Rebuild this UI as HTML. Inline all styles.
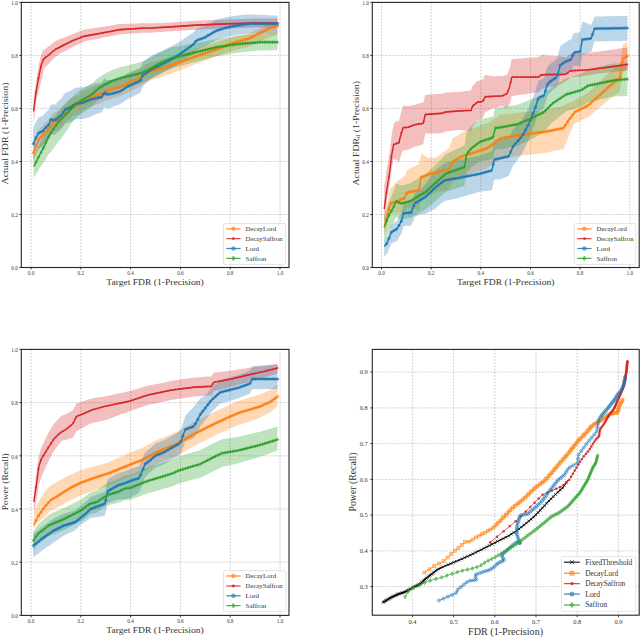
<!DOCTYPE html><html><head><meta charset="utf-8"><style>html,body{margin:0;padding:0;background:#fff;}svg{display:block;font-family:"Liberation Serif", serif;}</style></head><body><svg width="640" height="637" viewBox="0 0 640 637" font-family='"Liberation Serif", serif'>
<style>.g{stroke:#b8b8b8;stroke-width:0.7;stroke-dasharray:1.8 1.4}</style>
<rect width="640" height="637" fill="#fff"/>
<clipPath id="cTL"><rect x="21.3" y="2.4" width="267.7" height="265.1"/></clipPath>
<line x1="31" y1="2.4" x2="31" y2="267.5" class="g"/>
<line x1="80.8" y1="2.4" x2="80.8" y2="267.5" class="g"/>
<line x1="130.6" y1="2.4" x2="130.6" y2="267.5" class="g"/>
<line x1="180.4" y1="2.4" x2="180.4" y2="267.5" class="g"/>
<line x1="230.2" y1="2.4" x2="230.2" y2="267.5" class="g"/>
<line x1="280" y1="2.4" x2="280" y2="267.5" class="g"/>
<line x1="21.3" y1="267.5" x2="289" y2="267.5" class="g"/>
<line x1="21.3" y1="214.5" x2="289" y2="214.5" class="g"/>
<line x1="21.3" y1="161.5" x2="289" y2="161.5" class="g"/>
<line x1="21.3" y1="108.4" x2="289" y2="108.4" class="g"/>
<line x1="21.3" y1="55.4" x2="289" y2="55.4" class="g"/>
<line x1="21.3" y1="2.4" x2="289" y2="2.4" class="g"/>
<g clip-path="url(#cTL)">
<polygon points="33.2,143.5 33.7,142.1 34.2,140.7 34.7,139.3 35.2,137.9 35.7,136.5 36.2,135.4 36.7,134.3 37.2,133.2 37.7,132.1 38.2,131 38.7,129.9 38.8,129.6 39.2,129.2 39.7,128.7 40.2,128.1 40.7,127.6 41.2,127 41.7,126.5 42.2,125.9 42.7,125.4 43.2,124.9 43.7,124.3 43.9,124.1 44.2,123.8 44.7,123.3 45.2,122.8 45.7,122.3 46.2,121.8 46.7,121.3 47.2,120.8 47.7,120.3 48.2,119.8 48.7,119.3 49.2,118.8 49.7,118.3 50.2,117.8 50.7,116.9 51.2,115.9 51.7,114.9 52.2,113.9 52.7,112.9 53.2,112.7 53.7,112.5 54.2,112.3 54.7,112.1 55.2,111.9 55.7,111.8 56.2,111.6 56.7,111.4 57.2,111.2 57.7,111 58.2,110.6 58.7,110.1 59.2,109.7 59.7,109.3 60.2,108.8 60.7,108.4 61.2,108 61.7,107.5 62.2,107.1 62.7,106.7 63.2,106.1 63.7,105.5 64.2,104.9 64.7,104.4 65.2,103.8 65.7,103.2 66.2,102.6 66.5,102.3 66.7,102.1 67.2,101.7 67.7,101.2 68.2,100.8 68.7,100.3 69.2,99.9 69.7,99.4 70.2,99 70.7,98.5 71.2,98.1 71.7,97.6 72.2,97.2 72.7,96.7 72.8,96.6 73.2,96.6 73.7,96.5 74.2,96.4 74.7,96.3 75.2,96.2 75.7,96.1 76.2,96 76.7,95.9 77.2,95.8 77.7,95.7 78.2,95.6 78.7,95.5 79,95.4 79.2,95.2 79.7,94.7 80.2,94.2 80.7,93.7 81.2,93.2 81.7,92.7 82.2,92.1 82.7,91.6 83.1,91.2 83.2,91.2 83.7,90.9 84.2,90.7 84.7,90.5 85.2,90.2 85.7,90 86.2,89.7 86.7,89.5 87.2,89.2 87.7,89 88.2,88.8 88.7,88.5 89.2,88.3 89.4,88.2 89.7,88.1 90.2,87.9 90.7,87.7 91.2,87.5 91.7,87.3 92.2,87.1 92.7,86.9 93.2,86.7 93.7,86.5 94.2,86.3 94.7,86.1 95.2,85.9 95.7,85.7 96.2,85.6 96.7,85.4 97.2,85.3 97.7,85.1 98.2,85 98.7,84.9 99.2,84.7 99.7,84.6 100.2,84.4 100.7,84.3 101.2,84.1 101.7,84 102,83.9 102.2,83.7 102.7,83.4 103.2,83 103.7,82.7 104.2,82.3 104.5,82.1 104.7,82.1 105.2,81.9 105.7,81.8 106.2,81.6 106.7,81.5 107,81.4 107.2,81.4 107.7,81.2 108.2,81.1 108.7,80.9 109.2,80.8 109.7,80.6 110.2,80.5 110.7,80.3 111.2,80.2 111.7,80.1 112.2,79.9 112.7,79.8 113.2,79.6 113.3,79.6 113.7,79.5 114.2,79.3 114.7,79.2 115.2,79.1 115.7,78.9 116.2,78.8 116.7,78.7 117.2,78.5 117.7,78.4 118.2,78.2 118.7,78.1 119.2,78 119.7,77.8 120,77.7 120.2,77.6 120.7,77.4 121.2,77.2 121.7,76.9 122.2,76.7 122.7,76.5 123.2,76.2 123.7,76 124.2,75.8 124.7,75.5 125.2,75.3 125.7,75.1 126.2,74.8 126.7,74.6 127.2,74.3 127.7,74.1 128.2,73.9 128.7,73.7 129.2,73.5 129.7,73.2 130.2,73 130.7,72.8 131.2,72.6 131.7,72.4 132.2,72.1 132.7,71.9 133.2,71.7 133.7,71.5 134.2,71.3 134.7,71.1 135.2,70.8 135.7,70.6 136.2,70.4 136.7,70.2 137.2,70 137.7,69.8 138.2,69.5 138.7,69.3 139.2,69.1 139.7,68.9 140.2,68.7 140.3,68.6 140.7,68.3 141.2,67.8 141.7,67.4 142.2,67 142.7,66.6 143.2,66.1 143.7,65.7 144,65.4 144.2,65.4 144.7,65.1 145.2,64.9 145.7,64.6 146.2,64.4 146.7,64.1 147.2,63.9 147.7,63.7 148.2,63.4 148.7,63.2 149.2,62.9 149.7,62.7 150.2,62.5 150.3,62.4 150.7,62.3 151.2,62.2 151.7,62.1 152.2,62 152.7,61.9 153.2,61.8 153.7,61.7 154.2,61.5 154.7,61.4 155.2,61.3 155.7,61.2 156.2,61.1 156.7,61 157.2,60.9 157.7,60.8 157.8,60.7 158.2,60.6 158.7,60.5 159.2,60.4 159.7,60.2 160.2,60.1 160.7,59.9 161.2,59.8 161.7,59.7 162.2,59.5 162.7,59.4 163.2,59.3 163.7,59.1 164.2,59 164.7,58.9 165.2,58.7 165.7,58.6 166.2,58.4 166.7,58.3 167.2,58.2 167.7,58 168.2,57.9 168.7,57.8 169.2,57.6 169.7,57.5 170,57.4 170.2,57.3 170.7,57.2 171.2,57 171.7,56.8 172.2,56.7 172.7,56.5 173.2,56.3 173.7,56.2 174.2,56 174.7,55.8 175.2,55.7 175.7,55.5 176.2,55.3 176.7,55.2 177.2,55 177.7,54.8 178.2,54.7 178.7,54.5 179.2,54.3 179.7,54.2 180.2,54 180.7,53.9 181.2,53.7 181.7,53.5 182.2,53.4 182.7,53.2 183.2,53 183.7,52.9 184.2,52.7 184.7,52.5 185.2,52.4 185.7,52.2 186.2,52 186.7,51.9 187.2,51.7 187.7,51.5 188.2,51.4 188.7,51.2 189.2,51 189.7,50.9 190.2,50.7 190.7,50.5 191.2,50.4 191.7,50.2 192.2,50 192.7,49.9 193.2,49.7 193.7,49.5 194,49.4 194.2,49.4 194.7,49.2 195.2,49.1 195.7,48.9 196.2,48.7 196.7,48.6 197.2,48.4 197.7,48.3 198.2,48.1 198.7,48 199.2,47.8 199.7,47.6 200.2,47.5 200.7,47.3 201.2,47.2 201.7,47 202.2,46.8 202.7,46.7 203.2,46.5 203.7,46.4 204.2,46.2 204.7,46.1 205.2,45.9 205.7,45.7 206.2,45.6 206.7,45.4 207.2,45.3 207.7,45.1 208.2,45 208.7,44.8 209.2,44.6 209.7,44.5 210.2,44.3 210.7,44.2 211.2,44 211.7,43.9 212.2,43.7 212.7,43.5 213.2,43.4 213.7,43.2 214.2,43.1 214.7,42.9 215.2,42.8 215.7,42.6 216,42.5 216.2,42.4 216.7,42.3 217.2,42.1 217.7,41.9 218.2,41.8 218.7,41.6 219.2,41.4 219.7,41.3 220.2,41.1 220.7,41 221.2,40.8 221.7,40.6 222.2,40.5 222.7,40.3 223.2,40.1 223.7,40 224.2,39.8 224.7,39.6 225.2,39.5 225.7,39.3 226.2,39.2 226.7,39 227.2,38.8 227.7,38.7 228.2,38.5 228.7,38.3 229.2,38.2 229.7,38 230.2,37.8 230.7,37.7 231.2,37.5 231.7,37.3 232.2,37.2 232.7,37 233.2,36.9 233.5,36.8 233.7,36.7 234.2,36.6 234.7,36.5 235.2,36.4 235.7,36.2 236.2,36.1 236.7,36 237.2,35.9 237.7,35.8 238.2,35.6 238.7,35.5 239.2,35.4 239.7,35.3 240.2,35.2 240.7,35.1 241.2,34.9 241.7,34.8 242.2,34.7 242.7,34.6 243.2,34.5 243.7,34.4 244.2,34.2 244.7,34.1 245.2,34 245.7,33.9 246.2,33.8 246.7,33.7 247.2,33.5 247.7,33.4 248.2,33.3 248.7,33.2 249,33.1 249.2,33 249.7,32.8 250.2,32.6 250.7,32.3 251.2,32.1 251.7,31.9 252.2,31.7 252.7,31.4 253.2,31.2 253.7,31 254.2,30.8 254.7,30.5 255.2,30.3 255.7,30.1 256.2,29.9 256.7,29.6 257.2,29.4 257.7,29.2 258.2,29 258.7,28.7 259.2,28.5 259.7,28.3 260,28.1 260.2,28.1 260.7,27.8 261.2,27.6 261.7,27.4 262.2,27.1 262.7,26.9 263.2,26.7 263.7,26.5 264.2,26.2 264.7,26 265.2,25.8 265.7,25.5 266.2,25.3 266.7,25.1 267.2,24.9 267.7,24.6 268.2,24.4 268.7,24.2 269.2,24 269.7,23.9 270.2,23.8 270.7,23.7 271.2,23.6 271.7,23.4 272.2,23.3 272.7,23.2 273.2,23.1 273.7,22.9 274.2,22.8 274.7,22.7 275.2,22.6 275.7,22.4 276.2,22.3 276.7,22.2 277.2,22.1 277.5,22 277.5,35 277.2,35.1 276.7,35.2 276.2,35.3 275.7,35.5 275.2,35.6 274.7,35.7 274.2,35.9 273.7,36 273.2,36.1 272.7,36.3 272.2,36.4 271.7,36.5 271.2,36.7 270.7,36.8 270.2,36.9 269.7,37.1 269.2,37.2 268.7,37.3 268.2,37.6 267.7,37.8 267.2,38 266.7,38.3 266.2,38.5 265.7,38.7 265.2,39 264.7,39.2 264.2,39.4 263.7,39.7 263.2,39.9 262.7,40.2 262.2,40.4 261.7,40.6 261.2,40.9 260.7,41.1 260.2,41.3 260,41.4 259.7,41.6 259.2,41.8 258.7,42 258.2,42.3 257.7,42.5 257.2,42.7 256.7,43 256.2,43.2 255.7,43.4 255.2,43.7 254.7,43.9 254.2,44.1 253.7,44.4 253.2,44.6 252.7,44.8 252.2,45.1 251.7,45.3 251.2,45.5 250.7,45.8 250.2,46 249.7,46.2 249.2,46.5 249,46.6 248.7,46.6 248.2,46.8 247.7,46.9 247.2,47 246.7,47.2 246.2,47.3 245.7,47.4 245.2,47.5 244.7,47.7 244.2,47.8 243.7,47.9 243.2,48 242.7,48.2 242.2,48.3 241.7,48.4 241.2,48.5 240.7,48.7 240.2,48.8 239.7,48.9 239.2,49 238.7,49.2 238.2,49.3 237.7,49.4 237.2,49.5 236.7,49.7 236.2,49.8 235.7,49.9 235.2,50 234.7,50.2 234.2,50.3 233.7,50.4 233.5,50.5 233.2,50.6 232.7,50.7 232.2,50.9 231.7,51.1 231.2,51.3 230.7,51.4 230.2,51.6 229.7,51.8 229.2,52 228.7,52.1 228.2,52.3 227.7,52.5 227.2,52.6 226.7,52.8 226.2,53 225.7,53.2 225.2,53.3 224.7,53.5 224.2,53.7 223.7,53.8 223.2,54 222.7,54.2 222.2,54.4 221.7,54.5 221.2,54.7 220.7,54.9 220.2,55.1 219.7,55.2 219.2,55.4 218.7,55.6 218.2,55.7 217.7,55.9 217.2,56.1 216.7,56.3 216.2,56.4 216,56.5 215.7,56.6 215.2,56.8 214.7,57 214.2,57.2 213.7,57.4 213.2,57.6 212.7,57.7 212.2,57.9 211.7,58.1 211.2,58.3 210.7,58.5 210.2,58.7 209.7,58.9 209.2,59.1 208.7,59.2 208.2,59.4 207.7,59.6 207.2,59.8 206.7,60 206.2,60.2 205.7,60.4 205.2,60.6 204.7,60.7 204.2,60.9 203.7,61.1 203.2,61.3 202.7,61.5 202.2,61.7 201.7,61.9 201.2,62.1 200.7,62.2 200.2,62.4 199.7,62.6 199.2,62.8 198.7,63 198.2,63.2 197.7,63.4 197.2,63.6 196.7,63.8 196.2,63.9 195.7,64.1 195.2,64.3 194.7,64.5 194.2,64.7 194,64.8 193.7,64.9 193.2,65.1 192.7,65.3 192.2,65.5 191.7,65.7 191.2,65.9 190.7,66.1 190.2,66.3 189.7,66.5 189.2,66.7 188.7,66.8 188.2,67 187.7,67.2 187.2,67.4 186.7,67.6 186.2,67.8 185.7,68 185.2,68.2 184.7,68.4 184.2,68.6 183.7,68.8 183.2,69 182.7,69.2 182.2,69.4 181.7,69.6 181.2,69.8 180.7,70 180.2,70.2 179.7,70.4 179.2,70.6 178.7,70.8 178.2,71 177.7,71.2 177.2,71.4 176.7,71.6 176.2,71.8 175.7,72 175.2,72.2 174.7,72.3 174.2,72.5 173.7,72.7 173.2,72.9 172.7,73.1 172.2,73.3 171.7,73.5 171.2,73.7 170.7,73.9 170.2,74.1 170,74.2 169.7,74.3 169.2,74.5 168.7,74.6 168.2,74.8 167.7,75 167.2,75.1 166.7,75.3 166.2,75.5 165.7,75.6 165.2,75.8 164.7,76 164.2,76.1 163.7,76.3 163.2,76.5 162.7,76.6 162.2,76.8 161.7,77 161.2,77.1 160.7,77.3 160.2,77.5 159.7,77.6 159.2,77.8 158.7,78 158.2,78.1 157.8,78.3 157.7,78.3 157.2,78.4 156.7,78.6 156.2,78.7 155.7,78.9 155.2,79 154.7,79.1 154.2,79.3 153.7,79.4 153.2,79.6 152.7,79.7 152.2,79.9 151.7,80 151.2,80.1 150.7,80.3 150.3,80.4 150.2,80.4 149.7,80.7 149.2,80.9 148.7,81.2 148.2,81.4 147.7,81.7 147.2,81.9 146.7,82.2 146.2,82.4 145.7,82.7 145.2,83 144.7,83.2 144.2,83.5 144,83.6 143.7,83.8 143.2,84.3 142.7,84.7 142.2,85.1 141.7,85.6 141.2,86 140.7,86.4 140.3,86.8 140.2,86.8 139.7,87.1 139.2,87.3 138.7,87.5 138.2,87.7 137.7,88 137.2,88.2 136.7,88.4 136.2,88.6 135.7,88.9 135.2,89.1 134.7,89.3 134.2,89.5 133.7,89.8 133.2,90 132.7,90.2 132.2,90.5 131.7,90.7 131.2,90.9 130.7,91.1 130.2,91.4 129.7,91.6 129.2,91.8 128.7,92 128.2,92.3 127.7,92.5 127.2,92.7 126.7,93 126.2,93.2 125.7,93.5 125.2,93.7 124.7,94 124.2,94.2 123.7,94.4 123.2,94.7 122.7,94.9 122.2,95.2 121.7,95.4 121.2,95.7 120.7,95.9 120.2,96.2 120,96.3 119.7,96.3 119.2,96.5 118.7,96.6 118.2,96.8 117.7,96.9 117.2,97.1 116.7,97.2 116.2,97.4 115.7,97.5 115.2,97.7 114.7,97.8 114.2,98 113.7,98.1 113.3,98.2 113.2,98.2 112.7,98.4 112.2,98.6 111.7,98.7 111.2,98.9 110.7,99 110.2,99.2 109.7,99.3 109.2,99.5 108.7,99.6 108.2,99.8 107.7,100 107.2,100.1 107,100.2 106.7,100.3 106.2,100.4 105.7,100.5 105.2,100.7 104.7,100.8 104.5,100.9 104.2,101.1 103.7,101.5 103.2,101.8 102.7,102.2 102.2,102.6 102,102.7 101.7,102.8 101.2,103 100.7,103.1 100.2,103.3 99.7,103.4 99.2,103.6 98.7,103.7 98.2,103.9 97.7,104 97.2,104.2 96.7,104.4 96.2,104.5 95.7,104.7 95.2,104.9 94.7,105.1 94.2,105.3 93.7,105.5 93.2,105.7 92.7,105.9 92.2,106.1 91.7,106.3 91.2,106.5 90.7,106.7 90.2,106.9 89.7,107.1 89.4,107.2 89.2,107.3 88.7,107.6 88.2,107.8 87.7,108.1 87.2,108.3 86.7,108.6 86.2,108.8 85.7,109.1 85.2,109.3 84.7,109.6 84.2,109.8 83.7,110.1 83.2,110.3 83.1,110.4 82.7,110.8 82.2,111.3 81.7,111.8 81.2,112.3 80.7,112.9 80.2,113.4 79.7,113.9 79.2,114.4 79,114.6 78.7,114.7 78.2,114.8 77.7,114.9 77.2,115 76.7,115.1 76.2,115.2 75.7,115.3 75.2,115.4 74.7,115.5 74.2,115.7 73.7,115.8 73.2,115.9 72.8,116 72.7,116.1 72.2,116.5 71.7,117 71.2,117.4 70.7,117.9 70.2,118.3 69.7,118.8 69.2,119.2 68.7,119.7 68.2,120.2 67.7,120.6 67.2,121.1 66.7,121.5 66.5,121.7 66.2,122.1 65.7,122.6 65.2,123.2 64.7,123.8 64.2,124.4 63.7,125 63.2,125.6 62.7,126.1 62.2,126.6 61.7,127 61.2,127.5 60.7,127.9 60.2,128.4 59.7,128.8 59.2,129.3 58.7,129.7 58.2,130.1 57.7,130.6 57.2,130.8 56.7,131 56.2,131.2 55.7,131.4 55.2,131.6 54.7,131.8 54.2,131.9 53.7,132.1 53.2,132.3 52.7,132.5 52.2,133.5 51.7,134.5 51.2,135.5 50.7,136.5 50.2,137.6 49.7,138.1 49.2,138.6 48.7,139.1 48.2,139.6 47.7,140.1 47.2,140.6 46.7,141.1 46.2,141.6 45.7,142.1 45.2,142.6 44.7,143.1 44.2,143.6 43.9,143.9 43.7,144.1 43.2,144.7 42.7,145.2 42.2,145.8 41.7,146.3 41.2,146.9 40.7,147.4 40.2,148 39.7,148.6 39.2,149.1 38.8,149.6 38.7,149.8 38.2,150.9 37.7,152 37.2,153.1 36.7,154.2 36.2,155.4 35.7,156.5 35.2,157.9 34.7,159.3 34.2,160.7 33.7,162.1 33.2,163.5" fill="#ff7f0e" fill-opacity="0.3" stroke="none"/>
<polygon points="33.6,100.4 34.1,96.5 34.6,92.7 35.1,88.8 35.6,84.9 35.8,83.3 36.1,81.6 36.6,78.4 37.1,75.2 37.6,71.9 38.1,68.7 38.6,65.6 38.7,65.1 39.1,63.5 39.6,61.4 40.1,59.3 40.6,57.3 41.1,55.2 41.3,54.4 41.6,53.8 42.1,52.9 42.6,51.9 43.1,50.9 43.6,49.9 43.7,49.8 44.1,49.6 44.6,49.2 45.1,48.9 45.6,48.5 46.1,48.2 46.6,47.8 47.1,47.5 47.5,47.2 47.6,47.1 48.1,46.7 48.6,46.3 49.1,45.9 49.6,45.5 50.1,45.2 50.6,44.8 51.1,44.4 51.6,44 52.1,43.6 52.6,43.2 53.1,42.8 53.6,42.4 54.1,42 54.6,41.6 55.1,41.2 55.2,41.2 55.6,41 56.1,40.7 56.6,40.5 57.1,40.3 57.6,40.1 58.1,39.8 58.6,39.6 59.1,39.4 59.6,39.2 60.1,38.9 60.6,38.7 61.1,38.5 61.6,38.3 62.1,38.1 62.6,37.9 63.1,37.8 63.6,37.6 64,37.4 64.1,37.4 64.6,37.2 65.1,37 65.6,36.9 66.1,36.7 66.6,36.5 67.1,36.3 67.6,36.2 68.1,36 68.6,35.8 69.1,35.6 69.6,35.5 70.1,35.3 70.6,35 71.1,34.8 71.6,34.6 72.1,34.3 72.6,34.1 72.7,34 73.1,33.9 73.6,33.7 74.1,33.5 74.6,33.3 75.1,33.1 75.6,32.9 76.1,32.7 76.6,32.5 77.1,32.3 77.6,32.1 78.1,31.9 78.6,31.7 79.1,31.5 79.6,31.3 80.1,31.2 80.6,31 81.1,30.8 81.6,30.6 82.1,30.4 82.6,30.2 83.1,30 83.6,29.8 83.7,29.8 84.1,29.7 84.6,29.6 85.1,29.5 85.6,29.4 86.1,29.4 86.6,29.3 87.1,29.2 87.6,29.1 88.1,29 88.6,29 89.1,28.9 89.6,28.8 90.1,28.8 90.6,28.7 91.1,28.6 91.6,28.5 92.1,28.5 92.6,28.4 93.1,28.3 93.6,28.2 94.1,28.2 94.6,28.1 95.1,28 95.6,28 96.1,27.9 96.6,27.8 97,27.8 97.1,27.7 97.6,27.7 98.1,27.6 98.6,27.5 99.1,27.4 99.6,27.3 100.1,27.2 100.6,27.2 101.1,27.1 101.6,27 102.1,26.9 102.6,26.8 103.1,26.8 103.6,26.7 104.1,26.6 104.6,26.5 105.1,26.4 105.6,26.3 106.1,26.3 106.6,26.2 107.1,26.1 107.6,26 108,26 108.1,25.9 108.6,25.9 109.1,25.8 109.6,25.7 110.1,25.6 110.6,25.5 111.1,25.4 111.6,25.3 112.1,25.2 112.6,25.2 113.1,25.1 113.6,25 114.1,24.9 114.6,24.8 115.1,24.7 115.6,24.6 116.1,24.6 116.6,24.5 117.1,24.4 117.6,24.3 118.1,24.2 118.6,24.1 119,24.1 119.1,24.1 119.6,24 120.1,24 120.6,24 121.1,24 121.6,24 122.1,23.9 122.6,23.9 123.1,23.9 123.6,23.9 124.1,23.9 124.6,23.9 125.1,23.8 125.6,23.8 126.1,23.8 126.6,23.8 127.1,23.8 127.6,23.8 128.1,23.7 128.6,23.7 129.1,23.7 129.6,23.7 130,23.7 130.1,23.7 130.6,23.6 131.1,23.6 131.6,23.6 132.1,23.6 132.6,23.6 133.1,23.5 133.6,23.5 134.1,23.5 134.6,23.5 135.1,23.5 135.6,23.4 136.1,23.4 136.6,23.4 137.1,23.4 137.6,23.4 138.1,23.3 138.6,23.3 139.1,23.3 139.6,23.3 140.1,23.2 140.6,23.2 141.1,23.2 141.6,23.2 142.1,23.2 142.6,23.1 143,23.1 143.1,23.1 143.6,23.1 144.1,23.2 144.6,23.2 145.1,23.2 145.6,23.2 146.1,23.2 146.6,23.2 147.1,23.2 147.6,23.3 148.1,23.3 148.6,23.3 149.1,23.3 149.6,23.3 150,23.3 150.1,23.3 150.6,23.3 151.1,23.3 151.6,23.3 152.1,23.3 152.6,23.2 153.1,23.2 153.6,23.2 154.1,23.2 154.6,23.2 155.1,23.2 155.6,23.1 156.1,23.1 156.6,23.1 157.1,23.1 157.6,23.1 158.1,23.1 158.6,23.1 159.1,23 159.6,23 160.1,23 160.6,23 161.1,22.9 161.6,22.9 162.1,22.9 162.6,22.9 163.1,22.8 163.6,22.8 164.1,22.8 164.6,22.7 165.1,22.7 165.6,22.7 166.1,22.7 166.6,22.6 167.1,22.6 167.6,22.6 168.1,22.5 168.6,22.5 169.1,22.5 169.6,22.4 170.1,22.4 170.6,22.4 171.1,22.4 171.6,22.3 172,22.3 172.1,22.3 172.6,22.3 173.1,22.2 173.6,22.2 174.1,22.2 174.6,22.1 175.1,22.1 175.6,22.1 176.1,22 176.6,22 177.1,22 177.6,21.9 178.1,21.9 178.6,21.9 179.1,21.8 179.6,21.8 180.1,21.8 180.6,21.7 181.1,21.7 181.6,21.7 182.1,21.6 182.6,21.6 183.1,21.6 183.6,21.5 184.1,21.5 184.6,21.5 185.1,21.4 185.6,21.4 186.1,21.4 186.6,21.3 187.1,21.3 187.6,21.3 188.1,21.2 188.6,21.2 189.1,21.2 189.6,21.1 190.1,21.1 190.6,21.1 191.1,21 191.6,21 192.1,21 192.6,20.9 193.1,20.9 193.6,20.9 194,20.8 194.1,20.8 194.6,20.8 195.1,20.8 195.6,20.8 196.1,20.7 196.6,20.7 197.1,20.7 197.6,20.7 198.1,20.6 198.6,20.6 199.1,20.6 199.6,20.6 200.1,20.5 200.6,20.5 201.1,20.5 201.6,20.5 202.1,20.4 202.6,20.4 203.1,20.4 203.6,20.4 204.1,20.3 204.6,20.3 205.1,20.3 205.6,20.3 206.1,20.2 206.6,20.2 207.1,20.2 207.6,20.2 208.1,20.1 208.6,20.1 209.1,20.1 209.6,20.1 210.1,20 210.6,20 211.1,20 211.6,20 212.1,19.9 212.6,19.9 213.1,19.9 213.6,19.9 214.1,19.8 214.6,19.8 215.1,19.8 215.6,19.8 216,19.7 216.1,19.7 216.6,19.7 217.1,19.7 217.6,19.7 218.1,19.7 218.6,19.7 219.1,19.7 219.6,19.6 220.1,19.6 220.6,19.6 221.1,19.6 221.6,19.6 222.1,19.6 222.6,19.5 223.1,19.5 223.6,19.5 224.1,19.5 224.6,19.5 225.1,19.5 225.6,19.5 226.1,19.4 226.6,19.4 227.1,19.4 227.6,19.4 228.1,19.4 228.6,19.4 229.1,19.3 229.6,19.3 230.1,19.3 230.6,19.3 231.1,19.3 231.6,19.3 232.1,19.2 232.6,19.2 233.1,19.2 233.6,19.2 234.1,19.2 234.6,19.2 235.1,19.2 235.6,19.1 236.1,19.1 236.6,19.1 237.1,19.1 237.6,19.1 238,19.1 238.1,19.1 238.6,19.1 239.1,19 239.6,19 240.1,19 240.6,19 241.1,19 241.6,19 242.1,19 242.6,18.9 243.1,18.9 243.6,18.9 244.1,18.9 244.6,18.9 245.1,18.9 245.6,18.9 246.1,18.9 246.6,18.8 247.1,18.8 247.6,18.8 248.1,18.8 248.6,18.8 249.1,18.8 249.6,18.8 250.1,18.7 250.6,18.7 251.1,18.7 251.6,18.7 252.1,18.7 252.6,18.7 253.1,18.7 253.6,18.7 254.1,18.6 254.6,18.6 255.1,18.6 255.6,18.6 256.1,18.6 256.6,18.6 257.1,18.6 257.6,18.5 258.1,18.5 258.6,18.5 259.1,18.5 259.6,18.5 260,18.5 260.1,18.5 260.6,18.5 261.1,18.5 261.6,18.5 262.1,18.5 262.6,18.5 263.1,18.5 263.6,18.5 264.1,18.5 264.6,18.5 265.1,18.5 265.6,18.5 266.1,18.5 266.6,18.5 267.1,18.5 267.6,18.5 268.1,18.5 268.6,18.5 269.1,18.5 269.6,18.5 270.1,18.5 270.6,18.5 271.1,18.5 271.6,18.5 272.1,18.5 272.6,18.5 273.1,18.5 273.6,18.5 274.1,18.5 274.6,18.5 275.1,18.5 275.6,18.5 276.1,18.5 276.6,18.5 277.1,18.5 277.5,18.5 277.5,27.5 277.1,27.5 276.6,27.5 276.1,27.5 275.6,27.5 275.1,27.5 274.6,27.5 274.1,27.5 273.6,27.5 273.1,27.5 272.6,27.5 272.1,27.5 271.6,27.5 271.1,27.5 270.6,27.5 270.1,27.5 269.6,27.5 269.1,27.5 268.6,27.5 268.1,27.5 267.6,27.5 267.1,27.5 266.6,27.5 266.1,27.5 265.6,27.5 265.1,27.5 264.6,27.5 264.1,27.5 263.6,27.5 263.1,27.5 262.6,27.5 262.1,27.5 261.6,27.5 261.1,27.5 260.6,27.5 260.1,27.5 260,27.5 259.6,27.5 259.1,27.5 258.6,27.5 258.1,27.5 257.6,27.5 257.1,27.6 256.6,27.6 256.1,27.6 255.6,27.6 255.1,27.6 254.6,27.6 254.1,27.6 253.6,27.7 253.1,27.7 252.6,27.7 252.1,27.7 251.6,27.7 251.1,27.7 250.6,27.7 250.1,27.7 249.6,27.8 249.1,27.8 248.6,27.8 248.1,27.8 247.6,27.8 247.1,27.8 246.6,27.8 246.1,27.9 245.6,27.9 245.1,27.9 244.6,27.9 244.1,27.9 243.6,27.9 243.1,27.9 242.6,27.9 242.1,28 241.6,28 241.1,28 240.6,28 240.1,28 239.6,28 239.1,28 238.6,28.1 238.1,28.1 238,28.1 237.6,28.1 237.1,28.1 236.6,28.1 236.1,28.1 235.6,28.1 235.1,28.2 234.6,28.2 234.1,28.2 233.6,28.2 233.1,28.2 232.6,28.2 232.1,28.2 231.6,28.3 231.1,28.3 230.6,28.3 230.1,28.3 229.6,28.3 229.1,28.3 228.6,28.4 228.1,28.4 227.6,28.4 227.1,28.4 226.6,28.4 226.1,28.4 225.6,28.5 225.1,28.5 224.6,28.5 224.1,28.5 223.6,28.5 223.1,28.5 222.6,28.5 222.1,28.6 221.6,28.6 221.1,28.6 220.6,28.6 220.1,28.6 219.6,28.6 219.1,28.7 218.6,28.7 218.1,28.7 217.6,28.7 217.1,28.7 216.6,28.7 216.1,28.7 216,28.7 215.6,28.8 215.1,28.8 214.6,28.8 214.1,28.8 213.6,28.9 213.1,28.9 212.6,28.9 212.1,28.9 211.6,29 211.1,29 210.6,29 210.1,29 209.6,29.1 209.1,29.1 208.6,29.1 208.1,29.1 207.6,29.2 207.1,29.2 206.6,29.2 206.1,29.2 205.6,29.3 205.1,29.3 204.6,29.3 204.1,29.3 203.6,29.4 203.1,29.4 202.6,29.4 202.1,29.4 201.6,29.5 201.1,29.5 200.6,29.5 200.1,29.5 199.6,29.6 199.1,29.6 198.6,29.6 198.1,29.6 197.6,29.7 197.1,29.7 196.6,29.7 196.1,29.7 195.6,29.8 195.1,29.8 194.6,29.8 194.1,29.8 194,29.8 193.6,29.9 193.1,29.9 192.6,29.9 192.1,30 191.6,30 191.1,30 190.6,30.1 190.1,30.1 189.6,30.1 189.1,30.2 188.6,30.2 188.1,30.2 187.6,30.3 187.1,30.3 186.6,30.3 186.1,30.4 185.6,30.4 185.1,30.4 184.6,30.5 184.1,30.5 183.6,30.5 183.1,30.6 182.6,30.6 182.1,30.6 181.6,30.7 181.1,30.7 180.6,30.7 180.1,30.8 179.6,30.8 179.1,30.8 178.6,30.9 178.1,30.9 177.6,30.9 177.1,31 176.6,31 176.1,31 175.6,31.1 175.1,31.1 174.6,31.1 174.1,31.2 173.6,31.2 173.1,31.2 172.6,31.3 172.1,31.3 172,31.3 171.6,31.3 171.1,31.4 170.6,31.4 170.1,31.4 169.6,31.4 169.1,31.5 168.6,31.5 168.1,31.5 167.6,31.6 167.1,31.6 166.6,31.6 166.1,31.7 165.6,31.7 165.1,31.7 164.6,31.7 164.1,31.8 163.6,31.8 163.1,31.8 162.6,31.9 162.1,31.9 161.6,31.9 161.1,31.9 160.6,32 160.1,32 159.6,32 159.1,32.1 158.6,32.1 158.1,32.1 157.6,32.2 157.1,32.2 156.6,32.2 156.1,32.3 155.6,32.3 155.1,32.3 154.6,32.4 154.1,32.4 153.6,32.4 153.1,32.5 152.6,32.5 152.1,32.5 151.6,32.6 151.1,32.6 150.6,32.6 150.1,32.7 150,32.7 149.6,32.7 149.1,32.7 148.6,32.7 148.1,32.7 147.6,32.7 147.1,32.7 146.6,32.7 146.1,32.7 145.6,32.7 145.1,32.7 144.6,32.7 144.1,32.7 143.6,32.7 143.1,32.7 143,32.7 142.6,32.7 142.1,32.8 141.6,32.8 141.1,32.9 140.6,32.9 140.1,32.9 139.6,33 139.1,33 138.6,33.1 138.1,33.1 137.6,33.1 137.1,33.2 136.6,33.2 136.1,33.2 135.6,33.3 135.1,33.3 134.6,33.4 134.1,33.4 133.6,33.4 133.1,33.5 132.6,33.5 132.1,33.5 131.6,33.6 131.1,33.6 130.6,33.7 130.1,33.7 130,33.7 129.6,33.7 129.1,33.8 128.6,33.8 128.1,33.8 127.6,33.9 127.1,33.9 126.6,33.9 126.1,34 125.6,34 125.1,34.1 124.6,34.1 124.1,34.1 123.6,34.2 123.1,34.2 122.6,34.2 122.1,34.3 121.6,34.3 121.1,34.3 120.6,34.4 120.1,34.4 119.6,34.4 119.1,34.5 119,34.5 118.6,34.6 118.1,34.7 117.6,34.8 117.1,34.9 116.6,35 116.1,35.1 115.6,35.2 115.1,35.3 114.6,35.4 114.1,35.5 113.6,35.6 113.1,35.7 112.6,35.8 112.1,35.9 111.6,36 111.1,36.1 110.6,36.2 110.1,36.3 109.6,36.4 109.1,36.5 108.6,36.6 108.1,36.7 108,36.8 107.6,36.8 107.1,36.9 106.6,37 106.1,37.1 105.6,37.2 105.1,37.3 104.6,37.4 104.1,37.5 103.6,37.6 103.1,37.7 102.6,37.8 102.1,37.9 101.6,38 101.1,38.1 100.6,38.2 100.1,38.3 99.6,38.4 99.1,38.5 98.6,38.6 98.1,38.7 97.6,38.8 97.1,38.9 97,38.9 96.6,39 96.1,39.1 95.6,39.2 95.1,39.3 94.6,39.4 94.1,39.5 93.6,39.5 93.1,39.6 92.6,39.7 92.1,39.8 91.6,39.9 91.1,40 90.6,40.1 90.1,40.2 89.6,40.3 89.1,40.4 88.6,40.4 88.1,40.5 87.6,40.7 87.1,40.8 86.6,40.9 86.1,41 85.6,41.2 85.1,41.3 84.6,41.4 84.1,41.6 83.7,41.7 83.6,41.7 83.1,41.9 82.6,42.2 82.1,42.4 81.6,42.7 81.1,42.9 80.6,43.2 80.1,43.4 79.6,43.6 79.1,43.9 78.6,44.1 78.1,44.4 77.6,44.6 77.1,44.8 76.6,45.1 76.1,45.3 75.6,45.6 75.1,45.8 74.6,46.1 74.1,46.3 73.6,46.5 73.1,46.8 72.7,47 72.6,47 72.1,47.3 71.6,47.6 71.1,47.9 70.6,48.2 70.1,48.5 69.6,48.7 69.1,49 68.6,49.2 68.1,49.5 67.6,49.7 67.1,50 66.6,50.2 66.1,50.5 65.6,50.7 65.1,51 64.6,51.2 64.1,51.5 64,51.5 63.6,51.7 63.1,52 62.6,52.2 62.1,52.5 61.6,52.7 61.1,53 60.6,53.3 60.1,53.7 59.6,54 59.1,54.4 58.6,54.7 58.1,55.1 57.6,55.4 57.1,55.8 56.6,56.1 56.1,56.5 55.6,56.8 55.2,57.1 55.1,57.2 54.6,57.7 54.1,58.2 53.6,58.8 53.1,59.3 52.6,59.8 52.1,60.3 51.6,60.8 51.1,61.3 50.6,61.9 50.1,62.4 49.6,62.9 49.1,63.5 48.6,64 48.1,64.6 47.6,65.1 47.5,65.2 47.1,65.6 46.6,66.1 46.1,66.6 45.6,67.1 45.1,67.6 44.6,68.1 44.1,68.6 43.7,69.8 43.6,70.3 43.1,73.1 42.6,75.8 42.1,78.5 41.6,79.8 41.3,80.4 41.1,81.2 40.6,83.3 40.1,85.3 39.6,87.4 39.1,89.5 38.7,91.1 38.6,91.6 38.1,93.8 37.6,95.8 37.1,97.8 36.6,99.8 36.1,101.9 35.8,103.6 35.6,105.5 35.1,110.2 34.6,114.9 34.1,119.6 33.6,124.3" fill="#d62728" fill-opacity="0.3" stroke="none"/>
<polygon points="33.2,128.5 33.7,127.2 34.2,126 34.7,124.7 35.2,123.4 35.7,122.2 36.2,121.3 36.7,120.5 37.2,119.7 37.7,118.9 38.2,118 38.7,117.2 38.8,117 39.2,116.9 39.7,116.8 40.2,116.7 40.7,116.6 41.2,116.4 41.7,116.3 42.2,116.2 42.6,116.1 42.7,115.9 43.2,115.3 43.7,114.7 44.2,114 44.7,113.4 45,113 45.2,112.8 45.7,112.4 46.2,111.9 46.7,111.5 47.2,111 47.7,110.6 48.2,110.2 48.7,109.7 49,109.4 49.2,108.9 49.7,107.5 50.2,106.1 50.7,104.7 50.8,104.4 51.2,104.4 51.7,104.4 52.2,104.4 52.7,104.4 53.2,104.4 53.7,104.4 54.2,104.4 54.7,104.4 55.2,104.4 55.7,103.9 56.2,103.4 56.7,102.9 57.2,102.4 57.7,102 58.2,101.5 58.7,101 59.2,100.5 59.7,100 60.2,99.5 60.7,99 61.2,98.5 61.5,98.2 61.7,97.9 62.2,97.1 62.7,96.3 63.2,95.5 63.7,94.8 64.2,94.1 64.7,93.4 65.2,92.7 65.7,92.5 66.2,92.4 66.7,92.2 67.2,92.1 67.7,91.9 68.2,91.7 68.7,91.6 69.2,91.4 69.7,91.3 70.2,91.1 70.7,90.8 71.2,90.5 71.7,90.1 72.2,89.8 72.7,89.5 73.2,89.1 73.7,88.8 74.2,88.4 74.7,88.1 75.2,87.8 75.3,87.7 75.7,87.7 76.2,87.7 76.7,87.6 77.2,87.6 77.7,87.6 78.2,87.5 78.7,87.5 79.2,87.5 79.7,87.4 80.2,87.4 80.7,87.3 81.2,87.3 81.7,87.3 82.2,87.2 82.7,87.2 83.1,87.2 83.2,87.2 83.7,87 84.2,86.8 84.7,86.7 85.2,86.5 85.7,86.3 86.2,86.2 86.7,86 87.2,85.9 87.7,85.7 88.2,85.5 88.7,85.4 89.2,85.2 89.7,85 90.2,84.9 90.7,84.7 91.2,84.5 91.7,84.3 92.2,84.1 92.6,84 92.7,84 93.2,83.9 93.7,83.8 94.2,83.7 94.7,83.7 95.2,83.6 95.7,83.5 96.2,83.4 96.7,83.3 97.2,83.3 97.7,83.2 98.2,83.1 98.7,83 99.2,82.9 99.7,82.9 100.2,82.8 100.7,82.7 101.2,82.6 101.7,82.5 102,82.5 102.2,82.1 102.7,81.1 103.2,80.1 103.7,79.1 104.2,78.2 104.5,77.6 104.7,77.9 105.2,78.5 105.7,79.2 106.2,79.9 106.4,80.2 106.7,80.1 107.2,80.1 107.7,80.1 108.2,80 108.7,80 109.2,79.9 109.7,79.9 110.2,79.9 110.7,79.8 111.2,79.8 111.4,79.8 111.7,79.7 112.2,79.6 112.7,79.4 113.2,79.3 113.7,79.2 114.2,79.1 114.7,78.9 115.2,78.8 115.7,78.7 116.2,78.6 116.7,78.4 117.2,78.3 117.7,78.2 118.2,78.1 118.7,77.9 119.2,77.8 119.7,77.7 120,77.6 120.2,77.5 120.7,77.2 121.2,76.9 121.7,76.6 122.2,76.3 122.7,76 123.2,75.7 123.7,75.4 124.2,75.1 124.7,74.8 125.2,74.5 125.7,74.2 126.2,73.9 126.7,73.6 127.2,73.3 127.7,73 128.2,72.8 128.7,72.6 129.2,72.4 129.7,72.2 130.2,72 130.7,71.8 131.2,71.6 131.7,71.4 132.2,71.2 132.7,70.9 133.2,70.7 133.7,70.5 134.2,70.3 134.7,70.1 135.2,69.9 135.7,69.7 136.2,69.5 136.7,69.3 137.2,69.1 137.7,68.9 138.2,68.7 138.7,68.5 139.2,68.3 139.7,68.1 140.2,67.8 140.3,67.8 140.7,66.8 141.2,65.7 141.7,64.5 142.2,63.3 142.7,62.2 142.8,61.9 143.2,61.6 143.7,61.2 144.2,60.8 144.7,60.5 145.2,60.1 145.7,59.7 146.2,59.3 146.7,58.9 147.2,58.5 147.7,58.2 148.2,57.8 148.7,57.4 149.2,57 149.7,56.6 150.2,56.3 150.3,56.2 150.7,56 151.2,55.8 151.7,55.6 152.2,55.3 152.7,55.1 153.2,54.9 153.7,54.7 154.2,54.4 154.7,54.2 155.2,54 155.7,53.7 156.2,53.5 156.7,53.3 157.2,53 157.7,52.8 158.2,52.6 158.7,52.4 159.2,52.1 159.7,51.9 160.2,51.7 160.4,51.6 160.7,51.4 161.2,51.2 161.7,50.9 162.2,50.7 162.7,50.5 163.2,50.2 163.7,50 164.2,49.7 164.7,49.5 165.2,49.2 165.7,49 166.2,48.8 166.7,48.5 167.2,48.3 167.7,48 168.2,47.8 168.7,47.5 169.2,47.3 169.7,47.1 170,46.9 170.2,46.8 170.7,46.5 171.2,46.3 171.7,46 172.2,45.7 172.7,45.5 173.2,45.2 173.7,44.9 174.2,44.7 174.7,44.4 175.2,44.1 175.7,43.9 176.2,43.6 176.7,43.3 177.2,43.1 177.7,42.8 178.2,42.5 178.6,42.3 178.7,42.2 179.2,41.9 179.7,41.6 180.2,41.2 180.7,40.9 181.2,40.6 181.7,40.2 182.2,39.9 182.7,39.6 183.2,39.2 183.7,38.9 184.2,38.6 184.7,38.2 185.2,37.9 185.7,37.6 186.2,37.2 186.7,36.9 187.2,36.5 187.7,36.2 188.2,35.9 188.7,35.5 189.2,35.2 189.7,34.9 190.2,34.5 190.7,34.2 191.2,33.9 191.7,33.5 192.2,33.2 192.7,32.9 193.2,32.5 193.7,32.2 194,32 194.2,31.7 194.7,30.9 195.2,30.1 195.7,29.3 196,28.8 196.2,28.7 196.7,28.6 197.2,28.4 197.7,28.3 198.2,28.1 198.7,27.9 199.2,27.8 199.7,27.6 200.2,27.5 200.7,27.3 201.2,27.1 201.7,27 202.2,26.8 202.7,26.7 203.2,26.5 203.7,26.3 204.2,26.2 204.7,26 205,25.9 205.2,25.8 205.7,25.5 206.2,25.3 206.7,25 207.2,24.7 207.7,24.4 208.2,24.2 208.7,23.9 209.2,23.6 209.7,23.3 210.2,23.1 210.7,22.8 211.2,22.5 211.7,22.2 212.2,22 212.7,21.7 213.2,21.4 213.7,21.1 214.2,20.8 214.7,20.6 215.2,20.3 215.7,20 216,19.9 216.2,19.8 216.7,19.7 217.2,19.6 217.7,19.4 218.2,19.3 218.7,19.2 219.2,19 219.7,18.9 220.2,18.8 220.7,18.7 221.2,18.5 221.7,18.4 222.2,18.3 222.7,18.2 223.2,18 223.7,17.9 224.2,17.8 224.7,17.7 225.2,17.5 225.7,17.4 226.2,17.3 226.7,17.2 227,17.1 227.2,17.1 227.7,17 228.2,16.9 228.7,16.8 229.2,16.7 229.7,16.7 230.2,16.6 230.7,16.5 231.2,16.4 231.7,16.4 232.2,16.3 232.7,16.2 233.2,16.1 233.7,16.1 234.2,16 234.7,15.9 235.2,15.8 235.7,15.8 236.2,15.7 236.7,15.6 237.2,15.5 237.7,15.5 238,15.4 238.2,15.4 238.7,15.3 239.2,15.3 239.7,15.2 240.2,15.2 240.7,15.1 241.2,15.1 241.7,15 242.2,15 242.7,14.9 243.2,14.9 243.7,14.9 244.2,14.8 244.7,14.8 245.2,14.7 245.7,14.7 246.2,14.6 246.7,14.6 247.2,14.5 247.7,14.5 248.2,14.4 248.7,14.4 249,14.3 249.2,14.3 249.7,14.4 250.2,14.4 250.7,14.4 251.2,14.4 251.7,14.5 252.2,14.5 252.7,14.5 253.2,14.5 253.7,14.6 254.2,14.6 254.7,14.6 255.2,14.6 255.7,14.7 256.2,14.7 256.7,14.7 257.2,14.7 257.7,14.8 258.2,14.8 258.7,14.8 259.2,14.8 259.7,14.8 260.2,14.9 260.7,14.9 261.2,14.9 261.7,14.9 262.2,15 262.7,15 263.2,15 263.7,15 264.2,15.1 264.7,15.1 265.2,15.1 265.7,15.1 266.2,15.2 266.7,15.2 267.2,15.2 267.7,15.2 268.2,15.3 268.7,15.3 269.2,15.3 269.7,15.3 270.2,15.4 270.7,15.4 271.2,15.4 271.7,15.4 272.2,15.4 272.7,15.5 273.2,15.5 273.7,15.5 274.2,15.5 274.7,15.6 275.2,15.6 275.7,15.6 276.2,15.6 276.7,15.7 277.2,15.7 277.5,15.7 277.5,33.7 277.2,33.7 276.7,33.7 276.2,33.7 275.7,33.7 275.2,33.7 274.7,33.7 274.2,33.7 273.7,33.7 273.2,33.6 272.7,33.6 272.2,33.6 271.7,33.6 271.2,33.6 270.7,33.6 270.2,33.6 269.7,33.6 269.2,33.6 268.7,33.6 268.2,33.6 267.7,33.6 267.2,33.6 266.7,33.6 266.2,33.6 265.7,33.6 265.2,33.6 264.7,33.5 264.2,33.5 263.7,33.5 263.2,33.5 262.7,33.5 262.2,33.5 261.7,33.5 261.2,33.5 260.7,33.5 260.2,33.5 259.7,33.5 259.2,33.5 258.7,33.5 258.2,33.5 257.7,33.5 257.2,33.5 256.7,33.5 256.2,33.4 255.7,33.4 255.2,33.4 254.7,33.4 254.2,33.4 253.7,33.4 253.2,33.4 252.7,33.4 252.2,33.4 251.7,33.4 251.2,33.4 250.7,33.4 250.2,33.4 249.7,33.4 249.2,33.4 249,33.4 248.7,33.4 248.2,33.5 247.7,33.5 247.2,33.6 246.7,33.7 246.2,33.7 245.7,33.8 245.2,33.9 244.7,33.9 244.2,34 243.7,34.1 243.2,34.1 242.7,34.2 242.2,34.3 241.7,34.3 241.2,34.4 240.7,34.5 240.2,34.5 239.7,34.6 239.2,34.7 238.7,34.7 238.2,34.8 238,34.8 237.7,34.9 237.2,35 236.7,35.1 236.2,35.2 235.7,35.3 235.2,35.4 234.7,35.4 234.2,35.5 233.7,35.6 233.2,35.7 232.7,35.8 232.2,35.9 231.7,36 231.2,36.1 230.7,36.2 230.2,36.3 229.7,36.4 229.2,36.5 228.7,36.6 228.2,36.7 227.7,36.8 227.2,36.9 227,36.9 226.7,37 226.2,37.1 225.7,37.3 225.2,37.4 224.7,37.6 224.2,37.7 223.7,37.8 223.2,38 222.7,38.1 222.2,38.3 221.7,38.4 221.2,38.6 220.7,38.7 220.2,38.9 219.7,39 219.2,39.1 218.7,39.3 218.2,39.4 217.7,39.6 217.2,39.7 216.7,39.9 216.2,40 216,40.1 215.7,40.2 215.2,40.5 214.7,40.8 214.2,41.1 213.7,41.4 213.2,41.7 212.7,42 212.2,42.3 211.7,42.6 211.2,42.9 210.7,43.2 210.2,43.5 209.7,43.8 209.2,44.1 208.7,44.4 208.2,44.7 207.7,44.9 207.2,45.2 206.7,45.5 206.2,45.8 205.7,46.1 205.2,46.4 205,46.5 204.7,46.6 204.2,46.8 203.7,47 203.2,47.2 202.7,47.3 202.2,47.5 201.7,47.7 201.2,47.9 200.7,48.1 200.2,48.2 199.7,48.4 199.2,48.6 198.7,48.8 198.2,48.9 197.7,49.1 197.2,49.3 196.7,49.5 196.2,49.7 196,49.7 195.7,50.2 195.2,51 194.7,51.9 194.2,52.7 194,53 193.7,53.2 193.2,53.6 192.7,53.9 192.2,54.3 191.7,54.6 191.2,55 190.7,55.4 190.2,55.7 189.7,56.1 189.2,56.4 188.7,56.8 188.2,57.1 187.7,57.5 187.2,57.9 186.7,58.2 186.2,58.6 185.7,58.9 185.2,59.3 184.7,59.6 184.2,60 183.7,60.4 183.2,60.7 182.7,61.1 182.2,61.4 181.7,61.8 181.2,62.1 180.7,62.5 180.2,62.9 179.7,63.2 179.2,63.6 178.7,63.9 178.6,64 178.2,64.2 177.7,64.5 177.2,64.8 176.7,65.1 176.2,65.4 175.7,65.7 175.2,66 174.7,66.3 174.2,66.6 173.7,66.8 173.2,67.1 172.7,67.4 172.2,67.7 171.7,68 171.2,68.3 170.7,68.6 170.2,68.9 170,69 169.7,69.2 169.2,69.4 168.7,69.7 168.2,70 167.7,70.2 167.2,70.5 166.7,70.8 166.2,71 165.7,71.3 165.2,71.6 164.7,71.8 164.2,72.1 163.7,72.3 163.2,72.6 162.7,72.9 162.2,73.1 161.7,73.4 161.2,73.7 160.7,73.9 160.4,74.1 160.2,74.2 159.7,74.5 159.2,74.7 158.7,75 158.2,75.2 157.7,75.5 157.2,75.7 156.7,76 156.2,76.2 155.7,76.5 155.2,76.7 154.7,77 154.2,77.2 153.7,77.5 153.2,77.7 152.7,78 152.2,78.2 151.7,78.5 151.2,78.7 150.7,79 150.3,79.2 150.2,79.3 149.7,79.7 149.2,80.2 148.7,80.7 148.2,81.1 147.7,81.6 147.2,82.1 146.7,82.6 146.2,83.1 145.7,83.6 145.2,84 144.7,84.5 144.2,85 143.7,85.5 143.2,86 142.8,86.4 142.7,86.6 142.2,87.9 141.7,89.2 141.2,90.4 140.7,91.7 140.3,92.7 140.2,92.8 139.7,93.1 139.2,93.3 138.7,93.6 138.2,93.8 137.7,94.1 137.2,94.3 136.7,94.6 136.2,94.8 135.7,95.1 135.2,95.3 134.7,95.5 134.2,95.8 133.7,96 133.2,96.3 132.7,96.5 132.2,96.8 131.7,97 131.2,97.3 130.7,97.5 130.2,97.8 129.7,98 129.2,98.3 128.7,98.5 128.2,98.7 127.7,99 127.2,99.3 126.7,99.7 126.2,100 125.7,100.3 125.2,100.7 124.7,101 124.2,101.4 123.7,101.7 123.2,102 122.7,102.4 122.2,102.7 121.7,103.1 121.2,103.4 120.7,103.7 120.2,104.1 120,104.2 119.7,104.3 119.2,104.5 118.7,104.6 118.2,104.8 117.7,105 117.2,105.1 116.7,105.3 116.2,105.5 115.7,105.6 115.2,105.8 114.7,106 114.2,106.2 113.7,106.4 113.2,106.7 112.7,106.9 112.2,107.1 111.7,107.3 111.4,107.5 111.2,107.5 110.7,107.7 110.2,107.8 109.7,108 109.2,108.1 108.7,108.2 108.2,108.4 107.7,108.5 107.2,108.7 106.7,108.8 106.4,108.9 106.2,108.6 105.7,108.1 105.2,107.5 104.7,106.9 104.5,106.7 104.2,107.3 103.7,108.4 103.2,109.5 102.7,110.6 102.2,111.6 102,112.1 101.7,112.2 101.2,112.4 100.7,112.6 100.2,112.7 99.7,112.9 99.2,113.1 98.7,113.3 98.2,113.5 97.7,113.6 97.2,113.8 96.7,114 96.2,114.2 95.7,114.4 95.2,114.5 94.7,114.7 94.2,114.9 93.7,115.1 93.2,115.3 92.7,115.4 92.6,115.5 92.2,115.7 91.7,116 91.2,116.3 90.7,116.5 90.2,116.8 89.7,117 89.2,117.2 88.7,117.3 88.2,117.5 87.7,117.6 87.2,117.7 86.7,117.9 86.2,118 85.7,118.2 85.2,118.3 84.7,118.5 84.2,118.6 83.7,118.8 83.2,118.9 83.1,118.9 82.7,118.9 82.2,119 81.7,119 81.2,119 80.7,119 80.2,119 79.7,119 79.2,119 78.7,119.1 78.2,119.1 77.7,119.1 77.2,119.1 76.7,119.1 76.2,119.1 75.7,119.2 75.3,119.2 75.2,119.2 74.7,119.5 74.2,119.9 73.7,120.2 73.2,120.5 72.7,120.8 72.2,121.1 71.7,121.4 71.2,121.8 70.7,122.1 70.2,122.4 69.7,122.5 69.2,122.7 68.7,122.8 68.2,122.9 67.7,123.1 67.2,123.2 66.7,123.3 66.2,123.5 65.7,123.6 65.2,123.7 64.7,124.4 64.2,125.1 63.7,125.8 63.2,126.5 62.7,127.2 62.2,128 61.7,128.8 61.5,129.1 61.2,129.4 60.7,129.8 60.2,130.3 59.7,130.7 59.2,131.2 58.7,131.6 58.2,132.1 57.7,132.5 57.2,133 56.7,133.4 56.2,133.9 55.7,134.3 55.2,134.8 54.7,134.8 54.2,134.7 53.7,134.7 53.2,134.6 52.7,134.6 52.2,134.6 51.7,134.5 51.2,134.5 50.8,134.4 50.7,134.7 50.2,136.2 49.7,137.6 49.2,139 49,139.6 48.7,139.9 48.2,140.4 47.7,140.9 47.2,141.4 46.7,141.9 46.2,142.4 45.7,142.9 45.2,143.4 45,143.6 44.7,144 44.2,144.7 43.7,145.4 43.2,146.1 42.7,146.8 42.6,146.9 42.2,147.1 41.7,147.3 41.2,147.5 40.7,147.6 40.2,147.8 39.7,148 39.2,148.2 38.8,148.4 38.7,148.5 38.2,149.4 37.7,150.3 37.2,151.2 36.7,152.1 36.2,153 35.7,153.8 35.2,155.2 34.7,156.5 34.2,157.8 33.7,159.2 33.2,160.5" fill="#1f77b4" fill-opacity="0.3" stroke="none"/>
<polygon points="33.7,156.6 34.2,155.6 34.7,154.6 35.2,153.5 35.7,152.5 36.2,151.5 36.3,151.3 36.7,150.4 37.2,149.4 37.7,148.3 38.2,147.3 38.7,146.2 39.2,145.2 39.7,144.1 40.1,143.3 40.2,143.1 40.7,142.2 41.2,141.2 41.7,140.3 42.2,139.3 42.7,138.4 43.2,137.5 43.7,136.6 43.9,136.2 44.2,135.5 44.7,134.4 45.2,133.2 45.7,132.1 46.2,130.9 46.7,129.8 47.2,128.6 47.7,127.5 48.2,126.3 48.3,126.1 48.7,125.5 49.2,124.6 49.7,123.8 50.2,123 50.7,122.2 51.2,121.4 51.7,120.6 52.2,119.8 52.7,119 53.2,118.2 53.3,118 53.7,117.5 54.2,116.8 54.7,116.1 55.2,115.5 55.7,114.8 56.2,114.1 56.7,113.5 57.2,112.8 57.7,112.1 58.2,111.5 58.7,110.8 59,110.4 59.2,110.2 59.7,109.7 60.2,109.2 60.7,108.7 61.2,108.2 61.7,107.7 62.2,107.1 62.7,106.6 63.2,106.1 63.7,105.6 64.2,105.1 64.7,104.6 65.2,104.1 65.7,103.6 66.2,103.1 66.7,102.6 67.2,102.1 67.7,101.6 68.2,101.1 68.7,100.6 69.2,100.1 69.7,99.6 70.2,99.1 70.7,98.6 71.2,98.1 71.5,97.8 71.7,97.6 72.2,97.1 72.7,96.6 73.2,96.1 73.7,95.6 74.2,95.1 74.7,94.7 75.2,94.2 75.7,93.7 76.2,93.2 76.7,92.7 77.2,92.2 77.7,91.7 77.8,91.6 78.2,91.4 78.7,91.1 79.2,90.8 79.7,90.6 80,90.4 80.2,90.3 80.7,90 81.2,89.7 81.7,89.4 82.2,89.1 82.7,88.8 83.2,88.5 83.7,88.2 84.2,87.9 84.7,87.6 85.2,87.3 85.7,87.1 86.2,86.8 86.3,86.7 86.7,86.5 87.2,86.2 87.7,85.9 88.2,85.6 88.7,85.3 89.2,85 89.7,84.6 90.2,84.3 90.7,84 91.2,83.7 91.7,83.4 92.2,83.1 92.6,82.9 92.7,82.8 93.2,82.4 93.7,81.9 94.2,81.5 94.7,81 95.2,80.5 95.7,80.1 96.2,79.6 96.7,79.2 97.2,78.7 97.7,78.3 98.2,77.8 98.7,77.4 98.9,77.2 99.2,77 99.7,76.7 100.2,76.4 100.7,76.1 101.2,75.8 101.7,75.6 102.2,75.3 102.7,75 103.2,74.7 103.7,74.4 104.2,74.1 104.7,73.8 105.2,73.5 105.7,73.2 106.2,73 106.7,72.7 107.2,72.5 107.7,72.2 108.2,72 108.7,71.7 109.2,71.4 109.7,71.2 110.2,70.9 110.7,70.7 111.2,70.4 111.4,70.3 111.7,70.2 112.2,70 112.7,69.8 113.2,69.7 113.7,69.5 114.2,69.3 114.7,69.1 115.2,68.9 115.7,68.8 116.2,68.6 116.7,68.4 117.2,68.2 117.7,68 118.2,67.8 118.7,67.7 119.2,67.5 119.7,67.3 120,67.2 120.2,67.2 120.7,67 121.2,66.9 121.7,66.8 122.2,66.7 122.7,66.6 123.2,66.5 123.7,66.3 124.2,66.2 124.7,66.1 125.2,66 125.7,65.9 126.2,65.8 126.7,65.6 127.2,65.5 127.7,65.4 128.2,65.3 128.7,65.2 129.2,65 129.7,64.9 130.2,64.8 130.7,64.7 131.2,64.5 131.7,64.4 132.2,64.3 132.7,64.2 133.2,64 133.7,63.9 134.2,63.8 134.7,63.7 135.2,63.6 135.7,63.4 136.2,63.3 136.7,63.2 137.2,63.1 137.7,62.9 138.2,62.8 138.7,62.7 139.2,62.6 139.7,62.4 140.2,62.3 140.3,62.3 140.7,62.1 141.2,61.9 141.7,61.7 142.2,61.5 142.7,61.3 143.2,61.1 143.7,60.9 144.2,60.7 144.7,60.5 145.2,60.3 145.7,60.1 146.2,59.9 146.7,59.7 147.2,59.4 147.7,59.2 147.8,59.2 148.2,59 148.7,58.7 149.2,58.4 149.7,58.1 150.2,57.8 150.7,57.5 151.2,57.3 151.7,57 152.2,56.7 152.7,56.4 153.2,56.1 153.7,55.8 154.2,55.6 154.7,55.3 155.2,55 155.7,54.7 156.2,54.4 156.7,54.1 157.2,53.8 157.7,53.6 157.8,53.5 158.2,53.3 158.7,53.1 159.2,52.8 159.7,52.6 160.2,52.4 160.7,52.1 161.2,51.9 161.7,51.7 162.2,51.4 162.7,51.2 163.2,51 163.7,50.7 164.2,50.5 164.7,50.3 165.2,50 165.7,49.8 166.2,49.6 166.7,49.3 167.2,49.1 167.7,48.9 168.2,48.6 168.7,48.4 169.2,48.2 169.7,47.9 170,47.8 170.2,47.8 170.7,47.7 171.2,47.6 171.7,47.5 172.2,47.4 172.7,47.3 173.2,47.2 173.7,47.1 174.2,47 174.7,46.9 175.2,46.8 175.7,46.7 176.2,46.6 176.7,46.5 177.2,46.4 177.7,46.3 178.2,46.3 178.7,46.2 179.2,46.1 179.7,46 180.2,45.9 180.7,45.8 181.2,45.7 181.7,45.6 182.2,45.5 182.7,45.4 183.2,45.3 183.7,45.2 184.2,45.1 184.7,45 185.2,44.9 185.7,44.8 186.2,44.7 186.7,44.6 187.2,44.6 187.7,44.5 188.2,44.4 188.7,44.3 189.2,44.2 189.7,44.1 190.2,44 190.7,43.9 191.2,43.8 191.7,43.7 192.2,43.6 192.7,43.5 193.2,43.4 193.7,43.3 194,43.3 194.2,43.2 194.7,43.1 195.2,43 195.7,43 196.2,42.9 196.7,42.8 197.2,42.7 197.7,42.6 198.2,42.5 198.7,42.4 199.2,42.3 199.7,42.2 200.2,42.1 200.7,42.1 201.2,42 201.7,41.9 202.2,41.8 202.7,41.7 203.2,41.6 203.7,41.5 204.2,41.4 204.7,41.3 205.2,41.2 205.7,41.2 206.2,41.1 206.7,41 207.2,40.9 207.7,40.8 208.2,40.7 208.7,40.6 209.2,40.5 209.7,40.4 210.2,40.3 210.7,40.3 211.2,40.2 211.7,40.1 212.2,40 212.7,39.9 213.2,39.8 213.7,39.7 214.2,39.6 214.7,39.5 215.2,39.4 215.7,39.4 216,39.3 216.2,39.3 216.7,39.2 217.2,39.1 217.7,39 218.2,38.9 218.7,38.9 219.2,38.8 219.7,38.7 220.2,38.6 220.7,38.5 221.2,38.4 221.7,38.4 222.2,38.3 222.7,38.2 223.2,38.1 223.7,38 224.2,37.9 224.7,37.9 225.2,37.8 225.7,37.7 226.2,37.6 226.7,37.5 227.2,37.4 227.7,37.4 228.2,37.3 228.7,37.2 229.2,37.1 229.7,37 230.2,36.9 230.7,36.9 231.2,36.8 231.7,36.7 232.2,36.6 232.7,36.5 233.2,36.4 233.7,36.4 234.2,36.3 234.7,36.2 235.2,36.1 235.7,36 236.2,35.9 236.7,35.9 237.2,35.8 237.7,35.7 238,35.6 238.2,35.6 238.7,35.6 239.2,35.5 239.7,35.5 240.2,35.4 240.7,35.4 241.2,35.3 241.7,35.3 242.2,35.2 242.7,35.2 243.2,35.1 243.7,35.1 244.2,35 244.7,35 245.2,34.9 245.7,34.9 246.2,34.8 246.7,34.8 247.2,34.7 247.7,34.7 248.2,34.6 248.7,34.6 249.2,34.5 249.7,34.5 250.2,34.4 250.7,34.4 251.2,34.3 251.7,34.3 252.2,34.2 252.7,34.2 253.2,34.2 253.7,34.1 254.2,34.1 254.7,34 255.2,34 255.7,33.9 256.2,33.9 256.7,33.8 257.2,33.8 257.7,33.7 258.2,33.7 258.7,33.6 259.2,33.6 259.7,33.5 260,33.5 260.2,33.5 260.7,33.5 261.2,33.5 261.7,33.5 262.2,33.4 262.7,33.4 263.2,33.4 263.7,33.4 264.2,33.4 264.7,33.4 265.2,33.4 265.7,33.4 266.2,33.4 266.7,33.4 267.2,33.4 267.7,33.4 268.2,33.4 268.7,33.3 269.2,33.3 269.7,33.3 270.2,33.3 270.7,33.3 271.2,33.3 271.7,33.3 272.2,33.3 272.7,33.3 273.2,33.3 273.7,33.3 274.2,33.3 274.7,33.2 275.2,33.2 275.7,33.2 276.2,33.2 276.7,33.2 277.2,33.2 277.5,33.2 277.5,50.2 277.2,50.2 276.7,50.2 276.2,50.2 275.7,50.2 275.2,50.2 274.7,50.2 274.2,50.3 273.7,50.3 273.2,50.3 272.7,50.3 272.2,50.3 271.7,50.3 271.2,50.3 270.7,50.3 270.2,50.3 269.7,50.3 269.2,50.3 268.7,50.3 268.2,50.4 267.7,50.4 267.2,50.4 266.7,50.4 266.2,50.4 265.7,50.4 265.2,50.4 264.7,50.4 264.2,50.4 263.7,50.4 263.2,50.4 262.7,50.4 262.2,50.4 261.7,50.5 261.2,50.5 260.7,50.5 260.2,50.5 260,50.5 259.7,50.5 259.2,50.6 258.7,50.6 258.2,50.7 257.7,50.7 257.2,50.8 256.7,50.8 256.2,50.9 255.7,50.9 255.2,51 254.7,51 254.2,51.1 253.7,51.1 253.2,51.2 252.7,51.2 252.2,51.2 251.7,51.3 251.2,51.3 250.7,51.4 250.2,51.4 249.7,51.5 249.2,51.5 248.7,51.6 248.2,51.6 247.7,51.7 247.2,51.7 246.7,51.8 246.2,51.8 245.7,51.9 245.2,51.9 244.7,52 244.2,52 243.7,52.1 243.2,52.1 242.7,52.2 242.2,52.2 241.7,52.3 241.2,52.3 240.7,52.4 240.2,52.4 239.7,52.5 239.2,52.5 238.7,52.6 238.2,52.6 238,52.6 237.7,52.7 237.2,52.8 236.7,52.9 236.2,52.9 235.7,53 235.2,53.1 234.7,53.2 234.2,53.3 233.7,53.4 233.2,53.4 232.7,53.5 232.2,53.6 231.7,53.7 231.2,53.8 230.7,53.9 230.2,53.9 229.7,54 229.2,54.1 228.7,54.2 228.2,54.3 227.7,54.4 227.2,54.4 226.7,54.5 226.2,54.6 225.7,54.7 225.2,54.8 224.7,54.9 224.2,54.9 223.7,55 223.2,55.1 222.7,55.2 222.2,55.3 221.7,55.4 221.2,55.4 220.7,55.5 220.2,55.6 219.7,55.7 219.2,55.8 218.7,55.9 218.2,55.9 217.7,56 217.2,56.1 216.7,56.2 216.2,56.3 216,56.3 215.7,56.4 215.2,56.5 214.7,56.6 214.2,56.8 213.7,56.9 213.2,57 212.7,57.2 212.2,57.3 211.7,57.4 211.2,57.6 210.7,57.7 210.2,57.8 209.7,58 209.2,58.1 208.7,58.3 208.2,58.4 207.7,58.5 207.2,58.7 206.7,58.8 206.2,58.9 205.7,59.1 205.2,59.2 204.7,59.3 204.2,59.5 203.7,59.6 203.2,59.7 202.7,59.9 202.2,60 201.7,60.1 201.2,60.3 200.7,60.4 200.2,60.5 199.7,60.7 199.2,60.8 198.7,60.9 198.2,61.1 197.7,61.2 197.2,61.3 196.7,61.5 196.2,61.6 195.7,61.7 195.2,61.9 194.7,62 194.2,62.1 194,62.2 193.7,62.3 193.2,62.4 192.7,62.5 192.2,62.7 191.7,62.8 191.2,63 190.7,63.1 190.2,63.2 189.7,63.4 189.2,63.5 188.7,63.6 188.2,63.8 187.7,63.9 187.2,64.1 186.7,64.2 186.2,64.3 185.7,64.5 185.2,64.6 184.7,64.7 184.2,64.9 183.7,65 183.2,65.2 182.7,65.3 182.2,65.4 181.7,65.6 181.2,65.7 180.7,65.8 180.2,66 179.7,66.1 179.2,66.3 178.7,66.4 178.2,66.5 177.7,66.7 177.2,66.8 176.7,67 176.2,67.1 175.7,67.2 175.2,67.4 174.7,67.5 174.2,67.6 173.7,67.8 173.2,67.9 172.7,68.1 172.2,68.2 171.7,68.3 171.2,68.5 170.7,68.6 170.2,68.7 170,68.8 169.7,68.9 169.2,69.2 168.7,69.4 168.2,69.6 167.7,69.9 167.2,70.1 166.7,70.3 166.2,70.6 165.7,70.8 165.2,71 164.7,71.3 164.2,71.5 163.7,71.7 163.2,72 162.7,72.2 162.2,72.4 161.7,72.7 161.2,72.9 160.7,73.1 160.2,73.4 159.7,73.6 159.2,73.8 158.7,74.1 158.2,74.3 157.8,74.5 157.7,74.6 157.2,74.8 156.7,75.1 156.2,75.4 155.7,75.7 155.2,76 154.7,76.3 154.2,76.6 153.7,76.8 153.2,77.1 152.7,77.4 152.2,77.7 151.7,78 151.2,78.3 150.7,78.5 150.2,78.8 149.7,79.1 149.2,79.4 148.7,79.7 148.2,80 147.8,80.2 147.7,80.2 147.2,80.4 146.7,80.7 146.2,80.9 145.7,81.1 145.2,81.3 144.7,81.5 144.2,81.7 143.7,81.9 143.2,82.1 142.7,82.3 142.2,82.5 141.7,82.7 141.2,82.9 140.7,83.1 140.3,83.3 140.2,83.3 139.7,83.4 139.2,83.6 138.7,83.7 138.2,83.8 137.7,83.9 137.2,84.1 136.7,84.2 136.2,84.3 135.7,84.4 135.2,84.6 134.7,84.7 134.2,84.8 133.7,84.9 133.2,85 132.7,85.2 132.2,85.3 131.7,85.4 131.2,85.5 130.7,85.7 130.2,85.8 129.7,85.9 129.2,86 128.7,86.2 128.2,86.3 127.7,86.4 127.2,86.5 126.7,86.7 126.2,86.8 125.7,87 125.2,87.1 124.7,87.2 124.2,87.4 123.7,87.5 123.2,87.6 122.7,87.8 122.2,87.9 121.7,88.1 121.2,88.2 120.7,88.3 120.2,88.5 120,88.5 119.7,88.6 119.2,88.8 118.7,89 118.2,89.2 117.7,89.4 117.2,89.6 116.7,89.8 116.2,90 115.7,90.2 115.2,90.4 114.7,90.6 114.2,90.8 113.7,91 113.2,91.2 112.7,91.4 112.2,91.6 111.7,91.8 111.4,92 111.2,92.1 110.7,92.4 110.2,92.6 109.7,92.9 109.2,93.2 108.7,93.5 108.2,93.7 107.7,94 107.2,94.3 106.7,94.6 106.2,94.9 105.7,95.1 105.2,95.4 104.7,95.7 104.2,96 103.7,96.4 103.2,96.7 102.7,97 102.2,97.3 101.7,97.7 101.2,98 100.7,98.4 100.2,98.7 99.7,99.1 99.2,99.4 98.9,99.6 98.7,99.8 98.2,100.3 97.7,100.8 97.2,101.3 96.7,101.8 96.2,102.3 95.7,102.8 95.2,103.3 94.7,103.8 94.2,104.3 93.7,104.8 93.2,105.3 92.7,105.8 92.6,105.9 92.2,106.2 91.7,106.6 91.2,106.9 90.7,107.3 90.2,107.6 89.7,108 89.2,108.3 88.7,108.7 88.2,109 87.7,109.4 87.2,109.7 86.7,110.1 86.3,110.4 86.2,110.4 85.7,110.8 85.2,111.1 84.7,111.5 84.2,111.8 83.7,112.2 83.2,112.5 82.7,112.8 82.2,113.2 81.7,113.5 81.2,113.9 80.7,114.2 80.2,114.6 80,114.7 79.7,114.9 79.2,115.2 78.7,115.5 78.2,115.9 77.8,116.1 77.7,116.2 77.2,116.8 76.7,117.3 76.2,117.9 75.7,118.4 75.2,118.9 74.7,119.5 74.2,120 73.7,120.6 73.2,121.1 72.7,121.8 72.2,122.5 71.7,123.2 71.5,123.5 71.2,123.9 70.7,124.6 70.2,125.4 69.7,126.1 69.2,126.8 68.7,127.6 68.2,128.3 67.7,129 67.2,129.7 66.7,130.5 66.2,131.2 65.7,131.9 65.2,132.6 64.7,133.4 64.2,134.1 63.7,134.9 63.2,135.6 62.7,136.3 62.2,137.1 61.7,137.7 61.2,138.3 60.7,138.8 60.2,139.4 59.7,139.9 59.2,140.5 59,140.7 58.7,141.2 58.2,141.9 57.7,142.6 57.2,143.3 56.7,144.1 56.2,144.8 55.7,145.5 55.2,146.2 54.7,146.9 54.2,147.7 53.7,148.4 53.3,149 53.2,149.1 52.7,149.8 52.2,150.3 51.7,150.9 51.2,151.4 50.7,151.9 50.2,152.5 49.7,153 49.2,153.6 48.7,154.1 48.3,154.5 48.2,154.7 47.7,155.6 47.2,156.4 46.7,157.3 46.2,158.2 45.7,159.1 45.2,159.9 44.7,160.8 44.2,161.7 43.9,162.2 43.7,162.4 43.2,163.1 42.7,163.7 42.2,164.5 41.7,165.2 41.2,165.9 40.7,166.6 40.2,167.3 40.1,167.5 39.7,168.1 39.2,169 38.7,169.8 38.2,170.6 37.7,171.4 37.2,172.3 36.7,173.1 36.3,173.8 36.2,173.9 35.7,174.7 35.2,175.5 34.7,176.3 34.2,177.1 33.7,177.9" fill="#2ca02c" fill-opacity="0.3" stroke="none"/>
<polyline points="33.2,153.5 35.7,146.5 38.8,139.6 43.9,134 50.2,127.7 52.7,122.7 57.7,120.8 62.7,116.4 66.5,112 72.8,106.3 79,105 83.1,100.8 89.4,97.7 95.7,95.2 102,93.3 104.5,91.5 107,90.8 113.3,88.9 120,87 127.7,83.3 140.3,77.7 144,74.5 150.3,71.4 157.8,69.5 170,65.8 194,57.1 216,49.5 233.5,42.9 249,38.5 260,33 268.7,28.6 277.5,26" fill="none" stroke="#ff7f0e" stroke-width="1.45" stroke-linejoin="round" stroke-opacity="1"/>
<circle cx="33.5" cy="152.7" r="1.25" fill="#ff7f0e" fill-opacity="0.5" stroke="#ff7f0e" stroke-opacity="0.9" stroke-width="0.6"/><circle cx="36" cy="145.9" r="1.25" fill="#ff7f0e" fill-opacity="0.5" stroke="#ff7f0e" stroke-opacity="0.9" stroke-width="0.6"/><circle cx="38.5" cy="140.3" r="1.25" fill="#ff7f0e" fill-opacity="0.5" stroke="#ff7f0e" stroke-opacity="0.9" stroke-width="0.6"/><circle cx="41" cy="137.2" r="1.25" fill="#ff7f0e" fill-opacity="0.5" stroke="#ff7f0e" stroke-opacity="0.9" stroke-width="0.6"/><circle cx="43.5" cy="134.5" r="1.25" fill="#ff7f0e" fill-opacity="0.5" stroke="#ff7f0e" stroke-opacity="0.9" stroke-width="0.6"/><circle cx="45.9" cy="132" r="1.25" fill="#ff7f0e" fill-opacity="0.5" stroke="#ff7f0e" stroke-opacity="0.9" stroke-width="0.6"/><circle cx="48.4" cy="129.5" r="1.25" fill="#ff7f0e" fill-opacity="0.5" stroke="#ff7f0e" stroke-opacity="0.9" stroke-width="0.6"/><circle cx="50.9" cy="126.3" r="1.25" fill="#ff7f0e" fill-opacity="0.5" stroke="#ff7f0e" stroke-opacity="0.9" stroke-width="0.6"/><circle cx="53.4" cy="122.4" r="1.25" fill="#ff7f0e" fill-opacity="0.5" stroke="#ff7f0e" stroke-opacity="0.9" stroke-width="0.6"/><circle cx="55.9" cy="121.5" r="1.25" fill="#ff7f0e" fill-opacity="0.5" stroke="#ff7f0e" stroke-opacity="0.9" stroke-width="0.6"/><circle cx="58.4" cy="120.2" r="1.25" fill="#ff7f0e" fill-opacity="0.5" stroke="#ff7f0e" stroke-opacity="0.9" stroke-width="0.6"/><circle cx="60.9" cy="118" r="1.25" fill="#ff7f0e" fill-opacity="0.5" stroke="#ff7f0e" stroke-opacity="0.9" stroke-width="0.6"/><circle cx="63.4" cy="115.6" r="1.25" fill="#ff7f0e" fill-opacity="0.5" stroke="#ff7f0e" stroke-opacity="0.9" stroke-width="0.6"/><circle cx="65.9" cy="112.7" r="1.25" fill="#ff7f0e" fill-opacity="0.5" stroke="#ff7f0e" stroke-opacity="0.9" stroke-width="0.6"/><circle cx="68.3" cy="110.3" r="1.25" fill="#ff7f0e" fill-opacity="0.5" stroke="#ff7f0e" stroke-opacity="0.9" stroke-width="0.6"/><circle cx="70.8" cy="108.1" r="1.25" fill="#ff7f0e" fill-opacity="0.5" stroke="#ff7f0e" stroke-opacity="0.9" stroke-width="0.6"/><circle cx="73.3" cy="106.2" r="1.25" fill="#ff7f0e" fill-opacity="0.5" stroke="#ff7f0e" stroke-opacity="0.9" stroke-width="0.6"/><circle cx="75.8" cy="105.7" r="1.25" fill="#ff7f0e" fill-opacity="0.5" stroke="#ff7f0e" stroke-opacity="0.9" stroke-width="0.6"/><circle cx="78.3" cy="105.1" r="1.25" fill="#ff7f0e" fill-opacity="0.5" stroke="#ff7f0e" stroke-opacity="0.9" stroke-width="0.6"/><circle cx="80.8" cy="103.2" r="1.25" fill="#ff7f0e" fill-opacity="0.5" stroke="#ff7f0e" stroke-opacity="0.9" stroke-width="0.6"/><circle cx="83.3" cy="100.7" r="1.25" fill="#ff7f0e" fill-opacity="0.5" stroke="#ff7f0e" stroke-opacity="0.9" stroke-width="0.6"/><circle cx="85.8" cy="99.5" r="1.25" fill="#ff7f0e" fill-opacity="0.5" stroke="#ff7f0e" stroke-opacity="0.9" stroke-width="0.6"/><circle cx="88.3" cy="98.3" r="1.25" fill="#ff7f0e" fill-opacity="0.5" stroke="#ff7f0e" stroke-opacity="0.9" stroke-width="0.6"/><circle cx="90.8" cy="97.2" r="1.25" fill="#ff7f0e" fill-opacity="0.5" stroke="#ff7f0e" stroke-opacity="0.9" stroke-width="0.6"/><circle cx="93.2" cy="96.2" r="1.25" fill="#ff7f0e" fill-opacity="0.5" stroke="#ff7f0e" stroke-opacity="0.9" stroke-width="0.6"/><circle cx="95.7" cy="95.2" r="1.25" fill="#ff7f0e" fill-opacity="0.5" stroke="#ff7f0e" stroke-opacity="0.9" stroke-width="0.6"/><circle cx="98.2" cy="94.4" r="1.25" fill="#ff7f0e" fill-opacity="0.5" stroke="#ff7f0e" stroke-opacity="0.9" stroke-width="0.6"/><circle cx="100.7" cy="93.7" r="1.25" fill="#ff7f0e" fill-opacity="0.5" stroke="#ff7f0e" stroke-opacity="0.9" stroke-width="0.6"/><circle cx="103.2" cy="92.4" r="1.25" fill="#ff7f0e" fill-opacity="0.5" stroke="#ff7f0e" stroke-opacity="0.9" stroke-width="0.6"/><circle cx="105.7" cy="91.2" r="1.25" fill="#ff7f0e" fill-opacity="0.5" stroke="#ff7f0e" stroke-opacity="0.9" stroke-width="0.6"/><circle cx="108.2" cy="90.4" r="1.25" fill="#ff7f0e" fill-opacity="0.5" stroke="#ff7f0e" stroke-opacity="0.9" stroke-width="0.6"/><circle cx="110.7" cy="89.7" r="1.25" fill="#ff7f0e" fill-opacity="0.5" stroke="#ff7f0e" stroke-opacity="0.9" stroke-width="0.6"/><circle cx="113.2" cy="88.9" r="1.25" fill="#ff7f0e" fill-opacity="0.5" stroke="#ff7f0e" stroke-opacity="0.9" stroke-width="0.6"/><circle cx="115.7" cy="88.2" r="1.25" fill="#ff7f0e" fill-opacity="0.5" stroke="#ff7f0e" stroke-opacity="0.9" stroke-width="0.6"/><circle cx="118.2" cy="87.5" r="1.25" fill="#ff7f0e" fill-opacity="0.5" stroke="#ff7f0e" stroke-opacity="0.9" stroke-width="0.6"/><circle cx="120.6" cy="86.7" r="1.25" fill="#ff7f0e" fill-opacity="0.5" stroke="#ff7f0e" stroke-opacity="0.9" stroke-width="0.6"/><circle cx="123.1" cy="85.5" r="1.25" fill="#ff7f0e" fill-opacity="0.5" stroke="#ff7f0e" stroke-opacity="0.9" stroke-width="0.6"/><circle cx="125.6" cy="84.3" r="1.25" fill="#ff7f0e" fill-opacity="0.5" stroke="#ff7f0e" stroke-opacity="0.9" stroke-width="0.6"/><circle cx="128.1" cy="83.1" r="1.25" fill="#ff7f0e" fill-opacity="0.5" stroke="#ff7f0e" stroke-opacity="0.9" stroke-width="0.6"/><circle cx="130.6" cy="82" r="1.25" fill="#ff7f0e" fill-opacity="0.5" stroke="#ff7f0e" stroke-opacity="0.9" stroke-width="0.6"/><circle cx="133.1" cy="80.9" r="1.25" fill="#ff7f0e" fill-opacity="0.5" stroke="#ff7f0e" stroke-opacity="0.9" stroke-width="0.6"/><circle cx="135.6" cy="79.8" r="1.25" fill="#ff7f0e" fill-opacity="0.5" stroke="#ff7f0e" stroke-opacity="0.9" stroke-width="0.6"/><circle cx="138.1" cy="78.7" r="1.25" fill="#ff7f0e" fill-opacity="0.5" stroke="#ff7f0e" stroke-opacity="0.9" stroke-width="0.6"/><circle cx="140.6" cy="77.5" r="1.25" fill="#ff7f0e" fill-opacity="0.5" stroke="#ff7f0e" stroke-opacity="0.9" stroke-width="0.6"/><circle cx="143.1" cy="75.3" r="1.25" fill="#ff7f0e" fill-opacity="0.5" stroke="#ff7f0e" stroke-opacity="0.9" stroke-width="0.6"/><circle cx="145.5" cy="73.7" r="1.25" fill="#ff7f0e" fill-opacity="0.5" stroke="#ff7f0e" stroke-opacity="0.9" stroke-width="0.6"/><circle cx="148" cy="72.5" r="1.25" fill="#ff7f0e" fill-opacity="0.5" stroke="#ff7f0e" stroke-opacity="0.9" stroke-width="0.6"/><circle cx="150.5" cy="71.3" r="1.25" fill="#ff7f0e" fill-opacity="0.5" stroke="#ff7f0e" stroke-opacity="0.9" stroke-width="0.6"/><circle cx="153" cy="70.7" r="1.25" fill="#ff7f0e" fill-opacity="0.5" stroke="#ff7f0e" stroke-opacity="0.9" stroke-width="0.6"/><circle cx="155.5" cy="70.1" r="1.25" fill="#ff7f0e" fill-opacity="0.5" stroke="#ff7f0e" stroke-opacity="0.9" stroke-width="0.6"/><circle cx="158" cy="69.4" r="1.25" fill="#ff7f0e" fill-opacity="0.5" stroke="#ff7f0e" stroke-opacity="0.9" stroke-width="0.6"/><circle cx="160.5" cy="68.7" r="1.25" fill="#ff7f0e" fill-opacity="0.5" stroke="#ff7f0e" stroke-opacity="0.9" stroke-width="0.6"/><circle cx="163" cy="67.9" r="1.25" fill="#ff7f0e" fill-opacity="0.5" stroke="#ff7f0e" stroke-opacity="0.9" stroke-width="0.6"/><circle cx="165.5" cy="67.2" r="1.25" fill="#ff7f0e" fill-opacity="0.5" stroke="#ff7f0e" stroke-opacity="0.9" stroke-width="0.6"/><circle cx="168" cy="66.4" r="1.25" fill="#ff7f0e" fill-opacity="0.5" stroke="#ff7f0e" stroke-opacity="0.9" stroke-width="0.6"/><circle cx="170.4" cy="65.6" r="1.25" fill="#ff7f0e" fill-opacity="0.5" stroke="#ff7f0e" stroke-opacity="0.9" stroke-width="0.6"/><circle cx="172.9" cy="64.7" r="1.25" fill="#ff7f0e" fill-opacity="0.5" stroke="#ff7f0e" stroke-opacity="0.9" stroke-width="0.6"/><circle cx="175.4" cy="63.8" r="1.25" fill="#ff7f0e" fill-opacity="0.5" stroke="#ff7f0e" stroke-opacity="0.9" stroke-width="0.6"/><circle cx="177.9" cy="62.9" r="1.25" fill="#ff7f0e" fill-opacity="0.5" stroke="#ff7f0e" stroke-opacity="0.9" stroke-width="0.6"/><circle cx="180.4" cy="62" r="1.25" fill="#ff7f0e" fill-opacity="0.5" stroke="#ff7f0e" stroke-opacity="0.9" stroke-width="0.6"/><circle cx="182.9" cy="61.1" r="1.25" fill="#ff7f0e" fill-opacity="0.5" stroke="#ff7f0e" stroke-opacity="0.9" stroke-width="0.6"/><circle cx="185.4" cy="60.2" r="1.25" fill="#ff7f0e" fill-opacity="0.5" stroke="#ff7f0e" stroke-opacity="0.9" stroke-width="0.6"/><circle cx="187.9" cy="59.3" r="1.25" fill="#ff7f0e" fill-opacity="0.5" stroke="#ff7f0e" stroke-opacity="0.9" stroke-width="0.6"/><circle cx="190.4" cy="58.4" r="1.25" fill="#ff7f0e" fill-opacity="0.5" stroke="#ff7f0e" stroke-opacity="0.9" stroke-width="0.6"/><circle cx="192.8" cy="57.5" r="1.25" fill="#ff7f0e" fill-opacity="0.5" stroke="#ff7f0e" stroke-opacity="0.9" stroke-width="0.6"/><circle cx="195.3" cy="56.6" r="1.25" fill="#ff7f0e" fill-opacity="0.5" stroke="#ff7f0e" stroke-opacity="0.9" stroke-width="0.6"/><circle cx="197.8" cy="55.8" r="1.25" fill="#ff7f0e" fill-opacity="0.5" stroke="#ff7f0e" stroke-opacity="0.9" stroke-width="0.6"/><circle cx="200.3" cy="54.9" r="1.25" fill="#ff7f0e" fill-opacity="0.5" stroke="#ff7f0e" stroke-opacity="0.9" stroke-width="0.6"/><circle cx="202.8" cy="54.1" r="1.25" fill="#ff7f0e" fill-opacity="0.5" stroke="#ff7f0e" stroke-opacity="0.9" stroke-width="0.6"/><circle cx="205.3" cy="53.2" r="1.25" fill="#ff7f0e" fill-opacity="0.5" stroke="#ff7f0e" stroke-opacity="0.9" stroke-width="0.6"/><circle cx="207.8" cy="52.3" r="1.25" fill="#ff7f0e" fill-opacity="0.5" stroke="#ff7f0e" stroke-opacity="0.9" stroke-width="0.6"/><circle cx="210.3" cy="51.5" r="1.25" fill="#ff7f0e" fill-opacity="0.5" stroke="#ff7f0e" stroke-opacity="0.9" stroke-width="0.6"/><circle cx="212.8" cy="50.6" r="1.25" fill="#ff7f0e" fill-opacity="0.5" stroke="#ff7f0e" stroke-opacity="0.9" stroke-width="0.6"/><circle cx="215.3" cy="49.8" r="1.25" fill="#ff7f0e" fill-opacity="0.5" stroke="#ff7f0e" stroke-opacity="0.9" stroke-width="0.6"/><circle cx="217.8" cy="48.8" r="1.25" fill="#ff7f0e" fill-opacity="0.5" stroke="#ff7f0e" stroke-opacity="0.9" stroke-width="0.6"/><circle cx="220.2" cy="47.9" r="1.25" fill="#ff7f0e" fill-opacity="0.5" stroke="#ff7f0e" stroke-opacity="0.9" stroke-width="0.6"/><circle cx="222.7" cy="47" r="1.25" fill="#ff7f0e" fill-opacity="0.5" stroke="#ff7f0e" stroke-opacity="0.9" stroke-width="0.6"/><circle cx="225.2" cy="46" r="1.25" fill="#ff7f0e" fill-opacity="0.5" stroke="#ff7f0e" stroke-opacity="0.9" stroke-width="0.6"/><circle cx="227.7" cy="45.1" r="1.25" fill="#ff7f0e" fill-opacity="0.5" stroke="#ff7f0e" stroke-opacity="0.9" stroke-width="0.6"/><circle cx="230.2" cy="44.1" r="1.25" fill="#ff7f0e" fill-opacity="0.5" stroke="#ff7f0e" stroke-opacity="0.9" stroke-width="0.6"/><circle cx="232.7" cy="43.2" r="1.25" fill="#ff7f0e" fill-opacity="0.5" stroke="#ff7f0e" stroke-opacity="0.9" stroke-width="0.6"/><circle cx="235.2" cy="42.4" r="1.25" fill="#ff7f0e" fill-opacity="0.5" stroke="#ff7f0e" stroke-opacity="0.9" stroke-width="0.6"/><circle cx="237.7" cy="41.7" r="1.25" fill="#ff7f0e" fill-opacity="0.5" stroke="#ff7f0e" stroke-opacity="0.9" stroke-width="0.6"/><circle cx="240.2" cy="41" r="1.25" fill="#ff7f0e" fill-opacity="0.5" stroke="#ff7f0e" stroke-opacity="0.9" stroke-width="0.6"/><circle cx="242.7" cy="40.3" r="1.25" fill="#ff7f0e" fill-opacity="0.5" stroke="#ff7f0e" stroke-opacity="0.9" stroke-width="0.6"/><circle cx="245.1" cy="39.6" r="1.25" fill="#ff7f0e" fill-opacity="0.5" stroke="#ff7f0e" stroke-opacity="0.9" stroke-width="0.6"/><circle cx="247.6" cy="38.9" r="1.25" fill="#ff7f0e" fill-opacity="0.5" stroke="#ff7f0e" stroke-opacity="0.9" stroke-width="0.6"/><circle cx="250.1" cy="37.9" r="1.25" fill="#ff7f0e" fill-opacity="0.5" stroke="#ff7f0e" stroke-opacity="0.9" stroke-width="0.6"/><circle cx="252.6" cy="36.7" r="1.25" fill="#ff7f0e" fill-opacity="0.5" stroke="#ff7f0e" stroke-opacity="0.9" stroke-width="0.6"/><circle cx="255.1" cy="35.5" r="1.25" fill="#ff7f0e" fill-opacity="0.5" stroke="#ff7f0e" stroke-opacity="0.9" stroke-width="0.6"/><circle cx="257.6" cy="34.2" r="1.25" fill="#ff7f0e" fill-opacity="0.5" stroke="#ff7f0e" stroke-opacity="0.9" stroke-width="0.6"/><circle cx="260.1" cy="33" r="1.25" fill="#ff7f0e" fill-opacity="0.5" stroke="#ff7f0e" stroke-opacity="0.9" stroke-width="0.6"/><circle cx="262.6" cy="31.7" r="1.25" fill="#ff7f0e" fill-opacity="0.5" stroke="#ff7f0e" stroke-opacity="0.9" stroke-width="0.6"/><circle cx="265.1" cy="30.4" r="1.25" fill="#ff7f0e" fill-opacity="0.5" stroke="#ff7f0e" stroke-opacity="0.9" stroke-width="0.6"/><circle cx="267.6" cy="29.2" r="1.25" fill="#ff7f0e" fill-opacity="0.5" stroke="#ff7f0e" stroke-opacity="0.9" stroke-width="0.6"/><circle cx="270" cy="28.2" r="1.25" fill="#ff7f0e" fill-opacity="0.5" stroke="#ff7f0e" stroke-opacity="0.9" stroke-width="0.6"/><circle cx="272.5" cy="27.5" r="1.25" fill="#ff7f0e" fill-opacity="0.5" stroke="#ff7f0e" stroke-opacity="0.9" stroke-width="0.6"/><circle cx="275" cy="26.7" r="1.25" fill="#ff7f0e" fill-opacity="0.5" stroke="#ff7f0e" stroke-opacity="0.9" stroke-width="0.6"/><circle cx="277.5" cy="26" r="1.25" fill="#ff7f0e" fill-opacity="0.5" stroke="#ff7f0e" stroke-opacity="0.9" stroke-width="0.6"/>
<polyline points="33.6,111.4 35.8,93.4 38.7,77 41.3,64.8 43.7,58.9 47.5,56 55.2,49.5 64,45 72.7,40.7 83.7,36.3 97,34 108,31.9 119,29.7 130,29 143,28.1 150,28.1 172,26.8 194,25.3 216,24.2 238,23.5 260,22.9 277.5,22.9" fill="none" stroke="#d62728" stroke-width="1.45" stroke-linejoin="round" stroke-opacity="1"/>
<circle cx="36" cy="92.4" r="1.0" fill="#d62728" fill-opacity="0.9"/><circle cx="38.5" cy="78.3" r="1.0" fill="#d62728" fill-opacity="0.9"/><circle cx="41" cy="66.4" r="1.0" fill="#d62728" fill-opacity="0.9"/><circle cx="43.5" cy="59.5" r="1.0" fill="#d62728" fill-opacity="0.9"/><circle cx="45.9" cy="57.2" r="1.0" fill="#d62728" fill-opacity="0.9"/><circle cx="48.4" cy="55.2" r="1.0" fill="#d62728" fill-opacity="0.9"/><circle cx="50.9" cy="53.1" r="1.0" fill="#d62728" fill-opacity="0.9"/><circle cx="53.4" cy="51" r="1.0" fill="#d62728" fill-opacity="0.9"/><circle cx="55.9" cy="49.1" r="1.0" fill="#d62728" fill-opacity="0.9"/><circle cx="58.4" cy="47.9" r="1.0" fill="#d62728" fill-opacity="0.9"/><circle cx="60.9" cy="46.6" r="1.0" fill="#d62728" fill-opacity="0.9"/><circle cx="63.4" cy="45.3" r="1.0" fill="#d62728" fill-opacity="0.9"/><circle cx="65.9" cy="44.1" r="1.0" fill="#d62728" fill-opacity="0.9"/><circle cx="68.3" cy="42.9" r="1.0" fill="#d62728" fill-opacity="0.9"/><circle cx="70.8" cy="41.6" r="1.0" fill="#d62728" fill-opacity="0.9"/><circle cx="73.3" cy="40.4" r="1.0" fill="#d62728" fill-opacity="0.9"/><circle cx="75.8" cy="39.5" r="1.0" fill="#d62728" fill-opacity="0.9"/><circle cx="78.3" cy="38.5" r="1.0" fill="#d62728" fill-opacity="0.9"/><circle cx="80.8" cy="37.5" r="1.0" fill="#d62728" fill-opacity="0.9"/><circle cx="83.3" cy="36.5" r="1.0" fill="#d62728" fill-opacity="0.9"/><circle cx="85.8" cy="35.9" r="1.0" fill="#d62728" fill-opacity="0.9"/><circle cx="88.3" cy="35.5" r="1.0" fill="#d62728" fill-opacity="0.9"/><circle cx="90.8" cy="35.1" r="1.0" fill="#d62728" fill-opacity="0.9"/><circle cx="93.2" cy="34.6" r="1.0" fill="#d62728" fill-opacity="0.9"/><circle cx="95.7" cy="34.2" r="1.0" fill="#d62728" fill-opacity="0.9"/><circle cx="98.2" cy="33.8" r="1.0" fill="#d62728" fill-opacity="0.9"/><circle cx="100.7" cy="33.3" r="1.0" fill="#d62728" fill-opacity="0.9"/><circle cx="103.2" cy="32.8" r="1.0" fill="#d62728" fill-opacity="0.9"/><circle cx="105.7" cy="32.3" r="1.0" fill="#d62728" fill-opacity="0.9"/><circle cx="108.2" cy="31.9" r="1.0" fill="#d62728" fill-opacity="0.9"/><circle cx="110.7" cy="31.4" r="1.0" fill="#d62728" fill-opacity="0.9"/><circle cx="113.2" cy="30.9" r="1.0" fill="#d62728" fill-opacity="0.9"/><circle cx="115.7" cy="30.4" r="1.0" fill="#d62728" fill-opacity="0.9"/><circle cx="118.2" cy="29.9" r="1.0" fill="#d62728" fill-opacity="0.9"/><circle cx="120.6" cy="29.6" r="1.0" fill="#d62728" fill-opacity="0.9"/><circle cx="123.1" cy="29.4" r="1.0" fill="#d62728" fill-opacity="0.9"/><circle cx="125.6" cy="29.3" r="1.0" fill="#d62728" fill-opacity="0.9"/><circle cx="128.1" cy="29.1" r="1.0" fill="#d62728" fill-opacity="0.9"/><circle cx="130.6" cy="29" r="1.0" fill="#d62728" fill-opacity="0.9"/><circle cx="133.1" cy="28.8" r="1.0" fill="#d62728" fill-opacity="0.9"/><circle cx="135.6" cy="28.6" r="1.0" fill="#d62728" fill-opacity="0.9"/><circle cx="138.1" cy="28.4" r="1.0" fill="#d62728" fill-opacity="0.9"/><circle cx="140.6" cy="28.3" r="1.0" fill="#d62728" fill-opacity="0.9"/><circle cx="143.1" cy="28.1" r="1.0" fill="#d62728" fill-opacity="0.9"/><circle cx="145.5" cy="28.1" r="1.0" fill="#d62728" fill-opacity="0.9"/><circle cx="148" cy="28.1" r="1.0" fill="#d62728" fill-opacity="0.9"/><circle cx="150.5" cy="28.1" r="1.0" fill="#d62728" fill-opacity="0.9"/><circle cx="153" cy="27.9" r="1.0" fill="#d62728" fill-opacity="0.9"/><circle cx="155.5" cy="27.8" r="1.0" fill="#d62728" fill-opacity="0.9"/><circle cx="158" cy="27.6" r="1.0" fill="#d62728" fill-opacity="0.9"/><circle cx="160.5" cy="27.5" r="1.0" fill="#d62728" fill-opacity="0.9"/><circle cx="163" cy="27.3" r="1.0" fill="#d62728" fill-opacity="0.9"/><circle cx="165.5" cy="27.2" r="1.0" fill="#d62728" fill-opacity="0.9"/><circle cx="168" cy="27" r="1.0" fill="#d62728" fill-opacity="0.9"/><circle cx="170.4" cy="26.9" r="1.0" fill="#d62728" fill-opacity="0.9"/><circle cx="172.9" cy="26.7" r="1.0" fill="#d62728" fill-opacity="0.9"/><circle cx="175.4" cy="26.6" r="1.0" fill="#d62728" fill-opacity="0.9"/><circle cx="177.9" cy="26.4" r="1.0" fill="#d62728" fill-opacity="0.9"/><circle cx="180.4" cy="26.2" r="1.0" fill="#d62728" fill-opacity="0.9"/><circle cx="182.9" cy="26.1" r="1.0" fill="#d62728" fill-opacity="0.9"/><circle cx="185.4" cy="25.9" r="1.0" fill="#d62728" fill-opacity="0.9"/><circle cx="187.9" cy="25.7" r="1.0" fill="#d62728" fill-opacity="0.9"/><circle cx="190.4" cy="25.5" r="1.0" fill="#d62728" fill-opacity="0.9"/><circle cx="192.8" cy="25.4" r="1.0" fill="#d62728" fill-opacity="0.9"/><circle cx="195.3" cy="25.2" r="1.0" fill="#d62728" fill-opacity="0.9"/><circle cx="197.8" cy="25.1" r="1.0" fill="#d62728" fill-opacity="0.9"/><circle cx="200.3" cy="25" r="1.0" fill="#d62728" fill-opacity="0.9"/><circle cx="202.8" cy="24.9" r="1.0" fill="#d62728" fill-opacity="0.9"/><circle cx="205.3" cy="24.7" r="1.0" fill="#d62728" fill-opacity="0.9"/><circle cx="207.8" cy="24.6" r="1.0" fill="#d62728" fill-opacity="0.9"/><circle cx="210.3" cy="24.5" r="1.0" fill="#d62728" fill-opacity="0.9"/><circle cx="212.8" cy="24.4" r="1.0" fill="#d62728" fill-opacity="0.9"/><circle cx="215.3" cy="24.2" r="1.0" fill="#d62728" fill-opacity="0.9"/><circle cx="217.8" cy="24.1" r="1.0" fill="#d62728" fill-opacity="0.9"/><circle cx="220.2" cy="24.1" r="1.0" fill="#d62728" fill-opacity="0.9"/><circle cx="222.7" cy="24" r="1.0" fill="#d62728" fill-opacity="0.9"/><circle cx="225.2" cy="23.9" r="1.0" fill="#d62728" fill-opacity="0.9"/><circle cx="227.7" cy="23.8" r="1.0" fill="#d62728" fill-opacity="0.9"/><circle cx="230.2" cy="23.7" r="1.0" fill="#d62728" fill-opacity="0.9"/><circle cx="232.7" cy="23.7" r="1.0" fill="#d62728" fill-opacity="0.9"/><circle cx="235.2" cy="23.6" r="1.0" fill="#d62728" fill-opacity="0.9"/><circle cx="237.7" cy="23.5" r="1.0" fill="#d62728" fill-opacity="0.9"/><circle cx="240.2" cy="23.4" r="1.0" fill="#d62728" fill-opacity="0.9"/><circle cx="242.7" cy="23.4" r="1.0" fill="#d62728" fill-opacity="0.9"/><circle cx="245.1" cy="23.3" r="1.0" fill="#d62728" fill-opacity="0.9"/><circle cx="247.6" cy="23.2" r="1.0" fill="#d62728" fill-opacity="0.9"/><circle cx="250.1" cy="23.2" r="1.0" fill="#d62728" fill-opacity="0.9"/><circle cx="252.6" cy="23.1" r="1.0" fill="#d62728" fill-opacity="0.9"/><circle cx="255.1" cy="23" r="1.0" fill="#d62728" fill-opacity="0.9"/><circle cx="257.6" cy="23" r="1.0" fill="#d62728" fill-opacity="0.9"/><circle cx="260.1" cy="22.9" r="1.0" fill="#d62728" fill-opacity="0.9"/><circle cx="262.6" cy="22.9" r="1.0" fill="#d62728" fill-opacity="0.9"/><circle cx="265.1" cy="22.9" r="1.0" fill="#d62728" fill-opacity="0.9"/><circle cx="267.6" cy="22.9" r="1.0" fill="#d62728" fill-opacity="0.9"/><circle cx="270" cy="22.9" r="1.0" fill="#d62728" fill-opacity="0.9"/><circle cx="272.5" cy="22.9" r="1.0" fill="#d62728" fill-opacity="0.9"/><circle cx="275" cy="22.9" r="1.0" fill="#d62728" fill-opacity="0.9"/><circle cx="277.5" cy="22.9" r="1.0" fill="#d62728" fill-opacity="0.9"/>
<polyline points="33.2,144.5 35.7,138 38.8,132.7 42.6,131.5 45,128.3 49,124.5 50.8,119.5 55.2,120.2 61.5,115 65.2,109.5 70.2,107.6 75.3,103.8 83.1,102.7 92.6,98.9 102,97 104.5,92 106.4,94.5 111.4,93.9 120,91.4 127.7,86.5 140.3,80.8 142.8,75.2 150.3,70.2 160.4,65.1 170,60 178.6,55 194,44 196,40.7 205,37.4 216,30.8 227,27.5 238,25.3 249,23.7 277.5,23.7" fill="none" stroke="#1f77b4" stroke-width="1.45" stroke-linejoin="round" stroke-opacity="1"/>
<circle cx="33.5" cy="143.7" r="1.25" fill="#1f77b4" fill-opacity="0.5" stroke="#1f77b4" stroke-opacity="0.9" stroke-width="0.6"/><circle cx="36" cy="137.5" r="1.25" fill="#1f77b4" fill-opacity="0.5" stroke="#1f77b4" stroke-opacity="0.9" stroke-width="0.6"/><circle cx="38.5" cy="133.3" r="1.25" fill="#1f77b4" fill-opacity="0.5" stroke="#1f77b4" stroke-opacity="0.9" stroke-width="0.6"/><circle cx="41" cy="132" r="1.25" fill="#1f77b4" fill-opacity="0.5" stroke="#1f77b4" stroke-opacity="0.9" stroke-width="0.6"/><circle cx="43.5" cy="130.4" r="1.25" fill="#1f77b4" fill-opacity="0.5" stroke="#1f77b4" stroke-opacity="0.9" stroke-width="0.6"/><circle cx="45.9" cy="127.4" r="1.25" fill="#1f77b4" fill-opacity="0.5" stroke="#1f77b4" stroke-opacity="0.9" stroke-width="0.6"/><circle cx="48.4" cy="125" r="1.25" fill="#1f77b4" fill-opacity="0.5" stroke="#1f77b4" stroke-opacity="0.9" stroke-width="0.6"/><circle cx="50.9" cy="119.5" r="1.25" fill="#1f77b4" fill-opacity="0.5" stroke="#1f77b4" stroke-opacity="0.9" stroke-width="0.6"/><circle cx="53.4" cy="119.9" r="1.25" fill="#1f77b4" fill-opacity="0.5" stroke="#1f77b4" stroke-opacity="0.9" stroke-width="0.6"/><circle cx="55.9" cy="119.6" r="1.25" fill="#1f77b4" fill-opacity="0.5" stroke="#1f77b4" stroke-opacity="0.9" stroke-width="0.6"/><circle cx="58.4" cy="117.6" r="1.25" fill="#1f77b4" fill-opacity="0.5" stroke="#1f77b4" stroke-opacity="0.9" stroke-width="0.6"/><circle cx="60.9" cy="115.5" r="1.25" fill="#1f77b4" fill-opacity="0.5" stroke="#1f77b4" stroke-opacity="0.9" stroke-width="0.6"/><circle cx="63.4" cy="112.2" r="1.25" fill="#1f77b4" fill-opacity="0.5" stroke="#1f77b4" stroke-opacity="0.9" stroke-width="0.6"/><circle cx="65.9" cy="109.2" r="1.25" fill="#1f77b4" fill-opacity="0.5" stroke="#1f77b4" stroke-opacity="0.9" stroke-width="0.6"/><circle cx="68.3" cy="108.3" r="1.25" fill="#1f77b4" fill-opacity="0.5" stroke="#1f77b4" stroke-opacity="0.9" stroke-width="0.6"/><circle cx="70.8" cy="107.1" r="1.25" fill="#1f77b4" fill-opacity="0.5" stroke="#1f77b4" stroke-opacity="0.9" stroke-width="0.6"/><circle cx="73.3" cy="105.3" r="1.25" fill="#1f77b4" fill-opacity="0.5" stroke="#1f77b4" stroke-opacity="0.9" stroke-width="0.6"/><circle cx="75.8" cy="103.7" r="1.25" fill="#1f77b4" fill-opacity="0.5" stroke="#1f77b4" stroke-opacity="0.9" stroke-width="0.6"/><circle cx="78.3" cy="103.4" r="1.25" fill="#1f77b4" fill-opacity="0.5" stroke="#1f77b4" stroke-opacity="0.9" stroke-width="0.6"/><circle cx="80.8" cy="103" r="1.25" fill="#1f77b4" fill-opacity="0.5" stroke="#1f77b4" stroke-opacity="0.9" stroke-width="0.6"/><circle cx="83.3" cy="102.6" r="1.25" fill="#1f77b4" fill-opacity="0.5" stroke="#1f77b4" stroke-opacity="0.9" stroke-width="0.6"/><circle cx="85.8" cy="101.6" r="1.25" fill="#1f77b4" fill-opacity="0.5" stroke="#1f77b4" stroke-opacity="0.9" stroke-width="0.6"/><circle cx="88.3" cy="100.6" r="1.25" fill="#1f77b4" fill-opacity="0.5" stroke="#1f77b4" stroke-opacity="0.9" stroke-width="0.6"/><circle cx="90.8" cy="99.6" r="1.25" fill="#1f77b4" fill-opacity="0.5" stroke="#1f77b4" stroke-opacity="0.9" stroke-width="0.6"/><circle cx="93.2" cy="98.8" r="1.25" fill="#1f77b4" fill-opacity="0.5" stroke="#1f77b4" stroke-opacity="0.9" stroke-width="0.6"/><circle cx="95.7" cy="98.3" r="1.25" fill="#1f77b4" fill-opacity="0.5" stroke="#1f77b4" stroke-opacity="0.9" stroke-width="0.6"/><circle cx="98.2" cy="97.8" r="1.25" fill="#1f77b4" fill-opacity="0.5" stroke="#1f77b4" stroke-opacity="0.9" stroke-width="0.6"/><circle cx="100.7" cy="97.3" r="1.25" fill="#1f77b4" fill-opacity="0.5" stroke="#1f77b4" stroke-opacity="0.9" stroke-width="0.6"/><circle cx="103.2" cy="94.6" r="1.25" fill="#1f77b4" fill-opacity="0.5" stroke="#1f77b4" stroke-opacity="0.9" stroke-width="0.6"/><circle cx="105.7" cy="93.6" r="1.25" fill="#1f77b4" fill-opacity="0.5" stroke="#1f77b4" stroke-opacity="0.9" stroke-width="0.6"/><circle cx="108.2" cy="94.3" r="1.25" fill="#1f77b4" fill-opacity="0.5" stroke="#1f77b4" stroke-opacity="0.9" stroke-width="0.6"/><circle cx="110.7" cy="94" r="1.25" fill="#1f77b4" fill-opacity="0.5" stroke="#1f77b4" stroke-opacity="0.9" stroke-width="0.6"/><circle cx="113.2" cy="93.4" r="1.25" fill="#1f77b4" fill-opacity="0.5" stroke="#1f77b4" stroke-opacity="0.9" stroke-width="0.6"/><circle cx="115.7" cy="92.7" r="1.25" fill="#1f77b4" fill-opacity="0.5" stroke="#1f77b4" stroke-opacity="0.9" stroke-width="0.6"/><circle cx="118.2" cy="91.9" r="1.25" fill="#1f77b4" fill-opacity="0.5" stroke="#1f77b4" stroke-opacity="0.9" stroke-width="0.6"/><circle cx="120.6" cy="91" r="1.25" fill="#1f77b4" fill-opacity="0.5" stroke="#1f77b4" stroke-opacity="0.9" stroke-width="0.6"/><circle cx="123.1" cy="89.4" r="1.25" fill="#1f77b4" fill-opacity="0.5" stroke="#1f77b4" stroke-opacity="0.9" stroke-width="0.6"/><circle cx="125.6" cy="87.8" r="1.25" fill="#1f77b4" fill-opacity="0.5" stroke="#1f77b4" stroke-opacity="0.9" stroke-width="0.6"/><circle cx="128.1" cy="86.3" r="1.25" fill="#1f77b4" fill-opacity="0.5" stroke="#1f77b4" stroke-opacity="0.9" stroke-width="0.6"/><circle cx="130.6" cy="85.2" r="1.25" fill="#1f77b4" fill-opacity="0.5" stroke="#1f77b4" stroke-opacity="0.9" stroke-width="0.6"/><circle cx="133.1" cy="84.1" r="1.25" fill="#1f77b4" fill-opacity="0.5" stroke="#1f77b4" stroke-opacity="0.9" stroke-width="0.6"/><circle cx="135.6" cy="82.9" r="1.25" fill="#1f77b4" fill-opacity="0.5" stroke="#1f77b4" stroke-opacity="0.9" stroke-width="0.6"/><circle cx="138.1" cy="81.8" r="1.25" fill="#1f77b4" fill-opacity="0.5" stroke="#1f77b4" stroke-opacity="0.9" stroke-width="0.6"/><circle cx="140.6" cy="80.2" r="1.25" fill="#1f77b4" fill-opacity="0.5" stroke="#1f77b4" stroke-opacity="0.9" stroke-width="0.6"/><circle cx="143.1" cy="75" r="1.25" fill="#1f77b4" fill-opacity="0.5" stroke="#1f77b4" stroke-opacity="0.9" stroke-width="0.6"/><circle cx="145.5" cy="73.4" r="1.25" fill="#1f77b4" fill-opacity="0.5" stroke="#1f77b4" stroke-opacity="0.9" stroke-width="0.6"/><circle cx="148" cy="71.7" r="1.25" fill="#1f77b4" fill-opacity="0.5" stroke="#1f77b4" stroke-opacity="0.9" stroke-width="0.6"/><circle cx="150.5" cy="70.1" r="1.25" fill="#1f77b4" fill-opacity="0.5" stroke="#1f77b4" stroke-opacity="0.9" stroke-width="0.6"/><circle cx="153" cy="68.8" r="1.25" fill="#1f77b4" fill-opacity="0.5" stroke="#1f77b4" stroke-opacity="0.9" stroke-width="0.6"/><circle cx="155.5" cy="67.6" r="1.25" fill="#1f77b4" fill-opacity="0.5" stroke="#1f77b4" stroke-opacity="0.9" stroke-width="0.6"/><circle cx="158" cy="66.3" r="1.25" fill="#1f77b4" fill-opacity="0.5" stroke="#1f77b4" stroke-opacity="0.9" stroke-width="0.6"/><circle cx="160.5" cy="65.1" r="1.25" fill="#1f77b4" fill-opacity="0.5" stroke="#1f77b4" stroke-opacity="0.9" stroke-width="0.6"/><circle cx="163" cy="63.7" r="1.25" fill="#1f77b4" fill-opacity="0.5" stroke="#1f77b4" stroke-opacity="0.9" stroke-width="0.6"/><circle cx="165.5" cy="62.4" r="1.25" fill="#1f77b4" fill-opacity="0.5" stroke="#1f77b4" stroke-opacity="0.9" stroke-width="0.6"/><circle cx="168" cy="61.1" r="1.25" fill="#1f77b4" fill-opacity="0.5" stroke="#1f77b4" stroke-opacity="0.9" stroke-width="0.6"/><circle cx="170.4" cy="59.7" r="1.25" fill="#1f77b4" fill-opacity="0.5" stroke="#1f77b4" stroke-opacity="0.9" stroke-width="0.6"/><circle cx="172.9" cy="58.3" r="1.25" fill="#1f77b4" fill-opacity="0.5" stroke="#1f77b4" stroke-opacity="0.9" stroke-width="0.6"/><circle cx="175.4" cy="56.8" r="1.25" fill="#1f77b4" fill-opacity="0.5" stroke="#1f77b4" stroke-opacity="0.9" stroke-width="0.6"/><circle cx="177.9" cy="55.4" r="1.25" fill="#1f77b4" fill-opacity="0.5" stroke="#1f77b4" stroke-opacity="0.9" stroke-width="0.6"/><circle cx="180.4" cy="53.7" r="1.25" fill="#1f77b4" fill-opacity="0.5" stroke="#1f77b4" stroke-opacity="0.9" stroke-width="0.6"/><circle cx="182.9" cy="51.9" r="1.25" fill="#1f77b4" fill-opacity="0.5" stroke="#1f77b4" stroke-opacity="0.9" stroke-width="0.6"/><circle cx="185.4" cy="50.2" r="1.25" fill="#1f77b4" fill-opacity="0.5" stroke="#1f77b4" stroke-opacity="0.9" stroke-width="0.6"/><circle cx="187.9" cy="48.4" r="1.25" fill="#1f77b4" fill-opacity="0.5" stroke="#1f77b4" stroke-opacity="0.9" stroke-width="0.6"/><circle cx="190.4" cy="46.6" r="1.25" fill="#1f77b4" fill-opacity="0.5" stroke="#1f77b4" stroke-opacity="0.9" stroke-width="0.6"/><circle cx="192.8" cy="44.8" r="1.25" fill="#1f77b4" fill-opacity="0.5" stroke="#1f77b4" stroke-opacity="0.9" stroke-width="0.6"/><circle cx="195.3" cy="41.8" r="1.25" fill="#1f77b4" fill-opacity="0.5" stroke="#1f77b4" stroke-opacity="0.9" stroke-width="0.6"/><circle cx="197.8" cy="40" r="1.25" fill="#1f77b4" fill-opacity="0.5" stroke="#1f77b4" stroke-opacity="0.9" stroke-width="0.6"/><circle cx="200.3" cy="39.1" r="1.25" fill="#1f77b4" fill-opacity="0.5" stroke="#1f77b4" stroke-opacity="0.9" stroke-width="0.6"/><circle cx="202.8" cy="38.2" r="1.25" fill="#1f77b4" fill-opacity="0.5" stroke="#1f77b4" stroke-opacity="0.9" stroke-width="0.6"/><circle cx="205.3" cy="37.2" r="1.25" fill="#1f77b4" fill-opacity="0.5" stroke="#1f77b4" stroke-opacity="0.9" stroke-width="0.6"/><circle cx="207.8" cy="35.7" r="1.25" fill="#1f77b4" fill-opacity="0.5" stroke="#1f77b4" stroke-opacity="0.9" stroke-width="0.6"/><circle cx="210.3" cy="34.2" r="1.25" fill="#1f77b4" fill-opacity="0.5" stroke="#1f77b4" stroke-opacity="0.9" stroke-width="0.6"/><circle cx="212.8" cy="32.7" r="1.25" fill="#1f77b4" fill-opacity="0.5" stroke="#1f77b4" stroke-opacity="0.9" stroke-width="0.6"/><circle cx="215.3" cy="31.2" r="1.25" fill="#1f77b4" fill-opacity="0.5" stroke="#1f77b4" stroke-opacity="0.9" stroke-width="0.6"/><circle cx="217.8" cy="30.3" r="1.25" fill="#1f77b4" fill-opacity="0.5" stroke="#1f77b4" stroke-opacity="0.9" stroke-width="0.6"/><circle cx="220.2" cy="29.5" r="1.25" fill="#1f77b4" fill-opacity="0.5" stroke="#1f77b4" stroke-opacity="0.9" stroke-width="0.6"/><circle cx="222.7" cy="28.8" r="1.25" fill="#1f77b4" fill-opacity="0.5" stroke="#1f77b4" stroke-opacity="0.9" stroke-width="0.6"/><circle cx="225.2" cy="28" r="1.25" fill="#1f77b4" fill-opacity="0.5" stroke="#1f77b4" stroke-opacity="0.9" stroke-width="0.6"/><circle cx="227.7" cy="27.4" r="1.25" fill="#1f77b4" fill-opacity="0.5" stroke="#1f77b4" stroke-opacity="0.9" stroke-width="0.6"/><circle cx="230.2" cy="26.9" r="1.25" fill="#1f77b4" fill-opacity="0.5" stroke="#1f77b4" stroke-opacity="0.9" stroke-width="0.6"/><circle cx="232.7" cy="26.4" r="1.25" fill="#1f77b4" fill-opacity="0.5" stroke="#1f77b4" stroke-opacity="0.9" stroke-width="0.6"/><circle cx="235.2" cy="25.9" r="1.25" fill="#1f77b4" fill-opacity="0.5" stroke="#1f77b4" stroke-opacity="0.9" stroke-width="0.6"/><circle cx="237.7" cy="25.4" r="1.25" fill="#1f77b4" fill-opacity="0.5" stroke="#1f77b4" stroke-opacity="0.9" stroke-width="0.6"/><circle cx="240.2" cy="25" r="1.25" fill="#1f77b4" fill-opacity="0.5" stroke="#1f77b4" stroke-opacity="0.9" stroke-width="0.6"/><circle cx="242.7" cy="24.6" r="1.25" fill="#1f77b4" fill-opacity="0.5" stroke="#1f77b4" stroke-opacity="0.9" stroke-width="0.6"/><circle cx="245.1" cy="24.3" r="1.25" fill="#1f77b4" fill-opacity="0.5" stroke="#1f77b4" stroke-opacity="0.9" stroke-width="0.6"/><circle cx="247.6" cy="23.9" r="1.25" fill="#1f77b4" fill-opacity="0.5" stroke="#1f77b4" stroke-opacity="0.9" stroke-width="0.6"/><circle cx="250.1" cy="23.7" r="1.25" fill="#1f77b4" fill-opacity="0.5" stroke="#1f77b4" stroke-opacity="0.9" stroke-width="0.6"/><circle cx="252.6" cy="23.7" r="1.25" fill="#1f77b4" fill-opacity="0.5" stroke="#1f77b4" stroke-opacity="0.9" stroke-width="0.6"/><circle cx="255.1" cy="23.7" r="1.25" fill="#1f77b4" fill-opacity="0.5" stroke="#1f77b4" stroke-opacity="0.9" stroke-width="0.6"/><circle cx="257.6" cy="23.7" r="1.25" fill="#1f77b4" fill-opacity="0.5" stroke="#1f77b4" stroke-opacity="0.9" stroke-width="0.6"/><circle cx="260.1" cy="23.7" r="1.25" fill="#1f77b4" fill-opacity="0.5" stroke="#1f77b4" stroke-opacity="0.9" stroke-width="0.6"/><circle cx="262.6" cy="23.7" r="1.25" fill="#1f77b4" fill-opacity="0.5" stroke="#1f77b4" stroke-opacity="0.9" stroke-width="0.6"/><circle cx="265.1" cy="23.7" r="1.25" fill="#1f77b4" fill-opacity="0.5" stroke="#1f77b4" stroke-opacity="0.9" stroke-width="0.6"/><circle cx="267.6" cy="23.7" r="1.25" fill="#1f77b4" fill-opacity="0.5" stroke="#1f77b4" stroke-opacity="0.9" stroke-width="0.6"/><circle cx="270" cy="23.7" r="1.25" fill="#1f77b4" fill-opacity="0.5" stroke="#1f77b4" stroke-opacity="0.9" stroke-width="0.6"/><circle cx="272.5" cy="23.7" r="1.25" fill="#1f77b4" fill-opacity="0.5" stroke="#1f77b4" stroke-opacity="0.9" stroke-width="0.6"/><circle cx="275" cy="23.7" r="1.25" fill="#1f77b4" fill-opacity="0.5" stroke="#1f77b4" stroke-opacity="0.9" stroke-width="0.6"/><circle cx="277.5" cy="23.7" r="1.25" fill="#1f77b4" fill-opacity="0.5" stroke="#1f77b4" stroke-opacity="0.9" stroke-width="0.6"/>
<polyline points="33.7,166.7 36.3,161.6 40.1,154 43.9,147.2 48.3,137.1 53.3,129 59,121.4 65.2,115.1 71.5,108.8 77.8,102.6 80,101.4 86.3,97.7 92.6,93.9 98.9,88.2 105.2,84.5 111.4,81.3 120,78.2 127.7,76.4 140.3,73.3 147.8,70.2 157.8,64.5 170,58.8 194,52.7 216,47.3 238,44 260,42.2 277.5,42.2" fill="none" stroke="#2ca02c" stroke-width="1.45" stroke-linejoin="round" stroke-opacity="1"/>
<path d="M36 160.7L37 162.2L36 163.8L34.9 162.2Z" fill="#2ca02c" fill-opacity="0.5" stroke="#2ca02c" stroke-opacity="0.9" stroke-width="0.6"/><path d="M38.5 155.7L39.5 157.3L38.5 158.8L37.4 157.3Z" fill="#2ca02c" fill-opacity="0.5" stroke="#2ca02c" stroke-opacity="0.9" stroke-width="0.6"/><path d="M41 150.9L42 152.5L41 154L39.9 152.5Z" fill="#2ca02c" fill-opacity="0.5" stroke="#2ca02c" stroke-opacity="0.9" stroke-width="0.6"/><path d="M43.5 146.4L44.5 148L43.5 149.6L42.4 148Z" fill="#2ca02c" fill-opacity="0.5" stroke="#2ca02c" stroke-opacity="0.9" stroke-width="0.6"/><path d="M45.9 141L47 142.5L45.9 144.1L44.9 142.5Z" fill="#2ca02c" fill-opacity="0.5" stroke="#2ca02c" stroke-opacity="0.9" stroke-width="0.6"/><path d="M48.4 135.3L49.5 136.9L48.4 138.5L47.4 136.9Z" fill="#2ca02c" fill-opacity="0.5" stroke="#2ca02c" stroke-opacity="0.9" stroke-width="0.6"/><path d="M50.9 131.3L52 132.9L50.9 134.4L49.9 132.9Z" fill="#2ca02c" fill-opacity="0.5" stroke="#2ca02c" stroke-opacity="0.9" stroke-width="0.6"/><path d="M53.4 127.3L54.5 128.9L53.4 130.4L52.3 128.9Z" fill="#2ca02c" fill-opacity="0.5" stroke="#2ca02c" stroke-opacity="0.9" stroke-width="0.6"/><path d="M55.9 124L57 125.5L55.9 127.1L54.8 125.5Z" fill="#2ca02c" fill-opacity="0.5" stroke="#2ca02c" stroke-opacity="0.9" stroke-width="0.6"/><path d="M58.4 120.7L59.5 122.2L58.4 123.8L57.3 122.2Z" fill="#2ca02c" fill-opacity="0.5" stroke="#2ca02c" stroke-opacity="0.9" stroke-width="0.6"/><path d="M60.9 117.9L61.9 119.5L60.9 121.1L59.8 119.5Z" fill="#2ca02c" fill-opacity="0.5" stroke="#2ca02c" stroke-opacity="0.9" stroke-width="0.6"/><path d="M63.4 115.4L64.4 117L63.4 118.5L62.3 117Z" fill="#2ca02c" fill-opacity="0.5" stroke="#2ca02c" stroke-opacity="0.9" stroke-width="0.6"/><path d="M65.9 112.9L66.9 114.4L65.9 116L64.8 114.4Z" fill="#2ca02c" fill-opacity="0.5" stroke="#2ca02c" stroke-opacity="0.9" stroke-width="0.6"/><path d="M68.3 110.4L69.4 112L68.3 113.5L67.3 112Z" fill="#2ca02c" fill-opacity="0.5" stroke="#2ca02c" stroke-opacity="0.9" stroke-width="0.6"/><path d="M70.8 107.9L71.9 109.5L70.8 111L69.8 109.5Z" fill="#2ca02c" fill-opacity="0.5" stroke="#2ca02c" stroke-opacity="0.9" stroke-width="0.6"/><path d="M73.3 105.4L74.4 107L73.3 108.6L72.3 107Z" fill="#2ca02c" fill-opacity="0.5" stroke="#2ca02c" stroke-opacity="0.9" stroke-width="0.6"/><path d="M75.8 103L76.9 104.5L75.8 106.1L74.8 104.5Z" fill="#2ca02c" fill-opacity="0.5" stroke="#2ca02c" stroke-opacity="0.9" stroke-width="0.6"/><path d="M78.3 100.8L79.4 102.3L78.3 103.9L77.2 102.3Z" fill="#2ca02c" fill-opacity="0.5" stroke="#2ca02c" stroke-opacity="0.9" stroke-width="0.6"/><path d="M80.8 99.4L81.9 100.9L80.8 102.5L79.7 100.9Z" fill="#2ca02c" fill-opacity="0.5" stroke="#2ca02c" stroke-opacity="0.9" stroke-width="0.6"/><path d="M83.3 97.9L84.4 99.5L83.3 101L82.2 99.5Z" fill="#2ca02c" fill-opacity="0.5" stroke="#2ca02c" stroke-opacity="0.9" stroke-width="0.6"/><path d="M85.8 96.4L86.8 98L85.8 99.6L84.7 98Z" fill="#2ca02c" fill-opacity="0.5" stroke="#2ca02c" stroke-opacity="0.9" stroke-width="0.6"/><path d="M88.3 94.9L89.3 96.5L88.3 98.1L87.2 96.5Z" fill="#2ca02c" fill-opacity="0.5" stroke="#2ca02c" stroke-opacity="0.9" stroke-width="0.6"/><path d="M90.8 93.4L91.8 95L90.8 96.6L89.7 95Z" fill="#2ca02c" fill-opacity="0.5" stroke="#2ca02c" stroke-opacity="0.9" stroke-width="0.6"/><path d="M93.2 91.7L94.3 93.3L93.2 94.9L92.2 93.3Z" fill="#2ca02c" fill-opacity="0.5" stroke="#2ca02c" stroke-opacity="0.9" stroke-width="0.6"/><path d="M95.7 89.5L96.8 91.1L95.7 92.6L94.7 91.1Z" fill="#2ca02c" fill-opacity="0.5" stroke="#2ca02c" stroke-opacity="0.9" stroke-width="0.6"/><path d="M98.2 87.2L99.3 88.8L98.2 90.4L97.2 88.8Z" fill="#2ca02c" fill-opacity="0.5" stroke="#2ca02c" stroke-opacity="0.9" stroke-width="0.6"/><path d="M100.7 85.6L101.8 87.1L100.7 88.7L99.7 87.1Z" fill="#2ca02c" fill-opacity="0.5" stroke="#2ca02c" stroke-opacity="0.9" stroke-width="0.6"/><path d="M103.2 84.1L104.3 85.7L103.2 87.2L102.1 85.7Z" fill="#2ca02c" fill-opacity="0.5" stroke="#2ca02c" stroke-opacity="0.9" stroke-width="0.6"/><path d="M105.7 82.7L106.8 84.2L105.7 85.8L104.6 84.2Z" fill="#2ca02c" fill-opacity="0.5" stroke="#2ca02c" stroke-opacity="0.9" stroke-width="0.6"/><path d="M108.2 81.4L109.3 83L108.2 84.5L107.1 83Z" fill="#2ca02c" fill-opacity="0.5" stroke="#2ca02c" stroke-opacity="0.9" stroke-width="0.6"/><path d="M110.7 80.1L111.7 81.7L110.7 83.2L109.6 81.7Z" fill="#2ca02c" fill-opacity="0.5" stroke="#2ca02c" stroke-opacity="0.9" stroke-width="0.6"/><path d="M113.2 79.1L114.2 80.7L113.2 82.2L112.1 80.7Z" fill="#2ca02c" fill-opacity="0.5" stroke="#2ca02c" stroke-opacity="0.9" stroke-width="0.6"/><path d="M115.7 78.2L116.7 79.8L115.7 81.3L114.6 79.8Z" fill="#2ca02c" fill-opacity="0.5" stroke="#2ca02c" stroke-opacity="0.9" stroke-width="0.6"/><path d="M118.2 77.3L119.2 78.9L118.2 80.4L117.1 78.9Z" fill="#2ca02c" fill-opacity="0.5" stroke="#2ca02c" stroke-opacity="0.9" stroke-width="0.6"/><path d="M120.6 76.5L121.7 78.1L120.6 79.6L119.6 78.1Z" fill="#2ca02c" fill-opacity="0.5" stroke="#2ca02c" stroke-opacity="0.9" stroke-width="0.6"/><path d="M123.1 75.9L124.2 77.5L123.1 79L122.1 77.5Z" fill="#2ca02c" fill-opacity="0.5" stroke="#2ca02c" stroke-opacity="0.9" stroke-width="0.6"/><path d="M125.6 75.3L126.7 76.9L125.6 78.4L124.6 76.9Z" fill="#2ca02c" fill-opacity="0.5" stroke="#2ca02c" stroke-opacity="0.9" stroke-width="0.6"/><path d="M128.1 74.7L129.2 76.3L128.1 77.9L127 76.3Z" fill="#2ca02c" fill-opacity="0.5" stroke="#2ca02c" stroke-opacity="0.9" stroke-width="0.6"/><path d="M130.6 74.1L131.7 75.7L130.6 77.2L129.5 75.7Z" fill="#2ca02c" fill-opacity="0.5" stroke="#2ca02c" stroke-opacity="0.9" stroke-width="0.6"/><path d="M133.1 73.5L134.2 75.1L133.1 76.6L132 75.1Z" fill="#2ca02c" fill-opacity="0.5" stroke="#2ca02c" stroke-opacity="0.9" stroke-width="0.6"/><path d="M135.6 72.9L136.6 74.5L135.6 76L134.5 74.5Z" fill="#2ca02c" fill-opacity="0.5" stroke="#2ca02c" stroke-opacity="0.9" stroke-width="0.6"/><path d="M138.1 72.3L139.1 73.8L138.1 75.4L137 73.8Z" fill="#2ca02c" fill-opacity="0.5" stroke="#2ca02c" stroke-opacity="0.9" stroke-width="0.6"/><path d="M140.6 71.6L141.6 73.2L140.6 74.8L139.5 73.2Z" fill="#2ca02c" fill-opacity="0.5" stroke="#2ca02c" stroke-opacity="0.9" stroke-width="0.6"/><path d="M143.1 70.6L144.1 72.2L143.1 73.7L142 72.2Z" fill="#2ca02c" fill-opacity="0.5" stroke="#2ca02c" stroke-opacity="0.9" stroke-width="0.6"/><path d="M145.5 69.6L146.6 71.1L145.5 72.7L144.5 71.1Z" fill="#2ca02c" fill-opacity="0.5" stroke="#2ca02c" stroke-opacity="0.9" stroke-width="0.6"/><path d="M148 68.5L149.1 70.1L148 71.6L147 70.1Z" fill="#2ca02c" fill-opacity="0.5" stroke="#2ca02c" stroke-opacity="0.9" stroke-width="0.6"/><path d="M150.5 67.1L151.6 68.6L150.5 70.2L149.5 68.6Z" fill="#2ca02c" fill-opacity="0.5" stroke="#2ca02c" stroke-opacity="0.9" stroke-width="0.6"/><path d="M153 65.7L154.1 67.2L153 68.8L151.9 67.2Z" fill="#2ca02c" fill-opacity="0.5" stroke="#2ca02c" stroke-opacity="0.9" stroke-width="0.6"/><path d="M155.5 64.2L156.6 65.8L155.5 67.4L154.4 65.8Z" fill="#2ca02c" fill-opacity="0.5" stroke="#2ca02c" stroke-opacity="0.9" stroke-width="0.6"/><path d="M158 62.8L159.1 64.4L158 66L156.9 64.4Z" fill="#2ca02c" fill-opacity="0.5" stroke="#2ca02c" stroke-opacity="0.9" stroke-width="0.6"/><path d="M160.5 61.7L161.5 63.2L160.5 64.8L159.4 63.2Z" fill="#2ca02c" fill-opacity="0.5" stroke="#2ca02c" stroke-opacity="0.9" stroke-width="0.6"/><path d="M163 60.5L164 62.1L163 63.6L161.9 62.1Z" fill="#2ca02c" fill-opacity="0.5" stroke="#2ca02c" stroke-opacity="0.9" stroke-width="0.6"/><path d="M165.5 59.4L166.5 60.9L165.5 62.5L164.4 60.9Z" fill="#2ca02c" fill-opacity="0.5" stroke="#2ca02c" stroke-opacity="0.9" stroke-width="0.6"/><path d="M168 58.2L169 59.8L168 61.3L166.9 59.8Z" fill="#2ca02c" fill-opacity="0.5" stroke="#2ca02c" stroke-opacity="0.9" stroke-width="0.6"/><path d="M170.4 57.1L171.5 58.7L170.4 60.3L169.4 58.7Z" fill="#2ca02c" fill-opacity="0.5" stroke="#2ca02c" stroke-opacity="0.9" stroke-width="0.6"/><path d="M172.9 56.5L174 58.1L172.9 59.6L171.9 58.1Z" fill="#2ca02c" fill-opacity="0.5" stroke="#2ca02c" stroke-opacity="0.9" stroke-width="0.6"/><path d="M175.4 55.9L176.5 57.4L175.4 59L174.4 57.4Z" fill="#2ca02c" fill-opacity="0.5" stroke="#2ca02c" stroke-opacity="0.9" stroke-width="0.6"/><path d="M177.9 55.2L179 56.8L177.9 58.4L176.8 56.8Z" fill="#2ca02c" fill-opacity="0.5" stroke="#2ca02c" stroke-opacity="0.9" stroke-width="0.6"/><path d="M180.4 54.6L181.5 56.2L180.4 57.7L179.3 56.2Z" fill="#2ca02c" fill-opacity="0.5" stroke="#2ca02c" stroke-opacity="0.9" stroke-width="0.6"/><path d="M182.9 54L184 55.5L182.9 57.1L181.8 55.5Z" fill="#2ca02c" fill-opacity="0.5" stroke="#2ca02c" stroke-opacity="0.9" stroke-width="0.6"/><path d="M185.4 53.3L186.4 54.9L185.4 56.5L184.3 54.9Z" fill="#2ca02c" fill-opacity="0.5" stroke="#2ca02c" stroke-opacity="0.9" stroke-width="0.6"/><path d="M187.9 52.7L188.9 54.3L187.9 55.8L186.8 54.3Z" fill="#2ca02c" fill-opacity="0.5" stroke="#2ca02c" stroke-opacity="0.9" stroke-width="0.6"/><path d="M190.4 52.1L191.4 53.6L190.4 55.2L189.3 53.6Z" fill="#2ca02c" fill-opacity="0.5" stroke="#2ca02c" stroke-opacity="0.9" stroke-width="0.6"/><path d="M192.8 51.4L193.9 53L192.8 54.6L191.8 53Z" fill="#2ca02c" fill-opacity="0.5" stroke="#2ca02c" stroke-opacity="0.9" stroke-width="0.6"/><path d="M195.3 50.8L196.4 52.4L195.3 53.9L194.3 52.4Z" fill="#2ca02c" fill-opacity="0.5" stroke="#2ca02c" stroke-opacity="0.9" stroke-width="0.6"/><path d="M197.8 50.2L198.9 51.8L197.8 53.3L196.8 51.8Z" fill="#2ca02c" fill-opacity="0.5" stroke="#2ca02c" stroke-opacity="0.9" stroke-width="0.6"/><path d="M200.3 49.6L201.4 51.1L200.3 52.7L199.3 51.1Z" fill="#2ca02c" fill-opacity="0.5" stroke="#2ca02c" stroke-opacity="0.9" stroke-width="0.6"/><path d="M202.8 49L203.9 50.5L202.8 52.1L201.7 50.5Z" fill="#2ca02c" fill-opacity="0.5" stroke="#2ca02c" stroke-opacity="0.9" stroke-width="0.6"/><path d="M205.3 48.4L206.4 49.9L205.3 51.5L204.2 49.9Z" fill="#2ca02c" fill-opacity="0.5" stroke="#2ca02c" stroke-opacity="0.9" stroke-width="0.6"/><path d="M207.8 47.8L208.9 49.3L207.8 50.9L206.7 49.3Z" fill="#2ca02c" fill-opacity="0.5" stroke="#2ca02c" stroke-opacity="0.9" stroke-width="0.6"/><path d="M210.3 47.1L211.3 48.7L210.3 50.3L209.2 48.7Z" fill="#2ca02c" fill-opacity="0.5" stroke="#2ca02c" stroke-opacity="0.9" stroke-width="0.6"/><path d="M212.8 46.5L213.8 48.1L212.8 49.7L211.7 48.1Z" fill="#2ca02c" fill-opacity="0.5" stroke="#2ca02c" stroke-opacity="0.9" stroke-width="0.6"/><path d="M215.3 45.9L216.3 47.5L215.3 49L214.2 47.5Z" fill="#2ca02c" fill-opacity="0.5" stroke="#2ca02c" stroke-opacity="0.9" stroke-width="0.6"/><path d="M217.8 45.5L218.8 47L217.8 48.6L216.7 47Z" fill="#2ca02c" fill-opacity="0.5" stroke="#2ca02c" stroke-opacity="0.9" stroke-width="0.6"/><path d="M220.2 45.1L221.3 46.7L220.2 48.2L219.2 46.7Z" fill="#2ca02c" fill-opacity="0.5" stroke="#2ca02c" stroke-opacity="0.9" stroke-width="0.6"/><path d="M222.7 44.7L223.8 46.3L222.7 47.9L221.7 46.3Z" fill="#2ca02c" fill-opacity="0.5" stroke="#2ca02c" stroke-opacity="0.9" stroke-width="0.6"/><path d="M225.2 44.4L226.3 45.9L225.2 47.5L224.2 45.9Z" fill="#2ca02c" fill-opacity="0.5" stroke="#2ca02c" stroke-opacity="0.9" stroke-width="0.6"/><path d="M227.7 44L228.8 45.5L227.7 47.1L226.6 45.5Z" fill="#2ca02c" fill-opacity="0.5" stroke="#2ca02c" stroke-opacity="0.9" stroke-width="0.6"/><path d="M230.2 43.6L231.3 45.2L230.2 46.7L229.1 45.2Z" fill="#2ca02c" fill-opacity="0.5" stroke="#2ca02c" stroke-opacity="0.9" stroke-width="0.6"/><path d="M232.7 43.2L233.8 44.8L232.7 46.4L231.6 44.8Z" fill="#2ca02c" fill-opacity="0.5" stroke="#2ca02c" stroke-opacity="0.9" stroke-width="0.6"/><path d="M235.2 42.9L236.2 44.4L235.2 46L234.1 44.4Z" fill="#2ca02c" fill-opacity="0.5" stroke="#2ca02c" stroke-opacity="0.9" stroke-width="0.6"/><path d="M237.7 42.5L238.7 44L237.7 45.6L236.6 44Z" fill="#2ca02c" fill-opacity="0.5" stroke="#2ca02c" stroke-opacity="0.9" stroke-width="0.6"/><path d="M240.2 42.3L241.2 43.8L240.2 45.4L239.1 43.8Z" fill="#2ca02c" fill-opacity="0.5" stroke="#2ca02c" stroke-opacity="0.9" stroke-width="0.6"/><path d="M242.7 42.1L243.7 43.6L242.7 45.2L241.6 43.6Z" fill="#2ca02c" fill-opacity="0.5" stroke="#2ca02c" stroke-opacity="0.9" stroke-width="0.6"/><path d="M245.1 41.9L246.2 43.4L245.1 45L244.1 43.4Z" fill="#2ca02c" fill-opacity="0.5" stroke="#2ca02c" stroke-opacity="0.9" stroke-width="0.6"/><path d="M247.6 41.6L248.7 43.2L247.6 44.8L246.6 43.2Z" fill="#2ca02c" fill-opacity="0.5" stroke="#2ca02c" stroke-opacity="0.9" stroke-width="0.6"/><path d="M250.1 41.4L251.2 43L250.1 44.6L249.1 43Z" fill="#2ca02c" fill-opacity="0.5" stroke="#2ca02c" stroke-opacity="0.9" stroke-width="0.6"/><path d="M252.6 41.2L253.7 42.8L252.6 44.4L251.5 42.8Z" fill="#2ca02c" fill-opacity="0.5" stroke="#2ca02c" stroke-opacity="0.9" stroke-width="0.6"/><path d="M255.1 41L256.2 42.6L255.1 44.2L254 42.6Z" fill="#2ca02c" fill-opacity="0.5" stroke="#2ca02c" stroke-opacity="0.9" stroke-width="0.6"/><path d="M257.6 40.8L258.7 42.4L257.6 44L256.5 42.4Z" fill="#2ca02c" fill-opacity="0.5" stroke="#2ca02c" stroke-opacity="0.9" stroke-width="0.6"/><path d="M260.1 40.6L261.1 42.2L260.1 43.8L259 42.2Z" fill="#2ca02c" fill-opacity="0.5" stroke="#2ca02c" stroke-opacity="0.9" stroke-width="0.6"/><path d="M262.6 40.6L263.6 42.2L262.6 43.8L261.5 42.2Z" fill="#2ca02c" fill-opacity="0.5" stroke="#2ca02c" stroke-opacity="0.9" stroke-width="0.6"/><path d="M265.1 40.6L266.1 42.2L265.1 43.8L264 42.2Z" fill="#2ca02c" fill-opacity="0.5" stroke="#2ca02c" stroke-opacity="0.9" stroke-width="0.6"/><path d="M267.6 40.6L268.6 42.2L267.6 43.8L266.5 42.2Z" fill="#2ca02c" fill-opacity="0.5" stroke="#2ca02c" stroke-opacity="0.9" stroke-width="0.6"/><path d="M270 40.6L271.1 42.2L270 43.8L269 42.2Z" fill="#2ca02c" fill-opacity="0.5" stroke="#2ca02c" stroke-opacity="0.9" stroke-width="0.6"/><path d="M272.5 40.6L273.6 42.2L272.5 43.8L271.5 42.2Z" fill="#2ca02c" fill-opacity="0.5" stroke="#2ca02c" stroke-opacity="0.9" stroke-width="0.6"/><path d="M275 40.6L276.1 42.2L275 43.8L274 42.2Z" fill="#2ca02c" fill-opacity="0.5" stroke="#2ca02c" stroke-opacity="0.9" stroke-width="0.6"/><path d="M277.5 40.6L278.6 42.2L277.5 43.8L276.4 42.2Z" fill="#2ca02c" fill-opacity="0.5" stroke="#2ca02c" stroke-opacity="0.9" stroke-width="0.6"/>
</g>
<rect x="21.3" y="2.4" width="267.7" height="265.1" fill="none" stroke="#262626" stroke-width="1.1"/>
<line x1="31" y1="267.5" x2="31" y2="269.5" stroke="#262626" stroke-width="0.9"/>
<text x="31" y="274.6" font-size="5.2" text-anchor="middle" fill="#333">0.0</text>
<line x1="80.8" y1="267.5" x2="80.8" y2="269.5" stroke="#262626" stroke-width="0.9"/>
<text x="80.8" y="274.6" font-size="5.2" text-anchor="middle" fill="#333">0.2</text>
<line x1="130.6" y1="267.5" x2="130.6" y2="269.5" stroke="#262626" stroke-width="0.9"/>
<text x="130.6" y="274.6" font-size="5.2" text-anchor="middle" fill="#333">0.4</text>
<line x1="180.4" y1="267.5" x2="180.4" y2="269.5" stroke="#262626" stroke-width="0.9"/>
<text x="180.4" y="274.6" font-size="5.2" text-anchor="middle" fill="#333">0.6</text>
<line x1="230.2" y1="267.5" x2="230.2" y2="269.5" stroke="#262626" stroke-width="0.9"/>
<text x="230.2" y="274.6" font-size="5.2" text-anchor="middle" fill="#333">0.8</text>
<line x1="280" y1="267.5" x2="280" y2="269.5" stroke="#262626" stroke-width="0.9"/>
<text x="280" y="274.6" font-size="5.2" text-anchor="middle" fill="#333">1.0</text>
<line x1="19.3" y1="267.5" x2="21.3" y2="267.5" stroke="#262626" stroke-width="0.9"/>
<text x="17.8" y="270.3" font-size="5.2" text-anchor="end" fill="#333">0.0</text>
<line x1="19.3" y1="214.5" x2="21.3" y2="214.5" stroke="#262626" stroke-width="0.9"/>
<text x="17.8" y="217.3" font-size="5.2" text-anchor="end" fill="#333">0.2</text>
<line x1="19.3" y1="161.5" x2="21.3" y2="161.5" stroke="#262626" stroke-width="0.9"/>
<text x="17.8" y="164.3" font-size="5.2" text-anchor="end" fill="#333">0.4</text>
<line x1="19.3" y1="108.4" x2="21.3" y2="108.4" stroke="#262626" stroke-width="0.9"/>
<text x="17.8" y="111.3" font-size="5.2" text-anchor="end" fill="#333">0.6</text>
<line x1="19.3" y1="55.4" x2="21.3" y2="55.4" stroke="#262626" stroke-width="0.9"/>
<text x="17.8" y="58.2" font-size="5.2" text-anchor="end" fill="#333">0.8</text>
<line x1="19.3" y1="2.4" x2="21.3" y2="2.4" stroke="#262626" stroke-width="0.9"/>
<text x="17.8" y="5.2" font-size="5.2" text-anchor="end" fill="#333">1.0</text>
<clipPath id="cTR"><rect x="372.3" y="2.4" width="266.90000000000003" height="265.1"/></clipPath>
<line x1="381.5" y1="2.4" x2="381.5" y2="267.5" class="g"/>
<line x1="431.2" y1="2.4" x2="431.2" y2="267.5" class="g"/>
<line x1="480.8" y1="2.4" x2="480.8" y2="267.5" class="g"/>
<line x1="530.5" y1="2.4" x2="530.5" y2="267.5" class="g"/>
<line x1="580.1" y1="2.4" x2="580.1" y2="267.5" class="g"/>
<line x1="629.8" y1="2.4" x2="629.8" y2="267.5" class="g"/>
<line x1="372.3" y1="267.5" x2="639.2" y2="267.5" class="g"/>
<line x1="372.3" y1="214.5" x2="639.2" y2="214.5" class="g"/>
<line x1="372.3" y1="161.5" x2="639.2" y2="161.5" class="g"/>
<line x1="372.3" y1="108.4" x2="639.2" y2="108.4" class="g"/>
<line x1="372.3" y1="55.4" x2="639.2" y2="55.4" class="g"/>
<line x1="372.3" y1="2.4" x2="639.2" y2="2.4" class="g"/>
<g clip-path="url(#cTR)">
<polygon points="384.2,217.5 384.7,215.3 385.2,213 385.7,210.7 386.2,208.4 386.7,206.1 387.1,204.3 387.2,203.8 387.7,201.5 388.2,199.1 388.7,196.7 389.2,194.3 389.7,191.9 390.2,189.5 390.4,188.6 390.7,188.2 391.2,187.7 391.7,187.1 392.2,186.6 392.7,186 393.2,185.5 393.7,184.9 394.2,184.4 394.7,183.8 395.2,183.3 395.7,182.7 396.2,182.2 396.7,181.6 397,181.3 397.2,181.2 397.7,180.8 398.2,180.5 398.7,180.1 399.2,179.8 399.7,179.4 400.2,179.1 400.7,178.7 401.2,178.4 401.7,178 402.2,177.7 402.7,177.3 403.2,177 403.7,176.6 404.2,176.3 404.7,175.9 405.2,174.5 405.7,173.1 406.2,171.7 406.7,170.4 406.9,169.8 407.2,169.7 407.7,169.4 408.2,169.2 408.7,169 409.2,168.8 409.7,168.5 410.2,168.3 410.7,168.1 411.2,167.8 411.7,167.6 412.2,167.4 412.7,167.2 413.2,166.9 413.7,166.7 414.2,166.5 414.7,166.3 415.2,166 415.7,165.8 416.2,165.6 416.7,165.3 417.2,165.1 417.7,164.9 418.2,164.7 418.7,164.4 419,164.3 419.2,163.3 419.7,160.8 420.2,158.3 420.7,155.9 421.2,153.4 421.7,153.7 422.2,154.1 422.7,154.4 423.2,154.8 423.7,155.1 424.2,155.5 424.7,155.8 425.2,156.2 425.7,156.5 426.2,156.9 426.7,157.2 427.2,157.6 427.7,158 428.2,157.9 428.7,157.9 429.2,157.8 429.7,157.8 430.2,157.7 430.7,157.7 431.2,157.6 431.5,157.6 431.7,157.6 432.2,157.6 432.7,157.6 433.2,157.6 433.7,157.6 434.2,157.6 434.7,157.6 435.2,157.6 435.7,157.6 436.2,157.4 436.7,157.1 437.2,156.7 437.7,156.4 438.2,156 438.7,155.6 439.2,155.3 439.7,154.9 440.2,154.5 440.7,154.2 441.2,153.8 441.7,153.5 442.2,153.1 442.7,152.7 443.2,152.4 443.7,152 444.2,151.7 444.7,151.3 445.2,150.9 445.7,150.6 446.2,150.2 446.7,149.9 447.2,149.5 447.7,149.1 448.2,148.8 448.7,148.4 449.1,148.1 449.2,147.9 449.7,146.5 450.2,145.1 450.7,143.6 451.2,142.2 451.7,140.8 452.2,139.4 452.4,138.9 452.7,138.6 453.2,138.1 453.7,137.8 454.2,137.5 454.7,137.2 455.2,136.9 455.7,136.6 456.2,136.3 456.7,136 457.2,135.7 457.7,135.4 458.2,135.1 458.7,134.8 459.2,134.4 459.7,134.1 460.2,133.8 460.7,133.5 461.2,133.2 461.7,132.9 462.2,132.6 462.3,132.5 462.7,132.4 463.2,132.2 463.7,132 464.2,131.8 464.7,131.6 465.2,131.5 465.7,131.3 466.2,131.1 466.7,130.9 467.2,130.7 467.7,130.5 468.2,130.4 468.7,130.2 469.2,130 469.7,129.8 470.2,129.6 470.7,129.5 471.2,129.3 471.7,129.1 472.2,128.9 472.7,128.7 473.2,128.6 473.3,128.5 473.7,128.4 474.2,128.2 474.7,128 475.2,127.8 475.7,127.6 476.2,127.4 476.7,127.2 477.2,127 477.7,126.8 478.2,126.6 478.7,126.4 479.2,126.2 479.7,126 480.2,125.8 480.7,125.6 481.2,125.4 481.7,125.2 482.2,125 482.7,124.8 483.2,124.6 483.7,124.5 484.2,124.3 484.7,124.2 485.2,124 485.7,123.9 486.2,123.8 486.5,123.7 486.7,123.6 487.2,123.3 487.7,123 488.2,122.7 488.7,122.4 489.2,122 489.7,121.7 490.2,121.4 490.7,121.1 491.2,120.8 491.7,120.5 492.2,120.2 492.7,119.9 493.2,119.6 493.7,119.3 494.2,119 494.7,118.7 495.2,118.4 495.7,118.1 496.2,117.8 496.7,117.5 497.2,117.2 497.5,117 497.7,116.8 498.2,116.4 498.7,116 499.2,115.5 499.7,115.1 500,114.8 500.2,114.8 500.7,114.7 501.2,114.7 501.7,114.6 502.2,114.6 502.7,114.5 503.2,114.4 503.7,114.4 504.2,114.3 504.7,114.3 505.2,114.2 505.7,114.2 506.2,114.1 506.7,114.1 507.2,114 507.7,113.9 508.2,113.9 508.7,113.8 509.2,113.8 509.7,113.7 510.2,113.7 510.7,113.6 511.2,113.6 511.7,113.5 512.2,113.4 512.7,113.4 513.2,113.3 513.7,113.3 514.2,113.2 514.7,113.2 515.2,113.1 515.7,113.1 516.2,113 516.7,112.9 517.2,112.9 517.7,112.8 518.2,112.8 518.7,112.7 519.2,112.7 519.7,112.6 520.2,112.6 520.7,112.5 521.2,112.4 521.7,112.4 522,112.3 522.2,112.3 522.7,112.3 523.2,112.3 523.7,112.3 524.2,112.2 524.7,112.2 525.2,112.1 525.7,112.1 526.2,112 526.7,112 527.2,111.9 527.7,111.9 528.2,111.8 528.7,111.7 529.2,111.7 529.7,111.6 530.2,111.6 530.7,111.5 531.2,111.5 531.7,111.4 532.2,111.3 532.7,111.3 533.2,111.2 533.7,111.2 534.2,111.1 534.7,111.1 535.2,111 535.7,110.9 536.2,110.9 536.7,110.8 537.2,110.8 537.7,110.7 538.2,110.7 538.7,110.6 539.2,110.5 539.7,110.5 540.2,110.4 540.7,110.4 541.2,110.3 541.7,110.3 542.2,110.2 542.7,110.1 543.2,110.1 543.7,110 544,110 544.2,110 544.7,109.9 545.2,109.8 545.7,109.7 546.2,109.6 546.7,109.5 547.2,109.4 547.7,109.2 548.2,109.1 548.7,109 549.2,108.9 549.7,108.8 550.2,108.7 550.7,108.6 551.2,108.5 551.7,108.4 552.2,108.3 552.7,108.2 553.2,108.1 553.7,108 554.2,107.9 554.7,107.8 555.2,107.7 555.7,107.6 556.2,107.5 556.7,107.4 557.2,107.3 557.7,107.2 558.2,107.1 558.7,107 559.2,106.9 559.7,106.8 560.2,106.7 560.7,106.6 561.2,106.5 561.7,106.4 562.2,106.3 562.7,106.2 563.2,106.1 563.7,106 564.2,105.4 564.7,105.1 565.2,104.8 565.7,104.5 566.2,104.2 566.7,103.9 567.2,103.6 567.7,103.3 568.1,103.1 568.2,103.1 568.7,102.9 569.2,102.7 569.7,102.6 570.2,102.4 570.7,102.2 571.2,102.1 571.7,101.9 572.2,101.7 572.7,101.6 573.2,101.4 573.7,101.2 574.2,100.9 574.7,100.2 575.2,99.9 575.7,99.6 576.2,99.3 576.7,99 577.2,98.8 577.7,98.5 578.2,98.2 578.7,97.9 579.2,97.6 579.7,97.4 580.2,97.1 580.7,96.8 581.2,96.5 581.7,96.2 582.2,96 582.7,95.7 583.2,95.4 583.7,95.1 584.2,94.8 584.7,94.6 585.2,94.3 585.7,94 586.2,93.7 586.7,93.4 587.2,93.2 587.7,92.9 588,92.7 588.2,92.5 588.7,92.1 589.2,91.6 589.7,91.1 590.2,90.7 590.7,90.2 591.2,89.7 591.7,89.2 592.2,88.8 592.7,88.3 593.2,87.8 593.7,87.4 594.2,86.9 594.7,86.4 595.2,85.9 595.7,85.5 596.2,85 596.7,84.5 597.2,84.1 597.7,83.6 598.2,83.1 598.7,82.6 599.2,82.1 599.7,81.6 600.2,81.2 600.7,80.7 601.2,80.2 601.7,79.7 602.2,79.2 602.7,78.7 603.2,78.3 603.7,77.8 604.2,77.3 604.7,76.8 605.2,76.3 605.7,75.9 606.2,75.4 606.7,74.9 607.2,74.4 607.7,73.9 608.2,73.4 608.7,73 609.2,72.5 609.7,72 610,71.7 610.2,71.5 610.7,71.1 611.2,70.8 611.7,70.4 612.2,70 612.7,69.6 613.2,69.2 613.7,68.8 614.2,68.4 614.7,68 615.2,67.6 615.7,67.2 616.2,66.8 616.7,66.4 617.2,66 617.7,65.6 618.2,65.3 618.7,64.9 619.2,64.5 619.7,64.1 619.8,64 620.2,61.5 620.7,58.4 621.2,55.3 621.7,52.2 622.2,49.1 622.7,46.1 623,44.2 623.2,44.1 623.7,43.9 624.2,43.6 624.7,43.4 625.2,43.1 625.7,42.9 626.2,42.6 626.7,42.4 627.2,42.1 627.5,42 627.5,70 627.2,70.1 626.7,70.3 626.2,70.6 625.7,70.8 625.2,71 624.7,71.2 624.2,71.4 623.7,71.6 623.2,71.9 623,71.9 622.7,73.8 622.2,76.8 621.7,79.9 621.2,83 620.7,86 620.2,89.1 619.8,91.6 619.7,91.6 619.2,92 618.7,92.4 618.2,92.7 617.7,93.1 617.2,93.5 616.7,93.8 616.2,94.2 615.7,94.5 615.2,94.9 614.7,95.3 614.2,95.6 613.7,96 613.2,96.4 612.7,96.7 612.2,97.1 611.7,97.5 611.2,97.8 610.7,98.2 610.2,98.6 610,98.7 609.7,99 609.2,99.4 608.7,99.8 608.2,100.2 607.7,100.7 607.2,101.1 606.7,101.5 606.2,101.9 605.7,102.4 605.2,102.8 604.7,103.2 604.2,103.7 603.7,104.1 603.2,104.5 602.7,104.9 602.2,105.4 601.7,105.8 601.2,106.2 600.7,106.6 600.2,107.1 599.7,107.5 599.2,107.9 598.7,108.4 598.2,108.8 597.7,109.2 597.2,109.6 596.7,110.1 596.2,110.5 595.7,110.9 595.2,111.3 594.7,111.7 594.2,112.1 593.7,112.5 593.2,113 592.7,113.4 592.2,113.8 591.7,114.2 591.2,114.6 590.7,115 590.2,115.5 589.7,115.9 589.2,116.3 588.7,116.7 588.2,117.1 588,117.3 587.7,117.4 587.2,117.6 586.7,117.9 586.2,118.1 585.7,118.3 585.2,118.5 584.7,118.8 584.2,119 583.7,119.2 583.2,119.4 582.7,119.7 582.2,119.9 581.7,120.1 581.2,120.3 580.7,120.5 580.2,120.8 579.7,121 579.2,121.2 578.7,121.4 578.2,121.7 577.7,121.9 577.2,122.1 576.7,122.3 576.2,122.6 575.7,122.8 575.2,123 574.7,123.2 574.2,123.9 573.7,124.8 573.2,126 572.7,127.2 572.2,128.3 571.7,129.5 571.2,130.7 570.7,131.8 570.2,133 569.7,134.2 569.2,135.3 568.7,136.5 568.2,137.7 568.1,137.9 567.7,138.9 567.2,140.2 566.7,141.5 566.2,142.8 565.7,144.1 565.2,145.4 564.7,146.7 564.2,148 563.7,149 563.2,149.1 562.7,149.2 562.2,149.3 561.7,149.4 561.2,149.5 560.7,149.6 560.2,149.7 559.7,149.8 559.2,149.9 558.7,150 558.2,150.1 557.7,150.2 557.2,150.3 556.7,150.4 556.2,150.5 555.7,150.6 555.2,150.7 554.7,150.8 554.2,150.9 553.7,151 553.2,151.1 552.7,151.2 552.2,151.3 551.7,151.4 551.2,151.5 550.7,151.6 550.2,151.7 549.7,151.8 549.2,151.9 548.7,152 548.2,152.1 547.7,152.2 547.2,152.4 546.7,152.5 546.2,152.6 545.7,152.7 545.2,152.8 544.7,152.9 544.2,153 544,153 543.7,153 543.2,153.1 542.7,153.1 542.2,153.2 541.7,153.3 541.2,153.3 540.7,153.4 540.2,153.4 539.7,153.5 539.2,153.5 538.7,153.6 538.2,153.7 537.7,153.7 537.2,153.8 536.7,153.8 536.2,153.9 535.7,153.9 535.2,154 534.7,154.1 534.2,154.1 533.7,154.2 533.2,154.2 532.7,154.3 532.2,154.3 531.7,154.4 531.2,154.5 530.7,154.5 530.2,154.6 529.7,154.6 529.2,154.7 528.7,154.7 528.2,154.8 527.7,154.9 527.2,154.9 526.7,155 526.2,155 525.7,155.1 525.2,155.1 524.7,155.2 524.2,155.2 523.7,155.3 523.2,155.3 522.7,155.4 522.2,155.4 522,155.4 521.7,155.5 521.2,155.6 520.7,155.7 520.2,155.7 519.7,155.8 519.2,155.9 518.7,156 518.2,156.1 517.7,156.1 517.2,156.2 516.7,156.3 516.2,156.4 515.7,156.5 515.2,156.5 514.7,156.6 514.2,156.7 513.7,156.8 513.2,156.9 512.7,157 512.2,157 511.7,157.1 511.2,157.2 510.7,157.3 510.2,157.4 509.7,157.4 509.2,157.5 508.7,157.6 508.2,157.7 507.7,157.8 507.2,157.8 506.7,157.9 506.2,158 505.7,158.1 505.2,158.2 504.7,158.2 504.2,158.3 503.7,158.4 503.2,158.5 502.7,158.6 502.2,158.6 501.7,158.7 501.2,158.8 500.7,158.9 500.2,159 500,159 499.7,159.3 499.2,159.7 498.7,160.2 498.2,160.7 497.7,161.2 497.5,161.3 497.2,161.5 496.7,161.9 496.2,162.2 495.7,162.5 495.2,162.8 494.7,163.2 494.2,163.5 493.7,163.8 493.2,164.2 492.7,164.5 492.2,164.8 491.7,165.1 491.2,165.5 490.7,165.8 490.2,166.1 489.7,166.5 489.2,166.8 488.7,167.1 488.2,167.4 487.7,167.8 487.2,168.1 486.7,168.4 486.5,168.6 486.2,168.7 485.7,168.8 485.2,169 484.7,169.1 484.2,169.3 483.7,169.4 483.2,169.6 482.7,169.8 482.2,169.9 481.7,170.1 481.2,170.3 480.7,170.4 480.2,170.6 479.7,170.8 479.2,170.9 478.7,171.1 478.2,171.3 477.7,171.4 477.2,171.6 476.7,171.8 476.2,171.9 475.7,172.1 475.2,172.3 474.7,172.4 474.2,172.6 473.7,172.8 473.3,172.9 473.2,172.9 472.7,173.1 472.2,173.2 471.7,173.4 471.2,173.5 470.7,173.7 470.2,173.8 469.7,174 469.2,174.1 468.7,174.3 468.2,174.4 467.7,174.6 467.2,174.7 466.7,174.9 466.2,175 465.7,175.2 465.2,175.3 464.7,175.5 464.2,175.6 463.7,175.8 463.2,175.9 462.7,176.1 462.3,176.2 462.2,176.3 461.7,176.5 461.2,176.8 460.7,177.1 460.2,177.3 459.7,177.6 459.2,177.9 458.7,178.2 458.2,178.4 457.7,178.7 457.2,179 456.7,179.3 456.2,179.5 455.7,179.8 455.2,180.1 454.7,180.3 454.2,180.6 453.7,180.9 453.2,181.2 452.7,181.4 452.4,181.6 452.2,182.1 451.7,183.2 451.2,184.4 450.7,185.6 450.2,186.7 449.7,187.9 449.2,189.1 449.1,189.3 448.7,189.4 448.2,189.5 447.7,189.7 447.2,189.8 446.7,189.9 446.2,190 445.7,190.2 445.2,190.3 444.7,190.4 444.2,190.5 443.7,190.7 443.2,190.8 442.7,190.9 442.2,191 441.7,191.2 441.2,191.3 440.7,191.4 440.2,191.5 439.7,191.7 439.2,191.8 438.7,191.9 438.2,192 437.7,192.2 437.2,192.3 436.7,192.4 436.2,192.5 435.7,192.7 435.2,192.8 434.7,192.9 434.2,193 433.7,193.2 433.2,193.3 432.7,193.4 432.2,193.5 431.7,193.7 431.5,193.7 431.2,193.8 430.7,194 430.2,194.1 429.7,194.3 429.2,194.5 428.7,194.6 428.2,194.8 427.7,195 427.2,195.1 426.7,195.3 426.2,195.4 425.7,195.6 425.2,195.8 424.7,195.9 424.2,196.1 423.7,196.3 423.2,196.4 422.7,196.6 422.2,196.8 421.7,196.9 421.2,197.1 420.7,200.1 420.2,203.1 419.7,206.1 419.2,209.1 419,210.3 418.7,210.2 418.2,210.2 417.7,210.1 417.2,210 416.7,209.9 416.2,209.8 415.7,209.7 415.2,209.6 414.7,209.5 414.2,209.4 413.7,209.3 413.2,209.2 412.7,209.2 412.2,209.1 411.7,209 411.2,208.9 410.7,208.8 410.2,208.7 409.7,208.6 409.2,208.5 408.7,208.4 408.2,208.3 407.7,208.2 407.2,208.2 406.9,208.1 406.7,208.5 406.2,209.6 405.7,210.7 405.2,211.7 404.7,212.8 404.2,212.8 403.7,212.9 403.2,212.9 402.7,212.9 402.2,213 401.7,213 401.2,213 400.7,213.1 400.2,213.1 399.7,213.1 399.2,213.2 398.7,213.2 398.2,213.2 397.7,213.3 397.2,213.3 397,213.3 396.7,213.3 396.2,213.3 395.7,213.3 395.2,213.3 394.7,213.4 394.2,213.4 393.7,213.4 393.2,213.4 392.7,213.4 392.2,213.4 391.7,213.4 391.2,213.4 390.7,213.5 390.4,213.5 390.2,214.2 389.7,216.1 389.2,217.9 388.7,219.7 388.2,221.6 387.7,223.4 387.2,225.3 387.1,225.7 386.7,227 386.2,228.8 385.7,230.5 385.2,232.3 384.7,234 384.2,235.8" fill="#ff7f0e" fill-opacity="0.3" stroke="none"/>
<polygon points="384.2,186.1 384.7,182.7 385.2,179.4 385.7,176 386.2,172.6 386.4,171.2 386.7,169.6 387.2,166.8 387.7,164.1 388.2,161.3 388.7,158.2 388.8,157.6 389.2,155.1 389.7,151.9 390,150 390.2,148.2 390.7,143.6 391.2,139 391.6,135.3 391.7,134.8 392.2,132.1 392.7,129.3 393.2,126.3 393.6,123.9 393.7,123.8 394.2,123.3 394.7,122.8 395.2,122.3 395.7,121.8 396.2,121.2 396.7,120.7 397.2,120.6 397.7,121 398.2,121.3 398.7,121.7 398.8,121.8 399.2,120.2 399.7,118.1 400.2,116.1 400.7,114 401.2,112 401.4,111.2 401.7,110.3 402.2,108.8 402.7,107.3 403.2,105.8 403.7,105.7 404.2,105.7 404.7,105.8 405.2,105.8 405.7,105.8 406.2,105.9 406.7,105.9 407.2,106 407.7,106 408.2,106.1 408.7,106.1 408.9,106.1 409.2,106 409.7,105.9 410.2,105.8 410.7,105.7 411.2,105.5 411.7,105.4 412.2,105.3 412.7,105.2 413.2,105.1 413.7,104.9 413.9,104.9 414.2,104.8 414.7,104.7 415.2,104.5 415.7,104.4 416.2,104.3 416.7,104.1 417.2,104 417.7,103.8 418.2,103.7 418.7,103.6 419.2,103.4 419.7,103.3 420.2,103.1 420.7,103 421.2,102.9 421.7,102.7 422.2,102.6 422.7,102.4 423.2,102.5 423.3,102.5 423.7,100.9 424.2,98.9 424.7,97 425.2,95 425.7,95 426.2,94.9 426.7,94.9 427.2,94.8 427.7,94.8 428.2,94.7 428.7,94.7 429.2,94.6 429.7,94.6 430.2,94.5 430.7,94.5 431.2,94.4 431.7,94.4 432.2,94.4 432.7,94.3 433.2,94.3 433.7,94.2 434.2,94.2 434.7,94.1 435.2,94.1 435.7,94 436.2,94 436.7,94 437.2,93.9 437.7,93.9 438.2,93.9 438.7,93.9 439.2,93.9 439.7,93.8 440.2,93.8 440.7,93.8 441.2,93.8 441.7,93.7 442.2,93.7 442.7,93.7 442.8,93.7 443.2,93.5 443.7,93.3 444.2,93.1 444.7,92.8 445.2,92.6 445.3,92.6 445.7,92.6 446.2,92.5 446.7,92.5 447.2,92.5 447.7,92.5 448.2,92.4 448.7,92.4 449.2,92.4 449.7,92.4 450.2,92.3 450.7,92.3 451.2,92.3 451.7,92.3 452.2,92.2 452.7,92.2 453.2,92.2 453.7,92.2 454.2,92.1 454.7,92.1 455.2,92.1 455.7,92.1 456.2,92 456.7,92 457.2,92 457.7,92 458,91.9 458.2,91.9 458.7,91.9 459.2,91.9 459.7,91.9 460.2,91.9 460.7,91.8 461.2,91.7 461.7,91.7 462.2,91.6 462.7,91.5 463.2,91.5 463.7,91.4 464.2,91.3 464.7,91.3 465.2,91.2 465.7,91.1 466.2,91.1 466.7,91 467.2,90.9 467.7,90.9 468.2,90.8 468.7,90.7 469.2,90.6 469.7,90.6 470.2,90.5 470.7,90.4 471,90.4 471.2,89.8 471.7,88.4 472.2,87 472.6,85.9 472.7,85.8 473.2,85.3 473.7,84.8 474.2,84.3 474.7,83.8 475.2,83.3 475.7,82.8 476.2,82.3 476.7,81.8 477.2,81.3 477.3,81.2 477.7,81.1 478.2,81 478.7,80.8 479.2,80.7 479.7,80.5 480.2,80.4 480.7,80.2 481.2,80.1 481.7,79.9 482.2,79.8 482.7,79.6 482.8,79.6 483.2,78.7 483.7,77.6 484.2,76.6 484.7,75.7 485.1,74.9 485.2,75 485.7,75.1 486.2,75.1 486.7,75.2 487.2,75.3 487.7,75.4 488.2,75.5 488.7,75.6 489.2,75.7 489.7,75.8 490.2,75.8 490.7,75.9 491.2,76 491.7,76.1 492.2,76.2 492.7,76.3 493.2,76.3 493.7,76.3 494.2,76.3 494.7,76.3 495.2,76.2 495.7,76.2 496.2,76.2 496.7,76.2 497.2,76.1 497.7,76.1 498.2,76.1 498.7,76.1 499.2,76 499.7,76 500.2,76 500.7,76 501.2,76 501.7,75.9 502.2,76 502.4,76 502.7,75.9 503.2,75.8 503.7,75.6 504.2,75.5 504.7,75.3 505.2,75.2 505.7,75 506.2,74.9 506.7,74.8 507.1,74.6 507.2,74.4 507.7,73.2 508.2,72 508.7,70.8 509.2,69.6 509.5,68.8 509.7,68 510.2,65.9 510.7,63.8 511.2,61.6 511.7,59.5 511.8,59.1 512.2,59.1 512.7,59 513.2,59 513.7,59 514.2,58.9 514.7,58.9 515.2,58.8 515.7,58.8 516.2,58.8 516.7,58.7 517.2,58.7 517.7,58.7 518.2,58.6 518.7,58.6 519.2,58.5 519.7,58.5 520.2,58.5 520.7,58.4 521.2,58.4 521.7,58.4 522.2,58.3 522.7,58.3 523.2,58.2 523.7,58.2 524.2,58.2 524.7,58.1 525.2,58.1 525.7,58.1 526.2,58 526.7,58 527.2,57.9 527.7,57.9 528.2,57.9 528.7,57.8 529.2,57.8 529.7,57.8 530.2,57.7 530.7,57.7 531.2,57.6 531.7,57.6 532.2,57.6 532.7,57.5 533.2,57.5 533.7,57.5 534.2,57.4 534.7,57.4 535.2,57.3 535.7,57.3 536.2,57.3 536.7,57.2 537.2,57.2 537.7,57.2 538.2,57.1 538.5,57.1 538.7,57 539.2,56.6 539.7,56.3 540.2,55.9 540.7,55.6 541.2,55.3 541.6,55 541.7,55 542.2,55 542.7,55.1 543.2,55.1 543.7,55.1 544.2,55.2 544.7,55.2 545.2,55.3 545.7,55.3 546.2,55.3 546.7,55.4 547.2,55.4 547.7,55.5 548.2,55.5 548.7,55.5 549.2,55.6 549.7,55.6 550.2,55.6 550.7,55.7 551.2,55.7 551.7,55.8 552.2,55.8 552.7,55.8 553.2,55.9 553.7,55.9 554.2,56 554.7,56 555.2,56 555.7,56.1 556.2,56.1 556.7,56.1 557.2,56.2 557.7,56.2 558.2,56.3 558.7,56.3 559.2,56.3 559.7,56.4 560.2,56.4 560.7,56.5 561.2,56.6 561.7,56.7 562.2,56.7 562.7,56.8 563.2,56.9 563.7,57 564.2,57 564.7,57.1 565.2,57.2 565.7,57.3 566,57.3 566.2,57.1 566.7,56.7 567.2,56.3 567.7,55.9 568.2,55.5 568.7,55.1 569.2,54.7 569.7,54.3 570.2,53.9 570.3,53.8 570.7,53.8 571.2,53.8 571.7,53.7 572.2,53.7 572.7,53.7 573.2,53.7 573.7,53.6 574.2,53.6 574.7,53.6 575.2,53.6 575.7,53.5 576.2,53.5 576.7,53.5 577.2,53.4 577.7,53.4 578.2,53.4 578.7,53.4 579.2,53.3 579.7,53.3 580.2,53.3 580.7,53.3 581.2,53.2 581.7,53.2 582.2,53.2 582.7,53.2 583.2,53.1 583.7,53.1 584.2,53.1 584.7,53.1 585.2,53 585.7,53 586.2,53 586.7,53 587.2,52.9 587.7,52.9 588,52.9 588.2,52.9 588.7,52.8 589.2,52.7 589.7,52.7 590.2,52.6 590.7,52.5 591.2,52.5 591.7,52.4 592.2,52.3 592.7,52.3 593.2,52.2 593.7,52.1 594.2,52.1 594.7,52 595.2,52 595.7,51.9 596.2,51.8 596.7,51.8 597.2,51.7 597.7,51.6 598.2,51.6 598.7,51.5 599.2,51.4 599.7,51.4 600.2,51.3 600.7,51.2 601.2,51.2 601.7,51.1 602.2,51 602.7,51 603.2,50.9 603.7,50.8 604.2,50.8 604.7,50.7 605.2,50.6 605.7,50.6 606.2,50.5 606.7,50.4 607.2,50.4 607.7,50.3 608.2,50.2 608.7,50.2 609.2,50.1 609.7,50 610,50 610.2,50 610.7,49.9 611.2,49.8 611.7,49.7 612.2,49.7 612.7,49.6 613.2,49.5 613.7,49.5 614.2,49.4 614.7,49.3 615.2,49.2 615.7,49.2 616.2,49.1 616.7,49 617.2,48.9 617.7,48.9 618.2,48.8 618.7,48.7 619.2,48.6 619.7,48.6 620.2,48.5 620.7,48.4 621.2,48.3 621.7,48.3 622.2,48.2 622.7,48.1 623.2,48 623.7,48 624.2,47.9 624.7,47.8 625.2,47.7 625.7,47.7 626.2,47.6 626.7,47.5 627.2,47.4 627.5,47.4 627.5,70.4 627.2,70.4 626.7,70.5 626.2,70.5 625.7,70.6 625.2,70.7 624.7,70.7 624.2,70.8 623.7,70.8 623.2,70.9 622.7,71 622.2,71 621.7,71.1 621.2,71.1 620.7,71.2 620.2,71.2 619.7,71.3 619.2,71.4 618.7,71.4 618.2,71.5 617.7,71.5 617.2,71.6 616.7,71.6 616.2,71.7 615.7,71.8 615.2,71.8 614.7,71.9 614.2,71.9 613.7,72 613.2,72 612.7,72.1 612.2,72.2 611.7,72.2 611.2,72.3 610.7,72.3 610.2,72.4 610,72.4 609.7,72.4 609.2,72.5 608.7,72.5 608.2,72.6 607.7,72.6 607.2,72.7 606.7,72.7 606.2,72.8 605.7,72.8 605.2,72.9 604.7,72.9 604.2,73 603.7,73 603.2,73.1 602.7,73.1 602.2,73.2 601.7,73.2 601.2,73.3 600.7,73.3 600.2,73.4 599.7,73.4 599.2,73.5 598.7,73.5 598.2,73.6 597.7,73.6 597.2,73.7 596.7,73.8 596.2,73.9 595.7,74 595.2,74.1 594.7,74.2 594.2,74.3 593.7,74.4 593.2,74.5 592.7,74.6 592.2,74.7 591.7,74.8 591.2,74.9 590.7,75 590.2,75.1 589.7,75.2 589.2,75.3 588.7,75.4 588.2,75.5 588,75.5 587.7,75.6 587.2,75.6 586.7,75.7 586.2,75.7 585.7,75.8 585.2,75.8 584.7,75.9 584.2,76 583.7,76 583.2,76.1 582.7,76.1 582.2,76.2 581.7,76.2 581.2,76.3 580.7,76.4 580.2,76.4 579.7,76.5 579.2,76.5 578.7,76.6 578.2,76.6 577.7,76.7 577.2,76.7 576.7,76.8 576.2,76.9 575.7,76.9 575.2,77 574.7,77 574.2,77.1 573.7,77.1 573.2,77.2 572.7,77.3 572.2,77.3 571.7,77.4 571.2,77.4 570.7,77.5 570.3,77.5 570.2,77.6 569.7,78.1 569.2,78.5 568.7,78.9 568.2,79.4 567.7,79.8 567.2,80.2 566.7,80.7 566.2,81.1 566,81.3 565.7,81.5 565.2,81.7 564.7,82 564.2,82.2 563.7,82.5 563.2,82.7 562.7,83 562.2,83.3 561.7,83.5 561.2,83.8 560.7,84 560.2,84.3 559.7,84.5 559.2,84.6 558.7,84.7 558.2,84.8 557.7,85 557.2,85.1 556.7,85.2 556.2,85.3 555.7,85.5 555.2,85.6 554.7,85.7 554.2,85.8 553.7,86 553.2,86.1 552.7,86.2 552.2,86.3 551.7,86.5 551.2,86.6 550.7,86.7 550.2,86.8 549.7,87 549.2,87.1 548.7,87.2 548.2,87.3 547.7,87.5 547.2,87.6 546.7,87.7 546.2,87.8 545.7,88 545.2,88.1 544.7,88.2 544.2,88.3 543.7,88.5 543.2,88.6 542.7,88.7 542.2,88.8 541.7,89 541.6,89 541.2,89.4 540.7,89.9 540.2,90.4 539.7,90.9 539.2,91.4 538.7,91.9 538.5,92.1 538.2,92.1 537.7,92.2 537.2,92.3 536.7,92.4 536.2,92.4 535.7,92.5 535.2,92.6 534.7,92.7 534.2,92.7 533.7,92.8 533.2,92.9 532.7,93 532.2,93 531.7,93.1 531.2,93.2 530.7,93.3 530.2,93.3 529.7,93.4 529.2,93.5 528.7,93.6 528.2,93.6 527.7,93.7 527.2,93.8 526.7,93.9 526.2,93.9 525.7,94 525.2,94.1 524.7,94.2 524.2,94.2 523.7,94.3 523.2,94.4 522.7,94.5 522.2,94.5 521.7,94.6 521.2,94.7 520.7,94.8 520.2,94.8 519.7,94.9 519.2,95 518.7,95.1 518.2,95.1 517.7,95.2 517.2,95.3 516.7,95.4 516.2,95.4 515.7,95.5 515.2,95.6 514.7,95.7 514.2,95.7 513.7,95.8 513.2,95.9 512.7,96 512.2,96 511.8,96.1 511.7,96.5 511.2,98.2 510.7,100 510.2,101.7 509.7,103.5 509.5,104.2 509.2,104.7 508.7,105.6 508.2,106.4 507.7,107.3 507.2,108.1 507.1,108.3 506.7,108.1 506.2,107.9 505.7,107.7 505.2,107.5 504.7,107.3 504.2,107 503.7,106.8 503.2,106.6 502.7,106.4 502.4,106.3 502.2,106.1 501.7,106 501.2,106.1 500.7,106.3 500.2,106.4 499.7,106.5 499.2,106.7 498.7,106.8 498.2,106.9 497.7,107.1 497.2,107.2 496.7,107.3 496.2,107.5 495.7,107.6 495.2,107.7 494.7,107.9 494.2,108 493.7,108.1 493.2,108.3 492.7,108.5 492.2,108.7 491.7,109 491.2,109.2 490.7,109.5 490.2,109.7 489.7,110 489.2,110.2 488.7,110.4 488.2,110.7 487.7,110.9 487.2,111.2 486.7,111.4 486.2,111.7 485.7,111.9 485.2,112.2 485.1,112.2 484.7,113.2 484.2,114.5 483.7,115.7 483.2,116.9 482.8,117.9 482.7,117.9 482.2,118.2 481.7,118.4 481.2,118.7 480.7,119 480.2,119.2 479.7,119.5 479.2,119.8 478.7,120 478.2,120.3 477.7,120.6 477.3,120.8 477.2,120.9 476.7,121.5 476.2,122.1 475.7,122.7 475.2,123.3 474.7,123.9 474.2,124.5 473.7,125.1 473.2,125.8 472.7,126.4 472.6,126.5 472.2,127.7 471.7,129.2 471.2,130.8 471,131.4 470.7,131.4 470.2,131.3 469.7,131.2 469.2,131.2 468.7,131.1 468.2,131 467.7,131 467.2,130.9 466.7,130.8 466.2,130.7 465.7,130.7 465.2,130.6 464.7,130.5 464.2,130.5 463.7,130.4 463.2,130.3 462.7,130.3 462.2,130.2 461.7,130.1 461.2,130.1 460.7,130 460.2,129.9 459.7,129.9 459.2,130 458.7,130 458.2,130.1 458,130.1 457.7,130.1 457.2,130.2 456.7,130.2 456.2,130.3 455.7,130.3 455.2,130.4 454.7,130.4 454.2,130.5 453.7,130.5 453.2,130.6 452.7,130.7 452.2,130.7 451.7,130.8 451.2,130.8 450.7,130.9 450.2,130.9 449.7,131 449.2,131.1 448.7,131.1 448.2,131.2 447.7,131.2 447.2,131.3 446.7,131.3 446.2,131.4 445.7,131.4 445.3,131.5 445.2,131.5 444.7,131.8 444.2,132.1 443.7,132.3 443.2,132.6 442.8,132.8 442.7,132.8 442.2,132.8 441.7,132.9 441.2,132.9 440.7,133 440.2,133.1 439.7,133.1 439.2,133.2 438.7,133.2 438.2,133.3 437.7,133.3 437.2,133.4 436.7,133.4 436.2,133.5 435.7,133.5 435.2,133.5 434.7,133.5 434.2,133.5 433.7,133.5 433.2,133.5 432.7,133.5 432.2,133.5 431.7,133.5 431.2,133.5 430.7,133.5 430.2,133.5 429.7,133.5 429.2,133.5 428.7,133.5 428.2,133.5 427.7,133.5 427.2,133.5 426.7,133.5 426.2,133.5 425.7,133.5 425.2,133.5 424.7,136.3 424.2,139 423.7,141.8 423.3,144 423.2,144.1 422.7,144.4 422.2,144.6 421.7,144.7 421.2,144.9 420.7,145 420.2,145.1 419.7,145.3 419.2,145.4 418.7,145.6 418.2,145.7 417.7,145.8 417.2,146 416.7,146.1 416.2,146.3 415.7,146.4 415.2,146.5 414.7,146.7 414.2,146.8 413.9,146.9 413.7,147 413.2,147.3 412.7,147.6 412.2,147.8 411.7,148.1 411.2,148.4 410.7,148.6 410.2,148.9 409.7,149.2 409.2,149.4 408.9,149.6 408.7,149.6 408.2,149.7 407.7,149.8 407.2,149.9 406.7,150 406.2,150.1 405.7,150.2 405.2,150.3 404.7,150.4 404.2,150.5 403.7,150.6 403.2,150.4 402.7,151.5 402.2,152.6 401.7,153.7 401.4,154.3 401.2,155 400.7,156.6 400.2,158.2 399.7,159.9 399.2,161.5 398.8,162.8 398.7,162.6 398.2,161.8 397.7,161 397.2,160.2 396.7,159.8 396.2,159.7 395.7,159.6 395.2,159.5 394.7,159.4 394.2,159.3 393.7,159.2 393.6,159.1 393.2,161.1 392.7,163.5 392.2,165.9 391.7,168.3 391.6,168.7 391.2,172.2 390.7,176.5 390.2,180.8 390,182.5 389.7,184.3 389.2,187.1 388.8,189.4 388.7,190 388.2,192.8 387.7,196.5 387.2,200.1 386.7,203.7 386.4,205.9 386.2,207.6 385.7,211.9 385.2,216.2 384.7,220.5 384.2,224.8" fill="#d62728" fill-opacity="0.3" stroke="none"/>
<polygon points="384.2,240.4 384.7,239.7 385.2,239.1 385.7,238.4 386.2,237.8 386.7,237.1 387.1,236.6 387.2,236.4 387.7,235 388.2,233.7 388.7,232.4 389.2,231.1 389.7,229.7 390.2,228.4 390.7,227.1 391.2,225.7 391.5,224.9 391.7,224.8 392.2,224.4 392.7,224 393.2,223.7 393.7,223.3 394.2,222.9 394.7,222.5 395.2,222.2 395.7,221.8 396.2,221.4 396.7,221 397,220.8 397.2,220.4 397.7,219.4 398.2,218.5 398.7,217.5 399.2,216.5 399.7,215.6 400.2,214.6 400.7,213.7 401.2,212.7 401.4,212.3 401.7,211.2 402.2,209.4 402.7,207.5 403.2,205.7 403.6,204.2 403.7,204.2 404.2,204 404.7,203.8 405.2,203.7 405.7,203.5 406.2,203.4 406.7,203.2 407.2,203 407.7,202.9 408.2,202.7 408.7,202.7 409.2,202.6 409.7,202.5 410.2,202.5 410.7,202.4 411.2,202.3 411.3,202.3 411.7,201.2 412.2,199.9 412.7,198.6 413.2,197.2 413.7,195.9 414.2,194.6 414.6,193.5 414.7,193.4 415.2,193.1 415.7,192.8 416.2,192.5 416.7,192.2 417.2,191.9 417.7,191.6 418.2,191.3 418.7,191 419.2,190.6 419.7,190.1 420.2,189.6 420.7,189.1 421.2,188.5 421.7,188 422.2,187.5 422.7,187 423.2,186.5 423.7,185.9 424.2,185.4 424.7,184.9 425.2,184.4 425.5,184.1 425.7,183.8 426.2,183.1 426.7,182.4 427.2,181.7 427.7,181 428.2,180.3 428.7,179.6 429.2,178.9 429.7,178.2 430.2,177.5 430.7,176.8 431.2,176.1 431.7,175.4 432.2,174.7 432.7,174 433.2,173.4 433.7,172.7 434.2,172 434.7,171.3 435.2,170.7 435.7,170.2 436,169.9 436.2,169.7 436.7,169.3 437.2,168.9 437.7,168.5 438.2,168.1 438.7,167.7 439.2,167.3 439.7,166.9 440.2,166.5 440.7,166.1 441.2,165.7 441.7,165.3 442.2,164.9 442.7,164.5 443.2,164.1 443.7,163.7 444.2,163.3 444.7,162.9 445.2,162.8 445.7,162.7 446.2,162.6 446.7,162.5 447.2,162.4 447.7,162.2 448.2,162.1 448.7,162 449.2,161.9 449.7,161.8 450.2,161.7 450.7,161.6 451.2,161.5 451.7,161.4 452.2,161.3 452.7,161.2 453.2,161.1 453.7,161 454.2,160.9 454.7,160.8 455.2,160.7 455.7,160.6 456.2,160.5 456.7,160.4 457.2,160.3 457.7,160.1 457.9,160.1 458.2,160 458.7,159.9 459.2,159.8 459.7,159.7 460.2,159.6 460.7,159.5 461.2,159.4 461.7,159.3 462.2,159.2 462.7,159.1 463.2,159 463.7,158.9 464.2,158.8 464.7,158.7 465.2,158.6 465.7,158.5 466.2,158.4 466.7,158.3 467.2,158.2 467.7,158.1 468.2,158 468.7,157.9 469.2,157.8 469.7,157.7 470.2,157.6 470.7,157.5 471.2,157.4 471.7,157.3 472.2,157.2 472.7,157.1 473.2,157 473.7,156.9 474.2,156.8 474.7,156.7 475.2,156.6 475.7,156.5 476.2,156.4 476.7,156.3 477.2,156.2 477.7,156.1 478.2,156 478.7,155.9 479.2,155.8 479.7,155.7 479.9,155.7 480.2,155.6 480.7,155.4 481.2,155.2 481.7,155 482.2,154.9 482.7,154.7 483.2,154.5 483.7,154.3 484.2,154.1 484.7,153.9 485.2,153.7 485.7,153.5 486.2,153.4 486.7,153.2 487.2,153 487.7,152.8 488.2,152.6 488.7,152.4 489.2,152.2 489.7,152.1 490.2,151.9 490.7,151.7 491.2,151.5 491.7,151.3 492,151.2 492.2,150.2 492.7,147.7 493.2,145.1 493.7,142.6 494.2,140.1 494.7,139.9 495.2,139.8 495.7,139.6 496.2,139.5 496.7,139.4 497.2,139.2 497.7,139.1 498.2,138.9 498.7,138.8 499.2,138.6 499.7,138.5 500,138.4 500.2,138.4 500.7,138.4 501.2,138.4 501.7,138.3 502.2,138.3 502.7,138.3 503.2,138.3 503.7,138.3 504.2,138.2 504.7,138.2 505.2,138.2 505.7,138.2 506.2,138.2 506.7,138.1 507.2,138.1 507.7,138.1 508.2,138.1 508.7,138.1 508.8,138.1 509.2,137.2 509.7,136.2 510.2,135.2 510.7,134.2 511.2,133.2 511.7,132.1 512.2,131.1 512.7,130.1 513.2,129.1 513.7,128.6 514.2,128.2 514.7,127.7 515.2,127.3 515.7,126.8 516.2,126.3 516.7,125.9 517.2,125.4 517.7,125 518.2,124.5 518.7,124 519.2,123.5 519.7,122.9 520.2,122.4 520.7,121.8 521.2,121.2 521.7,120.6 522,120.2 522.2,119.9 522.7,118.9 523.2,118 523.7,117 524.2,116.1 524.7,115.1 525.2,114.2 525.7,113.2 526.2,112.3 526.7,111.4 527.2,110.4 527.7,109.5 528.2,108.5 528.6,107.8 528.7,107.5 529.2,106.3 529.7,105 530.2,103.7 530.7,102.5 531.2,101.2 531.7,99.9 532.2,98.7 532.7,97.4 533.2,96.2 533.7,94.9 534.2,93.6 534.7,92.4 535.2,91.1 535.7,89.5 536.2,88 536.7,86.4 537.2,84.8 537.7,83.2 538.2,81.7 538.5,80.7 538.7,80.6 539.2,80.4 539.7,80.2 540.2,79.9 540.7,79.7 541.2,79.5 541.7,79.3 542.2,79 542.7,78.8 543.2,78.6 543.7,78.3 544,78.2 544.2,77.5 544.7,75.8 545.2,74.1 545.7,72.4 546.2,70.8 546.7,69.1 547.2,67.4 547.3,67 547.7,66.6 548.2,66 548.7,65.5 549.2,65 549.7,64.4 550.2,63.9 550.5,63.5 550.7,63.4 551.2,63 551.7,62.7 552.2,62.3 552.7,62 553.2,61.6 553.7,61.2 554.2,60.9 554.7,60.5 555.2,60.1 555.7,59.7 556.2,59.3 556.7,58.9 557.1,58.6 557.2,58.2 557.7,56.3 558.2,54.4 558.7,52.5 559.2,50.6 559.7,48.7 560.2,46.8 560.4,46.1 560.7,45.9 561.2,45.5 561.7,45.1 562.2,44.8 562.7,44.4 563.2,44.1 563.7,43.7 564.2,43.3 564.7,43 565.2,42.6 565.7,42.3 566,42 566.2,41.9 566.7,41.7 567.2,41.4 567.7,41.1 568.2,40.8 568.7,40.6 569.2,40.3 569.7,40 570.2,39.8 570.7,39.6 571.2,39.5 571.4,39.4 571.7,38.6 572.2,37.1 572.7,35.6 573.2,34.2 573.6,33 573.7,33 574.2,33 574.7,32.9 575.2,32.9 575.7,32.9 576.2,32.8 576.7,32.8 577.2,32.8 577.7,32.7 578.2,32.7 578.7,32.6 579.2,32.6 579.7,32.6 580.2,32.5 580.7,29.8 581.2,27.3 581.7,24.8 582.2,22.3 582.4,21.4 582.7,21.5 583.2,21.7 583.7,21.9 584.2,22.1 584.7,22.3 585.2,22.5 585.7,22.7 586.2,22.9 586.7,23.1 587.2,23.3 587.7,23.5 588.2,23.8 588.7,24 589.2,24.2 589.7,24.4 590.2,24.6 590.7,24.8 591.2,25 591.7,23.8 592.2,22.5 592.7,21.3 593.2,20.1 593.7,18.8 594.2,17.5 594.5,16.6 594.7,16.6 595.2,16.6 595.7,16.6 596.2,16.6 596.7,16.5 597.2,16.5 597.7,16.5 598.2,16.5 598.7,16.5 599.2,16.5 599.7,16.5 600.2,16.5 600.7,16.4 601.2,16.4 601.7,16.4 602.2,16.4 602.7,16.4 603.2,16.4 603.7,16.4 604.2,16.4 604.7,16.3 605.2,16.3 605.7,16.3 606.2,16.3 606.7,16.3 607.2,16.3 607.7,16.3 608.2,16.3 608.7,16.3 609.2,16.2 609.7,16.2 610.2,16.2 610.7,16.2 611.2,16.2 611.7,16.2 612.2,16.2 612.7,16.2 613.2,16.1 613.7,16.1 614.2,16.1 614.7,16.1 615.2,16.1 615.7,16.1 616.2,16.1 616.7,16.1 617.2,16 617.7,16 618.2,16 618.7,16 619.2,16 619.7,16 620.2,16 620.7,16 621.2,16 621.7,15.9 622.2,15.9 622.7,15.9 623.2,15.9 623.7,15.9 624.2,15.9 624.7,15.9 625.2,15.9 625.7,15.8 626.2,15.8 626.7,15.8 627.2,15.8 627.5,15.8 627.5,40.7 627.2,40.7 626.7,40.7 626.2,40.7 625.7,40.7 625.2,40.8 624.7,40.8 624.2,40.8 623.7,40.8 623.2,40.8 622.7,40.8 622.2,40.8 621.7,40.9 621.2,40.9 620.7,40.9 620.2,40.9 619.7,40.9 619.2,40.9 618.7,40.9 618.2,41 617.7,41 617.2,41 616.7,41 616.2,41 615.7,41 615.2,41 614.7,41 614.2,41.1 613.7,41.1 613.2,41.1 612.7,41.1 612.2,41.1 611.7,41.1 611.2,41.1 610.7,41.2 610.2,41.2 609.7,41.2 609.2,41.2 608.7,41.2 608.2,41.2 607.7,41.2 607.2,41.2 606.7,41.3 606.2,41.3 605.7,41.3 605.2,41.3 604.7,41.3 604.2,41.3 603.7,41.3 603.2,41.4 602.7,41.4 602.2,41.4 601.7,41.4 601.2,41.4 600.7,41.4 600.2,41.4 599.7,41.5 599.2,41.5 598.7,41.5 598.2,41.5 597.7,41.5 597.2,41.5 596.7,41.5 596.2,41.5 595.7,41.6 595.2,41.6 594.7,41.6 594.5,41.6 594.2,42.5 593.7,44 593.2,45.6 592.7,47.2 592.2,48.8 591.7,50.4 591.2,51.9 590.7,52.1 590.2,52.2 589.7,52.3 589.2,52.5 588.7,52.6 588.2,52.8 587.7,52.9 587.2,53 586.7,53.2 586.2,53.3 585.7,53.5 585.2,53.6 584.7,53.7 584.2,53.9 583.7,54 583.2,54.2 582.7,54.3 582.4,54.4 582.2,55.5 581.7,58.3 581.2,61.1 580.7,63.8 580.2,66.4 579.7,66.3 579.2,66.3 578.7,66.2 578.2,66.2 577.7,66.1 577.2,66.1 576.7,66 576.2,66 575.7,65.9 575.2,65.9 574.7,65.8 574.2,65.7 573.7,65.7 573.6,65.7 573.2,66.8 572.7,68.1 572.2,69.5 571.7,70.9 571.4,71.7 571.2,71.7 570.7,71.8 570.2,71.8 569.7,72 569.2,72.1 568.7,72.2 568.2,72.4 567.7,72.5 567.2,72.6 566.7,72.8 566.2,72.9 566,73 565.7,73.1 565.2,73.3 564.7,73.6 564.2,73.8 563.7,74 563.2,74.2 562.7,74.5 562.2,74.7 561.7,74.9 561.2,75.2 560.7,75.4 560.4,75.5 560.2,76.2 559.7,78 559.2,79.8 558.7,81.5 558.2,83.3 557.7,85.1 557.2,86.8 557.1,87.2 556.7,87.4 556.2,87.7 555.7,87.9 555.2,88.2 554.7,88.6 554.2,89 553.7,89.5 553.2,89.9 552.7,90.3 552.2,90.8 551.7,91.2 551.2,91.7 550.7,92.1 550.5,92.3 550.2,92.7 549.7,93.3 549.2,93.9 548.7,94.6 548.2,95.2 547.7,95.8 547.3,96.3 547.2,96.7 546.7,98.4 546.2,100.2 545.7,102 545.2,103.8 544.7,105.6 544.2,107.3 544,108 543.7,108.2 543.2,108.5 542.7,108.9 542.2,109.2 541.7,109.5 541.2,109.8 540.7,110.1 540.2,110.4 539.7,110.7 539.2,111 538.7,111.3 538.5,111.5 538.2,112.5 537.7,114.1 537.2,115.8 536.7,117.4 536.2,119.1 535.7,120.7 535.2,122.4 534.7,123.7 534.2,125.1 533.7,126.4 533.2,127.8 532.7,129.1 532.2,130.5 531.7,131.8 531.2,133.2 530.7,134.5 530.2,135.9 529.7,137.2 529.2,138.6 528.7,139.9 528.6,140.2 528.2,141 527.7,142 527.2,143 526.7,144.1 526.2,145.1 525.7,146.1 525.2,147.2 524.7,148.2 524.2,149.2 523.7,150.2 523.2,151.3 522.7,152.3 522.2,153.3 522,153.7 521.7,154.1 521.2,154.8 520.7,155.5 520.2,156.2 519.7,156.8 519.2,157.5 518.7,158.2 518.2,158.8 517.7,159.4 517.2,160.1 516.7,160.7 516.2,161.4 515.7,162 515.2,162.7 514.7,163.3 514.2,163.9 513.7,164.6 513.2,165.2 512.7,166.4 512.2,167.6 511.7,168.8 511.2,170 510.7,171.2 510.2,172.4 509.7,173.6 509.2,174.8 508.8,175.8 508.7,175.9 508.2,176.1 507.7,176.3 507.2,176.5 506.7,176.7 506.2,176.9 505.7,177.1 505.2,177.3 504.7,177.5 504.2,177.7 503.7,177.9 503.2,178.1 502.7,178.3 502.2,178.5 501.7,178.7 501.2,178.9 500.7,179.1 500.2,179.3 500,179.4 499.7,179.4 499.2,179.4 498.7,179.5 498.2,179.5 497.7,179.5 497.2,179.5 496.7,179.5 496.2,179.6 495.7,179.6 495.2,179.6 494.7,179.6 494.2,179.6 493.7,182 493.2,184.4 492.7,186.8 492.2,189.2 492,190.2 491.7,190.2 491.2,190.3 490.7,190.4 490.2,190.4 489.7,190.5 489.2,190.5 488.7,190.6 488.2,190.7 487.7,190.7 487.2,190.8 486.7,190.9 486.2,190.9 485.7,191 485.2,191 484.7,191.1 484.2,191.2 483.7,191.2 483.2,191.3 482.7,191.3 482.2,191.4 481.7,191.5 481.2,191.5 480.7,191.6 480.2,191.6 479.9,191.7 479.7,191.8 479.2,191.9 478.7,192.1 478.2,192.2 477.7,192.3 477.2,192.5 476.7,192.6 476.2,192.8 475.7,192.9 475.2,193.1 474.7,193.2 474.2,193.4 473.7,193.5 473.2,193.7 472.7,193.8 472.2,193.9 471.7,194.1 471.2,194.2 470.7,194.4 470.2,194.5 469.7,194.7 469.2,194.8 468.7,195 468.2,195.1 467.7,195.3 467.2,195.4 466.7,195.5 466.2,195.7 465.7,195.8 465.2,196 464.7,196.1 464.2,196.3 463.7,196.4 463.2,196.6 462.7,196.7 462.2,196.9 461.7,197 461.2,197.1 460.7,197.3 460.2,197.4 459.7,197.6 459.2,197.7 458.7,197.9 458.2,198 457.9,198.1 457.7,198.1 457.2,198.3 456.7,198.4 456.2,198.5 455.7,198.6 455.2,198.7 454.7,198.8 454.2,198.9 453.7,199 453.2,199.1 452.7,199.2 452.2,199.3 451.7,199.4 451.2,199.5 450.7,199.6 450.2,199.7 449.7,199.8 449.2,199.9 448.7,200 448.2,200.1 447.7,200.2 447.2,200.4 446.7,200.5 446.2,200.6 445.7,200.7 445.2,200.8 444.7,200.9 444.2,201.3 443.7,201.7 443.2,202.1 442.7,202.5 442.2,202.9 441.7,203.3 441.2,203.7 440.7,204.1 440.2,204.5 439.7,204.9 439.2,205.3 438.7,205.7 438.2,206.1 437.7,206.5 437.2,206.9 436.7,207.3 436.2,207.7 436,207.9 435.7,208.2 435.2,208.7 434.7,209 434.2,209.3 433.7,209.5 433.2,209.8 432.7,210 432.2,210.3 431.7,210.6 431.2,210.8 430.7,211.1 430.2,211.3 429.7,211.6 429.2,211.8 428.7,212.1 428.2,212.4 427.7,212.6 427.2,212.9 426.7,213.1 426.2,213.4 425.7,213.6 425.5,213.7 425.2,213.8 424.7,213.9 424.2,214 423.7,214 423.2,214.1 422.7,214.2 422.2,214.3 421.7,214.4 421.2,214.5 420.7,214.6 420.2,214.6 419.7,214.7 419.2,214.8 418.7,215 418.2,215.2 417.7,215.5 417.2,215.8 416.7,216 416.2,216.3 415.7,216.5 415.2,216.8 414.7,217 414.6,217.1 414.2,218.1 413.7,219.4 413.2,220.7 412.7,222 412.2,223.3 411.7,224.6 411.3,225.6 411.2,225.6 410.7,225.6 410.2,225.7 409.7,225.7 409.2,225.7 408.7,225.7 408.2,225.8 407.7,225.8 407.2,225.8 406.7,225.8 406.2,225.9 405.7,225.9 405.2,225.9 404.7,225.9 404.2,226 403.7,226 403.6,226 403.2,227.4 402.7,229.1 402.2,230.8 401.7,232.5 401.4,233.5 401.2,233.8 400.7,234.7 400.2,235.5 399.7,236.3 399.2,237.1 398.7,238 398.2,238.8 397.7,239.6 397.2,240.5 397,240.8 396.7,240.9 396.2,241.2 395.7,241.4 395.2,241.6 394.7,241.8 394.2,242 393.7,242.3 393.2,242.5 392.7,242.7 392.2,242.9 391.7,243.2 391.5,243.3 391.2,244 390.7,245.1 390.2,246.3 389.7,247.5 389.2,248.7 388.7,249.8 388.2,251 387.7,252.2 387.2,253.3 387.1,253.6 386.7,254 386.2,254.5 385.7,255 385.2,255.4 384.7,255.9 384.2,256.4" fill="#1f77b4" fill-opacity="0.3" stroke="none"/>
<polygon points="384.2,216.5 384.7,214.9 385.2,213.4 385.7,211.8 386.2,210.3 386.7,208.8 387.2,207.2 387.7,205.7 388.2,204.1 388.7,202.9 389.2,201.7 389.7,200.5 390.2,199.3 390.7,198.1 391.2,196.9 391.7,195.7 392.2,194.5 392.7,193.2 393.2,192 393.7,190.8 394.2,189.3 394.7,187.7 395.2,186.2 395.7,184.6 395.9,184 396.2,183.9 396.7,183.8 397.2,183.8 397.7,184 398.2,184.2 398.7,184.4 399.2,184.6 399.7,184.8 400.2,185 400.7,185.2 401.2,185.4 401.4,185.5 401.7,185.4 402.2,185.3 402.7,185.2 403.2,185.1 403.7,184.9 404.2,184.8 404.7,184.7 405.2,184.6 405.7,184.4 406.2,184.3 406.7,184.2 407.2,184.1 407.7,183.9 408.2,183.8 408.7,183.7 409.2,183.6 409.7,183.4 410.2,183.3 410.7,183 411.2,182.7 411.7,182.4 412.2,182.1 412.7,181.7 413.2,181.4 413.7,181.1 414.2,180.8 414.7,180.5 415.2,180.2 415.7,179.9 416.2,179.6 416.7,179.2 417.2,178.9 417.7,178.6 418.2,178.3 418.7,178 419,177.8 419.2,177.7 419.7,177.4 420.2,177.1 420.7,176.8 421.2,176.5 421.7,176.2 422.2,175.9 422.7,175.6 423.2,175.3 423.7,175.1 424.2,174.8 424.7,174.5 425.2,174.2 425.5,174 425.7,173.8 426.2,173.4 426.7,172.9 427.2,172.5 427.7,172 428.2,171.6 428.7,171.1 429.2,170.7 429.7,170.2 430.2,169.7 430.7,169.3 431.2,168.8 431.7,168.4 432.2,167.9 432.7,167.5 433.2,167 433.7,166.6 434.2,166.1 434.7,165.7 435.2,165.2 435.7,164.8 436,164.5 436.2,164.3 436.7,163.8 437.2,163.3 437.7,162.8 438.2,162.2 438.7,161.7 439.2,161.2 439.7,160.7 440.2,160.2 440.7,159.7 441.2,159.2 441.7,158.7 442.2,158.1 442.7,157.6 443.2,157.1 443.7,156.6 444.2,156.1 444.7,155.6 445.2,155.1 445.7,154.5 445.8,154.4 446.2,154.2 446.7,154 447.2,153.8 447.7,153.5 448.2,153.3 448.7,153 449.2,152.8 449.7,152.5 450.2,152.3 450.7,152 451.2,151.8 451.7,151.5 452.2,151.3 452.7,151 453.2,150.8 453.7,150.6 454.2,150.3 454.7,150.1 455.2,149.8 455.7,149.6 456.2,149.3 456.7,149.1 457.2,148.8 457.7,148.6 457.9,148.5 458.2,148.4 458.7,148.1 459.2,147.9 459.7,147.7 460.2,147.4 460.7,147.2 461.2,147 461.7,146.7 462.2,146.5 462.7,146.3 463.2,146 463.7,145.8 464.2,145.6 464.5,145.4 464.7,144.2 465.2,141.2 465.7,138.1 466.2,135.1 466.7,132.1 467.2,131.4 467.7,130.7 468.2,130 468.7,129.3 469.2,128.6 469.7,127.9 470.2,127.2 470.7,126.6 471.1,126 471.2,125.9 471.7,125.5 472.2,125 472.7,124.6 473.2,124.2 473.7,123.7 474.2,123.3 474.7,122.8 475.2,122.4 475.7,122.1 476.2,121.8 476.7,121.5 477.2,121.2 477.7,120.9 478.2,120.6 478.7,120.2 479.2,119.9 479.7,119.6 479.9,119.5 480.2,119.4 480.7,119.3 481.2,119.2 481.7,119.1 482.2,119 482.7,118.9 483.2,118.8 483.7,118.7 484.2,118.6 484.7,118.5 485.2,118.3 485.7,118.2 486.2,118.1 486.7,118 487.2,117.9 487.7,117.8 488.2,117.7 488.7,117.6 489.2,117.5 489.7,117.4 490.2,117.3 490.7,117.2 491.2,117 491.7,116.9 492.2,116.8 492.7,116.7 493,116.7 493.2,115.9 493.7,113.9 494.2,111.8 494.7,109.8 495.2,107.8 495.3,107.4 495.7,107.4 496.2,107.4 496.7,107.5 497.2,107.5 497.7,107.5 498.2,107.5 498.7,107.5 499.2,107.5 499.7,107.5 500,107.5 500.2,107.5 500.7,107.4 501.2,107.3 501.7,107.2 502.2,107.2 502.7,107.1 503.2,107 503.7,106.9 504.2,106.8 504.7,106.8 505.2,106.7 505.7,106.6 506.2,106.5 506.7,106.4 507.2,106.4 507.7,106.3 508.2,106.2 508.7,106.1 509.2,106.1 509.7,106 510.2,105.9 510.7,105.8 511.2,105.7 511.7,105.7 512.2,105.6 512.7,105.5 513.2,105.4 513.7,105.3 514.2,105.3 514.7,105.2 515.2,105.1 515.7,105 516.2,105 516.7,104.9 517.2,104.8 517.6,104.7 517.7,104.7 518.2,104.5 518.7,104.3 519.2,104.1 519.7,103.9 520.2,103.7 520.7,103.5 521.2,103.3 521.7,103.1 522.2,103 522.7,102.8 523.2,102.6 523.7,102.4 524.2,102.2 524.7,102 525.2,101.8 525.7,101.6 526.2,101.4 526.7,101.2 527.2,101 527.7,100.8 528.2,100.6 528.7,100.4 529.2,100.3 529.7,100.1 530.2,99.9 530.7,99.7 530.8,99.6 531.2,99.4 531.7,99.2 532.2,99 532.7,98.7 533.2,98.5 533.7,98.3 534.2,98.1 534.7,97.9 535.2,97.7 535.7,97.5 536.2,97.2 536.7,97 537.2,96.8 537.7,96.6 538.2,96.4 538.7,96.2 539.2,96 539.7,95.8 540.2,95.6 540.7,95.4 541.2,95.2 541.7,95 542.2,94.7 542.7,94.5 543.2,94.3 543.7,94.1 544,94 544.2,93.8 544.7,93.4 545.2,92.9 545.7,92.5 546.2,92 546.7,91.5 547.2,91.1 547.7,90.6 548.2,90.2 548.7,89.7 549.2,89.3 549.7,88.8 550.2,88.4 550.7,87.9 551.2,87.5 551.7,87 552.2,86.5 552.7,86.1 553.2,85.8 553.7,85.5 554.2,85.2 554.7,84.9 555.2,84.7 555.7,84.4 556.2,84.1 556.7,83.8 557.2,83.5 557.7,83.2 558.2,83 558.7,82.7 559.2,82.4 559.7,82.1 560.2,81.8 560.7,81.5 561.2,81.2 561.7,81 562.2,80.7 562.7,80.4 563.2,80.1 563.7,79.8 564.2,79.5 564.7,79.2 565.2,79 565.7,78.7 566,78.5 566.2,78.4 566.7,78.3 567.2,78.1 567.7,78 568.2,77.8 568.7,77.7 569.2,77.5 569.7,77.4 570.2,77.2 570.7,77 571.2,76.9 571.7,76.7 572.2,76.6 572.7,76.4 573.2,76.3 573.7,76.1 574.2,76 574.7,75.8 575.2,75.6 575.7,75.5 576.2,75.3 576.7,75.2 577.2,75 577.7,74.9 578.2,74.7 578.7,74.6 579.2,74.4 579.7,74.2 580.2,74.1 580.7,73.9 581.2,73.8 581.3,73.8 581.7,73.5 582.2,73.1 582.7,72.8 583.2,72.5 583.7,72.1 584.2,71.8 584.7,71.4 585.2,71.1 585.7,70.8 586.2,70.4 586.7,70.1 587.2,69.7 587.7,69.4 588,69.2 588.2,69.2 588.7,69 589.2,68.9 589.7,68.8 590.2,68.7 590.7,68.6 591.2,68.5 591.7,68.4 592.2,68.3 592.7,68.2 593.2,68 593.7,67.9 594.2,67.8 594.7,67.7 595.2,67.6 595.7,67.5 596.2,67.4 596.7,67.3 597.2,67.2 597.7,67 598.2,66.9 598.7,66.8 599,66.8 599.2,66.7 599.7,66.6 600.2,66.5 600.7,66.3 601.2,66.2 601.7,66.1 602.2,66 602.7,65.9 603.2,65.7 603.7,65.6 604.2,65.5 604.7,65.4 605.2,65.3 605.7,65.2 606.2,65 606.7,64.9 607.2,64.8 607.7,64.7 608.2,64.6 608.7,64.4 609.2,64.3 609.7,64.2 610.2,64.1 610.7,64 611.2,63.9 611.7,63.9 612.2,63.8 612.7,63.7 613.2,63.6 613.7,63.5 614.2,63.5 614.3,63.4 614.7,63.4 615.2,63.4 615.7,63.4 616.2,63.4 616.7,63.4 617.2,63.4 617.7,63.4 618.2,63.3 618.7,63.3 619.2,63.3 619.7,63.3 620.2,63.3 620.7,63.3 621.2,63.3 621.7,63.3 622.2,63.2 622.7,63.2 623.2,63.2 623.7,63.2 624.2,63.2 624.7,63.2 625.2,63.2 625.7,63.1 626.2,63.1 626.7,63.1 627.2,63.1 627.5,63.1 627.5,96.1 627.2,96.1 626.7,96.1 626.2,96.1 625.7,96.1 625.2,96.2 624.7,96.2 624.2,96.2 623.7,96.2 623.2,96.2 622.7,96.2 622.2,96.2 621.7,96.3 621.2,96.3 620.7,96.3 620.2,96.3 619.7,96.3 619.2,96.3 618.7,96.3 618.2,96.3 617.7,96.4 617.2,96.4 616.7,96.4 616.2,96.4 615.7,96.4 615.2,96.4 614.7,96.4 614.3,96.4 614.2,96.5 613.7,96.5 613.2,96.6 612.7,96.7 612.2,96.8 611.7,96.9 611.2,96.9 610.7,97 610.2,97.1 609.7,97.2 609.2,97.3 608.7,97.4 608.2,97.6 607.7,97.7 607.2,97.8 606.7,97.9 606.2,98 605.7,98.2 605.2,98.3 604.7,98.4 604.2,98.5 603.7,98.6 603.2,98.7 602.7,98.9 602.2,99 601.7,99.1 601.2,99.2 600.7,99.3 600.2,99.5 599.7,99.6 599.2,99.7 599,99.8 598.7,99.8 598.2,99.9 597.7,100 597.2,100.2 596.7,100.3 596.2,100.4 595.7,100.5 595.2,100.6 594.7,100.7 594.2,100.8 593.7,100.9 593.2,101 592.7,101.2 592.2,101.3 591.7,101.4 591.2,101.5 590.7,101.6 590.2,101.7 589.7,101.8 589.2,101.9 588.7,102 588.2,102.2 588,102.2 587.7,102.4 587.2,102.7 586.7,103.1 586.2,103.4 585.7,103.8 585.2,104.1 584.7,104.4 584.2,104.8 583.7,105.1 583.2,105.5 582.7,105.8 582.2,106.1 581.7,106.5 581.3,106.8 581.2,106.8 580.7,106.9 580.2,107.1 579.7,107.2 579.2,107.4 578.7,107.6 578.2,107.7 577.7,107.9 577.2,108 576.7,108.2 576.2,108.3 575.7,108.5 575.2,108.6 574.7,108.8 574.2,109 573.7,109.1 573.2,109.3 572.7,109.4 572.2,109.6 571.7,109.7 571.2,109.9 570.7,110 570.2,110.2 569.7,110.4 569.2,110.5 568.7,110.7 568.2,110.8 567.7,111 567.2,111.1 566.7,111.3 566.2,111.4 566,111.5 565.7,111.7 565.2,112.1 564.7,112.5 564.2,112.9 563.7,113.3 563.2,113.7 562.7,114.1 562.2,114.5 561.7,114.9 561.2,115.3 560.7,115.6 560.2,116 559.7,116.4 559.2,116.8 558.7,117.2 558.2,117.6 557.7,118 557.2,118.4 556.7,118.8 556.2,119.2 555.7,119.6 555.2,120 554.7,120.3 554.2,120.7 553.7,121.1 553.2,121.5 552.7,121.9 552.2,122.5 551.7,123 551.2,123.6 550.7,124.2 550.2,124.7 549.7,125.3 549.2,125.8 548.7,126.4 548.2,127 547.7,127.5 547.2,128.1 546.7,128.6 546.2,129.2 545.7,129.8 545.2,130.3 544.7,130.9 544.2,131.4 544,131.7 543.7,131.9 543.2,132.2 542.7,132.5 542.2,132.8 541.7,133.1 541.2,133.4 540.7,133.7 540.2,134.1 539.7,134.4 539.2,134.7 538.7,135 538.2,135.3 537.7,135.6 537.2,135.9 536.7,136.3 536.2,136.6 535.7,136.9 535.2,137.2 534.7,137.5 534.2,137.8 533.7,138.1 533.2,138.5 532.7,138.7 532.2,139 531.7,139.3 531.2,139.6 530.8,139.8 530.7,139.8 530.2,140 529.7,140.3 529.2,140.5 528.7,140.7 528.2,140.9 527.7,141.2 527.2,141.4 526.7,141.6 526.2,141.8 525.7,142 525.2,142.3 524.7,142.5 524.2,142.7 523.7,142.9 523.2,143.2 522.7,143.4 522.2,143.6 521.7,143.8 521.2,144.1 520.7,144.3 520.2,144.5 519.7,144.7 519.2,145 518.7,145.2 518.2,145.4 517.7,145.6 517.6,145.7 517.2,145.8 516.7,145.9 516.2,146 515.7,146.1 515.2,146.2 514.7,146.3 514.2,146.4 513.7,146.5 513.2,146.6 512.7,146.7 512.2,146.8 511.7,147 511.2,147.1 510.7,147.2 510.2,147.3 509.7,147.4 509.2,147.5 508.7,147.6 508.2,147.7 507.7,147.8 507.2,147.9 506.7,148 506.2,148.1 505.7,148.3 505.2,148.4 504.7,148.5 504.2,148.6 503.7,148.7 503.2,148.8 502.7,148.9 502.2,149 501.7,149.1 501.2,149.2 500.7,149.3 500.2,149.5 500,149.5 499.7,149.5 499.2,149.5 498.7,149.5 498.2,149.5 497.7,149.5 497.2,149.5 496.7,149.5 496.2,149.4 495.7,149.4 495.3,149.4 495.2,149.8 494.7,151.8 494.2,153.8 493.7,155.9 493.2,157.9 493,158.7 492.7,158.7 492.2,158.8 491.7,158.9 491.2,159 490.7,159.2 490.2,159.3 489.7,159.4 489.2,159.5 488.7,159.6 488.2,159.7 487.7,159.8 487.2,159.9 486.7,160 486.2,160.1 485.7,160.2 485.2,160.3 484.7,160.5 484.2,160.6 483.7,160.7 483.2,160.8 482.7,160.9 482.2,161 481.7,161.1 481.2,161.2 480.7,161.3 480.2,161.4 479.9,161.5 479.7,161.6 479.2,161.9 478.7,162.2 478.2,162.6 477.7,162.9 477.2,163.2 476.7,163.5 476.2,163.8 475.7,164.1 475.2,164.4 474.7,164.8 474.2,165.2 473.7,165.5 473.2,165.9 472.7,166.2 472.2,166.6 471.7,167 471.2,167.3 471.1,167.4 470.7,167.9 470.2,168.5 469.7,169.1 469.2,169.7 468.7,170.3 468.2,171 467.7,171.6 467.2,172.2 466.7,172.8 466.2,175.8 465.7,178.7 465.2,181.7 464.7,184.6 464.5,185.8 464.2,185.9 463.7,186.1 463.2,186.2 462.7,186.4 462.2,186.5 461.7,186.7 461.2,186.8 460.7,187 460.2,187.2 459.7,187.3 459.2,187.5 458.7,187.6 458.2,187.8 457.9,187.9 457.7,187.9 457.2,188.1 456.7,188.3 456.2,188.4 455.7,188.6 455.2,188.8 454.7,188.9 454.2,189.1 453.7,189.3 453.2,189.5 452.7,189.6 452.2,189.8 451.7,190 451.2,190.1 450.7,190.3 450.2,190.5 449.7,190.6 449.2,190.8 448.7,191 448.2,191.1 447.7,191.3 447.2,191.5 446.7,191.6 446.2,191.8 445.8,192 445.7,192 445.2,192.5 444.7,192.9 444.2,193.3 443.7,193.8 443.2,194.2 442.7,194.7 442.2,195.1 441.7,195.5 441.2,196 440.7,196.4 440.2,196.8 439.7,197.3 439.2,197.7 438.7,198.1 438.2,198.6 437.7,199 437.2,199.5 436.7,199.9 436.2,200.3 436,200.5 435.7,200.8 435.2,201.2 434.7,201.6 434.2,202 433.7,202.5 433.2,202.9 432.7,203.3 432.2,203.7 431.7,204.2 431.2,204.6 430.7,205 430.2,205.5 429.7,205.9 429.2,206.3 428.7,206.7 428.2,207.2 427.7,207.6 427.2,208 426.7,208.4 426.2,208.9 425.7,209.3 425.5,209.5 425.2,209.6 424.7,209.9 424.2,210.2 423.7,210.4 423.2,210.7 422.7,211 422.2,211.2 421.7,211.5 421.2,211.8 420.7,212 420.2,212.3 419.7,212.6 419.2,212.8 419,212.9 418.7,213.1 418.2,213.4 417.7,213.7 417.2,214 416.7,214.2 416.2,214.5 415.7,214.8 415.2,215.1 414.7,215.4 414.2,215.7 413.7,216 413.2,216.3 412.7,216.5 412.2,216.8 411.7,217.1 411.2,217.4 410.7,217.7 410.2,218 409.7,218.1 409.2,218.2 408.7,218.3 408.2,218.4 407.7,218.5 407.2,218.6 406.7,218.7 406.2,218.8 405.7,218.9 405.2,219 404.7,219.1 404.2,219.2 403.7,219.3 403.2,219.4 402.7,219.5 402.2,219.6 401.7,219.7 401.4,219.7 401.2,219.6 400.7,219.4 400.2,219.2 399.7,219 399.2,218.7 398.7,218.5 398.2,218.3 397.7,218.1 397.2,217.8 396.7,217.6 396.2,217.4 395.9,217.3 395.7,217.8 395.2,219 394.7,220.3 394.2,221.6 393.7,222.8 393.2,223.7 392.7,224.6 392.2,225.5 391.7,226.4 391.2,227.3 390.7,228.2 390.2,229.1 389.7,230 389.2,230.9 388.7,231.8 388.2,232.7 387.7,233.9 387.2,235.2 386.7,236.4 386.2,237.6 385.7,238.9 385.2,240.1 384.7,241.4 384.2,242.6" fill="#2ca02c" fill-opacity="0.3" stroke="none"/>
<polyline points="384.2,227.7 387.1,216.7 390.4,203.5 397,201.3 404.7,198 406.9,192.5 419,190.3 421.2,177.1 431.5,173.7 449.1,169.3 452.4,161.6 462.3,156.2 473.3,152.9 486.5,148.5 497.5,141 500,138.6 522,134.5 544,132 563.7,128 568.1,121 574.7,112.2 588,105.5 596.7,97.8 610,85.7 619.8,78 623,58.2 627.5,56" fill="none" stroke="#ff7f0e" stroke-width="1.45" stroke-linejoin="round" stroke-opacity="1"/>
<circle cx="386.5" cy="219.1" r="1.25" fill="#ff7f0e" fill-opacity="0.5" stroke="#ff7f0e" stroke-opacity="0.9" stroke-width="0.6"/><circle cx="388.9" cy="209.3" r="1.25" fill="#ff7f0e" fill-opacity="0.5" stroke="#ff7f0e" stroke-opacity="0.9" stroke-width="0.6"/><circle cx="391.4" cy="203.2" r="1.25" fill="#ff7f0e" fill-opacity="0.5" stroke="#ff7f0e" stroke-opacity="0.9" stroke-width="0.6"/><circle cx="393.9" cy="202.3" r="1.25" fill="#ff7f0e" fill-opacity="0.5" stroke="#ff7f0e" stroke-opacity="0.9" stroke-width="0.6"/><circle cx="396.4" cy="201.5" r="1.25" fill="#ff7f0e" fill-opacity="0.5" stroke="#ff7f0e" stroke-opacity="0.9" stroke-width="0.6"/><circle cx="398.9" cy="200.5" r="1.25" fill="#ff7f0e" fill-opacity="0.5" stroke="#ff7f0e" stroke-opacity="0.9" stroke-width="0.6"/><circle cx="401.4" cy="199.4" r="1.25" fill="#ff7f0e" fill-opacity="0.5" stroke="#ff7f0e" stroke-opacity="0.9" stroke-width="0.6"/><circle cx="403.8" cy="198.4" r="1.25" fill="#ff7f0e" fill-opacity="0.5" stroke="#ff7f0e" stroke-opacity="0.9" stroke-width="0.6"/><circle cx="406.3" cy="193.9" r="1.25" fill="#ff7f0e" fill-opacity="0.5" stroke="#ff7f0e" stroke-opacity="0.9" stroke-width="0.6"/><circle cx="408.8" cy="192.2" r="1.25" fill="#ff7f0e" fill-opacity="0.5" stroke="#ff7f0e" stroke-opacity="0.9" stroke-width="0.6"/><circle cx="411.3" cy="191.7" r="1.25" fill="#ff7f0e" fill-opacity="0.5" stroke="#ff7f0e" stroke-opacity="0.9" stroke-width="0.6"/><circle cx="413.8" cy="191.2" r="1.25" fill="#ff7f0e" fill-opacity="0.5" stroke="#ff7f0e" stroke-opacity="0.9" stroke-width="0.6"/><circle cx="416.3" cy="190.8" r="1.25" fill="#ff7f0e" fill-opacity="0.5" stroke="#ff7f0e" stroke-opacity="0.9" stroke-width="0.6"/><circle cx="418.7" cy="190.3" r="1.25" fill="#ff7f0e" fill-opacity="0.5" stroke="#ff7f0e" stroke-opacity="0.9" stroke-width="0.6"/><circle cx="421.2" cy="177.1" r="1.25" fill="#ff7f0e" fill-opacity="0.5" stroke="#ff7f0e" stroke-opacity="0.9" stroke-width="0.6"/><circle cx="423.7" cy="176.3" r="1.25" fill="#ff7f0e" fill-opacity="0.5" stroke="#ff7f0e" stroke-opacity="0.9" stroke-width="0.6"/><circle cx="426.2" cy="175.5" r="1.25" fill="#ff7f0e" fill-opacity="0.5" stroke="#ff7f0e" stroke-opacity="0.9" stroke-width="0.6"/><circle cx="428.7" cy="174.6" r="1.25" fill="#ff7f0e" fill-opacity="0.5" stroke="#ff7f0e" stroke-opacity="0.9" stroke-width="0.6"/><circle cx="431.2" cy="173.8" r="1.25" fill="#ff7f0e" fill-opacity="0.5" stroke="#ff7f0e" stroke-opacity="0.9" stroke-width="0.6"/><circle cx="433.6" cy="173.2" r="1.25" fill="#ff7f0e" fill-opacity="0.5" stroke="#ff7f0e" stroke-opacity="0.9" stroke-width="0.6"/><circle cx="436.1" cy="172.5" r="1.25" fill="#ff7f0e" fill-opacity="0.5" stroke="#ff7f0e" stroke-opacity="0.9" stroke-width="0.6"/><circle cx="438.6" cy="171.9" r="1.25" fill="#ff7f0e" fill-opacity="0.5" stroke="#ff7f0e" stroke-opacity="0.9" stroke-width="0.6"/><circle cx="441.1" cy="171.3" r="1.25" fill="#ff7f0e" fill-opacity="0.5" stroke="#ff7f0e" stroke-opacity="0.9" stroke-width="0.6"/><circle cx="443.6" cy="170.7" r="1.25" fill="#ff7f0e" fill-opacity="0.5" stroke="#ff7f0e" stroke-opacity="0.9" stroke-width="0.6"/><circle cx="446.1" cy="170.1" r="1.25" fill="#ff7f0e" fill-opacity="0.5" stroke="#ff7f0e" stroke-opacity="0.9" stroke-width="0.6"/><circle cx="448.5" cy="169.4" r="1.25" fill="#ff7f0e" fill-opacity="0.5" stroke="#ff7f0e" stroke-opacity="0.9" stroke-width="0.6"/><circle cx="451" cy="164.8" r="1.25" fill="#ff7f0e" fill-opacity="0.5" stroke="#ff7f0e" stroke-opacity="0.9" stroke-width="0.6"/><circle cx="453.5" cy="161" r="1.25" fill="#ff7f0e" fill-opacity="0.5" stroke="#ff7f0e" stroke-opacity="0.9" stroke-width="0.6"/><circle cx="456" cy="159.6" r="1.25" fill="#ff7f0e" fill-opacity="0.5" stroke="#ff7f0e" stroke-opacity="0.9" stroke-width="0.6"/><circle cx="458.5" cy="158.3" r="1.25" fill="#ff7f0e" fill-opacity="0.5" stroke="#ff7f0e" stroke-opacity="0.9" stroke-width="0.6"/><circle cx="461" cy="156.9" r="1.25" fill="#ff7f0e" fill-opacity="0.5" stroke="#ff7f0e" stroke-opacity="0.9" stroke-width="0.6"/><circle cx="463.4" cy="155.9" r="1.25" fill="#ff7f0e" fill-opacity="0.5" stroke="#ff7f0e" stroke-opacity="0.9" stroke-width="0.6"/><circle cx="465.9" cy="155.1" r="1.25" fill="#ff7f0e" fill-opacity="0.5" stroke="#ff7f0e" stroke-opacity="0.9" stroke-width="0.6"/><circle cx="468.4" cy="154.4" r="1.25" fill="#ff7f0e" fill-opacity="0.5" stroke="#ff7f0e" stroke-opacity="0.9" stroke-width="0.6"/><circle cx="470.9" cy="153.6" r="1.25" fill="#ff7f0e" fill-opacity="0.5" stroke="#ff7f0e" stroke-opacity="0.9" stroke-width="0.6"/><circle cx="473.4" cy="152.9" r="1.25" fill="#ff7f0e" fill-opacity="0.5" stroke="#ff7f0e" stroke-opacity="0.9" stroke-width="0.6"/><circle cx="475.9" cy="152" r="1.25" fill="#ff7f0e" fill-opacity="0.5" stroke="#ff7f0e" stroke-opacity="0.9" stroke-width="0.6"/><circle cx="478.3" cy="151.2" r="1.25" fill="#ff7f0e" fill-opacity="0.5" stroke="#ff7f0e" stroke-opacity="0.9" stroke-width="0.6"/><circle cx="480.8" cy="150.4" r="1.25" fill="#ff7f0e" fill-opacity="0.5" stroke="#ff7f0e" stroke-opacity="0.9" stroke-width="0.6"/><circle cx="483.3" cy="149.6" r="1.25" fill="#ff7f0e" fill-opacity="0.5" stroke="#ff7f0e" stroke-opacity="0.9" stroke-width="0.6"/><circle cx="485.8" cy="148.7" r="1.25" fill="#ff7f0e" fill-opacity="0.5" stroke="#ff7f0e" stroke-opacity="0.9" stroke-width="0.6"/><circle cx="488.3" cy="147.3" r="1.25" fill="#ff7f0e" fill-opacity="0.5" stroke="#ff7f0e" stroke-opacity="0.9" stroke-width="0.6"/><circle cx="490.8" cy="145.6" r="1.25" fill="#ff7f0e" fill-opacity="0.5" stroke="#ff7f0e" stroke-opacity="0.9" stroke-width="0.6"/><circle cx="493.2" cy="143.9" r="1.25" fill="#ff7f0e" fill-opacity="0.5" stroke="#ff7f0e" stroke-opacity="0.9" stroke-width="0.6"/><circle cx="495.7" cy="142.2" r="1.25" fill="#ff7f0e" fill-opacity="0.5" stroke="#ff7f0e" stroke-opacity="0.9" stroke-width="0.6"/><circle cx="498.2" cy="140.3" r="1.25" fill="#ff7f0e" fill-opacity="0.5" stroke="#ff7f0e" stroke-opacity="0.9" stroke-width="0.6"/><circle cx="500.7" cy="138.5" r="1.25" fill="#ff7f0e" fill-opacity="0.5" stroke="#ff7f0e" stroke-opacity="0.9" stroke-width="0.6"/><circle cx="503.2" cy="138" r="1.25" fill="#ff7f0e" fill-opacity="0.5" stroke="#ff7f0e" stroke-opacity="0.9" stroke-width="0.6"/><circle cx="505.6" cy="137.5" r="1.25" fill="#ff7f0e" fill-opacity="0.5" stroke="#ff7f0e" stroke-opacity="0.9" stroke-width="0.6"/><circle cx="508.1" cy="137.1" r="1.25" fill="#ff7f0e" fill-opacity="0.5" stroke="#ff7f0e" stroke-opacity="0.9" stroke-width="0.6"/><circle cx="510.6" cy="136.6" r="1.25" fill="#ff7f0e" fill-opacity="0.5" stroke="#ff7f0e" stroke-opacity="0.9" stroke-width="0.6"/><circle cx="513.1" cy="136.2" r="1.25" fill="#ff7f0e" fill-opacity="0.5" stroke="#ff7f0e" stroke-opacity="0.9" stroke-width="0.6"/><circle cx="515.6" cy="135.7" r="1.25" fill="#ff7f0e" fill-opacity="0.5" stroke="#ff7f0e" stroke-opacity="0.9" stroke-width="0.6"/><circle cx="518.1" cy="135.2" r="1.25" fill="#ff7f0e" fill-opacity="0.5" stroke="#ff7f0e" stroke-opacity="0.9" stroke-width="0.6"/><circle cx="520.5" cy="134.8" r="1.25" fill="#ff7f0e" fill-opacity="0.5" stroke="#ff7f0e" stroke-opacity="0.9" stroke-width="0.6"/><circle cx="523" cy="134.4" r="1.25" fill="#ff7f0e" fill-opacity="0.5" stroke="#ff7f0e" stroke-opacity="0.9" stroke-width="0.6"/><circle cx="525.5" cy="134.1" r="1.25" fill="#ff7f0e" fill-opacity="0.5" stroke="#ff7f0e" stroke-opacity="0.9" stroke-width="0.6"/><circle cx="528" cy="133.8" r="1.25" fill="#ff7f0e" fill-opacity="0.5" stroke="#ff7f0e" stroke-opacity="0.9" stroke-width="0.6"/><circle cx="530.5" cy="133.5" r="1.25" fill="#ff7f0e" fill-opacity="0.5" stroke="#ff7f0e" stroke-opacity="0.9" stroke-width="0.6"/><circle cx="533" cy="133.3" r="1.25" fill="#ff7f0e" fill-opacity="0.5" stroke="#ff7f0e" stroke-opacity="0.9" stroke-width="0.6"/><circle cx="535.4" cy="133" r="1.25" fill="#ff7f0e" fill-opacity="0.5" stroke="#ff7f0e" stroke-opacity="0.9" stroke-width="0.6"/><circle cx="537.9" cy="132.7" r="1.25" fill="#ff7f0e" fill-opacity="0.5" stroke="#ff7f0e" stroke-opacity="0.9" stroke-width="0.6"/><circle cx="540.4" cy="132.4" r="1.25" fill="#ff7f0e" fill-opacity="0.5" stroke="#ff7f0e" stroke-opacity="0.9" stroke-width="0.6"/><circle cx="542.9" cy="132.1" r="1.25" fill="#ff7f0e" fill-opacity="0.5" stroke="#ff7f0e" stroke-opacity="0.9" stroke-width="0.6"/><circle cx="545.4" cy="131.7" r="1.25" fill="#ff7f0e" fill-opacity="0.5" stroke="#ff7f0e" stroke-opacity="0.9" stroke-width="0.6"/><circle cx="547.9" cy="131.2" r="1.25" fill="#ff7f0e" fill-opacity="0.5" stroke="#ff7f0e" stroke-opacity="0.9" stroke-width="0.6"/><circle cx="550.3" cy="130.7" r="1.25" fill="#ff7f0e" fill-opacity="0.5" stroke="#ff7f0e" stroke-opacity="0.9" stroke-width="0.6"/><circle cx="552.8" cy="130.2" r="1.25" fill="#ff7f0e" fill-opacity="0.5" stroke="#ff7f0e" stroke-opacity="0.9" stroke-width="0.6"/><circle cx="555.3" cy="129.7" r="1.25" fill="#ff7f0e" fill-opacity="0.5" stroke="#ff7f0e" stroke-opacity="0.9" stroke-width="0.6"/><circle cx="557.8" cy="129.2" r="1.25" fill="#ff7f0e" fill-opacity="0.5" stroke="#ff7f0e" stroke-opacity="0.9" stroke-width="0.6"/><circle cx="560.3" cy="128.7" r="1.25" fill="#ff7f0e" fill-opacity="0.5" stroke="#ff7f0e" stroke-opacity="0.9" stroke-width="0.6"/><circle cx="562.8" cy="128.2" r="1.25" fill="#ff7f0e" fill-opacity="0.5" stroke="#ff7f0e" stroke-opacity="0.9" stroke-width="0.6"/><circle cx="565.2" cy="125.5" r="1.25" fill="#ff7f0e" fill-opacity="0.5" stroke="#ff7f0e" stroke-opacity="0.9" stroke-width="0.6"/><circle cx="567.7" cy="121.6" r="1.25" fill="#ff7f0e" fill-opacity="0.5" stroke="#ff7f0e" stroke-opacity="0.9" stroke-width="0.6"/><circle cx="570.2" cy="118.2" r="1.25" fill="#ff7f0e" fill-opacity="0.5" stroke="#ff7f0e" stroke-opacity="0.9" stroke-width="0.6"/><circle cx="572.7" cy="114.9" r="1.25" fill="#ff7f0e" fill-opacity="0.5" stroke="#ff7f0e" stroke-opacity="0.9" stroke-width="0.6"/><circle cx="575.2" cy="112" r="1.25" fill="#ff7f0e" fill-opacity="0.5" stroke="#ff7f0e" stroke-opacity="0.9" stroke-width="0.6"/><circle cx="577.7" cy="110.7" r="1.25" fill="#ff7f0e" fill-opacity="0.5" stroke="#ff7f0e" stroke-opacity="0.9" stroke-width="0.6"/><circle cx="580.1" cy="109.5" r="1.25" fill="#ff7f0e" fill-opacity="0.5" stroke="#ff7f0e" stroke-opacity="0.9" stroke-width="0.6"/><circle cx="582.6" cy="108.2" r="1.25" fill="#ff7f0e" fill-opacity="0.5" stroke="#ff7f0e" stroke-opacity="0.9" stroke-width="0.6"/><circle cx="585.1" cy="107" r="1.25" fill="#ff7f0e" fill-opacity="0.5" stroke="#ff7f0e" stroke-opacity="0.9" stroke-width="0.6"/><circle cx="587.6" cy="105.7" r="1.25" fill="#ff7f0e" fill-opacity="0.5" stroke="#ff7f0e" stroke-opacity="0.9" stroke-width="0.6"/><circle cx="590.1" cy="103.7" r="1.25" fill="#ff7f0e" fill-opacity="0.5" stroke="#ff7f0e" stroke-opacity="0.9" stroke-width="0.6"/><circle cx="592.6" cy="101.5" r="1.25" fill="#ff7f0e" fill-opacity="0.5" stroke="#ff7f0e" stroke-opacity="0.9" stroke-width="0.6"/><circle cx="595" cy="99.3" r="1.25" fill="#ff7f0e" fill-opacity="0.5" stroke="#ff7f0e" stroke-opacity="0.9" stroke-width="0.6"/><circle cx="597.5" cy="97.1" r="1.25" fill="#ff7f0e" fill-opacity="0.5" stroke="#ff7f0e" stroke-opacity="0.9" stroke-width="0.6"/><circle cx="600" cy="94.8" r="1.25" fill="#ff7f0e" fill-opacity="0.5" stroke="#ff7f0e" stroke-opacity="0.9" stroke-width="0.6"/><circle cx="602.5" cy="92.5" r="1.25" fill="#ff7f0e" fill-opacity="0.5" stroke="#ff7f0e" stroke-opacity="0.9" stroke-width="0.6"/><circle cx="605" cy="90.3" r="1.25" fill="#ff7f0e" fill-opacity="0.5" stroke="#ff7f0e" stroke-opacity="0.9" stroke-width="0.6"/><circle cx="607.5" cy="88" r="1.25" fill="#ff7f0e" fill-opacity="0.5" stroke="#ff7f0e" stroke-opacity="0.9" stroke-width="0.6"/><circle cx="609.9" cy="85.8" r="1.25" fill="#ff7f0e" fill-opacity="0.5" stroke="#ff7f0e" stroke-opacity="0.9" stroke-width="0.6"/><circle cx="612.4" cy="83.8" r="1.25" fill="#ff7f0e" fill-opacity="0.5" stroke="#ff7f0e" stroke-opacity="0.9" stroke-width="0.6"/><circle cx="614.9" cy="81.8" r="1.25" fill="#ff7f0e" fill-opacity="0.5" stroke="#ff7f0e" stroke-opacity="0.9" stroke-width="0.6"/><circle cx="617.4" cy="79.9" r="1.25" fill="#ff7f0e" fill-opacity="0.5" stroke="#ff7f0e" stroke-opacity="0.9" stroke-width="0.6"/><circle cx="619.9" cy="77.6" r="1.25" fill="#ff7f0e" fill-opacity="0.5" stroke="#ff7f0e" stroke-opacity="0.9" stroke-width="0.6"/><circle cx="622.4" cy="62.2" r="1.25" fill="#ff7f0e" fill-opacity="0.5" stroke="#ff7f0e" stroke-opacity="0.9" stroke-width="0.6"/><circle cx="624.8" cy="57.3" r="1.25" fill="#ff7f0e" fill-opacity="0.5" stroke="#ff7f0e" stroke-opacity="0.9" stroke-width="0.6"/><circle cx="627.3" cy="56.1" r="1.25" fill="#ff7f0e" fill-opacity="0.5" stroke="#ff7f0e" stroke-opacity="0.9" stroke-width="0.6"/>
<polyline points="384.2,209 386.4,192.5 388.8,177.6 390,170 391.6,155.3 393.6,144.6 398.8,142.8 401.4,132.7 403.2,127.7 408.9,127.1 413.9,124.9 423.3,123.3 425.2,114.5 442.8,113.2 445.3,112 458,111 471,110.4 472.6,106.1 477.3,102.2 482.8,101.4 485.1,96.7 502.4,95.9 507.1,93.6 509.5,87.3 511.8,77.1 538.5,77.1 541.6,74.7 566,74.3 570.3,70.8 588,69.9 610,67 627.5,64.4" fill="none" stroke="#d62728" stroke-width="1.45" stroke-linejoin="round" stroke-opacity="1"/>
<circle cx="386.5" cy="192.1" r="1.0" fill="#d62728" fill-opacity="0.9"/><circle cx="388.9" cy="176.7" r="1.0" fill="#d62728" fill-opacity="0.9"/><circle cx="391.4" cy="156.8" r="1.0" fill="#d62728" fill-opacity="0.9"/><circle cx="393.9" cy="144.5" r="1.0" fill="#d62728" fill-opacity="0.9"/><circle cx="396.4" cy="143.6" r="1.0" fill="#d62728" fill-opacity="0.9"/><circle cx="398.9" cy="142.5" r="1.0" fill="#d62728" fill-opacity="0.9"/><circle cx="401.4" cy="132.8" r="1.0" fill="#d62728" fill-opacity="0.9"/><circle cx="403.8" cy="127.6" r="1.0" fill="#d62728" fill-opacity="0.9"/><circle cx="406.3" cy="127.4" r="1.0" fill="#d62728" fill-opacity="0.9"/><circle cx="408.8" cy="127.1" r="1.0" fill="#d62728" fill-opacity="0.9"/><circle cx="411.3" cy="126" r="1.0" fill="#d62728" fill-opacity="0.9"/><circle cx="413.8" cy="125" r="1.0" fill="#d62728" fill-opacity="0.9"/><circle cx="416.3" cy="124.5" r="1.0" fill="#d62728" fill-opacity="0.9"/><circle cx="418.7" cy="124.1" r="1.0" fill="#d62728" fill-opacity="0.9"/><circle cx="421.2" cy="123.7" r="1.0" fill="#d62728" fill-opacity="0.9"/><circle cx="423.7" cy="121.4" r="1.0" fill="#d62728" fill-opacity="0.9"/><circle cx="426.2" cy="114.4" r="1.0" fill="#d62728" fill-opacity="0.9"/><circle cx="428.7" cy="114.2" r="1.0" fill="#d62728" fill-opacity="0.9"/><circle cx="431.2" cy="114.1" r="1.0" fill="#d62728" fill-opacity="0.9"/><circle cx="433.6" cy="113.9" r="1.0" fill="#d62728" fill-opacity="0.9"/><circle cx="436.1" cy="113.7" r="1.0" fill="#d62728" fill-opacity="0.9"/><circle cx="438.6" cy="113.5" r="1.0" fill="#d62728" fill-opacity="0.9"/><circle cx="441.1" cy="113.3" r="1.0" fill="#d62728" fill-opacity="0.9"/><circle cx="443.6" cy="112.8" r="1.0" fill="#d62728" fill-opacity="0.9"/><circle cx="446.1" cy="111.9" r="1.0" fill="#d62728" fill-opacity="0.9"/><circle cx="448.5" cy="111.7" r="1.0" fill="#d62728" fill-opacity="0.9"/><circle cx="451" cy="111.5" r="1.0" fill="#d62728" fill-opacity="0.9"/><circle cx="453.5" cy="111.4" r="1.0" fill="#d62728" fill-opacity="0.9"/><circle cx="456" cy="111.2" r="1.0" fill="#d62728" fill-opacity="0.9"/><circle cx="458.5" cy="111" r="1.0" fill="#d62728" fill-opacity="0.9"/><circle cx="461" cy="110.9" r="1.0" fill="#d62728" fill-opacity="0.9"/><circle cx="463.4" cy="110.7" r="1.0" fill="#d62728" fill-opacity="0.9"/><circle cx="465.9" cy="110.6" r="1.0" fill="#d62728" fill-opacity="0.9"/><circle cx="468.4" cy="110.5" r="1.0" fill="#d62728" fill-opacity="0.9"/><circle cx="470.9" cy="110.4" r="1.0" fill="#d62728" fill-opacity="0.9"/><circle cx="473.4" cy="105.5" r="1.0" fill="#d62728" fill-opacity="0.9"/><circle cx="475.9" cy="103.4" r="1.0" fill="#d62728" fill-opacity="0.9"/><circle cx="478.3" cy="102" r="1.0" fill="#d62728" fill-opacity="0.9"/><circle cx="480.8" cy="101.7" r="1.0" fill="#d62728" fill-opacity="0.9"/><circle cx="483.3" cy="100.4" r="1.0" fill="#d62728" fill-opacity="0.9"/><circle cx="485.8" cy="96.7" r="1.0" fill="#d62728" fill-opacity="0.9"/><circle cx="488.3" cy="96.6" r="1.0" fill="#d62728" fill-opacity="0.9"/><circle cx="490.8" cy="96.4" r="1.0" fill="#d62728" fill-opacity="0.9"/><circle cx="493.2" cy="96.3" r="1.0" fill="#d62728" fill-opacity="0.9"/><circle cx="495.7" cy="96.2" r="1.0" fill="#d62728" fill-opacity="0.9"/><circle cx="498.2" cy="96.1" r="1.0" fill="#d62728" fill-opacity="0.9"/><circle cx="500.7" cy="96" r="1.0" fill="#d62728" fill-opacity="0.9"/><circle cx="503.2" cy="95.5" r="1.0" fill="#d62728" fill-opacity="0.9"/><circle cx="505.6" cy="94.3" r="1.0" fill="#d62728" fill-opacity="0.9"/><circle cx="508.1" cy="90.9" r="1.0" fill="#d62728" fill-opacity="0.9"/><circle cx="510.6" cy="82.4" r="1.0" fill="#d62728" fill-opacity="0.9"/><circle cx="513.1" cy="77.1" r="1.0" fill="#d62728" fill-opacity="0.9"/><circle cx="515.6" cy="77.1" r="1.0" fill="#d62728" fill-opacity="0.9"/><circle cx="518.1" cy="77.1" r="1.0" fill="#d62728" fill-opacity="0.9"/><circle cx="520.5" cy="77.1" r="1.0" fill="#d62728" fill-opacity="0.9"/><circle cx="523" cy="77.1" r="1.0" fill="#d62728" fill-opacity="0.9"/><circle cx="525.5" cy="77.1" r="1.0" fill="#d62728" fill-opacity="0.9"/><circle cx="528" cy="77.1" r="1.0" fill="#d62728" fill-opacity="0.9"/><circle cx="530.5" cy="77.1" r="1.0" fill="#d62728" fill-opacity="0.9"/><circle cx="533" cy="77.1" r="1.0" fill="#d62728" fill-opacity="0.9"/><circle cx="535.4" cy="77.1" r="1.0" fill="#d62728" fill-opacity="0.9"/><circle cx="537.9" cy="77.1" r="1.0" fill="#d62728" fill-opacity="0.9"/><circle cx="540.4" cy="75.6" r="1.0" fill="#d62728" fill-opacity="0.9"/><circle cx="542.9" cy="74.7" r="1.0" fill="#d62728" fill-opacity="0.9"/><circle cx="545.4" cy="74.6" r="1.0" fill="#d62728" fill-opacity="0.9"/><circle cx="547.9" cy="74.6" r="1.0" fill="#d62728" fill-opacity="0.9"/><circle cx="550.3" cy="74.6" r="1.0" fill="#d62728" fill-opacity="0.9"/><circle cx="552.8" cy="74.5" r="1.0" fill="#d62728" fill-opacity="0.9"/><circle cx="555.3" cy="74.5" r="1.0" fill="#d62728" fill-opacity="0.9"/><circle cx="557.8" cy="74.4" r="1.0" fill="#d62728" fill-opacity="0.9"/><circle cx="560.3" cy="74.4" r="1.0" fill="#d62728" fill-opacity="0.9"/><circle cx="562.8" cy="74.4" r="1.0" fill="#d62728" fill-opacity="0.9"/><circle cx="565.2" cy="74.3" r="1.0" fill="#d62728" fill-opacity="0.9"/><circle cx="567.7" cy="72.9" r="1.0" fill="#d62728" fill-opacity="0.9"/><circle cx="570.2" cy="70.9" r="1.0" fill="#d62728" fill-opacity="0.9"/><circle cx="572.7" cy="70.7" r="1.0" fill="#d62728" fill-opacity="0.9"/><circle cx="575.2" cy="70.6" r="1.0" fill="#d62728" fill-opacity="0.9"/><circle cx="577.7" cy="70.4" r="1.0" fill="#d62728" fill-opacity="0.9"/><circle cx="580.1" cy="70.3" r="1.0" fill="#d62728" fill-opacity="0.9"/><circle cx="582.6" cy="70.2" r="1.0" fill="#d62728" fill-opacity="0.9"/><circle cx="585.1" cy="70" r="1.0" fill="#d62728" fill-opacity="0.9"/><circle cx="587.6" cy="69.9" r="1.0" fill="#d62728" fill-opacity="0.9"/><circle cx="590.1" cy="69.6" r="1.0" fill="#d62728" fill-opacity="0.9"/><circle cx="592.6" cy="69.3" r="1.0" fill="#d62728" fill-opacity="0.9"/><circle cx="595" cy="69" r="1.0" fill="#d62728" fill-opacity="0.9"/><circle cx="597.5" cy="68.6" r="1.0" fill="#d62728" fill-opacity="0.9"/><circle cx="600" cy="68.3" r="1.0" fill="#d62728" fill-opacity="0.9"/><circle cx="602.5" cy="68" r="1.0" fill="#d62728" fill-opacity="0.9"/><circle cx="605" cy="67.7" r="1.0" fill="#d62728" fill-opacity="0.9"/><circle cx="607.5" cy="67.3" r="1.0" fill="#d62728" fill-opacity="0.9"/><circle cx="609.9" cy="67" r="1.0" fill="#d62728" fill-opacity="0.9"/><circle cx="612.4" cy="66.6" r="1.0" fill="#d62728" fill-opacity="0.9"/><circle cx="614.9" cy="66.3" r="1.0" fill="#d62728" fill-opacity="0.9"/><circle cx="617.4" cy="65.9" r="1.0" fill="#d62728" fill-opacity="0.9"/><circle cx="619.9" cy="65.5" r="1.0" fill="#d62728" fill-opacity="0.9"/><circle cx="622.4" cy="65.2" r="1.0" fill="#d62728" fill-opacity="0.9"/><circle cx="624.8" cy="64.8" r="1.0" fill="#d62728" fill-opacity="0.9"/><circle cx="627.3" cy="64.4" r="1.0" fill="#d62728" fill-opacity="0.9"/>
<polyline points="384.2,246.4 387.1,243.1 391.5,232.1 397,228.8 401.4,221.1 403.6,213.4 411.3,212.3 414.6,203.5 425.5,196.9 436,186.9 444.7,180.3 457.9,178.1 479.9,173.7 492,170.4 494.2,159.5 500,158.4 508.8,156.2 513.2,146.3 522,136.4 528.6,124.3 535.2,108 538.5,97.8 544,95.6 547.3,84.6 550.5,81.3 557.1,76.9 560.4,64.8 566,61.5 571.4,59.3 573.6,52.7 580.2,51.6 582.4,39.6 591.2,38.5 594.5,28.6 627.5,28.1" fill="none" stroke="#1f77b4" stroke-width="1.45" stroke-linejoin="round" stroke-opacity="1"/>
<circle cx="386.5" cy="243.8" r="1.25" fill="#1f77b4" fill-opacity="0.5" stroke="#1f77b4" stroke-opacity="0.9" stroke-width="0.6"/><circle cx="388.9" cy="238.5" r="1.25" fill="#1f77b4" fill-opacity="0.5" stroke="#1f77b4" stroke-opacity="0.9" stroke-width="0.6"/><circle cx="391.4" cy="232.3" r="1.25" fill="#1f77b4" fill-opacity="0.5" stroke="#1f77b4" stroke-opacity="0.9" stroke-width="0.6"/><circle cx="393.9" cy="230.7" r="1.25" fill="#1f77b4" fill-opacity="0.5" stroke="#1f77b4" stroke-opacity="0.9" stroke-width="0.6"/><circle cx="396.4" cy="229.2" r="1.25" fill="#1f77b4" fill-opacity="0.5" stroke="#1f77b4" stroke-opacity="0.9" stroke-width="0.6"/><circle cx="398.9" cy="225.5" r="1.25" fill="#1f77b4" fill-opacity="0.5" stroke="#1f77b4" stroke-opacity="0.9" stroke-width="0.6"/><circle cx="401.4" cy="221.2" r="1.25" fill="#1f77b4" fill-opacity="0.5" stroke="#1f77b4" stroke-opacity="0.9" stroke-width="0.6"/><circle cx="403.8" cy="213.4" r="1.25" fill="#1f77b4" fill-opacity="0.5" stroke="#1f77b4" stroke-opacity="0.9" stroke-width="0.6"/><circle cx="406.3" cy="213" r="1.25" fill="#1f77b4" fill-opacity="0.5" stroke="#1f77b4" stroke-opacity="0.9" stroke-width="0.6"/><circle cx="408.8" cy="212.7" r="1.25" fill="#1f77b4" fill-opacity="0.5" stroke="#1f77b4" stroke-opacity="0.9" stroke-width="0.6"/><circle cx="411.3" cy="212.3" r="1.25" fill="#1f77b4" fill-opacity="0.5" stroke="#1f77b4" stroke-opacity="0.9" stroke-width="0.6"/><circle cx="413.8" cy="205.7" r="1.25" fill="#1f77b4" fill-opacity="0.5" stroke="#1f77b4" stroke-opacity="0.9" stroke-width="0.6"/><circle cx="416.3" cy="202.5" r="1.25" fill="#1f77b4" fill-opacity="0.5" stroke="#1f77b4" stroke-opacity="0.9" stroke-width="0.6"/><circle cx="418.7" cy="201" r="1.25" fill="#1f77b4" fill-opacity="0.5" stroke="#1f77b4" stroke-opacity="0.9" stroke-width="0.6"/><circle cx="421.2" cy="199.5" r="1.25" fill="#1f77b4" fill-opacity="0.5" stroke="#1f77b4" stroke-opacity="0.9" stroke-width="0.6"/><circle cx="423.7" cy="198" r="1.25" fill="#1f77b4" fill-opacity="0.5" stroke="#1f77b4" stroke-opacity="0.9" stroke-width="0.6"/><circle cx="426.2" cy="196.2" r="1.25" fill="#1f77b4" fill-opacity="0.5" stroke="#1f77b4" stroke-opacity="0.9" stroke-width="0.6"/><circle cx="428.7" cy="193.9" r="1.25" fill="#1f77b4" fill-opacity="0.5" stroke="#1f77b4" stroke-opacity="0.9" stroke-width="0.6"/><circle cx="431.2" cy="191.5" r="1.25" fill="#1f77b4" fill-opacity="0.5" stroke="#1f77b4" stroke-opacity="0.9" stroke-width="0.6"/><circle cx="433.6" cy="189.1" r="1.25" fill="#1f77b4" fill-opacity="0.5" stroke="#1f77b4" stroke-opacity="0.9" stroke-width="0.6"/><circle cx="436.1" cy="186.8" r="1.25" fill="#1f77b4" fill-opacity="0.5" stroke="#1f77b4" stroke-opacity="0.9" stroke-width="0.6"/><circle cx="438.6" cy="184.9" r="1.25" fill="#1f77b4" fill-opacity="0.5" stroke="#1f77b4" stroke-opacity="0.9" stroke-width="0.6"/><circle cx="441.1" cy="183" r="1.25" fill="#1f77b4" fill-opacity="0.5" stroke="#1f77b4" stroke-opacity="0.9" stroke-width="0.6"/><circle cx="443.6" cy="181.2" r="1.25" fill="#1f77b4" fill-opacity="0.5" stroke="#1f77b4" stroke-opacity="0.9" stroke-width="0.6"/><circle cx="446.1" cy="180.1" r="1.25" fill="#1f77b4" fill-opacity="0.5" stroke="#1f77b4" stroke-opacity="0.9" stroke-width="0.6"/><circle cx="448.5" cy="179.7" r="1.25" fill="#1f77b4" fill-opacity="0.5" stroke="#1f77b4" stroke-opacity="0.9" stroke-width="0.6"/><circle cx="451" cy="179.2" r="1.25" fill="#1f77b4" fill-opacity="0.5" stroke="#1f77b4" stroke-opacity="0.9" stroke-width="0.6"/><circle cx="453.5" cy="178.8" r="1.25" fill="#1f77b4" fill-opacity="0.5" stroke="#1f77b4" stroke-opacity="0.9" stroke-width="0.6"/><circle cx="456" cy="178.4" r="1.25" fill="#1f77b4" fill-opacity="0.5" stroke="#1f77b4" stroke-opacity="0.9" stroke-width="0.6"/><circle cx="458.5" cy="178" r="1.25" fill="#1f77b4" fill-opacity="0.5" stroke="#1f77b4" stroke-opacity="0.9" stroke-width="0.6"/><circle cx="461" cy="177.5" r="1.25" fill="#1f77b4" fill-opacity="0.5" stroke="#1f77b4" stroke-opacity="0.9" stroke-width="0.6"/><circle cx="463.4" cy="177" r="1.25" fill="#1f77b4" fill-opacity="0.5" stroke="#1f77b4" stroke-opacity="0.9" stroke-width="0.6"/><circle cx="465.9" cy="176.5" r="1.25" fill="#1f77b4" fill-opacity="0.5" stroke="#1f77b4" stroke-opacity="0.9" stroke-width="0.6"/><circle cx="468.4" cy="176" r="1.25" fill="#1f77b4" fill-opacity="0.5" stroke="#1f77b4" stroke-opacity="0.9" stroke-width="0.6"/><circle cx="470.9" cy="175.5" r="1.25" fill="#1f77b4" fill-opacity="0.5" stroke="#1f77b4" stroke-opacity="0.9" stroke-width="0.6"/><circle cx="473.4" cy="175" r="1.25" fill="#1f77b4" fill-opacity="0.5" stroke="#1f77b4" stroke-opacity="0.9" stroke-width="0.6"/><circle cx="475.9" cy="174.5" r="1.25" fill="#1f77b4" fill-opacity="0.5" stroke="#1f77b4" stroke-opacity="0.9" stroke-width="0.6"/><circle cx="478.3" cy="174" r="1.25" fill="#1f77b4" fill-opacity="0.5" stroke="#1f77b4" stroke-opacity="0.9" stroke-width="0.6"/><circle cx="480.8" cy="173.4" r="1.25" fill="#1f77b4" fill-opacity="0.5" stroke="#1f77b4" stroke-opacity="0.9" stroke-width="0.6"/><circle cx="483.3" cy="172.8" r="1.25" fill="#1f77b4" fill-opacity="0.5" stroke="#1f77b4" stroke-opacity="0.9" stroke-width="0.6"/><circle cx="485.8" cy="172.1" r="1.25" fill="#1f77b4" fill-opacity="0.5" stroke="#1f77b4" stroke-opacity="0.9" stroke-width="0.6"/><circle cx="488.3" cy="171.4" r="1.25" fill="#1f77b4" fill-opacity="0.5" stroke="#1f77b4" stroke-opacity="0.9" stroke-width="0.6"/><circle cx="490.8" cy="170.7" r="1.25" fill="#1f77b4" fill-opacity="0.5" stroke="#1f77b4" stroke-opacity="0.9" stroke-width="0.6"/><circle cx="493.2" cy="164.3" r="1.25" fill="#1f77b4" fill-opacity="0.5" stroke="#1f77b4" stroke-opacity="0.9" stroke-width="0.6"/><circle cx="495.7" cy="159.2" r="1.25" fill="#1f77b4" fill-opacity="0.5" stroke="#1f77b4" stroke-opacity="0.9" stroke-width="0.6"/><circle cx="498.2" cy="158.7" r="1.25" fill="#1f77b4" fill-opacity="0.5" stroke="#1f77b4" stroke-opacity="0.9" stroke-width="0.6"/><circle cx="500.7" cy="158.2" r="1.25" fill="#1f77b4" fill-opacity="0.5" stroke="#1f77b4" stroke-opacity="0.9" stroke-width="0.6"/><circle cx="503.2" cy="157.6" r="1.25" fill="#1f77b4" fill-opacity="0.5" stroke="#1f77b4" stroke-opacity="0.9" stroke-width="0.6"/><circle cx="505.6" cy="157" r="1.25" fill="#1f77b4" fill-opacity="0.5" stroke="#1f77b4" stroke-opacity="0.9" stroke-width="0.6"/><circle cx="508.1" cy="156.4" r="1.25" fill="#1f77b4" fill-opacity="0.5" stroke="#1f77b4" stroke-opacity="0.9" stroke-width="0.6"/><circle cx="510.6" cy="152.1" r="1.25" fill="#1f77b4" fill-opacity="0.5" stroke="#1f77b4" stroke-opacity="0.9" stroke-width="0.6"/><circle cx="513.1" cy="146.5" r="1.25" fill="#1f77b4" fill-opacity="0.5" stroke="#1f77b4" stroke-opacity="0.9" stroke-width="0.6"/><circle cx="515.6" cy="143.6" r="1.25" fill="#1f77b4" fill-opacity="0.5" stroke="#1f77b4" stroke-opacity="0.9" stroke-width="0.6"/><circle cx="518.1" cy="140.8" r="1.25" fill="#1f77b4" fill-opacity="0.5" stroke="#1f77b4" stroke-opacity="0.9" stroke-width="0.6"/><circle cx="520.5" cy="138" r="1.25" fill="#1f77b4" fill-opacity="0.5" stroke="#1f77b4" stroke-opacity="0.9" stroke-width="0.6"/><circle cx="523" cy="134.5" r="1.25" fill="#1f77b4" fill-opacity="0.5" stroke="#1f77b4" stroke-opacity="0.9" stroke-width="0.6"/><circle cx="525.5" cy="130" r="1.25" fill="#1f77b4" fill-opacity="0.5" stroke="#1f77b4" stroke-opacity="0.9" stroke-width="0.6"/><circle cx="528" cy="125.4" r="1.25" fill="#1f77b4" fill-opacity="0.5" stroke="#1f77b4" stroke-opacity="0.9" stroke-width="0.6"/><circle cx="530.5" cy="119.7" r="1.25" fill="#1f77b4" fill-opacity="0.5" stroke="#1f77b4" stroke-opacity="0.9" stroke-width="0.6"/><circle cx="533" cy="113.5" r="1.25" fill="#1f77b4" fill-opacity="0.5" stroke="#1f77b4" stroke-opacity="0.9" stroke-width="0.6"/><circle cx="535.4" cy="107.2" r="1.25" fill="#1f77b4" fill-opacity="0.5" stroke="#1f77b4" stroke-opacity="0.9" stroke-width="0.6"/><circle cx="537.9" cy="99.6" r="1.25" fill="#1f77b4" fill-opacity="0.5" stroke="#1f77b4" stroke-opacity="0.9" stroke-width="0.6"/><circle cx="540.4" cy="97" r="1.25" fill="#1f77b4" fill-opacity="0.5" stroke="#1f77b4" stroke-opacity="0.9" stroke-width="0.6"/><circle cx="542.9" cy="96" r="1.25" fill="#1f77b4" fill-opacity="0.5" stroke="#1f77b4" stroke-opacity="0.9" stroke-width="0.6"/><circle cx="545.4" cy="91" r="1.25" fill="#1f77b4" fill-opacity="0.5" stroke="#1f77b4" stroke-opacity="0.9" stroke-width="0.6"/><circle cx="547.9" cy="84" r="1.25" fill="#1f77b4" fill-opacity="0.5" stroke="#1f77b4" stroke-opacity="0.9" stroke-width="0.6"/><circle cx="550.3" cy="81.5" r="1.25" fill="#1f77b4" fill-opacity="0.5" stroke="#1f77b4" stroke-opacity="0.9" stroke-width="0.6"/><circle cx="552.8" cy="79.7" r="1.25" fill="#1f77b4" fill-opacity="0.5" stroke="#1f77b4" stroke-opacity="0.9" stroke-width="0.6"/><circle cx="555.3" cy="78.1" r="1.25" fill="#1f77b4" fill-opacity="0.5" stroke="#1f77b4" stroke-opacity="0.9" stroke-width="0.6"/><circle cx="557.8" cy="74.4" r="1.25" fill="#1f77b4" fill-opacity="0.5" stroke="#1f77b4" stroke-opacity="0.9" stroke-width="0.6"/><circle cx="560.3" cy="65.3" r="1.25" fill="#1f77b4" fill-opacity="0.5" stroke="#1f77b4" stroke-opacity="0.9" stroke-width="0.6"/><circle cx="562.8" cy="63.4" r="1.25" fill="#1f77b4" fill-opacity="0.5" stroke="#1f77b4" stroke-opacity="0.9" stroke-width="0.6"/><circle cx="565.2" cy="61.9" r="1.25" fill="#1f77b4" fill-opacity="0.5" stroke="#1f77b4" stroke-opacity="0.9" stroke-width="0.6"/><circle cx="567.7" cy="60.8" r="1.25" fill="#1f77b4" fill-opacity="0.5" stroke="#1f77b4" stroke-opacity="0.9" stroke-width="0.6"/><circle cx="570.2" cy="59.8" r="1.25" fill="#1f77b4" fill-opacity="0.5" stroke="#1f77b4" stroke-opacity="0.9" stroke-width="0.6"/><circle cx="572.7" cy="55.4" r="1.25" fill="#1f77b4" fill-opacity="0.5" stroke="#1f77b4" stroke-opacity="0.9" stroke-width="0.6"/><circle cx="575.2" cy="52.4" r="1.25" fill="#1f77b4" fill-opacity="0.5" stroke="#1f77b4" stroke-opacity="0.9" stroke-width="0.6"/><circle cx="577.7" cy="52" r="1.25" fill="#1f77b4" fill-opacity="0.5" stroke="#1f77b4" stroke-opacity="0.9" stroke-width="0.6"/><circle cx="580.1" cy="51.6" r="1.25" fill="#1f77b4" fill-opacity="0.5" stroke="#1f77b4" stroke-opacity="0.9" stroke-width="0.6"/><circle cx="582.6" cy="39.6" r="1.25" fill="#1f77b4" fill-opacity="0.5" stroke="#1f77b4" stroke-opacity="0.9" stroke-width="0.6"/><circle cx="585.1" cy="39.3" r="1.25" fill="#1f77b4" fill-opacity="0.5" stroke="#1f77b4" stroke-opacity="0.9" stroke-width="0.6"/><circle cx="587.6" cy="39" r="1.25" fill="#1f77b4" fill-opacity="0.5" stroke="#1f77b4" stroke-opacity="0.9" stroke-width="0.6"/><circle cx="590.1" cy="38.6" r="1.25" fill="#1f77b4" fill-opacity="0.5" stroke="#1f77b4" stroke-opacity="0.9" stroke-width="0.6"/><circle cx="592.6" cy="34.4" r="1.25" fill="#1f77b4" fill-opacity="0.5" stroke="#1f77b4" stroke-opacity="0.9" stroke-width="0.6"/><circle cx="595" cy="28.6" r="1.25" fill="#1f77b4" fill-opacity="0.5" stroke="#1f77b4" stroke-opacity="0.9" stroke-width="0.6"/><circle cx="597.5" cy="28.6" r="1.25" fill="#1f77b4" fill-opacity="0.5" stroke="#1f77b4" stroke-opacity="0.9" stroke-width="0.6"/><circle cx="600" cy="28.5" r="1.25" fill="#1f77b4" fill-opacity="0.5" stroke="#1f77b4" stroke-opacity="0.9" stroke-width="0.6"/><circle cx="602.5" cy="28.5" r="1.25" fill="#1f77b4" fill-opacity="0.5" stroke="#1f77b4" stroke-opacity="0.9" stroke-width="0.6"/><circle cx="605" cy="28.4" r="1.25" fill="#1f77b4" fill-opacity="0.5" stroke="#1f77b4" stroke-opacity="0.9" stroke-width="0.6"/><circle cx="607.5" cy="28.4" r="1.25" fill="#1f77b4" fill-opacity="0.5" stroke="#1f77b4" stroke-opacity="0.9" stroke-width="0.6"/><circle cx="609.9" cy="28.4" r="1.25" fill="#1f77b4" fill-opacity="0.5" stroke="#1f77b4" stroke-opacity="0.9" stroke-width="0.6"/><circle cx="612.4" cy="28.3" r="1.25" fill="#1f77b4" fill-opacity="0.5" stroke="#1f77b4" stroke-opacity="0.9" stroke-width="0.6"/><circle cx="614.9" cy="28.3" r="1.25" fill="#1f77b4" fill-opacity="0.5" stroke="#1f77b4" stroke-opacity="0.9" stroke-width="0.6"/><circle cx="617.4" cy="28.3" r="1.25" fill="#1f77b4" fill-opacity="0.5" stroke="#1f77b4" stroke-opacity="0.9" stroke-width="0.6"/><circle cx="619.9" cy="28.2" r="1.25" fill="#1f77b4" fill-opacity="0.5" stroke="#1f77b4" stroke-opacity="0.9" stroke-width="0.6"/><circle cx="622.4" cy="28.2" r="1.25" fill="#1f77b4" fill-opacity="0.5" stroke="#1f77b4" stroke-opacity="0.9" stroke-width="0.6"/><circle cx="624.8" cy="28.1" r="1.25" fill="#1f77b4" fill-opacity="0.5" stroke="#1f77b4" stroke-opacity="0.9" stroke-width="0.6"/><circle cx="627.3" cy="28.1" r="1.25" fill="#1f77b4" fill-opacity="0.5" stroke="#1f77b4" stroke-opacity="0.9" stroke-width="0.6"/>
<polyline points="384.2,226.6 388.2,216.7 393.7,206.8 395.9,201.3 401.4,203.5 410.2,201.3 419,195.8 425.5,192 436,182.5 445.8,173.7 457.9,169.3 464.5,167.1 466.7,154 471.1,148.5 479.9,141.9 493,137.5 495.3,128 500,127.5 517.6,124.2 530.8,118.7 544,112 552.7,103.3 566,94.5 581.3,90.1 588,85.7 599,83.5 614.3,80.2 627.5,79.1" fill="none" stroke="#2ca02c" stroke-width="1.45" stroke-linejoin="round" stroke-opacity="1"/>
<path d="M386.5 219.4L387.5 221L386.5 222.6L385.4 221Z" fill="#2ca02c" fill-opacity="0.5" stroke="#2ca02c" stroke-opacity="0.9" stroke-width="0.6"/><path d="M388.9 213.8L390 215.4L388.9 216.9L387.9 215.4Z" fill="#2ca02c" fill-opacity="0.5" stroke="#2ca02c" stroke-opacity="0.9" stroke-width="0.6"/><path d="M391.4 209.3L392.5 210.9L391.4 212.4L390.4 210.9Z" fill="#2ca02c" fill-opacity="0.5" stroke="#2ca02c" stroke-opacity="0.9" stroke-width="0.6"/><path d="M393.9 204.7L395 206.3L393.9 207.8L392.9 206.3Z" fill="#2ca02c" fill-opacity="0.5" stroke="#2ca02c" stroke-opacity="0.9" stroke-width="0.6"/><path d="M396.4 199.9L397.5 201.5L396.4 203.1L395.3 201.5Z" fill="#2ca02c" fill-opacity="0.5" stroke="#2ca02c" stroke-opacity="0.9" stroke-width="0.6"/><path d="M398.9 200.9L399.9 202.5L398.9 204.1L397.8 202.5Z" fill="#2ca02c" fill-opacity="0.5" stroke="#2ca02c" stroke-opacity="0.9" stroke-width="0.6"/><path d="M401.4 201.9L402.4 203.5L401.4 205L400.3 203.5Z" fill="#2ca02c" fill-opacity="0.5" stroke="#2ca02c" stroke-opacity="0.9" stroke-width="0.6"/><path d="M403.8 201.3L404.9 202.9L403.8 204.5L402.8 202.9Z" fill="#2ca02c" fill-opacity="0.5" stroke="#2ca02c" stroke-opacity="0.9" stroke-width="0.6"/><path d="M406.3 200.7L407.4 202.3L406.3 203.8L405.3 202.3Z" fill="#2ca02c" fill-opacity="0.5" stroke="#2ca02c" stroke-opacity="0.9" stroke-width="0.6"/><path d="M408.8 200.1L409.9 201.6L408.8 203.2L407.8 201.6Z" fill="#2ca02c" fill-opacity="0.5" stroke="#2ca02c" stroke-opacity="0.9" stroke-width="0.6"/><path d="M411.3 199.1L412.4 200.6L411.3 202.2L410.2 200.6Z" fill="#2ca02c" fill-opacity="0.5" stroke="#2ca02c" stroke-opacity="0.9" stroke-width="0.6"/><path d="M413.8 197.5L414.8 199.1L413.8 200.6L412.7 199.1Z" fill="#2ca02c" fill-opacity="0.5" stroke="#2ca02c" stroke-opacity="0.9" stroke-width="0.6"/><path d="M416.3 195.9L417.3 197.5L416.3 199.1L415.2 197.5Z" fill="#2ca02c" fill-opacity="0.5" stroke="#2ca02c" stroke-opacity="0.9" stroke-width="0.6"/><path d="M418.7 194.4L419.8 196L418.7 197.5L417.7 196Z" fill="#2ca02c" fill-opacity="0.5" stroke="#2ca02c" stroke-opacity="0.9" stroke-width="0.6"/><path d="M421.2 192.9L422.3 194.5L421.2 196.1L420.2 194.5Z" fill="#2ca02c" fill-opacity="0.5" stroke="#2ca02c" stroke-opacity="0.9" stroke-width="0.6"/><path d="M423.7 191.5L424.8 193L423.7 194.6L422.6 193Z" fill="#2ca02c" fill-opacity="0.5" stroke="#2ca02c" stroke-opacity="0.9" stroke-width="0.6"/><path d="M426.2 189.8L427.3 191.4L426.2 192.9L425.1 191.4Z" fill="#2ca02c" fill-opacity="0.5" stroke="#2ca02c" stroke-opacity="0.9" stroke-width="0.6"/><path d="M428.7 187.6L429.7 189.1L428.7 190.7L427.6 189.1Z" fill="#2ca02c" fill-opacity="0.5" stroke="#2ca02c" stroke-opacity="0.9" stroke-width="0.6"/><path d="M431.2 185.3L432.2 186.9L431.2 188.4L430.1 186.9Z" fill="#2ca02c" fill-opacity="0.5" stroke="#2ca02c" stroke-opacity="0.9" stroke-width="0.6"/><path d="M433.6 183.1L434.7 184.6L433.6 186.2L432.6 184.6Z" fill="#2ca02c" fill-opacity="0.5" stroke="#2ca02c" stroke-opacity="0.9" stroke-width="0.6"/><path d="M436.1 180.8L437.2 182.4L436.1 183.9L435.1 182.4Z" fill="#2ca02c" fill-opacity="0.5" stroke="#2ca02c" stroke-opacity="0.9" stroke-width="0.6"/><path d="M438.6 178.6L439.7 180.2L438.6 181.7L437.5 180.2Z" fill="#2ca02c" fill-opacity="0.5" stroke="#2ca02c" stroke-opacity="0.9" stroke-width="0.6"/><path d="M441.1 176.4L442.2 177.9L441.1 179.5L440 177.9Z" fill="#2ca02c" fill-opacity="0.5" stroke="#2ca02c" stroke-opacity="0.9" stroke-width="0.6"/><path d="M443.6 174.1L444.6 175.7L443.6 177.3L442.5 175.7Z" fill="#2ca02c" fill-opacity="0.5" stroke="#2ca02c" stroke-opacity="0.9" stroke-width="0.6"/><path d="M446.1 172L447.1 173.6L446.1 175.2L445 173.6Z" fill="#2ca02c" fill-opacity="0.5" stroke="#2ca02c" stroke-opacity="0.9" stroke-width="0.6"/><path d="M448.5 171.1L449.6 172.7L448.5 174.3L447.5 172.7Z" fill="#2ca02c" fill-opacity="0.5" stroke="#2ca02c" stroke-opacity="0.9" stroke-width="0.6"/><path d="M451 170.2L452.1 171.8L451 173.4L450 171.8Z" fill="#2ca02c" fill-opacity="0.5" stroke="#2ca02c" stroke-opacity="0.9" stroke-width="0.6"/><path d="M453.5 169.3L454.6 170.9L453.5 172.5L452.4 170.9Z" fill="#2ca02c" fill-opacity="0.5" stroke="#2ca02c" stroke-opacity="0.9" stroke-width="0.6"/><path d="M456 168.4L457.1 170L456 171.6L454.9 170Z" fill="#2ca02c" fill-opacity="0.5" stroke="#2ca02c" stroke-opacity="0.9" stroke-width="0.6"/><path d="M458.5 167.5L459.5 169.1L458.5 170.7L457.4 169.1Z" fill="#2ca02c" fill-opacity="0.5" stroke="#2ca02c" stroke-opacity="0.9" stroke-width="0.6"/><path d="M461 166.7L462 168.3L461 169.8L459.9 168.3Z" fill="#2ca02c" fill-opacity="0.5" stroke="#2ca02c" stroke-opacity="0.9" stroke-width="0.6"/><path d="M463.4 165.9L464.5 167.5L463.4 169L462.4 167.5Z" fill="#2ca02c" fill-opacity="0.5" stroke="#2ca02c" stroke-opacity="0.9" stroke-width="0.6"/><path d="M465.9 157.1L467 158.6L465.9 160.2L464.9 158.6Z" fill="#2ca02c" fill-opacity="0.5" stroke="#2ca02c" stroke-opacity="0.9" stroke-width="0.6"/><path d="M468.4 150.3L469.5 151.9L468.4 153.4L467.3 151.9Z" fill="#2ca02c" fill-opacity="0.5" stroke="#2ca02c" stroke-opacity="0.9" stroke-width="0.6"/><path d="M470.9 147.2L472 148.8L470.9 150.3L469.8 148.8Z" fill="#2ca02c" fill-opacity="0.5" stroke="#2ca02c" stroke-opacity="0.9" stroke-width="0.6"/><path d="M473.4 145.2L474.4 146.8L473.4 148.4L472.3 146.8Z" fill="#2ca02c" fill-opacity="0.5" stroke="#2ca02c" stroke-opacity="0.9" stroke-width="0.6"/><path d="M475.9 143.4L476.9 144.9L475.9 146.5L474.8 144.9Z" fill="#2ca02c" fill-opacity="0.5" stroke="#2ca02c" stroke-opacity="0.9" stroke-width="0.6"/><path d="M478.3 141.5L479.4 143.1L478.3 144.6L477.3 143.1Z" fill="#2ca02c" fill-opacity="0.5" stroke="#2ca02c" stroke-opacity="0.9" stroke-width="0.6"/><path d="M480.8 140L481.9 141.6L480.8 143.2L479.8 141.6Z" fill="#2ca02c" fill-opacity="0.5" stroke="#2ca02c" stroke-opacity="0.9" stroke-width="0.6"/><path d="M483.3 139.2L484.4 140.8L483.3 142.3L482.2 140.8Z" fill="#2ca02c" fill-opacity="0.5" stroke="#2ca02c" stroke-opacity="0.9" stroke-width="0.6"/><path d="M485.8 138.4L486.8 139.9L485.8 141.5L484.7 139.9Z" fill="#2ca02c" fill-opacity="0.5" stroke="#2ca02c" stroke-opacity="0.9" stroke-width="0.6"/><path d="M488.3 137.5L489.3 139.1L488.3 140.7L487.2 139.1Z" fill="#2ca02c" fill-opacity="0.5" stroke="#2ca02c" stroke-opacity="0.9" stroke-width="0.6"/><path d="M490.8 136.7L491.8 138.3L490.8 139.8L489.7 138.3Z" fill="#2ca02c" fill-opacity="0.5" stroke="#2ca02c" stroke-opacity="0.9" stroke-width="0.6"/><path d="M493.2 135L494.3 136.5L493.2 138.1L492.2 136.5Z" fill="#2ca02c" fill-opacity="0.5" stroke="#2ca02c" stroke-opacity="0.9" stroke-width="0.6"/><path d="M495.7 126.4L496.8 128L495.7 129.5L494.7 128Z" fill="#2ca02c" fill-opacity="0.5" stroke="#2ca02c" stroke-opacity="0.9" stroke-width="0.6"/><path d="M498.2 126.1L499.3 127.7L498.2 129.3L497.1 127.7Z" fill="#2ca02c" fill-opacity="0.5" stroke="#2ca02c" stroke-opacity="0.9" stroke-width="0.6"/><path d="M500.7 125.8L501.7 127.4L500.7 128.9L499.6 127.4Z" fill="#2ca02c" fill-opacity="0.5" stroke="#2ca02c" stroke-opacity="0.9" stroke-width="0.6"/><path d="M503.2 125.3L504.2 126.9L503.2 128.5L502.1 126.9Z" fill="#2ca02c" fill-opacity="0.5" stroke="#2ca02c" stroke-opacity="0.9" stroke-width="0.6"/><path d="M505.6 124.9L506.7 126.4L505.6 128L504.6 126.4Z" fill="#2ca02c" fill-opacity="0.5" stroke="#2ca02c" stroke-opacity="0.9" stroke-width="0.6"/><path d="M508.1 124.4L509.2 126L508.1 127.5L507.1 126Z" fill="#2ca02c" fill-opacity="0.5" stroke="#2ca02c" stroke-opacity="0.9" stroke-width="0.6"/><path d="M510.6 123.9L511.7 125.5L510.6 127.1L509.6 125.5Z" fill="#2ca02c" fill-opacity="0.5" stroke="#2ca02c" stroke-opacity="0.9" stroke-width="0.6"/><path d="M513.1 123.5L514.2 125L513.1 126.6L512 125Z" fill="#2ca02c" fill-opacity="0.5" stroke="#2ca02c" stroke-opacity="0.9" stroke-width="0.6"/><path d="M515.6 123L516.6 124.6L515.6 126.1L514.5 124.6Z" fill="#2ca02c" fill-opacity="0.5" stroke="#2ca02c" stroke-opacity="0.9" stroke-width="0.6"/><path d="M518.1 122.4L519.1 124L518.1 125.6L517 124Z" fill="#2ca02c" fill-opacity="0.5" stroke="#2ca02c" stroke-opacity="0.9" stroke-width="0.6"/><path d="M520.5 121.4L521.6 123L520.5 124.5L519.5 123Z" fill="#2ca02c" fill-opacity="0.5" stroke="#2ca02c" stroke-opacity="0.9" stroke-width="0.6"/><path d="M523 120.4L524.1 121.9L523 123.5L522 121.9Z" fill="#2ca02c" fill-opacity="0.5" stroke="#2ca02c" stroke-opacity="0.9" stroke-width="0.6"/><path d="M525.5 119.3L526.6 120.9L525.5 122.5L524.5 120.9Z" fill="#2ca02c" fill-opacity="0.5" stroke="#2ca02c" stroke-opacity="0.9" stroke-width="0.6"/><path d="M528 118.3L529.1 119.9L528 121.4L526.9 119.9Z" fill="#2ca02c" fill-opacity="0.5" stroke="#2ca02c" stroke-opacity="0.9" stroke-width="0.6"/><path d="M530.5 117.3L531.5 118.8L530.5 120.4L529.4 118.8Z" fill="#2ca02c" fill-opacity="0.5" stroke="#2ca02c" stroke-opacity="0.9" stroke-width="0.6"/><path d="M533 116L534 117.6L533 119.2L531.9 117.6Z" fill="#2ca02c" fill-opacity="0.5" stroke="#2ca02c" stroke-opacity="0.9" stroke-width="0.6"/><path d="M535.4 114.8L536.5 116.3L535.4 117.9L534.4 116.3Z" fill="#2ca02c" fill-opacity="0.5" stroke="#2ca02c" stroke-opacity="0.9" stroke-width="0.6"/><path d="M537.9 113.5L539 115.1L537.9 116.6L536.9 115.1Z" fill="#2ca02c" fill-opacity="0.5" stroke="#2ca02c" stroke-opacity="0.9" stroke-width="0.6"/><path d="M540.4 112.3L541.5 113.8L540.4 115.4L539.3 113.8Z" fill="#2ca02c" fill-opacity="0.5" stroke="#2ca02c" stroke-opacity="0.9" stroke-width="0.6"/><path d="M542.9 111L544 112.6L542.9 114.1L541.8 112.6Z" fill="#2ca02c" fill-opacity="0.5" stroke="#2ca02c" stroke-opacity="0.9" stroke-width="0.6"/><path d="M545.4 109.1L546.4 110.6L545.4 112.2L544.3 110.6Z" fill="#2ca02c" fill-opacity="0.5" stroke="#2ca02c" stroke-opacity="0.9" stroke-width="0.6"/><path d="M547.9 106.6L548.9 108.1L547.9 109.7L546.8 108.1Z" fill="#2ca02c" fill-opacity="0.5" stroke="#2ca02c" stroke-opacity="0.9" stroke-width="0.6"/><path d="M550.3 104.1L551.4 105.7L550.3 107.2L549.3 105.7Z" fill="#2ca02c" fill-opacity="0.5" stroke="#2ca02c" stroke-opacity="0.9" stroke-width="0.6"/><path d="M552.8 101.7L553.9 103.2L552.8 104.8L551.8 103.2Z" fill="#2ca02c" fill-opacity="0.5" stroke="#2ca02c" stroke-opacity="0.9" stroke-width="0.6"/><path d="M555.3 100L556.4 101.6L555.3 103.1L554.2 101.6Z" fill="#2ca02c" fill-opacity="0.5" stroke="#2ca02c" stroke-opacity="0.9" stroke-width="0.6"/><path d="M557.8 98.4L558.9 99.9L557.8 101.5L556.7 99.9Z" fill="#2ca02c" fill-opacity="0.5" stroke="#2ca02c" stroke-opacity="0.9" stroke-width="0.6"/><path d="M560.3 96.7L561.3 98.3L560.3 99.8L559.2 98.3Z" fill="#2ca02c" fill-opacity="0.5" stroke="#2ca02c" stroke-opacity="0.9" stroke-width="0.6"/><path d="M562.8 95.1L563.8 96.6L562.8 98.2L561.7 96.6Z" fill="#2ca02c" fill-opacity="0.5" stroke="#2ca02c" stroke-opacity="0.9" stroke-width="0.6"/><path d="M565.2 93.4L566.3 95L565.2 96.6L564.2 95Z" fill="#2ca02c" fill-opacity="0.5" stroke="#2ca02c" stroke-opacity="0.9" stroke-width="0.6"/><path d="M567.7 92.4L568.8 94L567.7 95.6L566.7 94Z" fill="#2ca02c" fill-opacity="0.5" stroke="#2ca02c" stroke-opacity="0.9" stroke-width="0.6"/><path d="M570.2 91.7L571.3 93.3L570.2 94.9L569.1 93.3Z" fill="#2ca02c" fill-opacity="0.5" stroke="#2ca02c" stroke-opacity="0.9" stroke-width="0.6"/><path d="M572.7 91L573.8 92.6L572.7 94.1L571.6 92.6Z" fill="#2ca02c" fill-opacity="0.5" stroke="#2ca02c" stroke-opacity="0.9" stroke-width="0.6"/><path d="M575.2 90.3L576.2 91.9L575.2 93.4L574.1 91.9Z" fill="#2ca02c" fill-opacity="0.5" stroke="#2ca02c" stroke-opacity="0.9" stroke-width="0.6"/><path d="M577.7 89.6L578.7 91.1L577.7 92.7L576.6 91.1Z" fill="#2ca02c" fill-opacity="0.5" stroke="#2ca02c" stroke-opacity="0.9" stroke-width="0.6"/><path d="M580.1 88.9L581.2 90.4L580.1 92L579.1 90.4Z" fill="#2ca02c" fill-opacity="0.5" stroke="#2ca02c" stroke-opacity="0.9" stroke-width="0.6"/><path d="M582.6 87.7L583.7 89.2L582.6 90.8L581.6 89.2Z" fill="#2ca02c" fill-opacity="0.5" stroke="#2ca02c" stroke-opacity="0.9" stroke-width="0.6"/><path d="M585.1 86L586.2 87.6L585.1 89.2L584 87.6Z" fill="#2ca02c" fill-opacity="0.5" stroke="#2ca02c" stroke-opacity="0.9" stroke-width="0.6"/><path d="M587.6 84.4L588.7 86L587.6 87.5L586.5 86Z" fill="#2ca02c" fill-opacity="0.5" stroke="#2ca02c" stroke-opacity="0.9" stroke-width="0.6"/><path d="M590.1 83.7L591.1 85.3L590.1 86.8L589 85.3Z" fill="#2ca02c" fill-opacity="0.5" stroke="#2ca02c" stroke-opacity="0.9" stroke-width="0.6"/><path d="M592.6 83.2L593.6 84.8L592.6 86.4L591.5 84.8Z" fill="#2ca02c" fill-opacity="0.5" stroke="#2ca02c" stroke-opacity="0.9" stroke-width="0.6"/><path d="M595 82.7L596.1 84.3L595 85.9L594 84.3Z" fill="#2ca02c" fill-opacity="0.5" stroke="#2ca02c" stroke-opacity="0.9" stroke-width="0.6"/><path d="M597.5 82.2L598.6 83.8L597.5 85.4L596.5 83.8Z" fill="#2ca02c" fill-opacity="0.5" stroke="#2ca02c" stroke-opacity="0.9" stroke-width="0.6"/><path d="M600 81.7L601.1 83.3L600 84.8L598.9 83.3Z" fill="#2ca02c" fill-opacity="0.5" stroke="#2ca02c" stroke-opacity="0.9" stroke-width="0.6"/><path d="M602.5 81.2L603.5 82.7L602.5 84.3L601.4 82.7Z" fill="#2ca02c" fill-opacity="0.5" stroke="#2ca02c" stroke-opacity="0.9" stroke-width="0.6"/><path d="M605 80.6L606 82.2L605 83.8L603.9 82.2Z" fill="#2ca02c" fill-opacity="0.5" stroke="#2ca02c" stroke-opacity="0.9" stroke-width="0.6"/><path d="M607.5 80.1L608.5 81.7L607.5 83.2L606.4 81.7Z" fill="#2ca02c" fill-opacity="0.5" stroke="#2ca02c" stroke-opacity="0.9" stroke-width="0.6"/><path d="M609.9 79.6L611 81.1L609.9 82.7L608.9 81.1Z" fill="#2ca02c" fill-opacity="0.5" stroke="#2ca02c" stroke-opacity="0.9" stroke-width="0.6"/><path d="M612.4 79L613.5 80.6L612.4 82.2L611.4 80.6Z" fill="#2ca02c" fill-opacity="0.5" stroke="#2ca02c" stroke-opacity="0.9" stroke-width="0.6"/><path d="M614.9 78.6L616 80.1L614.9 81.7L613.8 80.1Z" fill="#2ca02c" fill-opacity="0.5" stroke="#2ca02c" stroke-opacity="0.9" stroke-width="0.6"/><path d="M617.4 78.4L618.4 79.9L617.4 81.5L616.3 79.9Z" fill="#2ca02c" fill-opacity="0.5" stroke="#2ca02c" stroke-opacity="0.9" stroke-width="0.6"/><path d="M619.9 78.2L620.9 79.7L619.9 81.3L618.8 79.7Z" fill="#2ca02c" fill-opacity="0.5" stroke="#2ca02c" stroke-opacity="0.9" stroke-width="0.6"/><path d="M622.4 78L623.4 79.5L622.4 81.1L621.3 79.5Z" fill="#2ca02c" fill-opacity="0.5" stroke="#2ca02c" stroke-opacity="0.9" stroke-width="0.6"/><path d="M624.8 77.8L625.9 79.3L624.8 80.9L623.8 79.3Z" fill="#2ca02c" fill-opacity="0.5" stroke="#2ca02c" stroke-opacity="0.9" stroke-width="0.6"/><path d="M627.3 77.6L628.4 79.1L627.3 80.7L626.3 79.1Z" fill="#2ca02c" fill-opacity="0.5" stroke="#2ca02c" stroke-opacity="0.9" stroke-width="0.6"/>
</g>
<rect x="372.3" y="2.4" width="266.9" height="265.1" fill="none" stroke="#262626" stroke-width="1.1"/>
<line x1="381.5" y1="267.5" x2="381.5" y2="269.5" stroke="#262626" stroke-width="0.9"/>
<text x="381.5" y="274.6" font-size="5.2" text-anchor="middle" fill="#333">0.0</text>
<line x1="431.2" y1="267.5" x2="431.2" y2="269.5" stroke="#262626" stroke-width="0.9"/>
<text x="431.2" y="274.6" font-size="5.2" text-anchor="middle" fill="#333">0.2</text>
<line x1="480.8" y1="267.5" x2="480.8" y2="269.5" stroke="#262626" stroke-width="0.9"/>
<text x="480.8" y="274.6" font-size="5.2" text-anchor="middle" fill="#333">0.4</text>
<line x1="530.5" y1="267.5" x2="530.5" y2="269.5" stroke="#262626" stroke-width="0.9"/>
<text x="530.5" y="274.6" font-size="5.2" text-anchor="middle" fill="#333">0.6</text>
<line x1="580.1" y1="267.5" x2="580.1" y2="269.5" stroke="#262626" stroke-width="0.9"/>
<text x="580.1" y="274.6" font-size="5.2" text-anchor="middle" fill="#333">0.8</text>
<line x1="629.8" y1="267.5" x2="629.8" y2="269.5" stroke="#262626" stroke-width="0.9"/>
<text x="629.8" y="274.6" font-size="5.2" text-anchor="middle" fill="#333">1.0</text>
<line x1="370.3" y1="267.5" x2="372.3" y2="267.5" stroke="#262626" stroke-width="0.9"/>
<text x="368.8" y="270.3" font-size="5.2" text-anchor="end" fill="#333">0.0</text>
<line x1="370.3" y1="214.5" x2="372.3" y2="214.5" stroke="#262626" stroke-width="0.9"/>
<text x="368.8" y="217.3" font-size="5.2" text-anchor="end" fill="#333">0.2</text>
<line x1="370.3" y1="161.5" x2="372.3" y2="161.5" stroke="#262626" stroke-width="0.9"/>
<text x="368.8" y="164.3" font-size="5.2" text-anchor="end" fill="#333">0.4</text>
<line x1="370.3" y1="108.4" x2="372.3" y2="108.4" stroke="#262626" stroke-width="0.9"/>
<text x="368.8" y="111.3" font-size="5.2" text-anchor="end" fill="#333">0.6</text>
<line x1="370.3" y1="55.4" x2="372.3" y2="55.4" stroke="#262626" stroke-width="0.9"/>
<text x="368.8" y="58.2" font-size="5.2" text-anchor="end" fill="#333">0.8</text>
<line x1="370.3" y1="2.4" x2="372.3" y2="2.4" stroke="#262626" stroke-width="0.9"/>
<text x="368.8" y="5.2" font-size="5.2" text-anchor="end" fill="#333">1.0</text>
<clipPath id="cBL"><rect x="21.3" y="349.4" width="267.7" height="266.0"/></clipPath>
<line x1="31" y1="349.4" x2="31" y2="615.4" class="g"/>
<line x1="80.8" y1="349.4" x2="80.8" y2="615.4" class="g"/>
<line x1="130.6" y1="349.4" x2="130.6" y2="615.4" class="g"/>
<line x1="180.4" y1="349.4" x2="180.4" y2="615.4" class="g"/>
<line x1="230.2" y1="349.4" x2="230.2" y2="615.4" class="g"/>
<line x1="280" y1="349.4" x2="280" y2="615.4" class="g"/>
<line x1="21.3" y1="615.4" x2="289" y2="615.4" class="g"/>
<line x1="21.3" y1="562.2" x2="289" y2="562.2" class="g"/>
<line x1="21.3" y1="509" x2="289" y2="509" class="g"/>
<line x1="21.3" y1="455.8" x2="289" y2="455.8" class="g"/>
<line x1="21.3" y1="402.6" x2="289" y2="402.6" class="g"/>
<line x1="21.3" y1="349.4" x2="289" y2="349.4" class="g"/>
<g clip-path="url(#cBL)">
<polygon points="33.8,512.2 34.3,511 34.8,509.9 35.3,508.7 35.8,507.5 36.3,506.4 36.8,505.2 37.3,504 37.6,503.3 37.8,503 38.3,502.2 38.8,501.4 39.3,500.6 39.8,499.8 40.3,499 40.8,498.2 41.3,497.3 41.8,496.5 42.3,495.7 42.8,494.9 43.3,494.1 43.8,493.3 44.3,492.6 44.8,491.9 45.3,491.3 45.8,490.8 46.3,490.2 46.8,489.6 47.3,489.1 47.8,488.5 48.3,487.9 48.8,487.4 49.3,486.8 49.8,486.2 50.1,485.9 50.3,485.8 50.8,485.5 51.3,485.2 51.8,484.9 52.3,484.6 52.8,484.4 53.3,484.1 53.8,483.8 54.3,483.5 54.8,483.2 55.3,482.9 55.8,482.7 56.3,482.4 56.8,482.1 57.3,481.8 57.8,481.5 58.3,481.2 58.8,481 59.3,480.7 59.8,480.4 60.2,480.2 60.3,480.1 60.8,479.8 61.3,479.5 61.8,479.2 62.3,479 62.8,478.7 63.3,478.4 63.8,478.1 64.3,477.9 64.8,477.6 65.3,477.3 65.8,477 66.3,476.8 66.8,476.5 67.3,476.2 67.8,475.9 68.3,475.7 68.8,475.4 69.3,475.1 69.8,474.9 70.2,474.6 70.3,474.6 70.8,474.4 71.3,474.2 71.8,474 72.3,473.8 72.8,473.6 73.3,473.4 73.8,473.2 74.3,473 74.8,472.8 75.3,472.5 75.8,472.3 76.3,472.1 76.8,471.9 77.3,471.7 77.8,471.5 78.3,471.3 78.8,471.1 79.3,470.9 79.8,470.7 80.3,470.5 80.8,470.3 81.3,470.2 81.8,470 82.3,469.9 82.8,469.7 83.3,469.5 83.8,469.4 84.3,469.2 84.8,469.1 85.3,468.9 85.8,468.7 86.3,468.6 86.8,468.4 87.3,468.3 87.8,468.1 88.3,467.9 88.8,467.8 89.3,467.6 89.8,467.5 90.3,467.3 90.8,467.2 91.3,467 91.8,466.9 92.3,466.8 92.8,466.7 93.3,466.5 93.8,466.4 94.3,466.3 94.8,466.1 95.3,466 95.8,465.9 96.3,465.7 96.8,465.6 97.3,465.5 97.8,465.4 98.3,465.2 98.8,465.1 99.3,465 99.8,464.8 100.3,464.7 100.8,464.6 101.3,464.4 101.8,464.3 102.3,464.2 102.8,464 103.3,463.9 103.8,463.8 104.3,463.7 104.8,463.5 105.3,463.4 105.8,463.2 106.3,463 106.8,462.8 107.3,462.6 107.8,462.4 108,462.4 108.3,462.2 108.8,462 109.3,461.8 109.8,461.6 110.3,461.4 110.8,461.1 111.3,460.9 111.8,460.7 112.3,460.5 112.8,460.2 113.3,460 113.8,459.8 114.3,459.6 114.8,459.4 115.3,459.1 115.8,458.9 116.3,458.7 116.8,458.5 117.3,458.3 117.8,458 118.3,457.8 118.8,457.6 119.3,457.4 119.8,457.1 120.3,456.9 120.8,456.7 121.3,456.5 121.8,456.3 122.3,456 122.8,455.8 123.3,455.6 123.8,455.4 124.3,455.1 124.8,454.9 125.3,454.7 125.8,454.5 126.3,454.3 126.8,454 127.3,453.8 127.8,453.6 128.3,453.4 128.8,453.1 129.3,452.9 129.8,452.7 130.3,452.5 130.8,452.3 131.3,452.1 131.8,451.9 132.3,451.7 132.8,451.5 133.3,451.3 133.8,451.1 134,451 134.3,450.9 134.8,450.7 135.3,450.5 135.8,450.4 136.3,450.2 136.8,450 137.3,449.8 137.8,449.6 138.3,449.5 138.8,449.3 139.3,449.1 139.8,448.9 140.3,448.8 140.8,448.6 141,448.5 141.3,448.3 141.8,448.1 142.3,447.8 142.8,447.5 143.3,447.3 143.8,447 144.3,446.7 144.8,446.5 145.3,446.2 145.8,445.9 146.3,445.7 146.8,445.4 147.3,445.1 147.8,444.9 148.3,444.6 148.8,444.3 149.3,444.1 149.8,443.8 150.3,443.5 150.8,443.3 151.3,443 151.8,442.7 152.3,442.5 152.8,442.2 153.3,441.9 153.8,441.7 154.3,441.4 154.8,441.1 155.3,440.9 155.8,440.6 156,440.5 156.3,440.4 156.8,440.2 157.3,440 157.8,439.7 158.3,439.5 158.8,439.3 159.3,439.1 159.8,438.9 160.3,438.7 160.8,438.5 161.3,438.3 161.8,438.1 162.3,437.9 162.8,437.7 163.3,437.4 163.8,437.2 164.3,437 164.8,436.8 165.3,436.6 165.8,436.4 166.3,436.2 166.8,436 167.3,435.8 167.8,435.6 168.3,435.4 168.8,435.1 169.3,434.9 169.8,434.7 170.3,434.5 170.8,434.3 171.3,434.1 171.8,433.9 172.3,433.7 172.8,433.5 173.3,433.3 173.8,433.1 174.3,432.8 174.8,432.6 175.3,432.4 175.8,432.2 176.3,432 176.8,431.8 177.3,431.6 177.8,431.4 178,431.3 178.3,431.1 178.8,430.8 179.3,430.5 179.8,430.3 180.3,430 180.8,429.7 181.3,429.4 181.8,429.1 182.3,428.8 182.8,428.5 183.3,428.2 183.8,427.9 184.3,427.6 184.8,427.3 185.3,427.1 185.8,426.8 186.3,426.5 186.8,426.2 187.3,425.9 187.8,425.6 188.3,425.3 188.8,425 189.3,424.7 189.8,424.4 190.3,424.2 190.8,423.9 191.3,423.6 191.8,423.3 192.3,423 192.8,422.7 193.3,422.4 193.8,422.1 194,422 194.3,421.9 194.8,421.6 195.3,421.4 195.8,421.1 196.3,420.9 196.8,420.6 197.3,420.4 197.8,420.1 198.3,419.9 198.8,419.6 199.3,419.4 199.8,419.1 200.3,418.9 200.8,418.6 201.3,418.4 201.8,418.1 202.3,417.9 202.8,417.6 203.3,417.4 203.8,417.1 204.3,416.9 204.8,416.6 205.3,416.4 205.8,416.1 206.3,415.9 206.8,415.6 207.3,415.4 207.8,415.1 208.3,414.9 208.8,414.6 209.3,414.4 209.8,414.1 210.3,413.9 210.8,413.6 211.3,413.4 211.8,413.1 212.3,412.9 212.8,412.6 213.3,412.4 213.8,412.1 214.3,411.9 214.8,411.6 215.3,411.4 215.8,411.1 216,411 216.3,410.9 216.8,410.6 217.3,410.4 217.8,410.2 218.3,410 218.8,409.7 219.3,409.5 219.8,409.3 220.3,409.1 220.8,408.8 221.3,408.6 221.8,408.4 222.3,408.2 222.8,407.9 223.3,407.7 223.8,407.5 224.3,407.3 224.8,407 225.3,406.8 225.8,406.6 226.3,406.4 226.8,406.1 227.3,405.9 227.8,405.7 228.3,405.5 228.8,405.2 229.3,405 229.8,404.8 230.3,404.6 230.8,404.3 231.3,404.1 231.8,403.9 232.3,403.7 232.8,403.4 233.3,403.2 233.8,403 234.3,402.8 234.8,402.5 235.3,402.3 235.8,402.1 236.3,401.9 236.8,401.6 237.3,401.4 237.8,401.2 238,401.1 238.3,401 238.8,400.9 239.3,400.7 239.8,400.6 240.3,400.4 240.8,400.3 241.3,400.1 241.8,400 242.3,399.8 242.8,399.7 243.3,399.5 243.8,399.4 244.3,399.2 244.8,399.1 245.3,398.9 245.8,398.8 246.3,398.6 246.8,398.5 247.3,398.3 247.8,398.2 248.3,398 248.8,397.9 249.3,397.7 249.8,397.6 250.3,397.4 250.8,397.3 251.3,397.1 251.8,397 252.3,396.8 252.8,396.7 253.3,396.5 253.8,396.4 254.3,396.2 254.8,396.1 255.3,395.9 255.8,395.8 256.3,395.6 256.8,395.5 257.3,395.3 257.8,395.2 258.3,395 258.8,394.9 259.3,394.7 259.8,394.6 260,394.5 260.3,394.4 260.8,394.1 261.3,393.9 261.8,393.7 262.3,393.5 262.8,393.2 263.3,393 263.8,392.8 264.3,392.6 264.8,392.3 265.3,392.1 265.8,391.9 266.3,391.7 266.8,391.4 267.3,391.2 267.8,391 268.3,390.8 268.8,390.5 269.3,390.3 269.8,390.1 270.3,389.7 270.8,389.4 271.3,389 271.8,388.7 272.3,388.3 272.8,388 273.3,387.6 273.8,387.2 274.3,386.9 274.8,386.5 275.3,386.2 275.8,385.8 276.3,385.5 276.8,385.1 277.3,384.7 277.5,384.6 277.5,406.6 277.3,406.8 276.8,407.1 276.3,407.5 275.8,407.9 275.3,408.3 274.8,408.7 274.3,409.1 273.8,409.5 273.3,409.9 272.8,410.3 272.3,410.7 271.8,411.1 271.3,411.5 270.8,411.9 270.3,412.2 269.8,412.6 269.3,412.9 268.8,413.2 268.3,413.4 267.8,413.7 267.3,413.9 266.8,414.2 266.3,414.5 265.8,414.7 265.3,415 264.8,415.2 264.3,415.5 263.8,415.8 263.3,416 262.8,416.3 262.3,416.5 261.8,416.8 261.3,417.1 260.8,417.3 260.3,417.6 260,417.7 259.8,417.8 259.3,418 258.8,418.2 258.3,418.4 257.8,418.5 257.3,418.7 256.8,418.9 256.3,419.1 255.8,419.3 255.3,419.5 254.8,419.7 254.3,419.8 253.8,420 253.3,420.2 252.8,420.4 252.3,420.6 251.8,420.8 251.3,420.9 250.8,421.1 250.3,421.3 249.8,421.5 249.3,421.7 248.8,421.9 248.3,422 247.8,422.2 247.3,422.3 246.8,422.5 246.3,422.6 245.8,422.8 245.3,422.9 244.8,423.1 244.3,423.2 243.8,423.4 243.3,423.5 242.8,423.7 242.3,423.8 241.8,424 241.3,424.1 240.8,424.3 240.3,424.4 239.8,424.6 239.3,424.7 238.8,424.9 238.3,425 238,425.1 237.8,425.2 237.3,425.4 236.8,425.6 236.3,425.9 235.8,426.1 235.3,426.3 234.8,426.5 234.3,426.8 233.8,427 233.3,427.2 232.8,427.4 232.3,427.7 231.8,427.9 231.3,428.1 230.8,428.3 230.3,428.6 229.8,428.8 229.3,429 228.8,429.2 228.3,429.5 227.8,429.7 227.3,429.9 226.8,430.1 226.3,430.4 225.8,430.6 225.3,430.8 224.8,431 224.3,431.3 223.8,431.5 223.3,431.7 222.8,431.9 222.3,432.2 221.8,432.4 221.3,432.6 220.8,432.8 220.3,433.1 219.8,433.3 219.3,433.5 218.8,433.7 218.3,434 217.8,434.2 217.3,434.4 216.8,434.6 216.3,434.9 216,435 215.8,435.1 215.3,435.4 214.8,435.6 214.3,435.9 213.8,436.1 213.3,436.4 212.8,436.6 212.3,436.9 211.8,437.1 211.3,437.4 210.8,437.6 210.3,437.9 209.8,438.1 209.3,438.4 208.8,438.6 208.3,438.9 207.8,439.1 207.3,439.4 206.8,439.6 206.3,439.9 205.8,440.1 205.3,440.4 204.8,440.6 204.3,440.9 203.8,441.1 203.3,441.4 202.8,441.6 202.3,441.9 201.8,442.1 201.3,442.4 200.8,442.6 200.3,442.9 199.8,443.1 199.3,443.4 198.8,443.6 198.3,443.9 197.8,444.1 197.3,444.4 196.8,444.6 196.3,444.9 195.8,445.1 195.3,445.4 194.8,445.6 194.3,445.9 194,446 193.8,446.1 193.3,446.4 192.8,446.7 192.3,447 191.8,447.3 191.3,447.6 190.8,447.9 190.3,448.2 189.8,448.4 189.3,448.7 188.8,449 188.3,449.3 187.8,449.6 187.3,449.9 186.8,450.2 186.3,450.5 185.8,450.8 185.3,451.1 184.8,451.3 184.3,451.6 183.8,451.9 183.3,452.2 182.8,452.5 182.3,452.8 181.8,453.1 181.3,453.4 180.8,453.7 180.3,454 179.8,454.3 179.3,454.5 178.8,454.8 178.3,455.1 178,455.3 177.8,455.4 177.3,455.6 176.8,455.8 176.3,456 175.8,456.2 175.3,456.4 174.8,456.6 174.3,456.8 173.8,457.1 173.3,457.3 172.8,457.5 172.3,457.7 171.8,457.9 171.3,458.1 170.8,458.3 170.3,458.5 169.8,458.7 169.3,458.9 168.8,459.1 168.3,459.4 167.8,459.6 167.3,459.8 166.8,460 166.3,460.2 165.8,460.4 165.3,460.6 164.8,460.8 164.3,461 163.8,461.2 163.3,461.4 162.8,461.7 162.3,461.9 161.8,462.1 161.3,462.3 160.8,462.5 160.3,462.7 159.8,462.9 159.3,463.1 158.8,463.3 158.3,463.5 157.8,463.7 157.3,464 156.8,464.2 156.3,464.4 156,464.5 155.8,464.6 155.3,464.9 154.8,465.1 154.3,465.4 153.8,465.7 153.3,465.9 152.8,466.2 152.3,466.5 151.8,466.7 151.3,467 150.8,467.3 150.3,467.5 149.8,467.8 149.3,468.1 148.8,468.3 148.3,468.6 147.8,468.9 147.3,469.1 146.8,469.4 146.3,469.7 145.8,469.9 145.3,470.2 144.8,470.5 144.3,470.7 143.8,471 143.3,471.3 142.8,471.5 142.3,471.8 141.8,472.1 141.3,472.3 141,472.5 140.8,472.6 140.3,472.8 139.8,472.9 139.3,473.1 138.8,473.3 138.3,473.5 137.8,473.6 137.3,473.8 136.8,474 136.3,474.2 135.8,474.4 135.3,474.5 134.8,474.7 134.3,474.9 134,475 133.8,475.1 133.3,475.3 132.8,475.5 132.3,475.7 131.8,475.9 131.3,476.1 130.8,476.3 130.3,476.5 129.8,476.7 129.3,476.9 128.8,477.1 128.3,477.3 127.8,477.5 127.3,477.8 126.8,478 126.3,478.2 125.8,478.4 125.3,478.6 124.8,478.8 124.3,479 123.8,479.2 123.3,479.5 122.8,479.7 122.3,479.9 121.8,480.1 121.3,480.3 120.8,480.5 120.3,480.7 119.8,480.9 119.3,481.1 118.8,481.4 118.3,481.6 117.8,481.8 117.3,482 116.8,482.2 116.3,482.4 115.8,482.6 115.3,482.8 114.8,483.1 114.3,483.3 113.8,483.5 113.3,483.7 112.8,483.9 112.3,484.1 111.8,484.3 111.3,484.5 110.8,484.8 110.3,485 109.8,485.2 109.3,485.4 108.8,485.6 108.3,485.8 108,485.9 107.8,486 107.3,486.2 106.8,486.3 106.3,486.5 105.8,486.7 105.3,486.9 104.8,487 104.3,487.2 103.8,487.4 103.3,487.5 102.8,487.7 102.3,487.8 101.8,488 101.3,488.2 100.8,488.3 100.3,488.5 99.8,488.7 99.3,488.8 98.8,489 98.3,489.2 97.8,489.3 97.3,489.5 96.8,489.6 96.3,489.8 95.8,490 95.3,490.1 94.8,490.3 94.3,490.5 93.8,490.6 93.3,490.8 92.8,490.9 92.3,491.1 91.8,491.3 91.3,491.4 90.8,491.6 90.3,491.8 89.8,492 89.3,492.1 88.8,492.3 88.3,492.5 87.8,492.7 87.3,492.9 86.8,493.1 86.3,493.3 85.8,493.5 85.3,493.7 84.8,493.9 84.3,494.1 83.8,494.3 83.3,494.4 82.8,494.6 82.3,494.8 81.8,495 81.3,495.2 80.8,495.4 80.3,495.6 79.8,495.8 79.3,496.1 78.8,496.3 78.3,496.5 77.8,496.8 77.3,497 76.8,497.2 76.3,497.4 75.8,497.7 75.3,497.9 74.8,498.1 74.3,498.4 73.8,498.6 73.3,498.8 72.8,499.1 72.3,499.3 71.8,499.5 71.3,499.7 70.8,500 70.3,500.2 70.2,500.3 69.8,500.5 69.3,500.8 68.8,501.1 68.3,501.4 67.8,501.7 67.3,502 66.8,502.3 66.3,502.6 65.8,502.9 65.3,503.2 64.8,503.5 64.3,503.8 63.8,504.1 63.3,504.4 62.8,504.7 62.3,504.9 61.8,505.2 61.3,505.4 60.8,505.7 60.3,506 60.2,506 59.8,506.2 59.3,506.5 58.8,506.7 58.3,507 57.8,507.2 57.3,507.5 56.8,507.8 56.3,508 55.8,508.3 55.3,508.5 54.8,508.8 54.3,509 53.8,509.3 53.3,509.5 52.8,509.8 52.3,510.1 51.8,510.3 51.3,510.6 50.8,510.8 50.3,511.1 50.1,511.2 49.8,511.5 49.3,512 48.8,512.6 48.3,513.1 47.8,513.7 47.3,514.2 46.8,514.7 46.3,515.3 45.8,515.8 45.3,516.3 44.8,516.8 44.3,517.1 43.8,517.4 43.3,517.8 42.8,518.2 42.3,518.6 41.8,519 41.3,519.4 40.8,519.8 40.3,520.2 39.8,520.6 39.3,521 38.8,521.4 38.3,521.8 37.8,522.2 37.6,522.4 37.3,522.8 36.8,523.6 36.3,524.4 35.8,525.1 35.3,525.9 34.8,526.7 34.3,527.4 33.8,528.2" fill="#ff7f0e" fill-opacity="0.3" stroke="none"/>
<polygon points="33.8,493.9 34.3,489 34.8,484 35.3,480.1 35.8,476.9 36.3,473.8 36.8,470.1 37.3,466.4 37.8,462.8 38.3,459.1 38.8,455.5 39.3,454 39.8,452.6 40.3,451 40.8,449.3 41.3,447.6 41.8,446.5 42.3,445.5 42.8,444.5 43.3,443.4 43.8,442.4 44.3,441.4 44.8,440.4 45.3,439.3 45.8,438.3 46.3,437.3 46.8,436.3 47.3,435.3 47.8,434.3 48.3,433.3 48.8,432.2 48.9,432 49.3,431.3 49.8,430.3 50.3,429.4 50.8,428.6 51.3,427.8 51.8,427.1 52.3,426.3 52.8,425.5 53.3,424.7 53.8,423.9 53.9,423.7 54.3,423.3 54.8,422.7 55.3,422.2 55.8,421.7 56.3,421.1 56.8,420.6 57.3,420.1 57.8,419.5 58.3,419 58.8,418.5 59.3,418 59.8,417.4 60.2,417 60.3,416.9 60.8,416.6 61.3,416.2 61.8,415.9 62.3,415.6 62.8,415.3 63.3,415.1 63.8,414.9 64.3,414.7 64.8,414.5 65.3,414.3 65.8,414.2 66.3,414 66.5,413.9 66.8,413.7 67.3,413.5 67.8,413.2 68.3,412.9 68.8,412.6 69.3,412.3 69.8,412 70.3,411.7 70.8,411.5 71.3,411.2 71.8,410.9 72.3,410.6 72.7,410.4 72.8,410.2 73.3,409.3 73.8,408.4 74.3,407.6 74.8,406.7 75.3,405.8 75.8,404.8 76.3,403.9 76.5,403.5 76.8,403.4 77.3,403.2 77.8,403.1 78.3,402.9 78.8,402.8 79.3,402.6 79.8,402.5 80.3,402.3 80.8,402.1 81.3,402 81.8,401.8 82.3,401.7 82.8,401.5 83.3,401.3 83.8,401.1 84.3,401 84.8,400.8 85.3,400.6 85.8,400.4 86.3,400.3 86.8,400.1 87.3,399.9 87.8,399.8 88.3,399.6 88.8,399.4 89.3,399.3 89.8,399.1 90.3,399 90.8,398.8 91.3,398.7 91.8,398.5 92.3,398.3 92.8,398.2 93.3,398.1 93.8,398 94.3,398 94.8,397.9 95.3,397.8 95.8,397.7 96.3,397.7 96.8,397.6 97.3,397.5 97.8,397.4 98.3,397.4 98.8,397.3 99.3,397.2 99.8,397.2 100.3,397.1 100.8,397 101.3,396.9 101.8,396.9 102.3,396.8 102.8,396.7 103.3,396.6 103.8,396.6 104.3,396.5 104.8,396.4 104.9,396.4 105.3,396.3 105.8,396.2 106.3,396.1 106.8,396 107.3,395.9 107.8,395.8 108.3,395.7 108.8,395.6 109.3,395.5 109.8,395.3 110.3,395.2 110.8,395.1 111.3,395 111.8,394.9 112.3,394.8 112.8,394.7 113.3,394.6 113.8,394.5 114.3,394.4 114.8,394.3 115.3,394.2 115.8,394.1 116.3,393.9 116.8,393.8 117.3,393.7 117.8,393.6 118.3,393.5 118.8,393.4 119.3,393.3 119.8,393.2 120.3,393.1 120.8,393 121.3,392.9 121.8,392.8 122.3,392.7 122.8,392.5 123.3,392.4 123.8,392.3 124.3,392.2 124.8,392.1 125.3,392 125.8,391.9 126.3,391.8 126.8,391.7 127.3,391.6 127.8,391.5 128.3,391.4 128.8,391.3 129.3,391.2 129.8,391 130,391 130.3,390.9 130.8,390.8 131.3,390.6 131.8,390.5 132.3,390.3 132.8,390.1 133.3,390 133.8,389.8 134.3,389.7 134.8,389.5 135.3,389.4 135.8,389.2 136.3,389.1 136.8,388.9 137.3,388.8 137.8,388.6 138.3,388.5 138.8,388.3 139.3,388.2 139.8,388 140.3,387.9 140.8,387.7 141.3,387.6 141.8,387.4 142.3,387.2 142.8,387.1 143,387 143.3,387 143.8,386.8 144.3,386.7 144.8,386.6 145.3,386.4 145.8,386.3 146.3,386.2 146.8,386 147.3,385.9 147.8,385.8 148.3,385.6 148.8,385.5 149.3,385.4 149.8,385.2 150,385.2 150.3,385.1 150.8,385 151.3,384.9 151.8,384.9 152.3,384.8 152.8,384.7 153.3,384.6 153.8,384.5 154.3,384.4 154.8,384.3 155.3,384.3 155.8,384.2 156.3,384.1 156.8,384 157.3,383.9 157.8,383.8 158.3,383.7 158.8,383.7 159.3,383.6 159.8,383.5 160.3,383.4 160.8,383.3 161.3,383.2 161.8,383.1 162.3,382.9 162.8,382.8 163.3,382.7 163.8,382.6 164.3,382.5 164.8,382.4 165.3,382.3 165.8,382.2 166.3,382 166.8,381.9 167.3,381.8 167.8,381.7 168.3,381.6 168.8,381.5 169.3,381.4 169.8,381.3 170.3,381.1 170.8,381 171.3,380.9 171.8,380.8 172,380.8 172.3,380.7 172.8,380.6 173.3,380.6 173.8,380.5 174.3,380.4 174.8,380.4 175.3,380.3 175.8,380.2 176.3,380.1 176.8,380.1 177.3,380 177.8,379.9 178.3,379.8 178.8,379.8 179.3,379.7 179.8,379.6 180.3,379.5 180.8,379.5 181.3,379.4 181.8,379.3 182.3,379.3 182.8,379.2 183.3,379.1 183.8,379 184.3,379 184.8,378.9 185.3,378.8 185.8,378.7 186.3,378.7 186.8,378.6 187.3,378.5 187.8,378.4 188.3,378.4 188.8,378.3 189.3,378.2 189.8,378.2 190.3,378.1 190.8,378 191.3,377.9 191.8,377.9 192.3,377.8 192.8,377.7 193.3,377.6 193.8,377.6 194,377.5 194.3,377.5 194.8,377.5 195.3,377.4 195.8,377.4 196.3,377.4 196.8,377.3 197.3,377.3 197.8,377.3 198.3,377.2 198.8,377.2 199.3,377.2 199.8,377.1 200.3,377.1 200.8,377.1 201.3,377 201.8,377 202.3,377 202.8,376.9 203.3,376.9 203.8,376.8 204.3,376.8 204.8,376.8 205.3,376.7 205.8,376.7 206.3,376.7 206.8,376.6 207.3,376.6 207.8,376.6 208.3,376.5 208.8,376.5 209.3,376.5 209.8,376.4 210.3,376.4 210.8,376.3 211.3,376.3 211.5,376.3 211.8,375.8 212.3,374.9 212.8,374.1 213.3,373.3 213.7,372.6 213.8,372.6 214.3,372.5 214.8,372.5 215.3,372.4 215.8,372.4 216.3,372.3 216.8,372.2 217.3,372.2 217.8,372.1 218.3,372.1 218.8,372 219.3,372 219.8,371.9 220.3,371.9 220.8,371.8 221.3,371.7 221.8,371.7 222.3,371.6 222.8,371.6 223.3,371.5 223.8,371.5 224.3,371.4 224.8,371.4 225.3,371.3 225.8,371.3 226.3,371.2 226.8,371.1 227.3,371.1 227.8,371 228.3,371 228.8,370.9 229.3,370.9 229.8,370.8 230.3,370.8 230.8,370.7 231.3,370.6 231.8,370.6 232.3,370.5 232.8,370.4 233.3,370.3 233.8,370.3 234.3,370.2 234.8,370.1 235.3,370 235.8,369.9 236.3,369.9 236.8,369.8 237.3,369.7 237.8,369.6 238.3,369.5 238.8,369.5 239.3,369.4 239.8,369.3 240.3,369.2 240.8,369.1 241.3,369.1 241.8,369 242.3,368.9 242.8,368.8 243.3,368.7 243.8,368.7 244.3,368.6 244.8,368.5 245.3,368.4 245.8,368.3 246.3,368.3 246.8,368.2 247.3,368.1 247.8,368 248.3,367.9 248.8,367.9 249,367.8 249.3,367.8 249.8,367.7 250.3,367.7 250.8,367.6 251.3,367.5 251.8,367.5 252.3,367.4 252.8,367.3 253.3,367.3 253.8,367.2 254.3,367.1 254.8,367.1 255.3,367 255.8,366.9 256.3,366.9 256.8,366.8 257.3,366.7 257.8,366.7 258.3,366.6 258.8,366.5 259.3,366.5 259.8,366.4 260.3,366.3 260.8,366.3 261.3,366.2 261.8,366.1 262.3,366.1 262.8,366 263.3,365.9 263.8,365.9 264.3,365.8 264.8,365.7 265.3,365.6 265.8,365.5 266.3,365.5 266.8,365.4 267.3,365.3 267.8,365.2 268.3,365.1 268.8,365 269.3,365 269.8,364.9 270.3,364.8 270.8,364.7 271.3,364.6 271.8,364.5 272.3,364.5 272.8,364.4 273.3,364.3 273.8,364.2 274.3,364.1 274.8,364.1 275.3,364 275.8,363.9 276.3,363.8 276.8,363.7 277.3,363.6 277.5,363.6 277.5,373.6 277.3,373.7 276.8,373.8 276.3,374 275.8,374.1 275.3,374.3 274.8,374.4 274.3,374.6 273.8,374.7 273.3,374.9 272.8,375 272.3,375.2 271.8,375.3 271.3,375.5 270.8,375.6 270.3,375.8 269.8,375.9 269.3,376.1 268.8,376.2 268.3,376.4 267.8,376.5 267.3,376.7 266.8,376.8 266.3,377 265.8,377.1 265.3,377.3 264.8,377.4 264.3,377.6 263.8,377.7 263.3,377.9 262.8,378 262.3,378.1 261.8,378.3 261.3,378.4 260.8,378.5 260.3,378.7 259.8,378.8 259.3,378.9 258.8,379.1 258.3,379.2 257.8,379.3 257.3,379.5 256.8,379.6 256.3,379.7 255.8,379.9 255.3,380 254.8,380.2 254.3,380.3 253.8,380.4 253.3,380.6 252.8,380.7 252.3,380.8 251.8,381 251.3,381.1 250.8,381.2 250.3,381.4 249.8,381.5 249.3,381.6 249,381.7 248.8,381.8 248.3,381.9 247.8,382.1 247.3,382.2 246.8,382.4 246.3,382.5 245.8,382.7 245.3,382.8 244.8,383 244.3,383.1 243.8,383.3 243.3,383.4 242.8,383.5 242.3,383.7 241.8,383.8 241.3,384 240.8,384.1 240.3,384.3 239.8,384.4 239.3,384.6 238.8,384.7 238.3,384.9 237.8,385 237.3,385.2 236.8,385.3 236.3,385.5 235.8,385.6 235.3,385.8 234.8,385.9 234.3,386.1 233.8,386.2 233.3,386.4 232.8,386.5 232.3,386.7 231.8,386.8 231.3,386.9 230.8,387.1 230.3,387.2 229.8,387.3 229.3,387.4 228.8,387.6 228.3,387.7 227.8,387.8 227.3,387.9 226.8,388.1 226.3,388.2 225.8,388.3 225.3,388.4 224.8,388.6 224.3,388.7 223.8,388.8 223.3,388.9 222.8,389 222.3,389.2 221.8,389.3 221.3,389.4 220.8,389.5 220.3,389.7 219.8,389.8 219.3,389.9 218.8,390 218.3,390.2 217.8,390.3 217.3,390.4 216.8,390.5 216.3,390.6 215.8,390.8 215.3,390.9 214.8,391 214.3,391.1 213.8,391.3 213.7,391.3 213.3,392 212.8,392.9 212.3,393.8 211.8,394.8 211.5,395.3 211.3,395.3 210.8,395.3 210.3,395.4 209.8,395.4 209.3,395.5 208.8,395.5 208.3,395.5 207.8,395.6 207.3,395.6 206.8,395.6 206.3,395.7 205.8,395.7 205.3,395.7 204.8,395.8 204.3,395.8 203.8,395.8 203.3,395.9 202.8,395.9 202.3,396 201.8,396 201.3,396 200.8,396.1 200.3,396.1 199.8,396.1 199.3,396.2 198.8,396.2 198.3,396.2 197.8,396.3 197.3,396.3 196.8,396.3 196.3,396.4 195.8,396.4 195.3,396.4 194.8,396.5 194.3,396.5 194,396.5 193.8,396.6 193.3,396.6 192.8,396.7 192.3,396.8 191.8,396.9 191.3,396.9 190.8,397 190.3,397.1 189.8,397.2 189.3,397.2 188.8,397.3 188.3,397.4 187.8,397.4 187.3,397.5 186.8,397.6 186.3,397.7 185.8,397.7 185.3,397.8 184.8,397.9 184.3,398 183.8,398 183.3,398.1 182.8,398.2 182.3,398.3 181.8,398.3 181.3,398.4 180.8,398.5 180.3,398.5 179.8,398.6 179.3,398.7 178.8,398.8 178.3,398.8 177.8,398.9 177.3,399 176.8,399.1 176.3,399.1 175.8,399.2 175.3,399.3 174.8,399.4 174.3,399.4 173.8,399.5 173.3,399.6 172.8,399.6 172.3,399.7 172,399.8 171.8,399.8 171.3,399.9 170.8,400 170.3,400.1 169.8,400.3 169.3,400.4 168.8,400.5 168.3,400.6 167.8,400.7 167.3,400.8 166.8,400.9 166.3,401 165.8,401.2 165.3,401.3 164.8,401.4 164.3,401.5 163.8,401.6 163.3,401.7 162.8,401.8 162.3,401.9 161.8,402.1 161.3,402.2 160.8,402.3 160.3,402.4 159.8,402.5 159.3,402.6 158.8,402.7 158.3,402.8 157.8,402.9 157.3,403 156.8,403.1 156.3,403.2 155.8,403.3 155.3,403.4 154.8,403.5 154.3,403.6 153.8,403.7 153.3,403.8 152.8,403.9 152.3,404 151.8,404.1 151.3,404.2 150.8,404.3 150.3,404.4 150,404.5 149.8,404.6 149.3,404.7 148.8,404.9 148.3,405 147.8,405.2 147.3,405.3 146.8,405.5 146.3,405.6 145.8,405.8 145.3,405.9 144.8,406.1 144.3,406.2 143.8,406.4 143.3,406.5 143,406.6 142.8,406.7 142.3,406.8 141.8,407 141.3,407.2 140.8,407.3 140.3,407.5 139.8,407.7 139.3,407.9 138.8,408 138.3,408.2 137.8,408.4 137.3,408.5 136.8,408.7 136.3,408.9 135.8,409 135.3,409.2 134.8,409.4 134.3,409.5 133.8,409.7 133.3,409.9 132.8,410.1 132.3,410.2 131.8,410.4 131.3,410.6 130.8,410.7 130.3,410.9 130,411 129.8,411.1 129.3,411.3 128.8,411.4 128.3,411.6 127.8,411.8 127.3,412 126.8,412.2 126.3,412.4 125.8,412.6 125.3,412.8 124.8,412.9 124.3,413.1 123.8,413.3 123.3,413.5 122.8,413.7 122.3,413.9 121.8,414.1 121.3,414.3 120.8,414.4 120.3,414.6 119.8,414.8 119.3,415 118.8,415.2 118.3,415.4 117.8,415.6 117.3,415.8 116.8,415.9 116.3,416.1 115.8,416.3 115.3,416.5 114.8,416.7 114.3,416.9 113.8,417.1 113.3,417.3 112.8,417.4 112.3,417.6 111.8,417.8 111.3,418 110.8,418.2 110.3,418.4 109.8,418.6 109.3,418.8 108.8,418.9 108.3,419.1 107.8,419.3 107.3,419.5 106.8,419.7 106.3,419.9 105.8,420.1 105.3,420.3 104.9,420.4 104.8,420.4 104.3,420.5 103.8,420.6 103.3,420.7 102.8,420.8 102.3,420.9 101.8,421 101.3,421.1 100.8,421.2 100.3,421.3 99.8,421.5 99.3,421.6 98.8,421.7 98.3,421.8 97.8,421.9 97.3,422 96.8,422.1 96.3,422.2 95.8,422.3 95.3,422.4 94.8,422.5 94.3,422.6 93.8,422.7 93.3,422.8 92.8,422.9 92.3,423.1 91.8,423.3 91.3,423.4 90.8,423.6 90.3,423.8 89.8,424 89.3,424.2 88.8,424.4 88.3,424.6 87.8,424.8 87.3,425 86.8,425.3 86.3,425.6 85.8,425.9 85.3,426.2 84.8,426.5 84.3,426.8 83.8,427.1 83.3,427.4 82.8,427.7 82.3,428 81.8,428.3 81.3,428.5 80.8,428.8 80.3,429.1 79.8,429.4 79.3,429.6 78.8,429.9 78.3,430.2 77.8,430.5 77.3,430.8 76.8,431 76.5,431.2 76.3,431.6 75.8,432.7 75.3,433.8 74.8,434.6 74.3,435.3 73.8,436.1 73.3,436.8 72.8,437.6 72.7,437.8 72.3,437.9 71.8,438.1 71.3,438.2 70.8,438.4 70.3,438.6 69.8,438.7 69.3,438.9 68.8,439 68.3,439.2 67.8,439.4 67.3,439.5 66.8,439.7 66.5,439.8 66.3,439.8 65.8,439.9 65.3,440 64.8,440 64.3,440.1 63.8,440.2 63.3,440.2 62.8,440.3 62.3,440.7 61.8,441.1 61.3,441.6 60.8,442 60.3,442.5 60.2,442.6 59.8,443.1 59.3,443.8 58.8,444.4 58.3,445.1 57.8,445.7 57.3,446.4 56.8,447 56.3,447.7 55.8,448.3 55.3,449 54.8,449.6 54.3,450.3 53.9,450.8 53.8,451 53.3,451.9 52.8,452.8 52.3,453.7 51.8,454.6 51.3,455.5 50.8,456.5 50.3,457.4 49.8,458.4 49.3,459.4 48.9,460.3 48.8,460.5 48.3,461.6 47.8,462.7 47.3,463.8 46.8,464.9 46.3,466.1 45.8,467.2 45.3,468.3 44.8,469.4 44.3,470.5 43.8,471.6 43.3,472.8 42.8,473.9 42.3,475 41.8,476.2 41.3,477.3 40.8,479.1 40.3,481 39.8,482.5 39.3,483.5 38.8,484.5 38.3,487.8 37.8,491 37.3,494.3 36.8,497.5 36.3,500.8 35.8,503.6 35.3,506.4 34.8,508.7 34.3,510.3 33.8,511.9" fill="#d62728" fill-opacity="0.3" stroke="none"/>
<polygon points="33.2,533.8 33.7,533.4 34.2,533 34.7,532.6 35.2,532.2 35.7,531.8 36.2,531.4 36.7,531 37.2,530.6 37.7,530.2 38.2,529.8 38.7,529.4 39.2,529 39.7,528.6 40.2,528.2 40.7,527.7 41.2,527.3 41.7,526.9 42,526.7 42.2,526.6 42.7,526.2 43.2,525.9 43.7,525.5 44.2,525.2 44.7,524.8 45.2,524.5 45.7,524.1 46.2,523.8 46.7,523.4 47.2,523.1 47.7,522.7 48.2,522.4 48.7,522 49.2,521.7 49.7,521.3 50.2,521 50.7,520.6 51.2,520.3 51.7,519.9 52.2,519.6 52.7,519.2 53,519 53.2,518.9 53.7,518.6 54.2,518.4 54.7,518.1 55.2,517.9 55.7,517.6 56.2,517.4 56.7,517.1 57.2,516.9 57.7,516.6 58.2,516.4 58.7,516.1 59.2,515.9 59.7,515.6 60.2,515.4 60.7,515.1 61.2,514.9 61.7,514.6 62.2,514.4 62.7,514.1 63.2,513.9 63.7,513.6 64,513.5 64.2,513.4 64.7,513.3 65.2,513.2 65.7,513 66.2,512.9 66.7,512.7 67.2,512.6 67.7,512.4 68.2,512.3 68.7,512.1 69.2,512 69.7,511.8 70.2,511.7 70.7,511.6 71.2,511.4 71.7,511.3 72.2,511.1 72.7,511 73.2,510.8 73.7,510.7 74.2,510.5 74.7,510.4 75,510.3 75.2,510.1 75.7,509.7 76.2,509.3 76.7,508.9 77.2,508.5 77.7,508.1 78.2,507.7 78.7,507.3 79.2,506.9 79.7,506.5 80.2,506.1 80.7,505.7 81.2,505.3 81.7,504.9 82.2,504.5 82.7,504.1 83.2,503.7 83.7,503.3 84.2,502.9 84.7,502.5 85.2,502.1 85.7,501.7 86,501.5 86.2,501.3 86.7,500.7 87.2,500.2 87.7,499.7 88.2,499.1 88.7,498.6 89.2,498.1 89.7,497.5 90,497.2 90.2,497.1 90.7,496.9 91.2,496.8 91.7,496.6 92.2,496.4 92.7,496.2 93.2,496 93.7,495.8 94.2,495.6 94.7,495.4 95.2,495.3 95.7,495.1 96.2,494.9 96.7,494.7 97.2,494.5 97.7,494.3 98.2,494.1 98.7,494 99.2,493.8 99.7,493.6 100.2,493.4 100.7,493.2 101.2,493 101.7,492.8 102.2,492.6 102.7,492.5 103.2,492.3 103.7,492.1 104.2,491.9 104.7,491.7 105,491.6 105.2,490.7 105.7,488.4 106.2,486.1 106.7,483.8 107.2,481.4 107.6,479.6 107.7,479.5 108.2,479.1 108.7,478.7 109,478.4 109.2,478.3 109.7,478 110.2,477.7 110.7,477.4 111.2,477.2 111.7,476.9 112.2,476.6 112.7,476.3 113.2,476 113.7,475.8 114.2,475.5 114.7,475.2 115.2,474.9 115.7,474.6 116.2,474.3 116.7,474.1 117.2,473.8 117.7,473.5 118.2,473.2 118.6,473 118.7,473 119.2,472.8 119.7,472.7 120.2,472.6 120.7,472.5 121.2,472.3 121.7,472.2 122.2,472.1 122.7,472 123.2,471.8 123.3,471.8 123.7,471.6 124.2,471.4 124.7,471.3 125.2,471.1 125.7,470.9 126.2,470.7 126.7,470.5 127.2,470.3 127.7,470.1 128.2,469.9 128.7,469.7 129.2,469.5 129.7,469.3 130.2,469.1 130.7,468.9 131.2,468.7 131.7,468.5 132.2,468.3 132.7,468.1 133.2,467.9 133.7,467.7 134,467.6 134.2,467.5 134.7,467.4 135.2,467.3 135.7,467.1 136.2,467 136.7,466.9 137.2,466.7 137.7,466.6 138.2,466.4 138.7,466.3 139.2,465.4 139.7,464.6 140.2,463.7 140.5,463.2 140.7,462.7 141.2,461.5 141.7,460.3 142.2,459 142.7,457.8 143.2,456.6 143.7,455.4 144.2,454.2 144.7,452.9 145,452.2 145.2,452 145.7,451.7 146.2,451.3 146.7,450.9 147.2,450.5 147.7,450.1 148.2,449.8 148.7,449.4 149.2,449 149.7,448.6 150,448.4 150.2,448.2 150.7,447.8 151.2,447.4 151.7,447 152.2,446.6 152.7,446.1 153.2,445.7 153.7,445.3 154.2,444.9 154.7,444.5 155.2,444.1 155.7,443.6 156,443.4 156.2,443.3 156.7,443.1 157.2,442.9 157.7,442.8 158.2,442.6 158.7,442.4 159.2,442.2 159.7,442 160.2,441.8 160.7,441.6 161.2,441.4 161.7,441.3 162.2,441.1 162.7,440.9 163.2,440.7 163.7,440.4 164.2,440.1 164.7,439.9 165.2,439.6 165.7,439.3 166.2,439 166.7,438.7 167.2,438.5 167.7,438.2 168.2,437.9 168.7,437.6 169.2,437.3 169.7,437.1 170.2,436.8 170.7,436.5 171.2,436.2 171.7,435.9 172.2,435.7 172.7,435.4 173.2,435.1 173.7,434.8 174.2,434.5 174.7,434.3 175.2,434 175.7,433.7 176.2,433.4 176.7,433.1 177.2,432.8 177.7,432.6 178,432.4 178.2,432.2 178.7,431.7 179.2,431.2 179.7,430.8 180.2,430.3 180.7,429.8 180.8,429.7 181.2,428.6 181.7,427.2 182.2,425.9 182.7,424.5 183.2,423 183.7,421.2 184.2,419.5 184.7,417.7 185.2,416 185.7,415.4 186.2,414.9 186.7,414.3 187.2,413.8 187.7,413.2 188.2,412.7 188.7,412.1 189.2,411.6 189.7,411 190.2,410.5 190.7,409.9 191.2,409.4 191.7,408.8 192.2,408.3 192.7,407.7 193.2,407.2 193.7,406.6 194,406.3 194.2,406.1 194.7,405.4 195.2,404.8 195.7,404.2 196.2,403.6 196.7,402.9 197.2,402.3 197.7,401.7 198.2,401.1 198.7,400.4 199.2,399.8 199.7,399.2 200.2,398.6 200.5,398.2 200.7,398.1 201.2,397.7 201.7,397.4 202.2,397.1 202.7,396.7 203.2,396.4 203.7,396 204.2,395.7 204.7,395.4 205.2,395 205.7,394.7 206.2,394.3 206.7,394 207.2,393.5 207.7,392.9 208.2,392.2 208.7,391.6 209.2,390.9 209.7,390.3 210.2,389.6 210.7,388.9 211.2,388.3 211.5,387.9 211.7,387.7 212.2,387.3 212.7,386.8 213.2,386.4 213.7,385.9 214.2,385.5 214.7,385 215.2,384.6 215.7,384.1 216.2,383.7 216.7,383.2 217.2,382.8 217.7,382.3 218.2,381.9 218.7,381.4 219.2,381 219.7,380.5 220.2,380.1 220.3,380 220.7,379.9 221.2,379.8 221.7,379.6 222.2,379.5 222.7,379.3 223.2,379.2 223.7,379.1 224.2,378.9 224.7,378.8 225.2,378.7 225.7,378.5 226.2,378.4 226.7,378.3 227.2,378.1 227.7,378 228.2,377.9 228.7,377.7 229.2,377.6 229.7,377.4 230.2,377.3 230.7,377.2 231.2,377 231.7,376.9 232.2,376.8 232.7,376.6 233.2,376.5 233.7,376.4 234.2,376.2 234.7,376.1 235.2,376 235.7,375.8 236.2,375.7 236.7,375.5 237.2,375.4 237.7,375.3 238,375.2 238.2,375.1 238.7,374.9 239.2,374.7 239.7,374.5 240.2,374.3 240.7,374.1 241.2,373.9 241.7,373.8 242.2,373.6 242.7,373.4 243.2,373.2 243.7,373 244.2,372.8 244.7,372.6 245.2,372.4 245.7,372.2 246.2,372 246.7,371.8 247.2,371.6 247.7,371.4 248.2,371.2 248.7,371 249.2,370.8 249.7,370.6 250,370.5 250.2,370.1 250.7,369.1 251.2,368 251.7,367 252.2,366 252.7,365.9 253.2,365.9 253.7,365.9 254.2,365.9 254.7,365.9 255.2,365.8 255.7,365.8 256.2,365.8 256.7,365.8 257.2,365.8 257.7,365.7 258.2,365.7 258.7,365.7 259.2,365.7 259.7,365.7 260.2,365.7 260.7,365.6 261.2,365.6 261.7,365.6 262.2,365.6 262.7,365.6 263.2,365.5 263.7,365.5 264.2,365.5 264.7,365.5 265.2,365.5 265.7,365.4 266.2,365.4 266.7,365.4 267.2,365.4 267.7,365.4 268.2,365.4 268.7,365.3 269.2,365.3 269.7,365.3 270.2,365.3 270.7,365.3 271.2,365.2 271.7,365.2 272.2,365.2 272.7,365.2 273.2,365.2 273.7,365.1 274.2,365.1 274.7,365.1 275.2,365.1 275.7,365.1 276.2,365 276.7,365 277.2,365 277.5,365 277.5,389 277.2,389 276.7,389 276.2,389 275.7,389 275.2,389 274.7,389 274.2,389 273.7,389 273.2,389 272.7,389 272.2,389 271.7,389 271.2,389 270.7,389 270.2,389 269.7,389 269.2,389 268.7,389 268.2,389 267.7,389 267.2,389 266.7,389 266.2,389 265.7,389 265.2,389 264.7,389 264.2,389 263.7,389 263.2,389 262.7,389 262.2,389 261.7,389 261.2,389 260.7,389 260.2,389 259.7,389 259.2,389 258.7,389 258.2,389 257.7,389 257.2,389 256.7,389 256.2,389 255.7,389 255.2,389 254.7,389 254.2,389 253.7,389 253.2,389 252.7,389 252.2,389 251.7,390 251.2,391 250.7,392.1 250.2,393.1 250,393.5 249.7,393.7 249.2,393.9 248.7,394.1 248.2,394.3 247.7,394.5 247.2,394.7 246.7,394.9 246.2,395.1 245.7,395.3 245.2,395.5 244.7,395.7 244.2,395.9 243.7,396.1 243.2,396.3 242.7,396.6 242.2,396.8 241.7,397 241.2,397.2 240.7,397.4 240.2,397.6 239.7,397.8 239.2,398 238.7,398.2 238.2,398.4 238,398.5 237.7,398.6 237.2,398.7 236.7,398.9 236.2,399 235.7,399.2 235.2,399.3 234.7,399.5 234.2,399.6 233.7,399.8 233.2,399.9 232.7,400 232.2,400.2 231.7,400.3 231.2,400.5 230.7,400.6 230.2,400.8 229.7,400.9 229.2,401.1 228.7,401.2 228.2,401.4 227.7,401.5 227.2,401.7 226.7,401.8 226.2,402 225.7,402.1 225.2,402.3 224.7,402.4 224.2,402.5 223.7,402.7 223.2,402.8 222.7,403 222.2,403.1 221.7,403.3 221.2,403.4 220.7,403.6 220.3,403.7 220.2,403.8 219.7,404.2 219.2,404.7 218.7,405.2 218.2,405.6 217.7,406.1 217.2,406.5 216.7,407 216.2,407.5 215.7,407.9 215.2,408.4 214.7,408.9 214.2,409.3 213.7,409.8 213.2,410.2 212.7,410.7 212.2,411.2 211.7,411.6 211.5,411.8 211.2,412.2 210.7,412.9 210.2,413.5 209.7,414.2 209.2,414.9 208.7,415.5 208.2,416.2 207.7,416.9 207.2,417.5 206.7,418.2 206.2,418.8 205.7,419.5 205.2,420.1 204.7,420.8 204.2,421.4 203.7,422.1 203.2,422.7 202.7,423.4 202.2,424 201.7,424.7 201.2,425.3 200.7,425.9 200.5,426.2 200.2,426.8 199.7,427.7 199.2,428.6 198.7,429.6 198.2,430.5 197.7,431.4 197.2,432.3 196.7,433.3 196.2,434.2 195.7,435.1 195.2,436.1 194.7,437 194.2,437.9 194,438.3 193.7,438.4 193.2,438.6 192.7,438.8 192.2,439 191.7,439.2 191.2,439.4 190.7,439.5 190.2,439.7 189.7,439.9 189.2,440.1 188.7,440.3 188.2,440.5 187.7,440.7 187.2,440.9 186.7,441 186.2,441.2 185.7,441.4 185.2,441.6 184.7,443 184.2,444.4 183.7,445.7 183.2,447.1 182.7,448.5 182.2,449.9 181.7,451.2 181.2,452.6 180.8,453.7 180.7,453.8 180.2,454.3 179.7,454.8 179.2,455.2 178.7,455.7 178.2,456.2 178,456.4 177.7,456.6 177.2,456.8 176.7,457.1 176.2,457.4 175.7,457.7 175.2,458 174.7,458.3 174.2,458.5 173.7,458.8 173.2,459.1 172.7,459.4 172.2,459.7 171.7,459.9 171.2,460.2 170.7,460.5 170.2,460.8 169.7,461.1 169.2,461.3 168.7,461.6 168.2,461.9 167.7,462.2 167.2,462.5 166.7,462.7 166.2,463 165.7,463.3 165.2,463.6 164.7,463.9 164.2,464.1 163.7,464.4 163.2,464.7 162.7,464.9 162.2,465.1 161.7,465.3 161.2,465.4 160.7,465.6 160.2,465.8 159.7,466 159.2,466.2 158.7,466.4 158.2,466.6 157.7,466.8 157.2,466.9 156.7,467.1 156.2,467.3 156,467.4 155.7,467.6 155.2,468.1 154.7,468.5 154.2,468.9 153.7,469.3 153.2,469.7 152.7,470.1 152.2,470.6 151.7,471 151.2,471.4 150.7,471.8 150.2,472.2 150,472.4 149.7,472.7 149.2,473.2 148.7,473.7 148.2,474.2 147.7,474.7 147.2,475.2 146.7,475.7 146.2,476.2 145.7,476.7 145.2,477.2 145,477.4 144.7,478.3 144.2,479.6 143.7,481 143.2,482.3 142.7,483.6 142.2,485 141.7,486.3 141.2,487.7 140.7,489 140.5,489.6 140.2,490.2 139.7,491.2 139.2,492.1 138.7,493.1 138.2,493.4 137.7,493.7 137.2,493.9 136.7,494.2 136.2,494.4 135.7,494.7 135.2,495 134.7,495.2 134.2,495.5 134,495.6 133.7,495.8 133.2,496.1 132.7,496.4 132.2,496.8 131.7,497.1 131.2,497.4 130.7,497.7 130.2,498 129.7,498.2 129.2,498.3 128.7,498.4 128.2,498.5 127.7,498.6 127.2,498.6 126.7,498.7 126.2,498.8 125.7,498.9 125.2,499 124.7,499 124.2,499.1 123.7,499.2 123.3,499.3 123.2,499.3 122.7,499.3 122.2,499.3 121.7,499.3 121.2,499.3 120.7,499.4 120.2,499.4 119.7,499.4 119.2,499.4 118.7,499.4 118.6,499.4 118.2,499.5 117.7,499.7 117.2,499.9 116.7,500 116.2,500.2 115.7,500.4 115.2,500.5 114.7,500.7 114.2,500.9 113.7,501.1 113.2,501.2 112.7,501.4 112.2,501.6 111.7,501.7 111.2,501.9 110.7,502.1 110.2,502.2 109.7,502.4 109.2,502.6 109,502.6 108.7,502.8 108.2,503.1 107.7,503.5 107.6,503.6 107.2,505.4 106.7,507.8 106.2,510.1 105.7,512.4 105.2,514.7 105,515.6 104.7,515.7 104.2,515.9 103.7,516 103.2,516.1 102.7,516.2 102.2,516.3 101.7,516.3 101.2,516.4 100.7,516.5 100.2,516.6 99.7,516.6 99.2,516.7 98.7,516.8 98.2,516.9 97.7,517 97.2,517 96.7,517.1 96.2,517.2 95.7,517.3 95.2,517.3 94.7,517.4 94.2,517.5 93.7,517.6 93.2,517.7 92.7,517.7 92.2,517.8 91.7,517.9 91.2,518 90.7,518 90.2,518.1 90,518.2 89.7,518.4 89.2,518.8 88.7,519.3 88.2,519.7 87.7,520.1 87.2,520.6 86.7,521 86.2,521.4 86,521.6 85.7,521.8 85.2,522.1 84.7,522.3 84.2,522.6 83.7,522.9 83.2,523.2 82.7,523.5 82.2,523.8 81.7,524.1 81.2,524.4 80.7,524.8 80.2,525.3 79.7,525.8 79.2,526.3 78.7,526.8 78.2,527.2 77.7,527.7 77.2,528.2 76.7,528.7 76.2,529.2 75.7,529.7 75.2,530.2 75,530.4 74.7,530.5 74.2,530.7 73.7,531 73.2,531.2 72.7,531.5 72.2,531.7 71.7,531.9 71.2,532.2 70.7,532.4 70.2,532.6 69.7,532.9 69.2,533.1 68.7,533.3 68.2,533.6 67.7,533.8 67.2,534 66.7,534.3 66.2,534.5 65.7,534.7 65.2,535 64.7,535.2 64.2,535.4 64,535.5 63.7,535.7 63.2,536.1 62.7,536.4 62.2,536.8 61.7,537.1 61.2,537.4 60.7,537.8 60.2,538.1 59.7,538.5 59.2,538.8 58.7,539.1 58.2,539.5 57.7,539.8 57.2,540.1 56.7,540.5 56.2,540.8 55.7,541.2 55.2,541.5 54.7,541.8 54.2,542.2 53.7,542.5 53.2,542.9 53,543 52.7,543.2 52.2,543.5 51.7,543.9 51.2,544.2 50.7,544.6 50.2,544.9 49.7,545.2 49.2,545.6 48.7,545.9 48.2,546.3 47.7,546.6 47.2,546.9 46.7,547.3 46.2,547.6 45.7,548 45.2,548.3 44.7,548.6 44.2,549 43.7,549.3 43.2,549.7 42.7,550 42.2,550.3 42,550.5 41.7,550.7 41.2,551.1 40.7,551.5 40.2,551.9 39.7,552.3 39.2,552.7 38.7,553.1 38.2,553.5 37.7,553.9 37.2,554.3 36.7,554.7 36.2,555 35.7,555.4 35.2,555.8 34.7,556.2 34.2,556.6 33.7,557 33.2,557.4" fill="#1f77b4" fill-opacity="0.3" stroke="none"/>
<polygon points="33.2,531.9 33.7,531.1 34.2,530.3 34.7,529.5 35.2,528.7 35.7,527.9 36.2,527.1 36.7,526.3 37.2,525.5 37.6,524.8 37.7,524.7 38.2,524.3 38.7,523.8 39.2,523.4 39.7,523 40.2,522.5 40.7,522 41.2,521.6 41.7,521.1 42.2,520.7 42.7,520.2 43.2,519.8 43.7,519.3 44.2,518.9 44.7,518.5 45.2,518 45.7,517.5 46.2,517.1 46.7,516.6 47.2,516.2 47.7,515.8 48.2,515.3 48.6,514.9 48.7,514.9 49.2,514.6 49.7,514.4 50.2,514.1 50.7,513.8 51.2,513.6 51.7,513.3 52.2,513.1 52.7,512.8 53.2,512.6 53.7,512.3 54.2,512.1 54.7,511.9 55.2,511.7 55.7,511.5 56.2,511.3 56.7,511.1 57.2,510.9 57.7,510.7 58.2,510.4 58.7,510.2 59.2,510 59.7,509.8 60.2,509.6 60.7,509.4 61.2,509.2 61.7,509 62.2,508.8 62.7,508.5 63.2,508.3 63.7,508.1 64,508 64.2,507.9 64.7,507.6 65.2,507.4 65.7,507.1 66.2,506.9 66.7,506.6 67.2,506.4 67.7,506.1 68.2,505.9 68.7,505.6 69.2,505.4 69.7,505.1 70.2,504.9 70.7,504.6 71.2,504.4 71.7,504.1 72.2,503.9 72.7,503.6 73.2,503.4 73.7,503.1 74.2,502.9 74.7,502.6 75.2,502.4 75.7,502.1 76.2,501.9 76.7,501.6 77.2,501.4 77.7,501.1 78.2,500.9 78.7,500.6 79.2,500.4 79.7,500.1 80.2,499.9 80.7,499.6 81.2,499.4 81.5,499.2 81.7,499 82.2,498.7 82.7,498.3 83.2,497.9 83.7,497.5 84.2,497.1 84.7,496.8 85.2,496.4 85.7,496 86.2,495.6 86.7,495.2 87.2,494.8 87.7,494.4 88.2,493.9 88.7,493.5 89.2,493.1 89.7,492.7 90,492.5 90.2,492.4 90.7,492.3 91.2,492.1 91.7,492 92.2,491.8 92.7,491.7 93.2,491.5 93.7,491.3 94.2,491.2 94.7,491 95.2,490.9 95.7,490.7 96.2,490.6 96.7,490.4 97,490.4 97.2,490.2 97.7,489.8 98.2,489.5 98.7,489.1 99.2,488.8 99.7,488.4 100.2,488.1 100.7,487.7 101.2,487.3 101.7,487 102.2,486.6 102.7,486.3 103.2,485.9 103.7,485.5 104.2,485.2 104.7,484.9 105.2,484.5 105.7,484.2 106.2,483.8 106.7,483.5 107.2,483.1 107.6,482.8 107.7,482.8 108.2,482.6 108.7,482.5 109.2,482.3 109.7,482.1 110.2,481.9 110.7,481.8 111.2,481.6 111.7,481.4 112.2,481.2 112.7,481.1 113.2,480.9 113.7,480.7 114.2,480.6 114.7,480.4 115.2,480.2 115.7,480 116.2,479.9 116.7,479.7 117.2,479.5 117.7,479.4 118.2,479.2 118.7,479 119,478.9 119.2,478.8 119.7,478.5 120.2,478.3 120.7,478 121.2,477.7 121.7,477.5 122.2,477.2 122.7,476.9 123.2,476.7 123.7,476.4 124.2,476.1 124.7,475.8 125.2,475.6 125.7,475.5 126.2,475.5 126.7,475.4 127.2,475.3 127.7,475.3 128.2,475.2 128.7,475.2 129.2,475.1 129.7,475 130,475 130.2,474.9 130.7,474.7 131.2,474.5 131.7,474.3 132.2,474.1 132.7,473.9 133.2,473.6 133.7,473.4 134.2,473.2 134.7,473 135.2,472.8 135.7,472.6 136.2,472.4 136.7,472.2 137.2,472 137.7,471.7 138.2,471.5 138.7,471.3 139.2,471.1 139.7,470.9 140.2,470.7 140.7,470.5 141.2,470.3 141.7,470.1 142.2,469.8 142.7,469.6 143.2,469.4 143.7,469.2 144.2,469 144.7,468.9 145.2,468.7 145.7,468.5 146.2,468.3 146.7,468.1 147.2,467.9 147.7,467.7 148.2,467.5 148.7,467.3 149.2,467.1 149.7,466.9 150,466.8 150.2,466.7 150.7,466.6 151.2,466.4 151.7,466.3 152.2,466.1 152.7,466 153.2,465.8 153.7,465.7 154.2,465.5 154.7,465.4 155.2,465.2 155.7,465 156,465 156.2,464.9 156.7,464.7 157.2,464.6 157.7,464.4 158.2,464.2 158.7,464.1 159.2,463.9 159.7,463.7 160.2,463.6 160.7,463.4 161.2,463.3 161.7,463.1 162.2,462.9 162.7,462.8 163.2,462.6 163.7,462.4 164.2,462.3 164.7,462.1 165.2,461.9 165.7,461.8 166.2,461.6 166.7,461.5 167.2,461.3 167.7,461.1 168.2,461 168.7,460.8 169.2,460.6 169.7,460.5 170.2,460.3 170.7,460.2 171.2,460 171.7,459.8 172,459.7 172.2,459.6 172.7,459.4 173.2,459.1 173.7,458.9 174.2,458.7 174.7,458.4 175.2,458.2 175.7,457.9 176.2,457.7 176.7,457.4 177.2,457.2 177.7,456.9 178,456.8 178.2,456.7 178.7,456.6 179.2,456.4 179.7,456.3 180.2,456.1 180.7,456 181.2,455.8 181.7,455.7 182.2,455.5 182.7,455.4 183.2,455.2 183.7,455.1 184.2,454.9 184.7,454.7 185.2,454.6 185.7,454.4 186.2,454.3 186.7,454.1 187.2,454 187.7,453.8 188.2,453.7 188.7,453.5 189.2,453.4 189.7,453.2 190.2,453.1 190.7,452.9 191.2,452.8 191.7,452.6 192.2,452.5 192.7,452.3 193.2,452.1 193.7,452 194,451.9 194.2,451.8 194.7,451.7 195.2,451.6 195.7,451.4 196.2,451.3 196.7,451.1 197.2,451 197.7,450.9 198.2,450.7 198.7,450.6 199.2,450.4 199.7,450.3 200,450.2 200.2,450.1 200.7,449.8 201.2,449.6 201.7,449.3 202.2,449.1 202.7,448.8 203.2,448.6 203.7,448.3 204.2,448 204.7,447.8 205.2,447.5 205.7,447.3 206.2,447 206.7,446.8 207.2,446.5 207.7,446.3 208.2,446 208.7,445.7 209.2,445.5 209.7,445.2 210.2,445 210.7,444.7 211.2,444.5 211.7,444.2 212.2,443.9 212.7,443.7 213.2,443.4 213.7,443.2 214.2,442.9 214.7,442.7 215.2,442.4 215.7,442.2 216,442 216.2,441.9 216.7,441.7 217.2,441.5 217.7,441.2 218.2,441 218.7,440.8 219.2,440.5 219.7,440.3 220.2,440.1 220.7,439.8 221.2,439.6 221.7,439.4 221.9,439.3 222.2,439.3 222.7,439.2 223.2,439.1 223.7,439 224.2,438.9 224.7,438.9 225.2,438.8 225.7,438.7 226.2,438.6 226.7,438.6 227.2,438.5 227.7,438.4 228.2,438.3 228.7,438.3 229.2,438.2 229.7,438.1 230.2,438 230.7,438 231.2,437.9 231.7,437.8 232.2,437.7 232.7,437.7 233.2,437.6 233.7,437.5 234.2,437.4 234.7,437.4 235.2,437.3 235.7,437.2 236.2,437.1 236.7,437.1 237.2,437 237.7,436.9 238,436.9 238.2,436.8 238.7,436.7 239.2,436.6 239.7,436.5 240.2,436.3 240.7,436.2 241.2,436.1 241.7,436 242.2,435.9 242.7,435.8 243.2,435.6 243.7,435.5 244.2,435.4 244.7,435.3 245.2,435.2 245.7,435.1 246.2,434.9 246.7,434.8 247.2,434.7 247.7,434.6 248.2,434.5 248.7,434.4 249.2,434.2 249.7,434.1 250.2,434 250.7,433.9 251.2,433.8 251.7,433.7 252.2,433.5 252.7,433.4 253.2,433.3 253.7,433.2 254.2,433.1 254.7,433 255.2,432.8 255.7,432.7 256.2,432.6 256.7,432.5 257.2,432.4 257.7,432.3 258.2,432.1 258.7,432 259.2,431.9 259.7,431.8 260,431.7 260.2,431.7 260.7,431.5 261.2,431.4 261.7,431.2 262.2,431.1 262.7,430.9 263.2,430.8 263.7,430.6 264.2,430.5 264.7,430.3 265.2,430.2 265.7,430 266.2,429.9 266.7,429.7 267.2,429.6 267.7,429.4 268.2,429.3 268.7,429.1 269.2,429 269.7,428.8 270.2,428.7 270.7,428.5 271.2,428.4 271.7,428.2 272.2,428.1 272.7,427.9 273.2,427.8 273.7,427.6 274.2,427.5 274.7,427.3 275.2,427.2 275.7,427 276.2,426.9 276.7,426.7 277.2,426.6 277.5,426.5 277.5,450.5 277.2,450.6 276.7,450.8 276.2,451 275.7,451.2 275.2,451.3 274.7,451.5 274.2,451.7 273.7,451.9 273.2,452.1 272.7,452.2 272.2,452.4 271.7,452.6 271.2,452.8 270.7,453 270.2,453.2 269.7,453.3 269.2,453.5 268.7,453.7 268.2,453.9 267.7,454.1 267.2,454.2 266.7,454.4 266.2,454.6 265.7,454.8 265.2,455 264.7,455.1 264.2,455.3 263.7,455.5 263.2,455.7 262.7,455.9 262.2,456.1 261.7,456.2 261.2,456.4 260.7,456.6 260.2,456.8 260,456.9 259.7,456.9 259.2,457.1 258.7,457.2 258.2,457.4 257.7,457.5 257.2,457.7 256.7,457.8 256.2,458 255.7,458.1 255.2,458.3 254.7,458.4 254.2,458.6 253.7,458.7 253.2,458.9 252.7,459 252.2,459.2 251.7,459.3 251.2,459.5 250.7,459.6 250.2,459.8 249.7,459.9 249.2,460.1 248.7,460.2 248.2,460.4 247.7,460.5 247.2,460.7 246.7,460.8 246.2,461 245.7,461.1 245.2,461.3 244.7,461.4 244.2,461.6 243.7,461.7 243.2,461.9 242.7,462 242.2,462.2 241.7,462.3 241.2,462.5 240.7,462.6 240.2,462.8 239.7,462.9 239.2,463.1 238.7,463.2 238.2,463.4 238,463.4 237.7,463.5 237.2,463.6 236.7,463.7 236.2,463.8 235.7,463.9 235.2,464 234.7,464.1 234.2,464.2 233.7,464.4 233.2,464.5 232.7,464.6 232.2,464.7 231.7,464.8 231.2,464.9 230.7,465 230.2,465.1 229.7,465.2 229.2,465.3 228.7,465.4 228.2,465.5 227.7,465.7 227.2,465.8 226.7,465.9 226.2,466 225.7,466.1 225.2,466.2 224.7,466.3 224.2,466.4 223.7,466.5 223.2,466.6 222.7,466.7 222.2,466.8 221.9,466.9 221.7,467 221.2,467.3 220.7,467.5 220.2,467.8 219.7,468.1 219.2,468.3 218.7,468.6 218.2,468.8 217.7,469.1 217.2,469.4 216.7,469.6 216.2,469.9 216,470 215.7,470.1 215.2,470.4 214.7,470.6 214.2,470.9 213.7,471.1 213.2,471.4 212.7,471.6 212.2,471.8 211.7,472.1 211.2,472.3 210.7,472.6 210.2,472.8 209.7,473.1 209.2,473.3 208.7,473.5 208.2,473.8 207.7,474 207.2,474.3 206.7,474.5 206.2,474.8 205.7,475 205.2,475.3 204.7,475.5 204.2,475.7 203.7,476 203.2,476.2 202.7,476.5 202.2,476.7 201.7,477 201.2,477.2 200.7,477.4 200.2,477.7 200,477.8 199.7,477.9 199.2,478 198.7,478.1 198.2,478.2 197.7,478.4 197.2,478.5 196.7,478.6 196.2,478.8 195.7,478.9 195.2,479 194.7,479.1 194.2,479.3 194,479.3 193.7,479.4 193.2,479.5 192.7,479.7 192.2,479.8 191.7,480 191.2,480.1 190.7,480.2 190.2,480.4 189.7,480.5 189.2,480.7 188.7,480.8 188.2,480.9 187.7,481.1 187.2,481.2 186.7,481.4 186.2,481.5 185.7,481.6 185.2,481.8 184.7,481.9 184.2,482.1 183.7,482.2 183.2,482.3 182.7,482.5 182.2,482.6 181.7,482.8 181.2,482.9 180.7,483 180.2,483.2 179.7,483.3 179.2,483.5 178.7,483.6 178.2,483.7 178,483.8 177.7,483.9 177.2,484.2 176.7,484.4 176.2,484.6 175.7,484.8 175.2,485 174.7,485.3 174.2,485.5 173.7,485.7 173.2,485.9 172.7,486.2 172.2,486.4 172,486.5 171.7,486.6 171.2,486.7 170.7,486.8 170.2,487 169.7,487.1 169.2,487.3 168.7,487.4 168.2,487.6 167.7,487.7 167.2,487.8 166.7,488 166.2,488.1 165.7,488.3 165.2,488.4 164.7,488.6 164.2,488.7 163.7,488.8 163.2,489 162.7,489.1 162.2,489.3 161.7,489.4 161.2,489.6 160.7,489.7 160.2,489.8 159.7,490 159.2,490.1 158.7,490.3 158.2,490.4 157.7,490.6 157.2,490.7 156.7,490.8 156.2,491 156,491 155.7,491.1 155.2,491.3 154.7,491.4 154.2,491.5 153.7,491.6 153.2,491.8 152.7,491.9 152.2,492 151.7,492.2 151.2,492.3 150.7,492.4 150.2,492.6 150,492.6 149.7,492.7 149.2,492.9 148.7,493.1 148.2,493.2 147.7,493.4 147.2,493.6 146.7,493.8 146.2,493.9 145.7,494.1 145.2,494.3 144.7,494.5 144.2,494.6 143.7,494.8 143.2,495 142.7,495.2 142.2,495.4 141.7,495.5 141.2,495.7 140.7,495.9 140.2,496.1 139.7,496.3 139.2,496.5 138.7,496.7 138.2,496.9 137.7,497.1 137.2,497.3 136.7,497.4 136.2,497.6 135.7,497.8 135.2,498 134.7,498.2 134.2,498.4 133.7,498.6 133.2,498.8 132.7,499 132.2,499.2 131.7,499.4 131.2,499.5 130.7,499.7 130.2,499.9 130,500 129.7,500 129.2,500 128.7,500 128.2,500 127.7,500 127.2,500 126.7,500 126.2,500 125.7,500 125.2,500 124.7,500.3 124.2,500.5 123.7,500.7 123.2,500.9 122.7,501.1 122.2,501.3 121.7,501.5 121.2,501.7 120.7,502 120.2,502.2 119.7,502.4 119.2,502.6 119,502.7 118.7,502.8 118.2,502.9 117.7,503 117.2,503.1 116.7,503.2 116.2,503.3 115.7,503.5 115.2,503.6 114.7,503.7 114.2,503.8 113.7,503.9 113.2,504 112.7,504.2 112.2,504.3 111.7,504.4 111.2,504.5 110.7,504.6 110.2,504.7 109.7,504.9 109.2,505 108.7,505.1 108.2,505.2 107.7,505.3 107.6,505.3 107.2,505.6 106.7,505.9 106.2,506.2 105.7,506.5 105.2,506.7 104.7,507 104.2,507.3 103.7,507.6 103.2,507.9 102.7,508.3 102.2,508.6 101.7,509 101.2,509.3 100.7,509.7 100.2,510.1 99.7,510.4 99.2,510.8 98.7,511.1 98.2,511.5 97.7,511.8 97.2,512.2 97,512.4 96.7,512.4 96.2,512.6 95.7,512.7 95.2,512.9 94.7,513 94.2,513.2 93.7,513.3 93.2,513.5 92.7,513.7 92.2,513.8 91.7,514 91.2,514.1 90.7,514.3 90.2,514.4 90,514.5 89.7,514.7 89.2,515.1 88.7,515.5 88.2,515.9 87.7,516.4 87.2,516.8 86.7,517.2 86.2,517.6 85.7,518 85.2,518.4 84.7,518.8 84.2,519.1 83.7,519.5 83.2,519.9 82.7,520.3 82.2,520.7 81.7,521 81.5,521.2 81.2,521.4 80.7,521.6 80.2,521.9 79.7,522.1 79.2,522.4 78.7,522.6 78.2,522.9 77.7,523.1 77.2,523.4 76.7,523.6 76.2,523.9 75.7,524.1 75.2,524.4 74.7,524.6 74.2,524.9 73.7,525.1 73.2,525.4 72.7,525.6 72.2,525.9 71.7,526.1 71.2,526.4 70.7,526.6 70.2,526.9 69.7,527.1 69.2,527.4 68.7,527.6 68.2,527.9 67.7,528.1 67.2,528.4 66.7,528.6 66.2,528.9 65.7,529.1 65.2,529.4 64.7,529.6 64.2,529.9 64,530 63.7,530.1 63.2,530.3 62.7,530.5 62.2,530.8 61.7,531 61.2,531.2 60.7,531.4 60.2,531.6 59.7,531.8 59.2,532 58.7,532.2 58.2,532.4 57.7,532.7 57.2,532.9 56.7,533.1 56.2,533.3 55.7,533.5 55.2,533.7 54.7,533.9 54.2,534.1 53.7,534.3 53.2,534.6 52.7,534.8 52.2,534.9 51.7,535.1 51.2,535.3 50.7,535.5 50.2,535.7 49.7,535.9 49.2,536.1 48.7,536.2 48.6,536.3 48.2,536.6 47.7,537 47.2,537.3 46.7,537.7 46.2,538.1 45.7,538.5 45.2,538.8 44.7,539.2 44.2,539.6 43.7,540 43.2,540.3 42.7,540.7 42.2,541.1 41.7,541.5 41.2,541.8 40.7,542.2 40.2,542.6 39.7,543 39.2,543.3 38.7,543.7 38.2,544.1 37.7,544.5 37.6,544.5 37.2,545.1 36.7,545.8 36.2,546.6 35.7,547.3 35.2,548 34.7,548.7 34.2,549.5 33.7,550.2 33.2,550.9" fill="#2ca02c" fill-opacity="0.3" stroke="none"/>
<polyline points="33.8,525.2 37.6,517 43.8,508.1 50.1,500.6 60.2,494.3 70.2,488 80.3,483 90.3,479.2 108,473.5 134,463 141,460.5 156,452.5 178,443.3 194,434 216,423 238,413.1 260,406.5 269.8,402.1 277.5,396.6" fill="none" stroke="#ff7f0e" stroke-width="1.45" stroke-linejoin="round" stroke-opacity="1"/>
<circle cx="36" cy="520.5" r="1.25" fill="#ff7f0e" fill-opacity="0.5" stroke="#ff7f0e" stroke-opacity="0.9" stroke-width="0.6"/><circle cx="38.5" cy="515.8" r="1.25" fill="#ff7f0e" fill-opacity="0.5" stroke="#ff7f0e" stroke-opacity="0.9" stroke-width="0.6"/><circle cx="41" cy="512.2" r="1.25" fill="#ff7f0e" fill-opacity="0.5" stroke="#ff7f0e" stroke-opacity="0.9" stroke-width="0.6"/><circle cx="43.5" cy="508.6" r="1.25" fill="#ff7f0e" fill-opacity="0.5" stroke="#ff7f0e" stroke-opacity="0.9" stroke-width="0.6"/><circle cx="45.9" cy="505.6" r="1.25" fill="#ff7f0e" fill-opacity="0.5" stroke="#ff7f0e" stroke-opacity="0.9" stroke-width="0.6"/><circle cx="48.4" cy="502.6" r="1.25" fill="#ff7f0e" fill-opacity="0.5" stroke="#ff7f0e" stroke-opacity="0.9" stroke-width="0.6"/><circle cx="50.9" cy="500.1" r="1.25" fill="#ff7f0e" fill-opacity="0.5" stroke="#ff7f0e" stroke-opacity="0.9" stroke-width="0.6"/><circle cx="53.4" cy="498.5" r="1.25" fill="#ff7f0e" fill-opacity="0.5" stroke="#ff7f0e" stroke-opacity="0.9" stroke-width="0.6"/><circle cx="55.9" cy="497" r="1.25" fill="#ff7f0e" fill-opacity="0.5" stroke="#ff7f0e" stroke-opacity="0.9" stroke-width="0.6"/><circle cx="58.4" cy="495.4" r="1.25" fill="#ff7f0e" fill-opacity="0.5" stroke="#ff7f0e" stroke-opacity="0.9" stroke-width="0.6"/><circle cx="60.9" cy="493.9" r="1.25" fill="#ff7f0e" fill-opacity="0.5" stroke="#ff7f0e" stroke-opacity="0.9" stroke-width="0.6"/><circle cx="63.4" cy="492.3" r="1.25" fill="#ff7f0e" fill-opacity="0.5" stroke="#ff7f0e" stroke-opacity="0.9" stroke-width="0.6"/><circle cx="65.9" cy="490.7" r="1.25" fill="#ff7f0e" fill-opacity="0.5" stroke="#ff7f0e" stroke-opacity="0.9" stroke-width="0.6"/><circle cx="68.3" cy="489.2" r="1.25" fill="#ff7f0e" fill-opacity="0.5" stroke="#ff7f0e" stroke-opacity="0.9" stroke-width="0.6"/><circle cx="70.8" cy="487.7" r="1.25" fill="#ff7f0e" fill-opacity="0.5" stroke="#ff7f0e" stroke-opacity="0.9" stroke-width="0.6"/><circle cx="73.3" cy="486.5" r="1.25" fill="#ff7f0e" fill-opacity="0.5" stroke="#ff7f0e" stroke-opacity="0.9" stroke-width="0.6"/><circle cx="75.8" cy="485.2" r="1.25" fill="#ff7f0e" fill-opacity="0.5" stroke="#ff7f0e" stroke-opacity="0.9" stroke-width="0.6"/><circle cx="78.3" cy="484" r="1.25" fill="#ff7f0e" fill-opacity="0.5" stroke="#ff7f0e" stroke-opacity="0.9" stroke-width="0.6"/><circle cx="80.8" cy="482.8" r="1.25" fill="#ff7f0e" fill-opacity="0.5" stroke="#ff7f0e" stroke-opacity="0.9" stroke-width="0.6"/><circle cx="83.3" cy="481.9" r="1.25" fill="#ff7f0e" fill-opacity="0.5" stroke="#ff7f0e" stroke-opacity="0.9" stroke-width="0.6"/><circle cx="85.8" cy="480.9" r="1.25" fill="#ff7f0e" fill-opacity="0.5" stroke="#ff7f0e" stroke-opacity="0.9" stroke-width="0.6"/><circle cx="88.3" cy="480" r="1.25" fill="#ff7f0e" fill-opacity="0.5" stroke="#ff7f0e" stroke-opacity="0.9" stroke-width="0.6"/><circle cx="90.8" cy="479.1" r="1.25" fill="#ff7f0e" fill-opacity="0.5" stroke="#ff7f0e" stroke-opacity="0.9" stroke-width="0.6"/><circle cx="93.2" cy="478.2" r="1.25" fill="#ff7f0e" fill-opacity="0.5" stroke="#ff7f0e" stroke-opacity="0.9" stroke-width="0.6"/><circle cx="95.7" cy="477.4" r="1.25" fill="#ff7f0e" fill-opacity="0.5" stroke="#ff7f0e" stroke-opacity="0.9" stroke-width="0.6"/><circle cx="98.2" cy="476.6" r="1.25" fill="#ff7f0e" fill-opacity="0.5" stroke="#ff7f0e" stroke-opacity="0.9" stroke-width="0.6"/><circle cx="100.7" cy="475.8" r="1.25" fill="#ff7f0e" fill-opacity="0.5" stroke="#ff7f0e" stroke-opacity="0.9" stroke-width="0.6"/><circle cx="103.2" cy="475" r="1.25" fill="#ff7f0e" fill-opacity="0.5" stroke="#ff7f0e" stroke-opacity="0.9" stroke-width="0.6"/><circle cx="105.7" cy="474.2" r="1.25" fill="#ff7f0e" fill-opacity="0.5" stroke="#ff7f0e" stroke-opacity="0.9" stroke-width="0.6"/><circle cx="108.2" cy="473.4" r="1.25" fill="#ff7f0e" fill-opacity="0.5" stroke="#ff7f0e" stroke-opacity="0.9" stroke-width="0.6"/><circle cx="110.7" cy="472.4" r="1.25" fill="#ff7f0e" fill-opacity="0.5" stroke="#ff7f0e" stroke-opacity="0.9" stroke-width="0.6"/><circle cx="113.2" cy="471.4" r="1.25" fill="#ff7f0e" fill-opacity="0.5" stroke="#ff7f0e" stroke-opacity="0.9" stroke-width="0.6"/><circle cx="115.7" cy="470.4" r="1.25" fill="#ff7f0e" fill-opacity="0.5" stroke="#ff7f0e" stroke-opacity="0.9" stroke-width="0.6"/><circle cx="118.2" cy="469.4" r="1.25" fill="#ff7f0e" fill-opacity="0.5" stroke="#ff7f0e" stroke-opacity="0.9" stroke-width="0.6"/><circle cx="120.6" cy="468.4" r="1.25" fill="#ff7f0e" fill-opacity="0.5" stroke="#ff7f0e" stroke-opacity="0.9" stroke-width="0.6"/><circle cx="123.1" cy="467.4" r="1.25" fill="#ff7f0e" fill-opacity="0.5" stroke="#ff7f0e" stroke-opacity="0.9" stroke-width="0.6"/><circle cx="125.6" cy="466.4" r="1.25" fill="#ff7f0e" fill-opacity="0.5" stroke="#ff7f0e" stroke-opacity="0.9" stroke-width="0.6"/><circle cx="128.1" cy="465.4" r="1.25" fill="#ff7f0e" fill-opacity="0.5" stroke="#ff7f0e" stroke-opacity="0.9" stroke-width="0.6"/><circle cx="130.6" cy="464.4" r="1.25" fill="#ff7f0e" fill-opacity="0.5" stroke="#ff7f0e" stroke-opacity="0.9" stroke-width="0.6"/><circle cx="133.1" cy="463.4" r="1.25" fill="#ff7f0e" fill-opacity="0.5" stroke="#ff7f0e" stroke-opacity="0.9" stroke-width="0.6"/><circle cx="135.6" cy="462.4" r="1.25" fill="#ff7f0e" fill-opacity="0.5" stroke="#ff7f0e" stroke-opacity="0.9" stroke-width="0.6"/><circle cx="138.1" cy="461.5" r="1.25" fill="#ff7f0e" fill-opacity="0.5" stroke="#ff7f0e" stroke-opacity="0.9" stroke-width="0.6"/><circle cx="140.6" cy="460.7" r="1.25" fill="#ff7f0e" fill-opacity="0.5" stroke="#ff7f0e" stroke-opacity="0.9" stroke-width="0.6"/><circle cx="143.1" cy="459.4" r="1.25" fill="#ff7f0e" fill-opacity="0.5" stroke="#ff7f0e" stroke-opacity="0.9" stroke-width="0.6"/><circle cx="145.5" cy="458.1" r="1.25" fill="#ff7f0e" fill-opacity="0.5" stroke="#ff7f0e" stroke-opacity="0.9" stroke-width="0.6"/><circle cx="148" cy="456.8" r="1.25" fill="#ff7f0e" fill-opacity="0.5" stroke="#ff7f0e" stroke-opacity="0.9" stroke-width="0.6"/><circle cx="150.5" cy="455.4" r="1.25" fill="#ff7f0e" fill-opacity="0.5" stroke="#ff7f0e" stroke-opacity="0.9" stroke-width="0.6"/><circle cx="153" cy="454.1" r="1.25" fill="#ff7f0e" fill-opacity="0.5" stroke="#ff7f0e" stroke-opacity="0.9" stroke-width="0.6"/><circle cx="155.5" cy="452.8" r="1.25" fill="#ff7f0e" fill-opacity="0.5" stroke="#ff7f0e" stroke-opacity="0.9" stroke-width="0.6"/><circle cx="158" cy="451.7" r="1.25" fill="#ff7f0e" fill-opacity="0.5" stroke="#ff7f0e" stroke-opacity="0.9" stroke-width="0.6"/><circle cx="160.5" cy="450.6" r="1.25" fill="#ff7f0e" fill-opacity="0.5" stroke="#ff7f0e" stroke-opacity="0.9" stroke-width="0.6"/><circle cx="163" cy="449.6" r="1.25" fill="#ff7f0e" fill-opacity="0.5" stroke="#ff7f0e" stroke-opacity="0.9" stroke-width="0.6"/><circle cx="165.5" cy="448.5" r="1.25" fill="#ff7f0e" fill-opacity="0.5" stroke="#ff7f0e" stroke-opacity="0.9" stroke-width="0.6"/><circle cx="168" cy="447.5" r="1.25" fill="#ff7f0e" fill-opacity="0.5" stroke="#ff7f0e" stroke-opacity="0.9" stroke-width="0.6"/><circle cx="170.4" cy="446.5" r="1.25" fill="#ff7f0e" fill-opacity="0.5" stroke="#ff7f0e" stroke-opacity="0.9" stroke-width="0.6"/><circle cx="172.9" cy="445.4" r="1.25" fill="#ff7f0e" fill-opacity="0.5" stroke="#ff7f0e" stroke-opacity="0.9" stroke-width="0.6"/><circle cx="175.4" cy="444.4" r="1.25" fill="#ff7f0e" fill-opacity="0.5" stroke="#ff7f0e" stroke-opacity="0.9" stroke-width="0.6"/><circle cx="177.9" cy="443.3" r="1.25" fill="#ff7f0e" fill-opacity="0.5" stroke="#ff7f0e" stroke-opacity="0.9" stroke-width="0.6"/><circle cx="180.4" cy="441.9" r="1.25" fill="#ff7f0e" fill-opacity="0.5" stroke="#ff7f0e" stroke-opacity="0.9" stroke-width="0.6"/><circle cx="182.9" cy="440.5" r="1.25" fill="#ff7f0e" fill-opacity="0.5" stroke="#ff7f0e" stroke-opacity="0.9" stroke-width="0.6"/><circle cx="185.4" cy="439" r="1.25" fill="#ff7f0e" fill-opacity="0.5" stroke="#ff7f0e" stroke-opacity="0.9" stroke-width="0.6"/><circle cx="187.9" cy="437.6" r="1.25" fill="#ff7f0e" fill-opacity="0.5" stroke="#ff7f0e" stroke-opacity="0.9" stroke-width="0.6"/><circle cx="190.4" cy="436.1" r="1.25" fill="#ff7f0e" fill-opacity="0.5" stroke="#ff7f0e" stroke-opacity="0.9" stroke-width="0.6"/><circle cx="192.8" cy="434.7" r="1.25" fill="#ff7f0e" fill-opacity="0.5" stroke="#ff7f0e" stroke-opacity="0.9" stroke-width="0.6"/><circle cx="195.3" cy="433.3" r="1.25" fill="#ff7f0e" fill-opacity="0.5" stroke="#ff7f0e" stroke-opacity="0.9" stroke-width="0.6"/><circle cx="197.8" cy="432.1" r="1.25" fill="#ff7f0e" fill-opacity="0.5" stroke="#ff7f0e" stroke-opacity="0.9" stroke-width="0.6"/><circle cx="200.3" cy="430.8" r="1.25" fill="#ff7f0e" fill-opacity="0.5" stroke="#ff7f0e" stroke-opacity="0.9" stroke-width="0.6"/><circle cx="202.8" cy="429.6" r="1.25" fill="#ff7f0e" fill-opacity="0.5" stroke="#ff7f0e" stroke-opacity="0.9" stroke-width="0.6"/><circle cx="205.3" cy="428.4" r="1.25" fill="#ff7f0e" fill-opacity="0.5" stroke="#ff7f0e" stroke-opacity="0.9" stroke-width="0.6"/><circle cx="207.8" cy="427.1" r="1.25" fill="#ff7f0e" fill-opacity="0.5" stroke="#ff7f0e" stroke-opacity="0.9" stroke-width="0.6"/><circle cx="210.3" cy="425.9" r="1.25" fill="#ff7f0e" fill-opacity="0.5" stroke="#ff7f0e" stroke-opacity="0.9" stroke-width="0.6"/><circle cx="212.8" cy="424.6" r="1.25" fill="#ff7f0e" fill-opacity="0.5" stroke="#ff7f0e" stroke-opacity="0.9" stroke-width="0.6"/><circle cx="215.3" cy="423.4" r="1.25" fill="#ff7f0e" fill-opacity="0.5" stroke="#ff7f0e" stroke-opacity="0.9" stroke-width="0.6"/><circle cx="217.8" cy="422.2" r="1.25" fill="#ff7f0e" fill-opacity="0.5" stroke="#ff7f0e" stroke-opacity="0.9" stroke-width="0.6"/><circle cx="220.2" cy="421.1" r="1.25" fill="#ff7f0e" fill-opacity="0.5" stroke="#ff7f0e" stroke-opacity="0.9" stroke-width="0.6"/><circle cx="222.7" cy="420" r="1.25" fill="#ff7f0e" fill-opacity="0.5" stroke="#ff7f0e" stroke-opacity="0.9" stroke-width="0.6"/><circle cx="225.2" cy="418.9" r="1.25" fill="#ff7f0e" fill-opacity="0.5" stroke="#ff7f0e" stroke-opacity="0.9" stroke-width="0.6"/><circle cx="227.7" cy="417.7" r="1.25" fill="#ff7f0e" fill-opacity="0.5" stroke="#ff7f0e" stroke-opacity="0.9" stroke-width="0.6"/><circle cx="230.2" cy="416.6" r="1.25" fill="#ff7f0e" fill-opacity="0.5" stroke="#ff7f0e" stroke-opacity="0.9" stroke-width="0.6"/><circle cx="232.7" cy="415.5" r="1.25" fill="#ff7f0e" fill-opacity="0.5" stroke="#ff7f0e" stroke-opacity="0.9" stroke-width="0.6"/><circle cx="235.2" cy="414.4" r="1.25" fill="#ff7f0e" fill-opacity="0.5" stroke="#ff7f0e" stroke-opacity="0.9" stroke-width="0.6"/><circle cx="237.7" cy="413.2" r="1.25" fill="#ff7f0e" fill-opacity="0.5" stroke="#ff7f0e" stroke-opacity="0.9" stroke-width="0.6"/><circle cx="240.2" cy="412.5" r="1.25" fill="#ff7f0e" fill-opacity="0.5" stroke="#ff7f0e" stroke-opacity="0.9" stroke-width="0.6"/><circle cx="242.7" cy="411.7" r="1.25" fill="#ff7f0e" fill-opacity="0.5" stroke="#ff7f0e" stroke-opacity="0.9" stroke-width="0.6"/><circle cx="245.1" cy="411" r="1.25" fill="#ff7f0e" fill-opacity="0.5" stroke="#ff7f0e" stroke-opacity="0.9" stroke-width="0.6"/><circle cx="247.6" cy="410.2" r="1.25" fill="#ff7f0e" fill-opacity="0.5" stroke="#ff7f0e" stroke-opacity="0.9" stroke-width="0.6"/><circle cx="250.1" cy="409.5" r="1.25" fill="#ff7f0e" fill-opacity="0.5" stroke="#ff7f0e" stroke-opacity="0.9" stroke-width="0.6"/><circle cx="252.6" cy="408.7" r="1.25" fill="#ff7f0e" fill-opacity="0.5" stroke="#ff7f0e" stroke-opacity="0.9" stroke-width="0.6"/><circle cx="255.1" cy="408" r="1.25" fill="#ff7f0e" fill-opacity="0.5" stroke="#ff7f0e" stroke-opacity="0.9" stroke-width="0.6"/><circle cx="257.6" cy="407.2" r="1.25" fill="#ff7f0e" fill-opacity="0.5" stroke="#ff7f0e" stroke-opacity="0.9" stroke-width="0.6"/><circle cx="260.1" cy="406.5" r="1.25" fill="#ff7f0e" fill-opacity="0.5" stroke="#ff7f0e" stroke-opacity="0.9" stroke-width="0.6"/><circle cx="262.6" cy="405.3" r="1.25" fill="#ff7f0e" fill-opacity="0.5" stroke="#ff7f0e" stroke-opacity="0.9" stroke-width="0.6"/><circle cx="265.1" cy="404.2" r="1.25" fill="#ff7f0e" fill-opacity="0.5" stroke="#ff7f0e" stroke-opacity="0.9" stroke-width="0.6"/><circle cx="267.6" cy="403.1" r="1.25" fill="#ff7f0e" fill-opacity="0.5" stroke="#ff7f0e" stroke-opacity="0.9" stroke-width="0.6"/><circle cx="270" cy="401.9" r="1.25" fill="#ff7f0e" fill-opacity="0.5" stroke="#ff7f0e" stroke-opacity="0.9" stroke-width="0.6"/><circle cx="272.5" cy="400.2" r="1.25" fill="#ff7f0e" fill-opacity="0.5" stroke="#ff7f0e" stroke-opacity="0.9" stroke-width="0.6"/><circle cx="275" cy="398.4" r="1.25" fill="#ff7f0e" fill-opacity="0.5" stroke="#ff7f0e" stroke-opacity="0.9" stroke-width="0.6"/><circle cx="277.5" cy="396.6" r="1.25" fill="#ff7f0e" fill-opacity="0.5" stroke="#ff7f0e" stroke-opacity="0.9" stroke-width="0.6"/>
<polyline points="33.8,501.9 36.3,485.5 38.8,466.7 41.3,459.1 43.8,454.9 48.9,446.6 53.9,439 60.2,432.8 66.5,429 72.7,424 76.5,416.4 82.8,413.9 92.8,409.6 104.9,406.4 130,401 143,396.6 150,394.5 172,390 194,387.2 211.5,386.3 213.7,382.4 231.3,379 249,374.7 264.3,371.4 277.5,368.1" fill="none" stroke="#d62728" stroke-width="1.45" stroke-linejoin="round" stroke-opacity="1"/>
<circle cx="36" cy="487.6" r="1.0" fill="#d62728" fill-opacity="0.9"/><circle cx="38.5" cy="469.2" r="1.0" fill="#d62728" fill-opacity="0.9"/><circle cx="41" cy="460.1" r="1.0" fill="#d62728" fill-opacity="0.9"/><circle cx="43.5" cy="455.5" r="1.0" fill="#d62728" fill-opacity="0.9"/><circle cx="45.9" cy="451.4" r="1.0" fill="#d62728" fill-opacity="0.9"/><circle cx="48.4" cy="447.4" r="1.0" fill="#d62728" fill-opacity="0.9"/><circle cx="50.9" cy="443.5" r="1.0" fill="#d62728" fill-opacity="0.9"/><circle cx="53.4" cy="439.7" r="1.0" fill="#d62728" fill-opacity="0.9"/><circle cx="55.9" cy="437" r="1.0" fill="#d62728" fill-opacity="0.9"/><circle cx="58.4" cy="434.6" r="1.0" fill="#d62728" fill-opacity="0.9"/><circle cx="60.9" cy="432.4" r="1.0" fill="#d62728" fill-opacity="0.9"/><circle cx="63.4" cy="430.9" r="1.0" fill="#d62728" fill-opacity="0.9"/><circle cx="65.9" cy="429.4" r="1.0" fill="#d62728" fill-opacity="0.9"/><circle cx="68.3" cy="427.5" r="1.0" fill="#d62728" fill-opacity="0.9"/><circle cx="70.8" cy="425.5" r="1.0" fill="#d62728" fill-opacity="0.9"/><circle cx="73.3" cy="422.7" r="1.0" fill="#d62728" fill-opacity="0.9"/><circle cx="75.8" cy="417.8" r="1.0" fill="#d62728" fill-opacity="0.9"/><circle cx="78.3" cy="415.7" r="1.0" fill="#d62728" fill-opacity="0.9"/><circle cx="80.8" cy="414.7" r="1.0" fill="#d62728" fill-opacity="0.9"/><circle cx="83.3" cy="413.7" r="1.0" fill="#d62728" fill-opacity="0.9"/><circle cx="85.8" cy="412.6" r="1.0" fill="#d62728" fill-opacity="0.9"/><circle cx="88.3" cy="411.5" r="1.0" fill="#d62728" fill-opacity="0.9"/><circle cx="90.8" cy="410.5" r="1.0" fill="#d62728" fill-opacity="0.9"/><circle cx="93.2" cy="409.5" r="1.0" fill="#d62728" fill-opacity="0.9"/><circle cx="95.7" cy="408.8" r="1.0" fill="#d62728" fill-opacity="0.9"/><circle cx="98.2" cy="408.2" r="1.0" fill="#d62728" fill-opacity="0.9"/><circle cx="100.7" cy="407.5" r="1.0" fill="#d62728" fill-opacity="0.9"/><circle cx="103.2" cy="406.8" r="1.0" fill="#d62728" fill-opacity="0.9"/><circle cx="105.7" cy="406.2" r="1.0" fill="#d62728" fill-opacity="0.9"/><circle cx="108.2" cy="405.7" r="1.0" fill="#d62728" fill-opacity="0.9"/><circle cx="110.7" cy="405.2" r="1.0" fill="#d62728" fill-opacity="0.9"/><circle cx="113.2" cy="404.6" r="1.0" fill="#d62728" fill-opacity="0.9"/><circle cx="115.7" cy="404.1" r="1.0" fill="#d62728" fill-opacity="0.9"/><circle cx="118.2" cy="403.5" r="1.0" fill="#d62728" fill-opacity="0.9"/><circle cx="120.6" cy="403" r="1.0" fill="#d62728" fill-opacity="0.9"/><circle cx="123.1" cy="402.5" r="1.0" fill="#d62728" fill-opacity="0.9"/><circle cx="125.6" cy="401.9" r="1.0" fill="#d62728" fill-opacity="0.9"/><circle cx="128.1" cy="401.4" r="1.0" fill="#d62728" fill-opacity="0.9"/><circle cx="130.6" cy="400.8" r="1.0" fill="#d62728" fill-opacity="0.9"/><circle cx="133.1" cy="400" r="1.0" fill="#d62728" fill-opacity="0.9"/><circle cx="135.6" cy="399.1" r="1.0" fill="#d62728" fill-opacity="0.9"/><circle cx="138.1" cy="398.3" r="1.0" fill="#d62728" fill-opacity="0.9"/><circle cx="140.6" cy="397.4" r="1.0" fill="#d62728" fill-opacity="0.9"/><circle cx="143.1" cy="396.6" r="1.0" fill="#d62728" fill-opacity="0.9"/><circle cx="145.5" cy="395.8" r="1.0" fill="#d62728" fill-opacity="0.9"/><circle cx="148" cy="395.1" r="1.0" fill="#d62728" fill-opacity="0.9"/><circle cx="150.5" cy="394.4" r="1.0" fill="#d62728" fill-opacity="0.9"/><circle cx="153" cy="393.9" r="1.0" fill="#d62728" fill-opacity="0.9"/><circle cx="155.5" cy="393.4" r="1.0" fill="#d62728" fill-opacity="0.9"/><circle cx="158" cy="392.9" r="1.0" fill="#d62728" fill-opacity="0.9"/><circle cx="160.5" cy="392.4" r="1.0" fill="#d62728" fill-opacity="0.9"/><circle cx="163" cy="391.8" r="1.0" fill="#d62728" fill-opacity="0.9"/><circle cx="165.5" cy="391.3" r="1.0" fill="#d62728" fill-opacity="0.9"/><circle cx="168" cy="390.8" r="1.0" fill="#d62728" fill-opacity="0.9"/><circle cx="170.4" cy="390.3" r="1.0" fill="#d62728" fill-opacity="0.9"/><circle cx="172.9" cy="389.9" r="1.0" fill="#d62728" fill-opacity="0.9"/><circle cx="175.4" cy="389.6" r="1.0" fill="#d62728" fill-opacity="0.9"/><circle cx="177.9" cy="389.2" r="1.0" fill="#d62728" fill-opacity="0.9"/><circle cx="180.4" cy="388.9" r="1.0" fill="#d62728" fill-opacity="0.9"/><circle cx="182.9" cy="388.6" r="1.0" fill="#d62728" fill-opacity="0.9"/><circle cx="185.4" cy="388.3" r="1.0" fill="#d62728" fill-opacity="0.9"/><circle cx="187.9" cy="388" r="1.0" fill="#d62728" fill-opacity="0.9"/><circle cx="190.4" cy="387.7" r="1.0" fill="#d62728" fill-opacity="0.9"/><circle cx="192.8" cy="387.3" r="1.0" fill="#d62728" fill-opacity="0.9"/><circle cx="195.3" cy="387.1" r="1.0" fill="#d62728" fill-opacity="0.9"/><circle cx="197.8" cy="387" r="1.0" fill="#d62728" fill-opacity="0.9"/><circle cx="200.3" cy="386.9" r="1.0" fill="#d62728" fill-opacity="0.9"/><circle cx="202.8" cy="386.7" r="1.0" fill="#d62728" fill-opacity="0.9"/><circle cx="205.3" cy="386.6" r="1.0" fill="#d62728" fill-opacity="0.9"/><circle cx="207.8" cy="386.5" r="1.0" fill="#d62728" fill-opacity="0.9"/><circle cx="210.3" cy="386.4" r="1.0" fill="#d62728" fill-opacity="0.9"/><circle cx="212.8" cy="384" r="1.0" fill="#d62728" fill-opacity="0.9"/><circle cx="215.3" cy="382.1" r="1.0" fill="#d62728" fill-opacity="0.9"/><circle cx="217.8" cy="381.6" r="1.0" fill="#d62728" fill-opacity="0.9"/><circle cx="220.2" cy="381.1" r="1.0" fill="#d62728" fill-opacity="0.9"/><circle cx="222.7" cy="380.7" r="1.0" fill="#d62728" fill-opacity="0.9"/><circle cx="225.2" cy="380.2" r="1.0" fill="#d62728" fill-opacity="0.9"/><circle cx="227.7" cy="379.7" r="1.0" fill="#d62728" fill-opacity="0.9"/><circle cx="230.2" cy="379.2" r="1.0" fill="#d62728" fill-opacity="0.9"/><circle cx="232.7" cy="378.7" r="1.0" fill="#d62728" fill-opacity="0.9"/><circle cx="235.2" cy="378.1" r="1.0" fill="#d62728" fill-opacity="0.9"/><circle cx="237.7" cy="377.5" r="1.0" fill="#d62728" fill-opacity="0.9"/><circle cx="240.2" cy="376.8" r="1.0" fill="#d62728" fill-opacity="0.9"/><circle cx="242.7" cy="376.2" r="1.0" fill="#d62728" fill-opacity="0.9"/><circle cx="245.1" cy="375.6" r="1.0" fill="#d62728" fill-opacity="0.9"/><circle cx="247.6" cy="375" r="1.0" fill="#d62728" fill-opacity="0.9"/><circle cx="250.1" cy="374.5" r="1.0" fill="#d62728" fill-opacity="0.9"/><circle cx="252.6" cy="373.9" r="1.0" fill="#d62728" fill-opacity="0.9"/><circle cx="255.1" cy="373.4" r="1.0" fill="#d62728" fill-opacity="0.9"/><circle cx="257.6" cy="372.8" r="1.0" fill="#d62728" fill-opacity="0.9"/><circle cx="260.1" cy="372.3" r="1.0" fill="#d62728" fill-opacity="0.9"/><circle cx="262.6" cy="371.8" r="1.0" fill="#d62728" fill-opacity="0.9"/><circle cx="265.1" cy="371.2" r="1.0" fill="#d62728" fill-opacity="0.9"/><circle cx="267.6" cy="370.6" r="1.0" fill="#d62728" fill-opacity="0.9"/><circle cx="270" cy="370" r="1.0" fill="#d62728" fill-opacity="0.9"/><circle cx="272.5" cy="369.3" r="1.0" fill="#d62728" fill-opacity="0.9"/><circle cx="275" cy="368.7" r="1.0" fill="#d62728" fill-opacity="0.9"/><circle cx="277.5" cy="368.1" r="1.0" fill="#d62728" fill-opacity="0.9"/>
<polyline points="33.2,545.8 42,538.7 53,531 64,525.5 75,522.3 86,513.5 90,509.2 105,503.6 107.6,491.6 109,490.4 118.6,485 123.3,483.8 134,479.6 138.7,478.3 140.5,475.2 145,464.2 150,460.4 156,455.4 163.2,452.7 178,444.4 180.8,441.7 185.2,429.6 194,426.3 200.5,414.2 211.5,400 220.3,392.3 238,387.9 250,383.5 252.2,379 277.5,379" fill="none" stroke="#1f77b4" stroke-width="1.45" stroke-linejoin="round" stroke-opacity="1"/>
<circle cx="33.5" cy="545.6" r="1.25" fill="#1f77b4" fill-opacity="0.5" stroke="#1f77b4" stroke-opacity="0.9" stroke-width="0.6"/><circle cx="36" cy="543.6" r="1.25" fill="#1f77b4" fill-opacity="0.5" stroke="#1f77b4" stroke-opacity="0.9" stroke-width="0.6"/><circle cx="38.5" cy="541.5" r="1.25" fill="#1f77b4" fill-opacity="0.5" stroke="#1f77b4" stroke-opacity="0.9" stroke-width="0.6"/><circle cx="41" cy="539.5" r="1.25" fill="#1f77b4" fill-opacity="0.5" stroke="#1f77b4" stroke-opacity="0.9" stroke-width="0.6"/><circle cx="43.5" cy="537.7" r="1.25" fill="#1f77b4" fill-opacity="0.5" stroke="#1f77b4" stroke-opacity="0.9" stroke-width="0.6"/><circle cx="45.9" cy="535.9" r="1.25" fill="#1f77b4" fill-opacity="0.5" stroke="#1f77b4" stroke-opacity="0.9" stroke-width="0.6"/><circle cx="48.4" cy="534.2" r="1.25" fill="#1f77b4" fill-opacity="0.5" stroke="#1f77b4" stroke-opacity="0.9" stroke-width="0.6"/><circle cx="50.9" cy="532.5" r="1.25" fill="#1f77b4" fill-opacity="0.5" stroke="#1f77b4" stroke-opacity="0.9" stroke-width="0.6"/><circle cx="53.4" cy="530.8" r="1.25" fill="#1f77b4" fill-opacity="0.5" stroke="#1f77b4" stroke-opacity="0.9" stroke-width="0.6"/><circle cx="55.9" cy="529.5" r="1.25" fill="#1f77b4" fill-opacity="0.5" stroke="#1f77b4" stroke-opacity="0.9" stroke-width="0.6"/><circle cx="58.4" cy="528.3" r="1.25" fill="#1f77b4" fill-opacity="0.5" stroke="#1f77b4" stroke-opacity="0.9" stroke-width="0.6"/><circle cx="60.9" cy="527.1" r="1.25" fill="#1f77b4" fill-opacity="0.5" stroke="#1f77b4" stroke-opacity="0.9" stroke-width="0.6"/><circle cx="63.4" cy="525.8" r="1.25" fill="#1f77b4" fill-opacity="0.5" stroke="#1f77b4" stroke-opacity="0.9" stroke-width="0.6"/><circle cx="65.9" cy="525" r="1.25" fill="#1f77b4" fill-opacity="0.5" stroke="#1f77b4" stroke-opacity="0.9" stroke-width="0.6"/><circle cx="68.3" cy="524.2" r="1.25" fill="#1f77b4" fill-opacity="0.5" stroke="#1f77b4" stroke-opacity="0.9" stroke-width="0.6"/><circle cx="70.8" cy="523.5" r="1.25" fill="#1f77b4" fill-opacity="0.5" stroke="#1f77b4" stroke-opacity="0.9" stroke-width="0.6"/><circle cx="73.3" cy="522.8" r="1.25" fill="#1f77b4" fill-opacity="0.5" stroke="#1f77b4" stroke-opacity="0.9" stroke-width="0.6"/><circle cx="75.8" cy="521.6" r="1.25" fill="#1f77b4" fill-opacity="0.5" stroke="#1f77b4" stroke-opacity="0.9" stroke-width="0.6"/><circle cx="78.3" cy="519.7" r="1.25" fill="#1f77b4" fill-opacity="0.5" stroke="#1f77b4" stroke-opacity="0.9" stroke-width="0.6"/><circle cx="80.8" cy="517.7" r="1.25" fill="#1f77b4" fill-opacity="0.5" stroke="#1f77b4" stroke-opacity="0.9" stroke-width="0.6"/><circle cx="83.3" cy="515.7" r="1.25" fill="#1f77b4" fill-opacity="0.5" stroke="#1f77b4" stroke-opacity="0.9" stroke-width="0.6"/><circle cx="85.8" cy="513.7" r="1.25" fill="#1f77b4" fill-opacity="0.5" stroke="#1f77b4" stroke-opacity="0.9" stroke-width="0.6"/><circle cx="88.3" cy="511.1" r="1.25" fill="#1f77b4" fill-opacity="0.5" stroke="#1f77b4" stroke-opacity="0.9" stroke-width="0.6"/><circle cx="90.8" cy="508.9" r="1.25" fill="#1f77b4" fill-opacity="0.5" stroke="#1f77b4" stroke-opacity="0.9" stroke-width="0.6"/><circle cx="93.2" cy="508" r="1.25" fill="#1f77b4" fill-opacity="0.5" stroke="#1f77b4" stroke-opacity="0.9" stroke-width="0.6"/><circle cx="95.7" cy="507.1" r="1.25" fill="#1f77b4" fill-opacity="0.5" stroke="#1f77b4" stroke-opacity="0.9" stroke-width="0.6"/><circle cx="98.2" cy="506.1" r="1.25" fill="#1f77b4" fill-opacity="0.5" stroke="#1f77b4" stroke-opacity="0.9" stroke-width="0.6"/><circle cx="100.7" cy="505.2" r="1.25" fill="#1f77b4" fill-opacity="0.5" stroke="#1f77b4" stroke-opacity="0.9" stroke-width="0.6"/><circle cx="103.2" cy="504.3" r="1.25" fill="#1f77b4" fill-opacity="0.5" stroke="#1f77b4" stroke-opacity="0.9" stroke-width="0.6"/><circle cx="105.7" cy="500.4" r="1.25" fill="#1f77b4" fill-opacity="0.5" stroke="#1f77b4" stroke-opacity="0.9" stroke-width="0.6"/><circle cx="108.2" cy="491.1" r="1.25" fill="#1f77b4" fill-opacity="0.5" stroke="#1f77b4" stroke-opacity="0.9" stroke-width="0.6"/><circle cx="110.7" cy="489.5" r="1.25" fill="#1f77b4" fill-opacity="0.5" stroke="#1f77b4" stroke-opacity="0.9" stroke-width="0.6"/><circle cx="113.2" cy="488.1" r="1.25" fill="#1f77b4" fill-opacity="0.5" stroke="#1f77b4" stroke-opacity="0.9" stroke-width="0.6"/><circle cx="115.7" cy="486.7" r="1.25" fill="#1f77b4" fill-opacity="0.5" stroke="#1f77b4" stroke-opacity="0.9" stroke-width="0.6"/><circle cx="118.2" cy="485.3" r="1.25" fill="#1f77b4" fill-opacity="0.5" stroke="#1f77b4" stroke-opacity="0.9" stroke-width="0.6"/><circle cx="120.6" cy="484.5" r="1.25" fill="#1f77b4" fill-opacity="0.5" stroke="#1f77b4" stroke-opacity="0.9" stroke-width="0.6"/><circle cx="123.1" cy="483.8" r="1.25" fill="#1f77b4" fill-opacity="0.5" stroke="#1f77b4" stroke-opacity="0.9" stroke-width="0.6"/><circle cx="125.6" cy="482.9" r="1.25" fill="#1f77b4" fill-opacity="0.5" stroke="#1f77b4" stroke-opacity="0.9" stroke-width="0.6"/><circle cx="128.1" cy="481.9" r="1.25" fill="#1f77b4" fill-opacity="0.5" stroke="#1f77b4" stroke-opacity="0.9" stroke-width="0.6"/><circle cx="130.6" cy="480.9" r="1.25" fill="#1f77b4" fill-opacity="0.5" stroke="#1f77b4" stroke-opacity="0.9" stroke-width="0.6"/><circle cx="133.1" cy="480" r="1.25" fill="#1f77b4" fill-opacity="0.5" stroke="#1f77b4" stroke-opacity="0.9" stroke-width="0.6"/><circle cx="135.6" cy="479.2" r="1.25" fill="#1f77b4" fill-opacity="0.5" stroke="#1f77b4" stroke-opacity="0.9" stroke-width="0.6"/><circle cx="138.1" cy="478.5" r="1.25" fill="#1f77b4" fill-opacity="0.5" stroke="#1f77b4" stroke-opacity="0.9" stroke-width="0.6"/><circle cx="140.6" cy="475.1" r="1.25" fill="#1f77b4" fill-opacity="0.5" stroke="#1f77b4" stroke-opacity="0.9" stroke-width="0.6"/><circle cx="143.1" cy="469" r="1.25" fill="#1f77b4" fill-opacity="0.5" stroke="#1f77b4" stroke-opacity="0.9" stroke-width="0.6"/><circle cx="145.5" cy="463.8" r="1.25" fill="#1f77b4" fill-opacity="0.5" stroke="#1f77b4" stroke-opacity="0.9" stroke-width="0.6"/><circle cx="148" cy="461.9" r="1.25" fill="#1f77b4" fill-opacity="0.5" stroke="#1f77b4" stroke-opacity="0.9" stroke-width="0.6"/><circle cx="150.5" cy="460" r="1.25" fill="#1f77b4" fill-opacity="0.5" stroke="#1f77b4" stroke-opacity="0.9" stroke-width="0.6"/><circle cx="153" cy="457.9" r="1.25" fill="#1f77b4" fill-opacity="0.5" stroke="#1f77b4" stroke-opacity="0.9" stroke-width="0.6"/><circle cx="155.5" cy="455.8" r="1.25" fill="#1f77b4" fill-opacity="0.5" stroke="#1f77b4" stroke-opacity="0.9" stroke-width="0.6"/><circle cx="158" cy="454.7" r="1.25" fill="#1f77b4" fill-opacity="0.5" stroke="#1f77b4" stroke-opacity="0.9" stroke-width="0.6"/><circle cx="160.5" cy="453.7" r="1.25" fill="#1f77b4" fill-opacity="0.5" stroke="#1f77b4" stroke-opacity="0.9" stroke-width="0.6"/><circle cx="163" cy="452.8" r="1.25" fill="#1f77b4" fill-opacity="0.5" stroke="#1f77b4" stroke-opacity="0.9" stroke-width="0.6"/><circle cx="165.5" cy="451.4" r="1.25" fill="#1f77b4" fill-opacity="0.5" stroke="#1f77b4" stroke-opacity="0.9" stroke-width="0.6"/><circle cx="168" cy="450" r="1.25" fill="#1f77b4" fill-opacity="0.5" stroke="#1f77b4" stroke-opacity="0.9" stroke-width="0.6"/><circle cx="170.4" cy="448.6" r="1.25" fill="#1f77b4" fill-opacity="0.5" stroke="#1f77b4" stroke-opacity="0.9" stroke-width="0.6"/><circle cx="172.9" cy="447.2" r="1.25" fill="#1f77b4" fill-opacity="0.5" stroke="#1f77b4" stroke-opacity="0.9" stroke-width="0.6"/><circle cx="175.4" cy="445.8" r="1.25" fill="#1f77b4" fill-opacity="0.5" stroke="#1f77b4" stroke-opacity="0.9" stroke-width="0.6"/><circle cx="177.9" cy="444.5" r="1.25" fill="#1f77b4" fill-opacity="0.5" stroke="#1f77b4" stroke-opacity="0.9" stroke-width="0.6"/><circle cx="180.4" cy="442.1" r="1.25" fill="#1f77b4" fill-opacity="0.5" stroke="#1f77b4" stroke-opacity="0.9" stroke-width="0.6"/><circle cx="182.9" cy="436" r="1.25" fill="#1f77b4" fill-opacity="0.5" stroke="#1f77b4" stroke-opacity="0.9" stroke-width="0.6"/><circle cx="185.4" cy="429.5" r="1.25" fill="#1f77b4" fill-opacity="0.5" stroke="#1f77b4" stroke-opacity="0.9" stroke-width="0.6"/><circle cx="187.9" cy="428.6" r="1.25" fill="#1f77b4" fill-opacity="0.5" stroke="#1f77b4" stroke-opacity="0.9" stroke-width="0.6"/><circle cx="190.4" cy="427.7" r="1.25" fill="#1f77b4" fill-opacity="0.5" stroke="#1f77b4" stroke-opacity="0.9" stroke-width="0.6"/><circle cx="192.8" cy="426.7" r="1.25" fill="#1f77b4" fill-opacity="0.5" stroke="#1f77b4" stroke-opacity="0.9" stroke-width="0.6"/><circle cx="195.3" cy="423.8" r="1.25" fill="#1f77b4" fill-opacity="0.5" stroke="#1f77b4" stroke-opacity="0.9" stroke-width="0.6"/><circle cx="197.8" cy="419.2" r="1.25" fill="#1f77b4" fill-opacity="0.5" stroke="#1f77b4" stroke-opacity="0.9" stroke-width="0.6"/><circle cx="200.3" cy="414.5" r="1.25" fill="#1f77b4" fill-opacity="0.5" stroke="#1f77b4" stroke-opacity="0.9" stroke-width="0.6"/><circle cx="202.8" cy="411.2" r="1.25" fill="#1f77b4" fill-opacity="0.5" stroke="#1f77b4" stroke-opacity="0.9" stroke-width="0.6"/><circle cx="205.3" cy="408" r="1.25" fill="#1f77b4" fill-opacity="0.5" stroke="#1f77b4" stroke-opacity="0.9" stroke-width="0.6"/><circle cx="207.8" cy="404.8" r="1.25" fill="#1f77b4" fill-opacity="0.5" stroke="#1f77b4" stroke-opacity="0.9" stroke-width="0.6"/><circle cx="210.3" cy="401.6" r="1.25" fill="#1f77b4" fill-opacity="0.5" stroke="#1f77b4" stroke-opacity="0.9" stroke-width="0.6"/><circle cx="212.8" cy="398.9" r="1.25" fill="#1f77b4" fill-opacity="0.5" stroke="#1f77b4" stroke-opacity="0.9" stroke-width="0.6"/><circle cx="215.3" cy="396.7" r="1.25" fill="#1f77b4" fill-opacity="0.5" stroke="#1f77b4" stroke-opacity="0.9" stroke-width="0.6"/><circle cx="217.8" cy="394.5" r="1.25" fill="#1f77b4" fill-opacity="0.5" stroke="#1f77b4" stroke-opacity="0.9" stroke-width="0.6"/><circle cx="220.2" cy="392.4" r="1.25" fill="#1f77b4" fill-opacity="0.5" stroke="#1f77b4" stroke-opacity="0.9" stroke-width="0.6"/><circle cx="222.7" cy="391.7" r="1.25" fill="#1f77b4" fill-opacity="0.5" stroke="#1f77b4" stroke-opacity="0.9" stroke-width="0.6"/><circle cx="225.2" cy="391.1" r="1.25" fill="#1f77b4" fill-opacity="0.5" stroke="#1f77b4" stroke-opacity="0.9" stroke-width="0.6"/><circle cx="227.7" cy="390.5" r="1.25" fill="#1f77b4" fill-opacity="0.5" stroke="#1f77b4" stroke-opacity="0.9" stroke-width="0.6"/><circle cx="230.2" cy="389.8" r="1.25" fill="#1f77b4" fill-opacity="0.5" stroke="#1f77b4" stroke-opacity="0.9" stroke-width="0.6"/><circle cx="232.7" cy="389.2" r="1.25" fill="#1f77b4" fill-opacity="0.5" stroke="#1f77b4" stroke-opacity="0.9" stroke-width="0.6"/><circle cx="235.2" cy="388.6" r="1.25" fill="#1f77b4" fill-opacity="0.5" stroke="#1f77b4" stroke-opacity="0.9" stroke-width="0.6"/><circle cx="237.7" cy="388" r="1.25" fill="#1f77b4" fill-opacity="0.5" stroke="#1f77b4" stroke-opacity="0.9" stroke-width="0.6"/><circle cx="240.2" cy="387.1" r="1.25" fill="#1f77b4" fill-opacity="0.5" stroke="#1f77b4" stroke-opacity="0.9" stroke-width="0.6"/><circle cx="242.7" cy="386.2" r="1.25" fill="#1f77b4" fill-opacity="0.5" stroke="#1f77b4" stroke-opacity="0.9" stroke-width="0.6"/><circle cx="245.1" cy="385.3" r="1.25" fill="#1f77b4" fill-opacity="0.5" stroke="#1f77b4" stroke-opacity="0.9" stroke-width="0.6"/><circle cx="247.6" cy="384.4" r="1.25" fill="#1f77b4" fill-opacity="0.5" stroke="#1f77b4" stroke-opacity="0.9" stroke-width="0.6"/><circle cx="250.1" cy="383.3" r="1.25" fill="#1f77b4" fill-opacity="0.5" stroke="#1f77b4" stroke-opacity="0.9" stroke-width="0.6"/><circle cx="252.6" cy="379" r="1.25" fill="#1f77b4" fill-opacity="0.5" stroke="#1f77b4" stroke-opacity="0.9" stroke-width="0.6"/><circle cx="255.1" cy="379" r="1.25" fill="#1f77b4" fill-opacity="0.5" stroke="#1f77b4" stroke-opacity="0.9" stroke-width="0.6"/><circle cx="257.6" cy="379" r="1.25" fill="#1f77b4" fill-opacity="0.5" stroke="#1f77b4" stroke-opacity="0.9" stroke-width="0.6"/><circle cx="260.1" cy="379" r="1.25" fill="#1f77b4" fill-opacity="0.5" stroke="#1f77b4" stroke-opacity="0.9" stroke-width="0.6"/><circle cx="262.6" cy="379" r="1.25" fill="#1f77b4" fill-opacity="0.5" stroke="#1f77b4" stroke-opacity="0.9" stroke-width="0.6"/><circle cx="265.1" cy="379" r="1.25" fill="#1f77b4" fill-opacity="0.5" stroke="#1f77b4" stroke-opacity="0.9" stroke-width="0.6"/><circle cx="267.6" cy="379" r="1.25" fill="#1f77b4" fill-opacity="0.5" stroke="#1f77b4" stroke-opacity="0.9" stroke-width="0.6"/><circle cx="270" cy="379" r="1.25" fill="#1f77b4" fill-opacity="0.5" stroke="#1f77b4" stroke-opacity="0.9" stroke-width="0.6"/><circle cx="272.5" cy="379" r="1.25" fill="#1f77b4" fill-opacity="0.5" stroke="#1f77b4" stroke-opacity="0.9" stroke-width="0.6"/><circle cx="275" cy="379" r="1.25" fill="#1f77b4" fill-opacity="0.5" stroke="#1f77b4" stroke-opacity="0.9" stroke-width="0.6"/><circle cx="277.5" cy="379" r="1.25" fill="#1f77b4" fill-opacity="0.5" stroke="#1f77b4" stroke-opacity="0.9" stroke-width="0.6"/>
<polyline points="33.2,540.9 37.6,534.3 48.6,525.5 64,519 81.5,510.2 90,503.7 97,502 107.6,495 119,491.5 125.2,488.4 130,488 142.7,482.9 150,480.2 156,478.5 172,473.6 178,470.8 194,465.9 200,464.2 216,456 221.9,453.2 238,450.5 260,445 277.5,439.5" fill="none" stroke="#2ca02c" stroke-width="1.45" stroke-linejoin="round" stroke-opacity="1"/>
<path d="M33.5 538.9L34.6 540.5L33.5 542L32.4 540.5Z" fill="#2ca02c" fill-opacity="0.5" stroke="#2ca02c" stroke-opacity="0.9" stroke-width="0.6"/><path d="M36 535.2L37 536.7L36 538.3L34.9 536.7Z" fill="#2ca02c" fill-opacity="0.5" stroke="#2ca02c" stroke-opacity="0.9" stroke-width="0.6"/><path d="M38.5 532L39.5 533.6L38.5 535.2L37.4 533.6Z" fill="#2ca02c" fill-opacity="0.5" stroke="#2ca02c" stroke-opacity="0.9" stroke-width="0.6"/><path d="M41 530L42 531.6L41 533.2L39.9 531.6Z" fill="#2ca02c" fill-opacity="0.5" stroke="#2ca02c" stroke-opacity="0.9" stroke-width="0.6"/><path d="M43.5 528.1L44.5 529.6L43.5 531.2L42.4 529.6Z" fill="#2ca02c" fill-opacity="0.5" stroke="#2ca02c" stroke-opacity="0.9" stroke-width="0.6"/><path d="M45.9 526.1L47 527.6L45.9 529.2L44.9 527.6Z" fill="#2ca02c" fill-opacity="0.5" stroke="#2ca02c" stroke-opacity="0.9" stroke-width="0.6"/><path d="M48.4 524.1L49.5 525.6L48.4 527.2L47.4 525.6Z" fill="#2ca02c" fill-opacity="0.5" stroke="#2ca02c" stroke-opacity="0.9" stroke-width="0.6"/><path d="M50.9 523L52 524.5L50.9 526.1L49.9 524.5Z" fill="#2ca02c" fill-opacity="0.5" stroke="#2ca02c" stroke-opacity="0.9" stroke-width="0.6"/><path d="M53.4 521.9L54.5 523.5L53.4 525L52.3 523.5Z" fill="#2ca02c" fill-opacity="0.5" stroke="#2ca02c" stroke-opacity="0.9" stroke-width="0.6"/><path d="M55.9 520.9L57 522.4L55.9 524L54.8 522.4Z" fill="#2ca02c" fill-opacity="0.5" stroke="#2ca02c" stroke-opacity="0.9" stroke-width="0.6"/><path d="M58.4 519.8L59.5 521.4L58.4 522.9L57.3 521.4Z" fill="#2ca02c" fill-opacity="0.5" stroke="#2ca02c" stroke-opacity="0.9" stroke-width="0.6"/><path d="M60.9 518.8L61.9 520.3L60.9 521.9L59.8 520.3Z" fill="#2ca02c" fill-opacity="0.5" stroke="#2ca02c" stroke-opacity="0.9" stroke-width="0.6"/><path d="M63.4 517.7L64.4 519.3L63.4 520.8L62.3 519.3Z" fill="#2ca02c" fill-opacity="0.5" stroke="#2ca02c" stroke-opacity="0.9" stroke-width="0.6"/><path d="M65.9 516.5L66.9 518.1L65.9 519.6L64.8 518.1Z" fill="#2ca02c" fill-opacity="0.5" stroke="#2ca02c" stroke-opacity="0.9" stroke-width="0.6"/><path d="M68.3 515.3L69.4 516.8L68.3 518.4L67.3 516.8Z" fill="#2ca02c" fill-opacity="0.5" stroke="#2ca02c" stroke-opacity="0.9" stroke-width="0.6"/><path d="M70.8 514L71.9 515.6L70.8 517.1L69.8 515.6Z" fill="#2ca02c" fill-opacity="0.5" stroke="#2ca02c" stroke-opacity="0.9" stroke-width="0.6"/><path d="M73.3 512.7L74.4 514.3L73.3 515.9L72.3 514.3Z" fill="#2ca02c" fill-opacity="0.5" stroke="#2ca02c" stroke-opacity="0.9" stroke-width="0.6"/><path d="M75.8 511.5L76.9 513.1L75.8 514.6L74.8 513.1Z" fill="#2ca02c" fill-opacity="0.5" stroke="#2ca02c" stroke-opacity="0.9" stroke-width="0.6"/><path d="M78.3 510.2L79.4 511.8L78.3 513.4L77.2 511.8Z" fill="#2ca02c" fill-opacity="0.5" stroke="#2ca02c" stroke-opacity="0.9" stroke-width="0.6"/><path d="M80.8 509L81.9 510.6L80.8 512.1L79.7 510.6Z" fill="#2ca02c" fill-opacity="0.5" stroke="#2ca02c" stroke-opacity="0.9" stroke-width="0.6"/><path d="M83.3 507.3L84.4 508.8L83.3 510.4L82.2 508.8Z" fill="#2ca02c" fill-opacity="0.5" stroke="#2ca02c" stroke-opacity="0.9" stroke-width="0.6"/><path d="M85.8 505.4L86.8 506.9L85.8 508.5L84.7 506.9Z" fill="#2ca02c" fill-opacity="0.5" stroke="#2ca02c" stroke-opacity="0.9" stroke-width="0.6"/><path d="M88.3 503.5L89.3 505L88.3 506.6L87.2 505Z" fill="#2ca02c" fill-opacity="0.5" stroke="#2ca02c" stroke-opacity="0.9" stroke-width="0.6"/><path d="M90.8 502L91.8 503.5L90.8 505.1L89.7 503.5Z" fill="#2ca02c" fill-opacity="0.5" stroke="#2ca02c" stroke-opacity="0.9" stroke-width="0.6"/><path d="M93.2 501.3L94.3 502.9L93.2 504.5L92.2 502.9Z" fill="#2ca02c" fill-opacity="0.5" stroke="#2ca02c" stroke-opacity="0.9" stroke-width="0.6"/><path d="M95.7 500.7L96.8 502.3L95.7 503.9L94.7 502.3Z" fill="#2ca02c" fill-opacity="0.5" stroke="#2ca02c" stroke-opacity="0.9" stroke-width="0.6"/><path d="M98.2 499.6L99.3 501.2L98.2 502.8L97.2 501.2Z" fill="#2ca02c" fill-opacity="0.5" stroke="#2ca02c" stroke-opacity="0.9" stroke-width="0.6"/><path d="M100.7 498L101.8 499.5L100.7 501.1L99.7 499.5Z" fill="#2ca02c" fill-opacity="0.5" stroke="#2ca02c" stroke-opacity="0.9" stroke-width="0.6"/><path d="M103.2 496.3L104.3 497.9L103.2 499.5L102.1 497.9Z" fill="#2ca02c" fill-opacity="0.5" stroke="#2ca02c" stroke-opacity="0.9" stroke-width="0.6"/><path d="M105.7 494.7L106.8 496.3L105.7 497.8L104.6 496.3Z" fill="#2ca02c" fill-opacity="0.5" stroke="#2ca02c" stroke-opacity="0.9" stroke-width="0.6"/><path d="M108.2 493.3L109.3 494.8L108.2 496.4L107.1 494.8Z" fill="#2ca02c" fill-opacity="0.5" stroke="#2ca02c" stroke-opacity="0.9" stroke-width="0.6"/><path d="M110.7 492.5L111.7 494.1L110.7 495.6L109.6 494.1Z" fill="#2ca02c" fill-opacity="0.5" stroke="#2ca02c" stroke-opacity="0.9" stroke-width="0.6"/><path d="M113.2 491.7L114.2 493.3L113.2 494.9L112.1 493.3Z" fill="#2ca02c" fill-opacity="0.5" stroke="#2ca02c" stroke-opacity="0.9" stroke-width="0.6"/><path d="M115.7 491L116.7 492.5L115.7 494.1L114.6 492.5Z" fill="#2ca02c" fill-opacity="0.5" stroke="#2ca02c" stroke-opacity="0.9" stroke-width="0.6"/><path d="M118.2 490.2L119.2 491.8L118.2 493.3L117.1 491.8Z" fill="#2ca02c" fill-opacity="0.5" stroke="#2ca02c" stroke-opacity="0.9" stroke-width="0.6"/><path d="M120.6 489.1L121.7 490.7L120.6 492.2L119.6 490.7Z" fill="#2ca02c" fill-opacity="0.5" stroke="#2ca02c" stroke-opacity="0.9" stroke-width="0.6"/><path d="M123.1 487.9L124.2 489.4L123.1 491L122.1 489.4Z" fill="#2ca02c" fill-opacity="0.5" stroke="#2ca02c" stroke-opacity="0.9" stroke-width="0.6"/><path d="M125.6 486.8L126.7 488.4L125.6 489.9L124.6 488.4Z" fill="#2ca02c" fill-opacity="0.5" stroke="#2ca02c" stroke-opacity="0.9" stroke-width="0.6"/><path d="M128.1 486.6L129.2 488.2L128.1 489.7L127 488.2Z" fill="#2ca02c" fill-opacity="0.5" stroke="#2ca02c" stroke-opacity="0.9" stroke-width="0.6"/><path d="M130.6 486.2L131.7 487.8L130.6 489.3L129.5 487.8Z" fill="#2ca02c" fill-opacity="0.5" stroke="#2ca02c" stroke-opacity="0.9" stroke-width="0.6"/><path d="M133.1 485.2L134.2 486.8L133.1 488.3L132 486.8Z" fill="#2ca02c" fill-opacity="0.5" stroke="#2ca02c" stroke-opacity="0.9" stroke-width="0.6"/><path d="M135.6 484.2L136.6 485.8L135.6 487.3L134.5 485.8Z" fill="#2ca02c" fill-opacity="0.5" stroke="#2ca02c" stroke-opacity="0.9" stroke-width="0.6"/><path d="M138.1 483.2L139.1 484.8L138.1 486.3L137 484.8Z" fill="#2ca02c" fill-opacity="0.5" stroke="#2ca02c" stroke-opacity="0.9" stroke-width="0.6"/><path d="M140.6 482.2L141.6 483.8L140.6 485.3L139.5 483.8Z" fill="#2ca02c" fill-opacity="0.5" stroke="#2ca02c" stroke-opacity="0.9" stroke-width="0.6"/><path d="M143.1 481.2L144.1 482.8L143.1 484.3L142 482.8Z" fill="#2ca02c" fill-opacity="0.5" stroke="#2ca02c" stroke-opacity="0.9" stroke-width="0.6"/><path d="M145.5 480.3L146.6 481.8L145.5 483.4L144.5 481.8Z" fill="#2ca02c" fill-opacity="0.5" stroke="#2ca02c" stroke-opacity="0.9" stroke-width="0.6"/><path d="M148 479.4L149.1 480.9L148 482.5L147 480.9Z" fill="#2ca02c" fill-opacity="0.5" stroke="#2ca02c" stroke-opacity="0.9" stroke-width="0.6"/><path d="M150.5 478.5L151.6 480.1L150.5 481.6L149.5 480.1Z" fill="#2ca02c" fill-opacity="0.5" stroke="#2ca02c" stroke-opacity="0.9" stroke-width="0.6"/><path d="M153 477.8L154.1 479.3L153 480.9L151.9 479.3Z" fill="#2ca02c" fill-opacity="0.5" stroke="#2ca02c" stroke-opacity="0.9" stroke-width="0.6"/><path d="M155.5 477.1L156.6 478.6L155.5 480.2L154.4 478.6Z" fill="#2ca02c" fill-opacity="0.5" stroke="#2ca02c" stroke-opacity="0.9" stroke-width="0.6"/><path d="M158 476.3L159.1 477.9L158 479.5L156.9 477.9Z" fill="#2ca02c" fill-opacity="0.5" stroke="#2ca02c" stroke-opacity="0.9" stroke-width="0.6"/><path d="M160.5 475.6L161.5 477.1L160.5 478.7L159.4 477.1Z" fill="#2ca02c" fill-opacity="0.5" stroke="#2ca02c" stroke-opacity="0.9" stroke-width="0.6"/><path d="M163 474.8L164 476.4L163 477.9L161.9 476.4Z" fill="#2ca02c" fill-opacity="0.5" stroke="#2ca02c" stroke-opacity="0.9" stroke-width="0.6"/><path d="M165.5 474L166.5 475.6L165.5 477.2L164.4 475.6Z" fill="#2ca02c" fill-opacity="0.5" stroke="#2ca02c" stroke-opacity="0.9" stroke-width="0.6"/><path d="M168 473.3L169 474.8L168 476.4L166.9 474.8Z" fill="#2ca02c" fill-opacity="0.5" stroke="#2ca02c" stroke-opacity="0.9" stroke-width="0.6"/><path d="M170.4 472.5L171.5 474.1L170.4 475.6L169.4 474.1Z" fill="#2ca02c" fill-opacity="0.5" stroke="#2ca02c" stroke-opacity="0.9" stroke-width="0.6"/><path d="M172.9 471.6L174 473.2L172.9 474.7L171.9 473.2Z" fill="#2ca02c" fill-opacity="0.5" stroke="#2ca02c" stroke-opacity="0.9" stroke-width="0.6"/><path d="M175.4 470.4L176.5 472L175.4 473.6L174.4 472Z" fill="#2ca02c" fill-opacity="0.5" stroke="#2ca02c" stroke-opacity="0.9" stroke-width="0.6"/><path d="M177.9 469.3L179 470.8L177.9 472.4L176.8 470.8Z" fill="#2ca02c" fill-opacity="0.5" stroke="#2ca02c" stroke-opacity="0.9" stroke-width="0.6"/><path d="M180.4 468.5L181.5 470.1L180.4 471.6L179.3 470.1Z" fill="#2ca02c" fill-opacity="0.5" stroke="#2ca02c" stroke-opacity="0.9" stroke-width="0.6"/><path d="M182.9 467.7L184 469.3L182.9 470.9L181.8 469.3Z" fill="#2ca02c" fill-opacity="0.5" stroke="#2ca02c" stroke-opacity="0.9" stroke-width="0.6"/><path d="M185.4 467L186.4 468.5L185.4 470.1L184.3 468.5Z" fill="#2ca02c" fill-opacity="0.5" stroke="#2ca02c" stroke-opacity="0.9" stroke-width="0.6"/><path d="M187.9 466.2L188.9 467.8L187.9 469.3L186.8 467.8Z" fill="#2ca02c" fill-opacity="0.5" stroke="#2ca02c" stroke-opacity="0.9" stroke-width="0.6"/><path d="M190.4 465.5L191.4 467L190.4 468.6L189.3 467Z" fill="#2ca02c" fill-opacity="0.5" stroke="#2ca02c" stroke-opacity="0.9" stroke-width="0.6"/><path d="M192.8 464.7L193.9 466.3L192.8 467.8L191.8 466.3Z" fill="#2ca02c" fill-opacity="0.5" stroke="#2ca02c" stroke-opacity="0.9" stroke-width="0.6"/><path d="M195.3 464L196.4 465.5L195.3 467.1L194.3 465.5Z" fill="#2ca02c" fill-opacity="0.5" stroke="#2ca02c" stroke-opacity="0.9" stroke-width="0.6"/><path d="M197.8 463.3L198.9 464.8L197.8 466.4L196.8 464.8Z" fill="#2ca02c" fill-opacity="0.5" stroke="#2ca02c" stroke-opacity="0.9" stroke-width="0.6"/><path d="M200.3 462.5L201.4 464L200.3 465.6L199.3 464Z" fill="#2ca02c" fill-opacity="0.5" stroke="#2ca02c" stroke-opacity="0.9" stroke-width="0.6"/><path d="M202.8 461.2L203.9 462.8L202.8 464.3L201.7 462.8Z" fill="#2ca02c" fill-opacity="0.5" stroke="#2ca02c" stroke-opacity="0.9" stroke-width="0.6"/><path d="M205.3 459.9L206.4 461.5L205.3 463L204.2 461.5Z" fill="#2ca02c" fill-opacity="0.5" stroke="#2ca02c" stroke-opacity="0.9" stroke-width="0.6"/><path d="M207.8 458.6L208.9 460.2L207.8 461.8L206.7 460.2Z" fill="#2ca02c" fill-opacity="0.5" stroke="#2ca02c" stroke-opacity="0.9" stroke-width="0.6"/><path d="M210.3 457.4L211.3 458.9L210.3 460.5L209.2 458.9Z" fill="#2ca02c" fill-opacity="0.5" stroke="#2ca02c" stroke-opacity="0.9" stroke-width="0.6"/><path d="M212.8 456.1L213.8 457.7L212.8 459.2L211.7 457.7Z" fill="#2ca02c" fill-opacity="0.5" stroke="#2ca02c" stroke-opacity="0.9" stroke-width="0.6"/><path d="M215.3 454.8L216.3 456.4L215.3 457.9L214.2 456.4Z" fill="#2ca02c" fill-opacity="0.5" stroke="#2ca02c" stroke-opacity="0.9" stroke-width="0.6"/><path d="M217.8 453.6L218.8 455.2L217.8 456.7L216.7 455.2Z" fill="#2ca02c" fill-opacity="0.5" stroke="#2ca02c" stroke-opacity="0.9" stroke-width="0.6"/><path d="M220.2 452.4L221.3 454L220.2 455.6L219.2 454Z" fill="#2ca02c" fill-opacity="0.5" stroke="#2ca02c" stroke-opacity="0.9" stroke-width="0.6"/><path d="M222.7 451.5L223.8 453.1L222.7 454.6L221.7 453.1Z" fill="#2ca02c" fill-opacity="0.5" stroke="#2ca02c" stroke-opacity="0.9" stroke-width="0.6"/><path d="M225.2 451.1L226.3 452.6L225.2 454.2L224.2 452.6Z" fill="#2ca02c" fill-opacity="0.5" stroke="#2ca02c" stroke-opacity="0.9" stroke-width="0.6"/><path d="M227.7 450.7L228.8 452.2L227.7 453.8L226.6 452.2Z" fill="#2ca02c" fill-opacity="0.5" stroke="#2ca02c" stroke-opacity="0.9" stroke-width="0.6"/><path d="M230.2 450.2L231.3 451.8L230.2 453.4L229.1 451.8Z" fill="#2ca02c" fill-opacity="0.5" stroke="#2ca02c" stroke-opacity="0.9" stroke-width="0.6"/><path d="M232.7 449.8L233.8 451.4L232.7 453L231.6 451.4Z" fill="#2ca02c" fill-opacity="0.5" stroke="#2ca02c" stroke-opacity="0.9" stroke-width="0.6"/><path d="M235.2 449.4L236.2 451L235.2 452.5L234.1 451Z" fill="#2ca02c" fill-opacity="0.5" stroke="#2ca02c" stroke-opacity="0.9" stroke-width="0.6"/><path d="M237.7 449L238.7 450.6L237.7 452.1L236.6 450.6Z" fill="#2ca02c" fill-opacity="0.5" stroke="#2ca02c" stroke-opacity="0.9" stroke-width="0.6"/><path d="M240.2 448.4L241.2 450L240.2 451.5L239.1 450Z" fill="#2ca02c" fill-opacity="0.5" stroke="#2ca02c" stroke-opacity="0.9" stroke-width="0.6"/><path d="M242.7 447.8L243.7 449.3L242.7 450.9L241.6 449.3Z" fill="#2ca02c" fill-opacity="0.5" stroke="#2ca02c" stroke-opacity="0.9" stroke-width="0.6"/><path d="M245.1 447.2L246.2 448.7L245.1 450.3L244.1 448.7Z" fill="#2ca02c" fill-opacity="0.5" stroke="#2ca02c" stroke-opacity="0.9" stroke-width="0.6"/><path d="M247.6 446.5L248.7 448.1L247.6 449.7L246.6 448.1Z" fill="#2ca02c" fill-opacity="0.5" stroke="#2ca02c" stroke-opacity="0.9" stroke-width="0.6"/><path d="M250.1 445.9L251.2 447.5L250.1 449L249.1 447.5Z" fill="#2ca02c" fill-opacity="0.5" stroke="#2ca02c" stroke-opacity="0.9" stroke-width="0.6"/><path d="M252.6 445.3L253.7 446.8L252.6 448.4L251.5 446.8Z" fill="#2ca02c" fill-opacity="0.5" stroke="#2ca02c" stroke-opacity="0.9" stroke-width="0.6"/><path d="M255.1 444.7L256.2 446.2L255.1 447.8L254 446.2Z" fill="#2ca02c" fill-opacity="0.5" stroke="#2ca02c" stroke-opacity="0.9" stroke-width="0.6"/><path d="M257.6 444L258.7 445.6L257.6 447.2L256.5 445.6Z" fill="#2ca02c" fill-opacity="0.5" stroke="#2ca02c" stroke-opacity="0.9" stroke-width="0.6"/><path d="M260.1 443.4L261.1 445L260.1 446.5L259 445Z" fill="#2ca02c" fill-opacity="0.5" stroke="#2ca02c" stroke-opacity="0.9" stroke-width="0.6"/><path d="M262.6 442.6L263.6 444.2L262.6 445.8L261.5 444.2Z" fill="#2ca02c" fill-opacity="0.5" stroke="#2ca02c" stroke-opacity="0.9" stroke-width="0.6"/><path d="M265.1 441.8L266.1 443.4L265.1 445L264 443.4Z" fill="#2ca02c" fill-opacity="0.5" stroke="#2ca02c" stroke-opacity="0.9" stroke-width="0.6"/><path d="M267.6 441.1L268.6 442.6L267.6 444.2L266.5 442.6Z" fill="#2ca02c" fill-opacity="0.5" stroke="#2ca02c" stroke-opacity="0.9" stroke-width="0.6"/><path d="M270 440.3L271.1 441.8L270 443.4L269 441.8Z" fill="#2ca02c" fill-opacity="0.5" stroke="#2ca02c" stroke-opacity="0.9" stroke-width="0.6"/><path d="M272.5 439.5L273.6 441.1L272.5 442.6L271.5 441.1Z" fill="#2ca02c" fill-opacity="0.5" stroke="#2ca02c" stroke-opacity="0.9" stroke-width="0.6"/><path d="M275 438.7L276.1 440.3L275 441.8L274 440.3Z" fill="#2ca02c" fill-opacity="0.5" stroke="#2ca02c" stroke-opacity="0.9" stroke-width="0.6"/><path d="M277.5 437.9L278.6 439.5L277.5 441.1L276.4 439.5Z" fill="#2ca02c" fill-opacity="0.5" stroke="#2ca02c" stroke-opacity="0.9" stroke-width="0.6"/>
</g>
<rect x="21.3" y="349.4" width="267.7" height="266" fill="none" stroke="#262626" stroke-width="1.1"/>
<line x1="31" y1="615.4" x2="31" y2="617.4" stroke="#262626" stroke-width="0.9"/>
<text x="31" y="622.5" font-size="5.2" text-anchor="middle" fill="#333">0.0</text>
<line x1="80.8" y1="615.4" x2="80.8" y2="617.4" stroke="#262626" stroke-width="0.9"/>
<text x="80.8" y="622.5" font-size="5.2" text-anchor="middle" fill="#333">0.2</text>
<line x1="130.6" y1="615.4" x2="130.6" y2="617.4" stroke="#262626" stroke-width="0.9"/>
<text x="130.6" y="622.5" font-size="5.2" text-anchor="middle" fill="#333">0.4</text>
<line x1="180.4" y1="615.4" x2="180.4" y2="617.4" stroke="#262626" stroke-width="0.9"/>
<text x="180.4" y="622.5" font-size="5.2" text-anchor="middle" fill="#333">0.6</text>
<line x1="230.2" y1="615.4" x2="230.2" y2="617.4" stroke="#262626" stroke-width="0.9"/>
<text x="230.2" y="622.5" font-size="5.2" text-anchor="middle" fill="#333">0.8</text>
<line x1="280" y1="615.4" x2="280" y2="617.4" stroke="#262626" stroke-width="0.9"/>
<text x="280" y="622.5" font-size="5.2" text-anchor="middle" fill="#333">1.0</text>
<line x1="19.3" y1="615.4" x2="21.3" y2="615.4" stroke="#262626" stroke-width="0.9"/>
<text x="17.8" y="618.2" font-size="5.2" text-anchor="end" fill="#333">0.0</text>
<line x1="19.3" y1="562.2" x2="21.3" y2="562.2" stroke="#262626" stroke-width="0.9"/>
<text x="17.8" y="565" font-size="5.2" text-anchor="end" fill="#333">0.2</text>
<line x1="19.3" y1="509" x2="21.3" y2="509" stroke="#262626" stroke-width="0.9"/>
<text x="17.8" y="511.8" font-size="5.2" text-anchor="end" fill="#333">0.4</text>
<line x1="19.3" y1="455.8" x2="21.3" y2="455.8" stroke="#262626" stroke-width="0.9"/>
<text x="17.8" y="458.6" font-size="5.2" text-anchor="end" fill="#333">0.6</text>
<line x1="19.3" y1="402.6" x2="21.3" y2="402.6" stroke="#262626" stroke-width="0.9"/>
<text x="17.8" y="405.4" font-size="5.2" text-anchor="end" fill="#333">0.8</text>
<line x1="19.3" y1="349.4" x2="21.3" y2="349.4" stroke="#262626" stroke-width="0.9"/>
<text x="17.8" y="352.2" font-size="5.2" text-anchor="end" fill="#333">1.0</text>
<clipPath id="cBR"><rect x="372.3" y="349.4" width="266.90000000000003" height="265.80000000000007"/></clipPath>
<line x1="412.4" y1="349.4" x2="412.4" y2="615.2" class="g"/>
<line x1="453.6" y1="349.4" x2="453.6" y2="615.2" class="g"/>
<line x1="494.8" y1="349.4" x2="494.8" y2="615.2" class="g"/>
<line x1="536" y1="349.4" x2="536" y2="615.2" class="g"/>
<line x1="577.2" y1="349.4" x2="577.2" y2="615.2" class="g"/>
<line x1="618.4" y1="349.4" x2="618.4" y2="615.2" class="g"/>
<line x1="372.3" y1="586.6" x2="639.2" y2="586.6" class="g"/>
<line x1="372.3" y1="550.9" x2="639.2" y2="550.9" class="g"/>
<line x1="372.3" y1="515.1" x2="639.2" y2="515.1" class="g"/>
<line x1="372.3" y1="479.4" x2="639.2" y2="479.4" class="g"/>
<line x1="372.3" y1="443.6" x2="639.2" y2="443.6" class="g"/>
<line x1="372.3" y1="407.9" x2="639.2" y2="407.9" class="g"/>
<line x1="372.3" y1="372.1" x2="639.2" y2="372.1" class="g"/>
<g clip-path="url(#cBR)">
<polyline points="383.1,602.3 390,598.1 397.5,594.4 405,591.9 412.5,587.8 420,584 425,579.4 431.3,574.4 437.5,569.4 445,566 457.6,560.8 470.1,555.2 482.7,548.9 495.3,542.6 507.8,536.3 516.3,531 525.1,524.1 532.7,517.8 540.2,510.3 547.7,502.1 555.3,494.6 562.8,487.7 567.8,480.2" fill="none" stroke="#000000" stroke-width="1.1" stroke-linejoin="round" stroke-opacity="0.85"/>
<path d="M381.8 601L384.4 603.6M381.8 603.6L384.4 601" stroke="#000000" stroke-opacity="0.9" stroke-width="0.8"/><path d="M382.7 600.5L385.3 603.1M382.7 603.1L385.3 600.5" stroke="#000000" stroke-opacity="0.9" stroke-width="0.8"/><path d="M383.5 600L386.1 602.6M383.5 602.6L386.1 600" stroke="#000000" stroke-opacity="0.9" stroke-width="0.8"/><path d="M384.4 599.4L387 602M384.4 602L387 599.4" stroke="#000000" stroke-opacity="0.9" stroke-width="0.8"/><path d="M385.2 598.9L387.8 601.5M385.2 601.5L387.8 598.9" stroke="#000000" stroke-opacity="0.9" stroke-width="0.8"/><path d="M386.1 598.4L388.7 601M386.1 601L388.7 598.4" stroke="#000000" stroke-opacity="0.9" stroke-width="0.8"/><path d="M387 597.8L389.6 600.4M387 600.4L389.6 597.8" stroke="#000000" stroke-opacity="0.9" stroke-width="0.8"/><path d="M387.9 597.3L390.5 599.9M387.9 599.9L390.5 597.3" stroke="#000000" stroke-opacity="0.9" stroke-width="0.8"/><path d="M388.8 596.8L391.4 599.4M388.8 599.4L391.4 596.8" stroke="#000000" stroke-opacity="0.9" stroke-width="0.8"/><path d="M389.7 596.3L392.3 598.9M389.7 598.9L392.3 596.3" stroke="#000000" stroke-opacity="0.9" stroke-width="0.8"/><path d="M390.6 595.8L393.2 598.4M390.6 598.4L393.2 595.8" stroke="#000000" stroke-opacity="0.9" stroke-width="0.8"/><path d="M391.6 595.4L394.2 598M391.6 598L394.2 595.4" stroke="#000000" stroke-opacity="0.9" stroke-width="0.8"/><path d="M392.5 594.9L395.1 597.5M392.5 597.5L395.1 594.9" stroke="#000000" stroke-opacity="0.9" stroke-width="0.8"/><path d="M393.5 594.4L396.1 597M393.5 597L396.1 594.4" stroke="#000000" stroke-opacity="0.9" stroke-width="0.8"/><path d="M394.5 594L397.1 596.6M394.5 596.6L397.1 594" stroke="#000000" stroke-opacity="0.9" stroke-width="0.8"/><path d="M395.4 593.5L398 596.1M395.4 596.1L398 593.5" stroke="#000000" stroke-opacity="0.9" stroke-width="0.8"/><path d="M396.4 593L399 595.6M396.4 595.6L399 593" stroke="#000000" stroke-opacity="0.9" stroke-width="0.8"/><path d="M397.4 592.7L400 595.3M397.4 595.3L400 592.7" stroke="#000000" stroke-opacity="0.9" stroke-width="0.8"/><path d="M398.5 592.3L401.1 594.9M398.5 594.9L401.1 592.3" stroke="#000000" stroke-opacity="0.9" stroke-width="0.8"/><path d="M399.5 592L402.1 594.6M399.5 594.6L402.1 592" stroke="#000000" stroke-opacity="0.9" stroke-width="0.8"/><path d="M400.6 591.6L403.2 594.2M400.6 594.2L403.2 591.6" stroke="#000000" stroke-opacity="0.9" stroke-width="0.8"/><path d="M401.6 591.3L404.2 593.9M401.6 593.9L404.2 591.3" stroke="#000000" stroke-opacity="0.9" stroke-width="0.8"/><path d="M402.7 590.9L405.3 593.5M402.7 593.5L405.3 590.9" stroke="#000000" stroke-opacity="0.9" stroke-width="0.8"/><path d="M403.8 590.6L406.4 593.2M403.8 593.2L406.4 590.6" stroke="#000000" stroke-opacity="0.9" stroke-width="0.8"/><path d="M404.8 590L407.4 592.6M404.8 592.6L407.4 590" stroke="#000000" stroke-opacity="0.9" stroke-width="0.8"/><path d="M405.8 589.5L408.4 592.1M405.8 592.1L408.4 589.5" stroke="#000000" stroke-opacity="0.9" stroke-width="0.8"/><path d="M406.8 588.9L409.4 591.5M406.8 591.5L409.4 588.9" stroke="#000000" stroke-opacity="0.9" stroke-width="0.8"/><path d="M407.8 588.4L410.4 591M407.8 591L410.4 588.4" stroke="#000000" stroke-opacity="0.9" stroke-width="0.8"/><path d="M408.8 587.8L411.4 590.4M408.8 590.4L411.4 587.8" stroke="#000000" stroke-opacity="0.9" stroke-width="0.8"/><path d="M409.8 587.3L412.4 589.9M409.8 589.9L412.4 587.3" stroke="#000000" stroke-opacity="0.9" stroke-width="0.8"/><path d="M410.9 586.7L413.5 589.3M410.9 589.3L413.5 586.7" stroke="#000000" stroke-opacity="0.9" stroke-width="0.8"/><path d="M411.9 586.1L414.5 588.7M411.9 588.7L414.5 586.1" stroke="#000000" stroke-opacity="0.9" stroke-width="0.8"/><path d="M413 585.6L415.6 588.2M413 588.2L415.6 585.6" stroke="#000000" stroke-opacity="0.9" stroke-width="0.8"/><path d="M414 585.1L416.6 587.7M414 587.7L416.6 585.1" stroke="#000000" stroke-opacity="0.9" stroke-width="0.8"/><path d="M415.1 584.5L417.7 587.1M415.1 587.1L417.7 584.5" stroke="#000000" stroke-opacity="0.9" stroke-width="0.8"/><path d="M416.2 584L418.8 586.6M416.2 586.6L418.8 584" stroke="#000000" stroke-opacity="0.9" stroke-width="0.8"/><path d="M417.2 583.4L419.8 586M417.2 586L419.8 583.4" stroke="#000000" stroke-opacity="0.9" stroke-width="0.8"/><path d="M418.3 582.9L420.9 585.5M418.3 585.5L420.9 582.9" stroke="#000000" stroke-opacity="0.9" stroke-width="0.8"/><path d="M419.3 582.2L421.9 584.8M419.3 584.8L421.9 582.2" stroke="#000000" stroke-opacity="0.9" stroke-width="0.8"/><path d="M420.2 581.3L422.8 583.9M420.2 583.9L422.8 581.3" stroke="#000000" stroke-opacity="0.9" stroke-width="0.8"/><path d="M421.1 580.5L423.7 583.1M421.1 583.1L423.7 580.5" stroke="#000000" stroke-opacity="0.9" stroke-width="0.8"/><path d="M422 579.6L424.6 582.2M422 582.2L424.6 579.6" stroke="#000000" stroke-opacity="0.9" stroke-width="0.8"/><path d="M422.9 578.8L425.5 581.4M422.9 581.4L425.5 578.8" stroke="#000000" stroke-opacity="0.9" stroke-width="0.8"/><path d="M423.9 578L426.5 580.6M423.9 580.6L426.5 578" stroke="#000000" stroke-opacity="0.9" stroke-width="0.8"/><path d="M424.9 577.2L427.5 579.8M424.9 579.8L427.5 577.2" stroke="#000000" stroke-opacity="0.9" stroke-width="0.8"/><path d="M425.8 576.4L428.4 579M425.8 579L428.4 576.4" stroke="#000000" stroke-opacity="0.9" stroke-width="0.8"/><path d="M426.8 575.6L429.4 578.2M426.8 578.2L429.4 575.6" stroke="#000000" stroke-opacity="0.9" stroke-width="0.8"/><path d="M427.8 574.8L430.4 577.4M427.8 577.4L430.4 574.8" stroke="#000000" stroke-opacity="0.9" stroke-width="0.8"/><path d="M428.8 574L431.4 576.6M428.8 576.6L431.4 574" stroke="#000000" stroke-opacity="0.9" stroke-width="0.8"/><path d="M429.9 573.2L432.5 575.8M429.9 575.8L432.5 573.2" stroke="#000000" stroke-opacity="0.9" stroke-width="0.8"/><path d="M430.9 572.4L433.5 575M430.9 575L433.5 572.4" stroke="#000000" stroke-opacity="0.9" stroke-width="0.8"/><path d="M431.9 571.6L434.5 574.2M431.9 574.2L434.5 571.6" stroke="#000000" stroke-opacity="0.9" stroke-width="0.8"/><path d="M433 570.7L435.6 573.3M433 573.3L435.6 570.7" stroke="#000000" stroke-opacity="0.9" stroke-width="0.8"/><path d="M434.3 569.6L436.9 572.2M434.3 572.2L436.9 569.6" stroke="#000000" stroke-opacity="0.9" stroke-width="0.8"/><path d="M435.7 568.5L438.3 571.1M435.7 571.1L438.3 568.5" stroke="#000000" stroke-opacity="0.9" stroke-width="0.8"/><path d="M437.3 567.6L439.9 570.2M437.3 570.2L439.9 567.6" stroke="#000000" stroke-opacity="0.9" stroke-width="0.8"/><path d="M439.3 566.7L441.9 569.3M439.3 569.3L441.9 566.7" stroke="#000000" stroke-opacity="0.9" stroke-width="0.8"/><path d="M441.5 565.7L444.1 568.3M441.5 568.3L444.1 565.7" stroke="#000000" stroke-opacity="0.9" stroke-width="0.8"/><path d="M444 564.6L446.6 567.2M444 567.2L446.6 564.6" stroke="#000000" stroke-opacity="0.9" stroke-width="0.8"/><path d="M446.8 563.4L449.4 566M446.8 566L449.4 563.4" stroke="#000000" stroke-opacity="0.9" stroke-width="0.8"/><path d="M449.5 562.3L452.1 564.9M449.5 564.9L452.1 562.3" stroke="#000000" stroke-opacity="0.9" stroke-width="0.8"/><path d="M452.3 561.1L454.9 563.7M452.3 563.7L454.9 561.1" stroke="#000000" stroke-opacity="0.9" stroke-width="0.8"/><path d="M455.1 560L457.7 562.6M455.1 562.6L457.7 560" stroke="#000000" stroke-opacity="0.9" stroke-width="0.8"/><path d="M457.9 558.8L460.5 561.4M457.9 561.4L460.5 558.8" stroke="#000000" stroke-opacity="0.9" stroke-width="0.8"/><path d="M460.6 557.6L463.2 560.2M460.6 560.2L463.2 557.6" stroke="#000000" stroke-opacity="0.9" stroke-width="0.8"/><path d="M463.4 556.3L466 558.9M463.4 558.9L466 556.3" stroke="#000000" stroke-opacity="0.9" stroke-width="0.8"/><path d="M466.2 555.1L468.8 557.7M466.2 557.7L468.8 555.1" stroke="#000000" stroke-opacity="0.9" stroke-width="0.8"/><path d="M468.9 553.8L471.5 556.4M468.9 556.4L471.5 553.8" stroke="#000000" stroke-opacity="0.9" stroke-width="0.8"/><path d="M471.7 552.5L474.3 555.1M471.7 555.1L474.3 552.5" stroke="#000000" stroke-opacity="0.9" stroke-width="0.8"/><path d="M474.4 551.1L477 553.7M474.4 553.7L477 551.1" stroke="#000000" stroke-opacity="0.9" stroke-width="0.8"/><path d="M477.1 549.7L479.7 552.3M477.1 552.3L479.7 549.7" stroke="#000000" stroke-opacity="0.9" stroke-width="0.8"/><path d="M479.9 548.4L482.5 551M479.9 551L482.5 548.4" stroke="#000000" stroke-opacity="0.9" stroke-width="0.8"/><path d="M482.6 547L485.2 549.6M482.6 549.6L485.2 547" stroke="#000000" stroke-opacity="0.9" stroke-width="0.8"/><path d="M485.3 545.6L487.9 548.2M485.3 548.2L487.9 545.6" stroke="#000000" stroke-opacity="0.9" stroke-width="0.8"/><path d="M488.1 544.3L490.7 546.9M488.1 546.9L490.7 544.3" stroke="#000000" stroke-opacity="0.9" stroke-width="0.8"/><path d="M490.8 542.9L493.4 545.5M490.8 545.5L493.4 542.9" stroke="#000000" stroke-opacity="0.9" stroke-width="0.8"/><path d="M493.6 541.5L496.2 544.1M493.6 544.1L496.2 541.5" stroke="#000000" stroke-opacity="0.9" stroke-width="0.8"/><path d="M496.3 540.1L498.9 542.7M496.3 542.7L498.9 540.1" stroke="#000000" stroke-opacity="0.9" stroke-width="0.8"/><path d="M499.1 538.7L501.7 541.3M499.1 541.3L501.7 538.7" stroke="#000000" stroke-opacity="0.9" stroke-width="0.8"/><path d="M501.8 537.3L504.4 539.9M501.8 539.9L504.4 537.3" stroke="#000000" stroke-opacity="0.9" stroke-width="0.8"/><path d="M504.6 536L507.2 538.6M504.6 538.6L507.2 536" stroke="#000000" stroke-opacity="0.9" stroke-width="0.8"/><path d="M507.3 534.5L509.9 537.1M507.3 537.1L509.9 534.5" stroke="#000000" stroke-opacity="0.9" stroke-width="0.8"/><path d="M510 532.8L512.6 535.4M510 535.4L512.6 532.8" stroke="#000000" stroke-opacity="0.9" stroke-width="0.8"/><path d="M512.6 531.2L515.2 533.8M512.6 533.8L515.2 531.2" stroke="#000000" stroke-opacity="0.9" stroke-width="0.8"/><path d="M515.2 529.5L517.8 532.1M515.2 532.1L517.8 529.5" stroke="#000000" stroke-opacity="0.9" stroke-width="0.8"/><path d="M517.7 527.6L520.3 530.2M517.7 530.2L520.3 527.6" stroke="#000000" stroke-opacity="0.9" stroke-width="0.8"/><path d="M520.1 525.7L522.7 528.3M520.1 528.3L522.7 525.7" stroke="#000000" stroke-opacity="0.9" stroke-width="0.8"/><path d="M522.6 523.7L525.2 526.3M522.6 526.3L525.2 523.7" stroke="#000000" stroke-opacity="0.9" stroke-width="0.8"/><path d="M525 521.8L527.6 524.4M525 524.4L527.6 521.8" stroke="#000000" stroke-opacity="0.9" stroke-width="0.8"/><path d="M527.4 519.8L530 522.4M527.4 522.4L530 519.8" stroke="#000000" stroke-opacity="0.9" stroke-width="0.8"/><path d="M529.9 517.8L532.5 520.4M529.9 520.4L532.5 517.8" stroke="#000000" stroke-opacity="0.9" stroke-width="0.8"/><path d="M532.2 515.7L534.8 518.3M532.2 518.3L534.8 515.7" stroke="#000000" stroke-opacity="0.9" stroke-width="0.8"/><path d="M534.4 513.5L537 516.1M534.4 516.1L537 513.5" stroke="#000000" stroke-opacity="0.9" stroke-width="0.8"/><path d="M536.7 511.2L539.3 513.8M536.7 513.8L539.3 511.2" stroke="#000000" stroke-opacity="0.9" stroke-width="0.8"/><path d="M538.9 509L541.5 511.6M538.9 511.6L541.5 509" stroke="#000000" stroke-opacity="0.9" stroke-width="0.8"/><path d="M541 506.7L543.6 509.3M541 509.3L543.6 506.7" stroke="#000000" stroke-opacity="0.9" stroke-width="0.8"/><path d="M543.1 504.4L545.7 507M543.1 507L545.7 504.4" stroke="#000000" stroke-opacity="0.9" stroke-width="0.8"/><path d="M545.3 502L547.9 504.6M545.3 504.6L547.9 502" stroke="#000000" stroke-opacity="0.9" stroke-width="0.8"/><path d="M547.5 499.7L550.1 502.3M547.5 502.3L550.1 499.7" stroke="#000000" stroke-opacity="0.9" stroke-width="0.8"/><path d="M549.7 497.5L552.3 500.1M549.7 500.1L552.3 497.5" stroke="#000000" stroke-opacity="0.9" stroke-width="0.8"/><path d="M552 495.3L554.6 497.9M552 497.9L554.6 495.3" stroke="#000000" stroke-opacity="0.9" stroke-width="0.8"/><path d="M554.3 493.1L556.9 495.7M554.3 495.7L556.9 493.1" stroke="#000000" stroke-opacity="0.9" stroke-width="0.8"/><path d="M556.6 490.9L559.2 493.5M556.6 493.5L559.2 490.9" stroke="#000000" stroke-opacity="0.9" stroke-width="0.8"/><path d="M558.9 488.8L561.5 491.4M558.9 491.4L561.5 488.8" stroke="#000000" stroke-opacity="0.9" stroke-width="0.8"/><path d="M561.3 486.6L563.9 489.2M561.3 489.2L563.9 486.6" stroke="#000000" stroke-opacity="0.9" stroke-width="0.8"/><path d="M563.1 484L565.7 486.6M563.1 486.6L565.7 484" stroke="#000000" stroke-opacity="0.9" stroke-width="0.8"/><path d="M564.9 481.3L567.5 483.9M564.9 483.9L567.5 481.3" stroke="#000000" stroke-opacity="0.9" stroke-width="0.8"/>
<polyline points="424.4,572.5 435,565.6 444.4,560.6 452.5,552.7 458.8,547.6 465.1,542 470.1,541.4 476.4,537 485.2,532.6 492.7,528.2 500,521 512.6,507.8 525.1,497.7 535.2,487.7 544,481.4 552.8,471.4 560.3,462.6 568.8,452.8 577.6,441.5 585.1,433.9 592.7,425.1 601.5,420.1 610.3,413.8 617.8,412.6 619,406.3 621.6,401.9 622.7,399.3" fill="none" stroke="#ff7f0e" stroke-width="0.9" stroke-linejoin="round" stroke-opacity="0.85"/>
<rect x="422.9" y="571" width="3" height="3" fill="#ff7f0e" fill-opacity="0.25" stroke="#ff7f0e" stroke-opacity="0.8" stroke-width="0.6"/><rect x="427.9" y="567.7" width="3" height="3" fill="#ff7f0e" fill-opacity="0.25" stroke="#ff7f0e" stroke-opacity="0.8" stroke-width="0.6"/><rect x="432.7" y="564.6" width="3" height="3" fill="#ff7f0e" fill-opacity="0.25" stroke="#ff7f0e" stroke-opacity="0.8" stroke-width="0.6"/><rect x="437.6" y="561.9" width="3" height="3" fill="#ff7f0e" fill-opacity="0.25" stroke="#ff7f0e" stroke-opacity="0.8" stroke-width="0.6"/><rect x="442.3" y="559.4" width="3" height="3" fill="#ff7f0e" fill-opacity="0.25" stroke="#ff7f0e" stroke-opacity="0.8" stroke-width="0.6"/><rect x="446.1" y="556" width="3" height="3" fill="#ff7f0e" fill-opacity="0.25" stroke="#ff7f0e" stroke-opacity="0.8" stroke-width="0.6"/><rect x="449.7" y="552.5" width="3" height="3" fill="#ff7f0e" fill-opacity="0.25" stroke="#ff7f0e" stroke-opacity="0.8" stroke-width="0.6"/><rect x="453.3" y="549.3" width="3" height="3" fill="#ff7f0e" fill-opacity="0.25" stroke="#ff7f0e" stroke-opacity="0.8" stroke-width="0.6"/><rect x="456.9" y="546.4" width="3" height="3" fill="#ff7f0e" fill-opacity="0.25" stroke="#ff7f0e" stroke-opacity="0.8" stroke-width="0.6"/><rect x="460.3" y="543.4" width="3" height="3" fill="#ff7f0e" fill-opacity="0.25" stroke="#ff7f0e" stroke-opacity="0.8" stroke-width="0.6"/><rect x="463.6" y="540.5" width="3" height="3" fill="#ff7f0e" fill-opacity="0.25" stroke="#ff7f0e" stroke-opacity="0.8" stroke-width="0.6"/><rect x="467.7" y="540" width="3" height="3" fill="#ff7f0e" fill-opacity="0.25" stroke="#ff7f0e" stroke-opacity="0.8" stroke-width="0.6"/><rect x="471.2" y="538.1" width="3" height="3" fill="#ff7f0e" fill-opacity="0.25" stroke="#ff7f0e" stroke-opacity="0.8" stroke-width="0.6"/><rect x="474.3" y="535.9" width="3" height="3" fill="#ff7f0e" fill-opacity="0.25" stroke="#ff7f0e" stroke-opacity="0.8" stroke-width="0.6"/><rect x="477.6" y="534.2" width="3" height="3" fill="#ff7f0e" fill-opacity="0.25" stroke="#ff7f0e" stroke-opacity="0.8" stroke-width="0.6"/><rect x="480.6" y="532.6" width="3" height="3" fill="#ff7f0e" fill-opacity="0.25" stroke="#ff7f0e" stroke-opacity="0.8" stroke-width="0.6"/><rect x="483.6" y="531.2" width="3" height="3" fill="#ff7f0e" fill-opacity="0.25" stroke="#ff7f0e" stroke-opacity="0.8" stroke-width="0.6"/><rect x="486.2" y="529.6" width="3" height="3" fill="#ff7f0e" fill-opacity="0.25" stroke="#ff7f0e" stroke-opacity="0.8" stroke-width="0.6"/><rect x="488.8" y="528.1" width="3" height="3" fill="#ff7f0e" fill-opacity="0.25" stroke="#ff7f0e" stroke-opacity="0.8" stroke-width="0.6"/><rect x="491.2" y="526.7" width="3" height="3" fill="#ff7f0e" fill-opacity="0.25" stroke="#ff7f0e" stroke-opacity="0.8" stroke-width="0.6"/><rect x="493.1" y="524.9" width="3" height="3" fill="#ff7f0e" fill-opacity="0.25" stroke="#ff7f0e" stroke-opacity="0.8" stroke-width="0.6"/><rect x="494.9" y="523.1" width="3" height="3" fill="#ff7f0e" fill-opacity="0.25" stroke="#ff7f0e" stroke-opacity="0.8" stroke-width="0.6"/><rect x="496.6" y="521.4" width="3" height="3" fill="#ff7f0e" fill-opacity="0.25" stroke="#ff7f0e" stroke-opacity="0.8" stroke-width="0.6"/><rect x="498.2" y="519.8" width="3" height="3" fill="#ff7f0e" fill-opacity="0.25" stroke="#ff7f0e" stroke-opacity="0.8" stroke-width="0.6"/><rect x="499.8" y="518.2" width="3" height="3" fill="#ff7f0e" fill-opacity="0.25" stroke="#ff7f0e" stroke-opacity="0.8" stroke-width="0.6"/><rect x="501.3" y="516.6" width="3" height="3" fill="#ff7f0e" fill-opacity="0.25" stroke="#ff7f0e" stroke-opacity="0.8" stroke-width="0.6"/><rect x="502.8" y="515" width="3" height="3" fill="#ff7f0e" fill-opacity="0.25" stroke="#ff7f0e" stroke-opacity="0.8" stroke-width="0.6"/><rect x="504.3" y="513.4" width="3" height="3" fill="#ff7f0e" fill-opacity="0.25" stroke="#ff7f0e" stroke-opacity="0.8" stroke-width="0.6"/><rect x="505.8" y="511.9" width="3" height="3" fill="#ff7f0e" fill-opacity="0.25" stroke="#ff7f0e" stroke-opacity="0.8" stroke-width="0.6"/><rect x="507.3" y="510.3" width="3" height="3" fill="#ff7f0e" fill-opacity="0.25" stroke="#ff7f0e" stroke-opacity="0.8" stroke-width="0.6"/><rect x="508.8" y="508.7" width="3" height="3" fill="#ff7f0e" fill-opacity="0.25" stroke="#ff7f0e" stroke-opacity="0.8" stroke-width="0.6"/><rect x="510.3" y="507.2" width="3" height="3" fill="#ff7f0e" fill-opacity="0.25" stroke="#ff7f0e" stroke-opacity="0.8" stroke-width="0.6"/><rect x="511.8" y="505.7" width="3" height="3" fill="#ff7f0e" fill-opacity="0.25" stroke="#ff7f0e" stroke-opacity="0.8" stroke-width="0.6"/><rect x="513.5" y="504.4" width="3" height="3" fill="#ff7f0e" fill-opacity="0.25" stroke="#ff7f0e" stroke-opacity="0.8" stroke-width="0.6"/><rect x="515.1" y="503" width="3" height="3" fill="#ff7f0e" fill-opacity="0.25" stroke="#ff7f0e" stroke-opacity="0.8" stroke-width="0.6"/><rect x="516.8" y="501.7" width="3" height="3" fill="#ff7f0e" fill-opacity="0.25" stroke="#ff7f0e" stroke-opacity="0.8" stroke-width="0.6"/><rect x="518.4" y="500.4" width="3" height="3" fill="#ff7f0e" fill-opacity="0.25" stroke="#ff7f0e" stroke-opacity="0.8" stroke-width="0.6"/><rect x="520.1" y="499.1" width="3" height="3" fill="#ff7f0e" fill-opacity="0.25" stroke="#ff7f0e" stroke-opacity="0.8" stroke-width="0.6"/><rect x="521.7" y="497.7" width="3" height="3" fill="#ff7f0e" fill-opacity="0.25" stroke="#ff7f0e" stroke-opacity="0.8" stroke-width="0.6"/><rect x="523.3" y="496.4" width="3" height="3" fill="#ff7f0e" fill-opacity="0.25" stroke="#ff7f0e" stroke-opacity="0.8" stroke-width="0.6"/><rect x="524.8" y="495" width="3" height="3" fill="#ff7f0e" fill-opacity="0.25" stroke="#ff7f0e" stroke-opacity="0.8" stroke-width="0.6"/><rect x="526.3" y="493.5" width="3" height="3" fill="#ff7f0e" fill-opacity="0.25" stroke="#ff7f0e" stroke-opacity="0.8" stroke-width="0.6"/><rect x="527.8" y="492.1" width="3" height="3" fill="#ff7f0e" fill-opacity="0.25" stroke="#ff7f0e" stroke-opacity="0.8" stroke-width="0.6"/><rect x="529.2" y="490.6" width="3" height="3" fill="#ff7f0e" fill-opacity="0.25" stroke="#ff7f0e" stroke-opacity="0.8" stroke-width="0.6"/><rect x="530.7" y="489.2" width="3" height="3" fill="#ff7f0e" fill-opacity="0.25" stroke="#ff7f0e" stroke-opacity="0.8" stroke-width="0.6"/><rect x="532.1" y="487.8" width="3" height="3" fill="#ff7f0e" fill-opacity="0.25" stroke="#ff7f0e" stroke-opacity="0.8" stroke-width="0.6"/><rect x="533.6" y="486.3" width="3" height="3" fill="#ff7f0e" fill-opacity="0.25" stroke="#ff7f0e" stroke-opacity="0.8" stroke-width="0.6"/><rect x="535.2" y="485.1" width="3" height="3" fill="#ff7f0e" fill-opacity="0.25" stroke="#ff7f0e" stroke-opacity="0.8" stroke-width="0.6"/><rect x="536.8" y="484" width="3" height="3" fill="#ff7f0e" fill-opacity="0.25" stroke="#ff7f0e" stroke-opacity="0.8" stroke-width="0.6"/><rect x="538.5" y="482.8" width="3" height="3" fill="#ff7f0e" fill-opacity="0.25" stroke="#ff7f0e" stroke-opacity="0.8" stroke-width="0.6"/><rect x="540.1" y="481.6" width="3" height="3" fill="#ff7f0e" fill-opacity="0.25" stroke="#ff7f0e" stroke-opacity="0.8" stroke-width="0.6"/><rect x="541.7" y="480.5" width="3" height="3" fill="#ff7f0e" fill-opacity="0.25" stroke="#ff7f0e" stroke-opacity="0.8" stroke-width="0.6"/><rect x="543.2" y="479.1" width="3" height="3" fill="#ff7f0e" fill-opacity="0.25" stroke="#ff7f0e" stroke-opacity="0.8" stroke-width="0.6"/><rect x="544.5" y="477.6" width="3" height="3" fill="#ff7f0e" fill-opacity="0.25" stroke="#ff7f0e" stroke-opacity="0.8" stroke-width="0.6"/><rect x="545.8" y="476.2" width="3" height="3" fill="#ff7f0e" fill-opacity="0.25" stroke="#ff7f0e" stroke-opacity="0.8" stroke-width="0.6"/><rect x="547.1" y="474.7" width="3" height="3" fill="#ff7f0e" fill-opacity="0.25" stroke="#ff7f0e" stroke-opacity="0.8" stroke-width="0.6"/><rect x="548.4" y="473.2" width="3" height="3" fill="#ff7f0e" fill-opacity="0.25" stroke="#ff7f0e" stroke-opacity="0.8" stroke-width="0.6"/><rect x="549.7" y="471.7" width="3" height="3" fill="#ff7f0e" fill-opacity="0.25" stroke="#ff7f0e" stroke-opacity="0.8" stroke-width="0.6"/><rect x="551" y="470.3" width="3" height="3" fill="#ff7f0e" fill-opacity="0.25" stroke="#ff7f0e" stroke-opacity="0.8" stroke-width="0.6"/><rect x="552.2" y="468.8" width="3" height="3" fill="#ff7f0e" fill-opacity="0.25" stroke="#ff7f0e" stroke-opacity="0.8" stroke-width="0.6"/><rect x="553.5" y="467.3" width="3" height="3" fill="#ff7f0e" fill-opacity="0.25" stroke="#ff7f0e" stroke-opacity="0.8" stroke-width="0.6"/><rect x="554.7" y="465.9" width="3" height="3" fill="#ff7f0e" fill-opacity="0.25" stroke="#ff7f0e" stroke-opacity="0.8" stroke-width="0.6"/><rect x="556" y="464.4" width="3" height="3" fill="#ff7f0e" fill-opacity="0.25" stroke="#ff7f0e" stroke-opacity="0.8" stroke-width="0.6"/><rect x="557.2" y="462.9" width="3" height="3" fill="#ff7f0e" fill-opacity="0.25" stroke="#ff7f0e" stroke-opacity="0.8" stroke-width="0.6"/><rect x="558.5" y="461.5" width="3" height="3" fill="#ff7f0e" fill-opacity="0.25" stroke="#ff7f0e" stroke-opacity="0.8" stroke-width="0.6"/><rect x="559.7" y="460" width="3" height="3" fill="#ff7f0e" fill-opacity="0.25" stroke="#ff7f0e" stroke-opacity="0.8" stroke-width="0.6"/><rect x="561" y="458.6" width="3" height="3" fill="#ff7f0e" fill-opacity="0.25" stroke="#ff7f0e" stroke-opacity="0.8" stroke-width="0.6"/><rect x="562.2" y="457.2" width="3" height="3" fill="#ff7f0e" fill-opacity="0.25" stroke="#ff7f0e" stroke-opacity="0.8" stroke-width="0.6"/><rect x="563.4" y="455.8" width="3" height="3" fill="#ff7f0e" fill-opacity="0.25" stroke="#ff7f0e" stroke-opacity="0.8" stroke-width="0.6"/><rect x="564.7" y="454.3" width="3" height="3" fill="#ff7f0e" fill-opacity="0.25" stroke="#ff7f0e" stroke-opacity="0.8" stroke-width="0.6"/><rect x="565.9" y="452.9" width="3" height="3" fill="#ff7f0e" fill-opacity="0.25" stroke="#ff7f0e" stroke-opacity="0.8" stroke-width="0.6"/><rect x="567.1" y="451.5" width="3" height="3" fill="#ff7f0e" fill-opacity="0.25" stroke="#ff7f0e" stroke-opacity="0.8" stroke-width="0.6"/><rect x="568.3" y="450" width="3" height="3" fill="#ff7f0e" fill-opacity="0.25" stroke="#ff7f0e" stroke-opacity="0.8" stroke-width="0.6"/><rect x="569.4" y="448.6" width="3" height="3" fill="#ff7f0e" fill-opacity="0.25" stroke="#ff7f0e" stroke-opacity="0.8" stroke-width="0.6"/><rect x="570.6" y="447.1" width="3" height="3" fill="#ff7f0e" fill-opacity="0.25" stroke="#ff7f0e" stroke-opacity="0.8" stroke-width="0.6"/><rect x="571.7" y="445.7" width="3" height="3" fill="#ff7f0e" fill-opacity="0.25" stroke="#ff7f0e" stroke-opacity="0.8" stroke-width="0.6"/><rect x="572.8" y="444.2" width="3" height="3" fill="#ff7f0e" fill-opacity="0.25" stroke="#ff7f0e" stroke-opacity="0.8" stroke-width="0.6"/><rect x="573.9" y="442.8" width="3" height="3" fill="#ff7f0e" fill-opacity="0.25" stroke="#ff7f0e" stroke-opacity="0.8" stroke-width="0.6"/><rect x="575.1" y="441.3" width="3" height="3" fill="#ff7f0e" fill-opacity="0.25" stroke="#ff7f0e" stroke-opacity="0.8" stroke-width="0.6"/><rect x="576.2" y="439.9" width="3" height="3" fill="#ff7f0e" fill-opacity="0.25" stroke="#ff7f0e" stroke-opacity="0.8" stroke-width="0.6"/><rect x="577.5" y="438.6" width="3" height="3" fill="#ff7f0e" fill-opacity="0.25" stroke="#ff7f0e" stroke-opacity="0.8" stroke-width="0.6"/><rect x="578.8" y="437.3" width="3" height="3" fill="#ff7f0e" fill-opacity="0.25" stroke="#ff7f0e" stroke-opacity="0.8" stroke-width="0.6"/><rect x="580" y="436" width="3" height="3" fill="#ff7f0e" fill-opacity="0.25" stroke="#ff7f0e" stroke-opacity="0.8" stroke-width="0.6"/><rect x="581.3" y="434.7" width="3" height="3" fill="#ff7f0e" fill-opacity="0.25" stroke="#ff7f0e" stroke-opacity="0.8" stroke-width="0.6"/><rect x="582.5" y="433.5" width="3" height="3" fill="#ff7f0e" fill-opacity="0.25" stroke="#ff7f0e" stroke-opacity="0.8" stroke-width="0.6"/><rect x="583.8" y="432.2" width="3" height="3" fill="#ff7f0e" fill-opacity="0.25" stroke="#ff7f0e" stroke-opacity="0.8" stroke-width="0.6"/><rect x="585" y="430.8" width="3" height="3" fill="#ff7f0e" fill-opacity="0.25" stroke="#ff7f0e" stroke-opacity="0.8" stroke-width="0.6"/><rect x="586.1" y="429.5" width="3" height="3" fill="#ff7f0e" fill-opacity="0.25" stroke="#ff7f0e" stroke-opacity="0.8" stroke-width="0.6"/><rect x="587.3" y="428.2" width="3" height="3" fill="#ff7f0e" fill-opacity="0.25" stroke="#ff7f0e" stroke-opacity="0.8" stroke-width="0.6"/><rect x="588.4" y="426.8" width="3" height="3" fill="#ff7f0e" fill-opacity="0.25" stroke="#ff7f0e" stroke-opacity="0.8" stroke-width="0.6"/><rect x="589.6" y="425.5" width="3" height="3" fill="#ff7f0e" fill-opacity="0.25" stroke="#ff7f0e" stroke-opacity="0.8" stroke-width="0.6"/><rect x="590.7" y="424.2" width="3" height="3" fill="#ff7f0e" fill-opacity="0.25" stroke="#ff7f0e" stroke-opacity="0.8" stroke-width="0.6"/><rect x="592.1" y="423.1" width="3" height="3" fill="#ff7f0e" fill-opacity="0.25" stroke="#ff7f0e" stroke-opacity="0.8" stroke-width="0.6"/><rect x="593.6" y="422.2" width="3" height="3" fill="#ff7f0e" fill-opacity="0.25" stroke="#ff7f0e" stroke-opacity="0.8" stroke-width="0.6"/><rect x="595.1" y="421.4" width="3" height="3" fill="#ff7f0e" fill-opacity="0.25" stroke="#ff7f0e" stroke-opacity="0.8" stroke-width="0.6"/><rect x="596.6" y="420.5" width="3" height="3" fill="#ff7f0e" fill-opacity="0.25" stroke="#ff7f0e" stroke-opacity="0.8" stroke-width="0.6"/><rect x="598.1" y="419.7" width="3" height="3" fill="#ff7f0e" fill-opacity="0.25" stroke="#ff7f0e" stroke-opacity="0.8" stroke-width="0.6"/><rect x="599.6" y="418.8" width="3" height="3" fill="#ff7f0e" fill-opacity="0.25" stroke="#ff7f0e" stroke-opacity="0.8" stroke-width="0.6"/><rect x="601" y="417.9" width="3" height="3" fill="#ff7f0e" fill-opacity="0.25" stroke="#ff7f0e" stroke-opacity="0.8" stroke-width="0.6"/><rect x="602.4" y="416.9" width="3" height="3" fill="#ff7f0e" fill-opacity="0.25" stroke="#ff7f0e" stroke-opacity="0.8" stroke-width="0.6"/><rect x="603.7" y="415.9" width="3" height="3" fill="#ff7f0e" fill-opacity="0.25" stroke="#ff7f0e" stroke-opacity="0.8" stroke-width="0.6"/><rect x="605.1" y="414.9" width="3" height="3" fill="#ff7f0e" fill-opacity="0.25" stroke="#ff7f0e" stroke-opacity="0.8" stroke-width="0.6"/><rect x="606.5" y="414" width="3" height="3" fill="#ff7f0e" fill-opacity="0.25" stroke="#ff7f0e" stroke-opacity="0.8" stroke-width="0.6"/><rect x="607.8" y="413" width="3" height="3" fill="#ff7f0e" fill-opacity="0.25" stroke="#ff7f0e" stroke-opacity="0.8" stroke-width="0.6"/><rect x="609.3" y="412.2" width="3" height="3" fill="#ff7f0e" fill-opacity="0.25" stroke="#ff7f0e" stroke-opacity="0.8" stroke-width="0.6"/><rect x="610.9" y="412" width="3" height="3" fill="#ff7f0e" fill-opacity="0.25" stroke="#ff7f0e" stroke-opacity="0.8" stroke-width="0.6"/><rect x="612.5" y="411.7" width="3" height="3" fill="#ff7f0e" fill-opacity="0.25" stroke="#ff7f0e" stroke-opacity="0.8" stroke-width="0.6"/><rect x="614.1" y="411.4" width="3" height="3" fill="#ff7f0e" fill-opacity="0.25" stroke="#ff7f0e" stroke-opacity="0.8" stroke-width="0.6"/><rect x="615.7" y="411.2" width="3" height="3" fill="#ff7f0e" fill-opacity="0.25" stroke="#ff7f0e" stroke-opacity="0.8" stroke-width="0.6"/><rect x="616.5" y="410.1" width="3" height="3" fill="#ff7f0e" fill-opacity="0.25" stroke="#ff7f0e" stroke-opacity="0.8" stroke-width="0.6"/><rect x="616.8" y="408.5" width="3" height="3" fill="#ff7f0e" fill-opacity="0.25" stroke="#ff7f0e" stroke-opacity="0.8" stroke-width="0.6"/><rect x="617.1" y="406.9" width="3" height="3" fill="#ff7f0e" fill-opacity="0.25" stroke="#ff7f0e" stroke-opacity="0.8" stroke-width="0.6"/><rect x="617.4" y="405.3" width="3" height="3" fill="#ff7f0e" fill-opacity="0.25" stroke="#ff7f0e" stroke-opacity="0.8" stroke-width="0.6"/><rect x="618.1" y="403.8" width="3" height="3" fill="#ff7f0e" fill-opacity="0.25" stroke="#ff7f0e" stroke-opacity="0.8" stroke-width="0.6"/><rect x="618.9" y="402.4" width="3" height="3" fill="#ff7f0e" fill-opacity="0.25" stroke="#ff7f0e" stroke-opacity="0.8" stroke-width="0.6"/><rect x="619.7" y="401.1" width="3" height="3" fill="#ff7f0e" fill-opacity="0.25" stroke="#ff7f0e" stroke-opacity="0.8" stroke-width="0.6"/><rect x="620.4" y="399.6" width="3" height="3" fill="#ff7f0e" fill-opacity="0.25" stroke="#ff7f0e" stroke-opacity="0.8" stroke-width="0.6"/><rect x="621" y="398.2" width="3" height="3" fill="#ff7f0e" fill-opacity="0.25" stroke="#ff7f0e" stroke-opacity="0.8" stroke-width="0.6"/>
<polyline points="490.2,542.4 517.6,519.7 542.7,494.6 561.6,486.4 569.1,480.2 576.3,467.8 582.6,457.8 588.9,450.3 595.2,440.2 598.9,436.4 600.2,428.9 604,423.9 609,415.1 614,408.8 617.8,400 620.8,393.2 623.7,385.7 625.1,380 625.8,375.2 626.7,368.9 627.4,360.7" fill="none" stroke="#d62728" stroke-width="0.9" stroke-linejoin="round" stroke-opacity="0.85"/>
<circle cx="490.2" cy="542.4" r="1.2800000000000002" fill="#d62728" fill-opacity="0.9"/><circle cx="497.1" cy="536.7" r="1.2800000000000002" fill="#d62728" fill-opacity="0.9"/><circle cx="503.7" cy="531.3" r="1.2800000000000002" fill="#d62728" fill-opacity="0.9"/><circle cx="509.8" cy="526.1" r="1.2800000000000002" fill="#d62728" fill-opacity="0.9"/><circle cx="515.7" cy="521.3" r="1.2800000000000002" fill="#d62728" fill-opacity="0.9"/><circle cx="520.9" cy="516.4" r="1.2800000000000002" fill="#d62728" fill-opacity="0.9"/><circle cx="525.7" cy="511.6" r="1.2800000000000002" fill="#d62728" fill-opacity="0.9"/><circle cx="530.3" cy="507" r="1.2800000000000002" fill="#d62728" fill-opacity="0.9"/><circle cx="534.6" cy="502.7" r="1.2800000000000002" fill="#d62728" fill-opacity="0.9"/><circle cx="538.7" cy="498.6" r="1.2800000000000002" fill="#d62728" fill-opacity="0.9"/><circle cx="542.6" cy="494.7" r="1.2800000000000002" fill="#d62728" fill-opacity="0.9"/><circle cx="547.4" cy="492.6" r="1.2800000000000002" fill="#d62728" fill-opacity="0.9"/><circle cx="551.9" cy="490.6" r="1.2800000000000002" fill="#d62728" fill-opacity="0.9"/><circle cx="556.1" cy="488.8" r="1.2800000000000002" fill="#d62728" fill-opacity="0.9"/><circle cx="560" cy="487.1" r="1.2800000000000002" fill="#d62728" fill-opacity="0.9"/><circle cx="563.4" cy="485" r="1.2800000000000002" fill="#d62728" fill-opacity="0.9"/><circle cx="566.3" cy="482.5" r="1.2800000000000002" fill="#d62728" fill-opacity="0.9"/><circle cx="569.2" cy="480" r="1.2800000000000002" fill="#d62728" fill-opacity="0.9"/><circle cx="571.1" cy="476.8" r="1.2800000000000002" fill="#d62728" fill-opacity="0.9"/><circle cx="572.9" cy="473.7" r="1.2800000000000002" fill="#d62728" fill-opacity="0.9"/><circle cx="574.7" cy="470.6" r="1.2800000000000002" fill="#d62728" fill-opacity="0.9"/><circle cx="576.5" cy="467.6" r="1.2800000000000002" fill="#d62728" fill-opacity="0.9"/><circle cx="578.3" cy="464.6" r="1.2800000000000002" fill="#d62728" fill-opacity="0.9"/><circle cx="580.1" cy="461.8" r="1.2800000000000002" fill="#d62728" fill-opacity="0.9"/><circle cx="581.9" cy="459" r="1.2800000000000002" fill="#d62728" fill-opacity="0.9"/><circle cx="583.8" cy="456.3" r="1.2800000000000002" fill="#d62728" fill-opacity="0.9"/><circle cx="585.9" cy="453.9" r="1.2800000000000002" fill="#d62728" fill-opacity="0.9"/><circle cx="587.9" cy="451.5" r="1.2800000000000002" fill="#d62728" fill-opacity="0.9"/><circle cx="589.7" cy="449" r="1.2800000000000002" fill="#d62728" fill-opacity="0.9"/><circle cx="591.3" cy="446.5" r="1.2800000000000002" fill="#d62728" fill-opacity="0.9"/><circle cx="592.8" cy="444" r="1.2800000000000002" fill="#d62728" fill-opacity="0.9"/><circle cx="594.3" cy="441.7" r="1.2800000000000002" fill="#d62728" fill-opacity="0.9"/><circle cx="595.8" cy="439.6" r="1.2800000000000002" fill="#d62728" fill-opacity="0.9"/><circle cx="597.4" cy="437.9" r="1.2800000000000002" fill="#d62728" fill-opacity="0.9"/><circle cx="598.9" cy="436.2" r="1.2800000000000002" fill="#d62728" fill-opacity="0.9"/><circle cx="599.3" cy="434.2" r="1.2800000000000002" fill="#d62728" fill-opacity="0.9"/><circle cx="599.6" cy="432.1" r="1.2800000000000002" fill="#d62728" fill-opacity="0.9"/><circle cx="600" cy="430.1" r="1.2800000000000002" fill="#d62728" fill-opacity="0.9"/><circle cx="600.7" cy="428.3" r="1.2800000000000002" fill="#d62728" fill-opacity="0.9"/><circle cx="601.9" cy="426.7" r="1.2800000000000002" fill="#d62728" fill-opacity="0.9"/><circle cx="603" cy="425.2" r="1.2800000000000002" fill="#d62728" fill-opacity="0.9"/><circle cx="604.1" cy="423.7" r="1.2800000000000002" fill="#d62728" fill-opacity="0.9"/><circle cx="605" cy="422.2" r="1.2800000000000002" fill="#d62728" fill-opacity="0.9"/><circle cx="605.8" cy="420.7" r="1.2800000000000002" fill="#d62728" fill-opacity="0.9"/><circle cx="606.7" cy="419.2" r="1.2800000000000002" fill="#d62728" fill-opacity="0.9"/><circle cx="607.5" cy="417.8" r="1.2800000000000002" fill="#d62728" fill-opacity="0.9"/><circle cx="608.3" cy="416.4" r="1.2800000000000002" fill="#d62728" fill-opacity="0.9"/><circle cx="609.1" cy="415" r="1.2800000000000002" fill="#d62728" fill-opacity="0.9"/><circle cx="610" cy="413.8" r="1.2800000000000002" fill="#d62728" fill-opacity="0.9"/><circle cx="610.9" cy="412.7" r="1.2800000000000002" fill="#d62728" fill-opacity="0.9"/><circle cx="611.8" cy="411.6" r="1.2800000000000002" fill="#d62728" fill-opacity="0.9"/><circle cx="612.6" cy="410.5" r="1.2800000000000002" fill="#d62728" fill-opacity="0.9"/><circle cx="613.5" cy="409.5" r="1.2800000000000002" fill="#d62728" fill-opacity="0.9"/><circle cx="614.2" cy="408.4" r="1.2800000000000002" fill="#d62728" fill-opacity="0.9"/><circle cx="614.7" cy="407.3" r="1.2800000000000002" fill="#d62728" fill-opacity="0.9"/><circle cx="615.1" cy="406.2" r="1.2800000000000002" fill="#d62728" fill-opacity="0.9"/><circle cx="615.6" cy="405.1" r="1.2800000000000002" fill="#d62728" fill-opacity="0.9"/><circle cx="616.1" cy="404" r="1.2800000000000002" fill="#d62728" fill-opacity="0.9"/><circle cx="616.6" cy="402.9" r="1.2800000000000002" fill="#d62728" fill-opacity="0.9"/><circle cx="617" cy="401.8" r="1.2800000000000002" fill="#d62728" fill-opacity="0.9"/><circle cx="617.5" cy="400.7" r="1.2800000000000002" fill="#d62728" fill-opacity="0.9"/><circle cx="617.9" cy="399.7" r="1.2800000000000002" fill="#d62728" fill-opacity="0.9"/><circle cx="618.4" cy="398.6" r="1.2800000000000002" fill="#d62728" fill-opacity="0.9"/><circle cx="618.9" cy="397.6" r="1.2800000000000002" fill="#d62728" fill-opacity="0.9"/><circle cx="619.3" cy="396.5" r="1.2800000000000002" fill="#d62728" fill-opacity="0.9"/><circle cx="619.8" cy="395.5" r="1.2800000000000002" fill="#d62728" fill-opacity="0.9"/><circle cx="620.2" cy="394.5" r="1.2800000000000002" fill="#d62728" fill-opacity="0.9"/><circle cx="620.7" cy="393.5" r="1.2800000000000002" fill="#d62728" fill-opacity="0.9"/><circle cx="621.1" cy="392.4" r="1.2800000000000002" fill="#d62728" fill-opacity="0.9"/><circle cx="621.5" cy="391.4" r="1.2800000000000002" fill="#d62728" fill-opacity="0.9"/><circle cx="621.9" cy="390.4" r="1.2800000000000002" fill="#d62728" fill-opacity="0.9"/><circle cx="622.3" cy="389.4" r="1.2800000000000002" fill="#d62728" fill-opacity="0.9"/><circle cx="622.7" cy="388.4" r="1.2800000000000002" fill="#d62728" fill-opacity="0.9"/><circle cx="623.1" cy="387.4" r="1.2800000000000002" fill="#d62728" fill-opacity="0.9"/><circle cx="623.4" cy="386.4" r="1.2800000000000002" fill="#d62728" fill-opacity="0.9"/><circle cx="623.8" cy="385.4" r="1.2800000000000002" fill="#d62728" fill-opacity="0.9"/><circle cx="624" cy="384.3" r="1.2800000000000002" fill="#d62728" fill-opacity="0.9"/><circle cx="624.3" cy="383.3" r="1.2800000000000002" fill="#d62728" fill-opacity="0.9"/><circle cx="624.5" cy="382.3" r="1.2800000000000002" fill="#d62728" fill-opacity="0.9"/><circle cx="624.8" cy="381.3" r="1.2800000000000002" fill="#d62728" fill-opacity="0.9"/><circle cx="625" cy="380.3" r="1.2800000000000002" fill="#d62728" fill-opacity="0.9"/><circle cx="625.2" cy="379.3" r="1.2800000000000002" fill="#d62728" fill-opacity="0.9"/><circle cx="625.4" cy="378.3" r="1.2800000000000002" fill="#d62728" fill-opacity="0.9"/><circle cx="625.5" cy="377.2" r="1.2800000000000002" fill="#d62728" fill-opacity="0.9"/><circle cx="625.7" cy="376.2" r="1.2800000000000002" fill="#d62728" fill-opacity="0.9"/><circle cx="625.8" cy="375.2" r="1.2800000000000002" fill="#d62728" fill-opacity="0.9"/><circle cx="625.9" cy="374.2" r="1.2800000000000002" fill="#d62728" fill-opacity="0.9"/><circle cx="626.1" cy="373.2" r="1.2800000000000002" fill="#d62728" fill-opacity="0.9"/><circle cx="626.2" cy="372.2" r="1.2800000000000002" fill="#d62728" fill-opacity="0.9"/><circle cx="626.4" cy="371.2" r="1.2800000000000002" fill="#d62728" fill-opacity="0.9"/><circle cx="626.5" cy="370.2" r="1.2800000000000002" fill="#d62728" fill-opacity="0.9"/><circle cx="626.7" cy="369.2" r="1.2800000000000002" fill="#d62728" fill-opacity="0.9"/><circle cx="626.8" cy="368.2" r="1.2800000000000002" fill="#d62728" fill-opacity="0.9"/><circle cx="626.8" cy="367.2" r="1.2800000000000002" fill="#d62728" fill-opacity="0.9"/><circle cx="626.9" cy="366.2" r="1.2800000000000002" fill="#d62728" fill-opacity="0.9"/><circle cx="627" cy="365.2" r="1.2800000000000002" fill="#d62728" fill-opacity="0.9"/><circle cx="627.1" cy="364.2" r="1.2800000000000002" fill="#d62728" fill-opacity="0.9"/><circle cx="627.2" cy="363.2" r="1.2800000000000002" fill="#d62728" fill-opacity="0.9"/><circle cx="627.3" cy="362.2" r="1.2800000000000002" fill="#d62728" fill-opacity="0.9"/><circle cx="627.4" cy="361.2" r="1.2800000000000002" fill="#d62728" fill-opacity="0.9"/>
<polyline points="438.8,600.6 448.9,596.2 454,594.2 457.1,592.2 458,588.8 461.8,586.4 465.7,582.9 468.8,580.9 476.4,580 475.1,574.7 479.8,573.1 486,570.8 489,570.3 494,567.1 497.8,563.3 504,560.2 501.5,555.2 507.8,549.5 512.8,545.1 517.9,541.4 520.4,543.9 516.6,533.8 517.2,525 520.1,515.3 527.6,514.1 536.4,506.5 542.7,500.3 549,491.5 554,485.2 557.8,480.2 564.1,475.1 568.8,467.8 577.6,462.8 578.4,455 586.5,443.9 596.7,431.6 598.8,419.4 602,415 607,409.2 615.1,399 618,394 621.2,390.8 623.7,384.7 624.6,380 625.2,376.4" fill="none" stroke="#1f77b4" stroke-width="0.9" stroke-linejoin="round" stroke-opacity="0.85"/>
<circle cx="438.8" cy="600.6" r="1.6" fill="#1f77b4" fill-opacity="0.2" stroke="#1f77b4" stroke-opacity="0.8" stroke-width="0.6"/><circle cx="443.4" cy="598.6" r="1.6" fill="#1f77b4" fill-opacity="0.2" stroke="#1f77b4" stroke-opacity="0.8" stroke-width="0.6"/><circle cx="447.8" cy="596.7" r="1.6" fill="#1f77b4" fill-opacity="0.2" stroke="#1f77b4" stroke-opacity="0.8" stroke-width="0.6"/><circle cx="452" cy="595" r="1.6" fill="#1f77b4" fill-opacity="0.2" stroke="#1f77b4" stroke-opacity="0.8" stroke-width="0.6"/><circle cx="455.9" cy="593" r="1.6" fill="#1f77b4" fill-opacity="0.2" stroke="#1f77b4" stroke-opacity="0.8" stroke-width="0.6"/><circle cx="457.8" cy="589.6" r="1.6" fill="#1f77b4" fill-opacity="0.2" stroke="#1f77b4" stroke-opacity="0.8" stroke-width="0.6"/><circle cx="460.8" cy="587" r="1.6" fill="#1f77b4" fill-opacity="0.2" stroke="#1f77b4" stroke-opacity="0.8" stroke-width="0.6"/><circle cx="463.9" cy="584.6" r="1.6" fill="#1f77b4" fill-opacity="0.2" stroke="#1f77b4" stroke-opacity="0.8" stroke-width="0.6"/><circle cx="466.8" cy="582.2" r="1.6" fill="#1f77b4" fill-opacity="0.2" stroke="#1f77b4" stroke-opacity="0.8" stroke-width="0.6"/><circle cx="470.1" cy="580.7" r="1.6" fill="#1f77b4" fill-opacity="0.2" stroke="#1f77b4" stroke-opacity="0.8" stroke-width="0.6"/><circle cx="473.5" cy="580.3" r="1.6" fill="#1f77b4" fill-opacity="0.2" stroke="#1f77b4" stroke-opacity="0.8" stroke-width="0.6"/><circle cx="476.3" cy="579.5" r="1.6" fill="#1f77b4" fill-opacity="0.2" stroke="#1f77b4" stroke-opacity="0.8" stroke-width="0.6"/><circle cx="475.5" cy="576.4" r="1.6" fill="#1f77b4" fill-opacity="0.2" stroke="#1f77b4" stroke-opacity="0.8" stroke-width="0.6"/><circle cx="476.5" cy="574.2" r="1.6" fill="#1f77b4" fill-opacity="0.2" stroke="#1f77b4" stroke-opacity="0.8" stroke-width="0.6"/><circle cx="479.6" cy="573.2" r="1.6" fill="#1f77b4" fill-opacity="0.2" stroke="#1f77b4" stroke-opacity="0.8" stroke-width="0.6"/><circle cx="482.5" cy="572.1" r="1.6" fill="#1f77b4" fill-opacity="0.2" stroke="#1f77b4" stroke-opacity="0.8" stroke-width="0.6"/><circle cx="485.2" cy="571.1" r="1.6" fill="#1f77b4" fill-opacity="0.2" stroke="#1f77b4" stroke-opacity="0.8" stroke-width="0.6"/><circle cx="488" cy="570.5" r="1.6" fill="#1f77b4" fill-opacity="0.2" stroke="#1f77b4" stroke-opacity="0.8" stroke-width="0.6"/><circle cx="490.4" cy="569.4" r="1.6" fill="#1f77b4" fill-opacity="0.2" stroke="#1f77b4" stroke-opacity="0.8" stroke-width="0.6"/><circle cx="492.6" cy="568" r="1.6" fill="#1f77b4" fill-opacity="0.2" stroke="#1f77b4" stroke-opacity="0.8" stroke-width="0.6"/><circle cx="494.6" cy="566.5" r="1.6" fill="#1f77b4" fill-opacity="0.2" stroke="#1f77b4" stroke-opacity="0.8" stroke-width="0.6"/><circle cx="496.4" cy="564.7" r="1.6" fill="#1f77b4" fill-opacity="0.2" stroke="#1f77b4" stroke-opacity="0.8" stroke-width="0.6"/><circle cx="498.1" cy="563.2" r="1.6" fill="#1f77b4" fill-opacity="0.2" stroke="#1f77b4" stroke-opacity="0.8" stroke-width="0.6"/><circle cx="500.1" cy="562.1" r="1.6" fill="#1f77b4" fill-opacity="0.2" stroke="#1f77b4" stroke-opacity="0.8" stroke-width="0.6"/><circle cx="502.1" cy="561.2" r="1.6" fill="#1f77b4" fill-opacity="0.2" stroke="#1f77b4" stroke-opacity="0.8" stroke-width="0.6"/><circle cx="504" cy="560.1" r="1.6" fill="#1f77b4" fill-opacity="0.2" stroke="#1f77b4" stroke-opacity="0.8" stroke-width="0.6"/><circle cx="503" cy="558.1" r="1.6" fill="#1f77b4" fill-opacity="0.2" stroke="#1f77b4" stroke-opacity="0.8" stroke-width="0.6"/><circle cx="502" cy="556.2" r="1.6" fill="#1f77b4" fill-opacity="0.2" stroke="#1f77b4" stroke-opacity="0.8" stroke-width="0.6"/><circle cx="502.3" cy="554.4" r="1.6" fill="#1f77b4" fill-opacity="0.2" stroke="#1f77b4" stroke-opacity="0.8" stroke-width="0.6"/><circle cx="504" cy="553" r="1.6" fill="#1f77b4" fill-opacity="0.2" stroke="#1f77b4" stroke-opacity="0.8" stroke-width="0.6"/><circle cx="505.6" cy="551.5" r="1.6" fill="#1f77b4" fill-opacity="0.2" stroke="#1f77b4" stroke-opacity="0.8" stroke-width="0.6"/><circle cx="507.3" cy="550" r="1.6" fill="#1f77b4" fill-opacity="0.2" stroke="#1f77b4" stroke-opacity="0.8" stroke-width="0.6"/><circle cx="509" cy="548.5" r="1.6" fill="#1f77b4" fill-opacity="0.2" stroke="#1f77b4" stroke-opacity="0.8" stroke-width="0.6"/><circle cx="510.6" cy="547" r="1.6" fill="#1f77b4" fill-opacity="0.2" stroke="#1f77b4" stroke-opacity="0.8" stroke-width="0.6"/><circle cx="512.3" cy="545.5" r="1.6" fill="#1f77b4" fill-opacity="0.2" stroke="#1f77b4" stroke-opacity="0.8" stroke-width="0.6"/><circle cx="514.1" cy="544.1" r="1.6" fill="#1f77b4" fill-opacity="0.2" stroke="#1f77b4" stroke-opacity="0.8" stroke-width="0.6"/><circle cx="516" cy="542.8" r="1.6" fill="#1f77b4" fill-opacity="0.2" stroke="#1f77b4" stroke-opacity="0.8" stroke-width="0.6"/><circle cx="517.8" cy="541.5" r="1.6" fill="#1f77b4" fill-opacity="0.2" stroke="#1f77b4" stroke-opacity="0.8" stroke-width="0.6"/><circle cx="519.4" cy="542.9" r="1.6" fill="#1f77b4" fill-opacity="0.2" stroke="#1f77b4" stroke-opacity="0.8" stroke-width="0.6"/><circle cx="520.1" cy="543" r="1.6" fill="#1f77b4" fill-opacity="0.2" stroke="#1f77b4" stroke-opacity="0.8" stroke-width="0.6"/><circle cx="519.3" cy="540.9" r="1.6" fill="#1f77b4" fill-opacity="0.2" stroke="#1f77b4" stroke-opacity="0.8" stroke-width="0.6"/><circle cx="518.5" cy="538.7" r="1.6" fill="#1f77b4" fill-opacity="0.2" stroke="#1f77b4" stroke-opacity="0.8" stroke-width="0.6"/><circle cx="517.6" cy="536.6" r="1.6" fill="#1f77b4" fill-opacity="0.2" stroke="#1f77b4" stroke-opacity="0.8" stroke-width="0.6"/><circle cx="516.8" cy="534.4" r="1.6" fill="#1f77b4" fill-opacity="0.2" stroke="#1f77b4" stroke-opacity="0.8" stroke-width="0.6"/><circle cx="516.7" cy="532.2" r="1.6" fill="#1f77b4" fill-opacity="0.2" stroke="#1f77b4" stroke-opacity="0.8" stroke-width="0.6"/><circle cx="516.9" cy="529.9" r="1.6" fill="#1f77b4" fill-opacity="0.2" stroke="#1f77b4" stroke-opacity="0.8" stroke-width="0.6"/><circle cx="517" cy="527.6" r="1.6" fill="#1f77b4" fill-opacity="0.2" stroke="#1f77b4" stroke-opacity="0.8" stroke-width="0.6"/><circle cx="517.2" cy="525.4" r="1.6" fill="#1f77b4" fill-opacity="0.2" stroke="#1f77b4" stroke-opacity="0.8" stroke-width="0.6"/><circle cx="517.8" cy="523.2" r="1.6" fill="#1f77b4" fill-opacity="0.2" stroke="#1f77b4" stroke-opacity="0.8" stroke-width="0.6"/><circle cx="518.4" cy="521" r="1.6" fill="#1f77b4" fill-opacity="0.2" stroke="#1f77b4" stroke-opacity="0.8" stroke-width="0.6"/><circle cx="519.1" cy="518.8" r="1.6" fill="#1f77b4" fill-opacity="0.2" stroke="#1f77b4" stroke-opacity="0.8" stroke-width="0.6"/><circle cx="519.7" cy="516.6" r="1.6" fill="#1f77b4" fill-opacity="0.2" stroke="#1f77b4" stroke-opacity="0.8" stroke-width="0.6"/><circle cx="521.1" cy="515.1" r="1.6" fill="#1f77b4" fill-opacity="0.2" stroke="#1f77b4" stroke-opacity="0.8" stroke-width="0.6"/><circle cx="523.3" cy="514.8" r="1.6" fill="#1f77b4" fill-opacity="0.2" stroke="#1f77b4" stroke-opacity="0.8" stroke-width="0.6"/><circle cx="525.6" cy="514.4" r="1.6" fill="#1f77b4" fill-opacity="0.2" stroke="#1f77b4" stroke-opacity="0.8" stroke-width="0.6"/><circle cx="527.8" cy="513.9" r="1.6" fill="#1f77b4" fill-opacity="0.2" stroke="#1f77b4" stroke-opacity="0.8" stroke-width="0.6"/><circle cx="529.6" cy="512.4" r="1.6" fill="#1f77b4" fill-opacity="0.2" stroke="#1f77b4" stroke-opacity="0.8" stroke-width="0.6"/><circle cx="531.4" cy="510.8" r="1.6" fill="#1f77b4" fill-opacity="0.2" stroke="#1f77b4" stroke-opacity="0.8" stroke-width="0.6"/><circle cx="533.2" cy="509.3" r="1.6" fill="#1f77b4" fill-opacity="0.2" stroke="#1f77b4" stroke-opacity="0.8" stroke-width="0.6"/><circle cx="535" cy="507.7" r="1.6" fill="#1f77b4" fill-opacity="0.2" stroke="#1f77b4" stroke-opacity="0.8" stroke-width="0.6"/><circle cx="536.7" cy="506.2" r="1.6" fill="#1f77b4" fill-opacity="0.2" stroke="#1f77b4" stroke-opacity="0.8" stroke-width="0.6"/><circle cx="538.4" cy="504.5" r="1.6" fill="#1f77b4" fill-opacity="0.2" stroke="#1f77b4" stroke-opacity="0.8" stroke-width="0.6"/><circle cx="540.2" cy="502.8" r="1.6" fill="#1f77b4" fill-opacity="0.2" stroke="#1f77b4" stroke-opacity="0.8" stroke-width="0.6"/><circle cx="541.9" cy="501.1" r="1.6" fill="#1f77b4" fill-opacity="0.2" stroke="#1f77b4" stroke-opacity="0.8" stroke-width="0.6"/><circle cx="543.4" cy="499.3" r="1.6" fill="#1f77b4" fill-opacity="0.2" stroke="#1f77b4" stroke-opacity="0.8" stroke-width="0.6"/><circle cx="544.8" cy="497.3" r="1.6" fill="#1f77b4" fill-opacity="0.2" stroke="#1f77b4" stroke-opacity="0.8" stroke-width="0.6"/><circle cx="546.2" cy="495.4" r="1.6" fill="#1f77b4" fill-opacity="0.2" stroke="#1f77b4" stroke-opacity="0.8" stroke-width="0.6"/><circle cx="547.7" cy="493.4" r="1.6" fill="#1f77b4" fill-opacity="0.2" stroke="#1f77b4" stroke-opacity="0.8" stroke-width="0.6"/><circle cx="549.1" cy="491.4" r="1.6" fill="#1f77b4" fill-opacity="0.2" stroke="#1f77b4" stroke-opacity="0.8" stroke-width="0.6"/><circle cx="550.6" cy="489.5" r="1.6" fill="#1f77b4" fill-opacity="0.2" stroke="#1f77b4" stroke-opacity="0.8" stroke-width="0.6"/><circle cx="552.1" cy="487.6" r="1.6" fill="#1f77b4" fill-opacity="0.2" stroke="#1f77b4" stroke-opacity="0.8" stroke-width="0.6"/><circle cx="553.6" cy="485.6" r="1.6" fill="#1f77b4" fill-opacity="0.2" stroke="#1f77b4" stroke-opacity="0.8" stroke-width="0.6"/><circle cx="555.2" cy="483.7" r="1.6" fill="#1f77b4" fill-opacity="0.2" stroke="#1f77b4" stroke-opacity="0.8" stroke-width="0.6"/><circle cx="556.7" cy="481.7" r="1.6" fill="#1f77b4" fill-opacity="0.2" stroke="#1f77b4" stroke-opacity="0.8" stroke-width="0.6"/><circle cx="558.3" cy="479.8" r="1.6" fill="#1f77b4" fill-opacity="0.2" stroke="#1f77b4" stroke-opacity="0.8" stroke-width="0.6"/><circle cx="560.2" cy="478.3" r="1.6" fill="#1f77b4" fill-opacity="0.2" stroke="#1f77b4" stroke-opacity="0.8" stroke-width="0.6"/><circle cx="562.2" cy="476.7" r="1.6" fill="#1f77b4" fill-opacity="0.2" stroke="#1f77b4" stroke-opacity="0.8" stroke-width="0.6"/><circle cx="564.3" cy="474.9" r="1.6" fill="#1f77b4" fill-opacity="0.2" stroke="#1f77b4" stroke-opacity="0.8" stroke-width="0.6"/><circle cx="565.9" cy="472.3" r="1.6" fill="#1f77b4" fill-opacity="0.2" stroke="#1f77b4" stroke-opacity="0.8" stroke-width="0.6"/><circle cx="567.7" cy="469.5" r="1.6" fill="#1f77b4" fill-opacity="0.2" stroke="#1f77b4" stroke-opacity="0.8" stroke-width="0.6"/><circle cx="570.1" cy="467.1" r="1.6" fill="#1f77b4" fill-opacity="0.2" stroke="#1f77b4" stroke-opacity="0.8" stroke-width="0.6"/><circle cx="573.4" cy="465.2" r="1.6" fill="#1f77b4" fill-opacity="0.2" stroke="#1f77b4" stroke-opacity="0.8" stroke-width="0.6"/><circle cx="577.2" cy="463" r="1.6" fill="#1f77b4" fill-opacity="0.2" stroke="#1f77b4" stroke-opacity="0.8" stroke-width="0.6"/><circle cx="578" cy="458.9" r="1.6" fill="#1f77b4" fill-opacity="0.2" stroke="#1f77b4" stroke-opacity="0.8" stroke-width="0.6"/><circle cx="578.7" cy="454.6" r="1.6" fill="#1f77b4" fill-opacity="0.2" stroke="#1f77b4" stroke-opacity="0.8" stroke-width="0.6"/><circle cx="581.3" cy="451" r="1.6" fill="#1f77b4" fill-opacity="0.2" stroke="#1f77b4" stroke-opacity="0.8" stroke-width="0.6"/><circle cx="583.9" cy="447.5" r="1.6" fill="#1f77b4" fill-opacity="0.2" stroke="#1f77b4" stroke-opacity="0.8" stroke-width="0.6"/><circle cx="586.4" cy="444" r="1.6" fill="#1f77b4" fill-opacity="0.2" stroke="#1f77b4" stroke-opacity="0.8" stroke-width="0.6"/><circle cx="589.1" cy="440.7" r="1.6" fill="#1f77b4" fill-opacity="0.2" stroke="#1f77b4" stroke-opacity="0.8" stroke-width="0.6"/><circle cx="591.8" cy="437.5" r="1.6" fill="#1f77b4" fill-opacity="0.2" stroke="#1f77b4" stroke-opacity="0.8" stroke-width="0.6"/><circle cx="594.4" cy="434.4" r="1.6" fill="#1f77b4" fill-opacity="0.2" stroke="#1f77b4" stroke-opacity="0.8" stroke-width="0.6"/><circle cx="596.8" cy="431.1" r="1.6" fill="#1f77b4" fill-opacity="0.2" stroke="#1f77b4" stroke-opacity="0.8" stroke-width="0.6"/><circle cx="597.5" cy="427.2" r="1.6" fill="#1f77b4" fill-opacity="0.2" stroke="#1f77b4" stroke-opacity="0.8" stroke-width="0.6"/><circle cx="598.1" cy="423.6" r="1.6" fill="#1f77b4" fill-opacity="0.2" stroke="#1f77b4" stroke-opacity="0.8" stroke-width="0.6"/><circle cx="598.6" cy="420.4" r="1.6" fill="#1f77b4" fill-opacity="0.2" stroke="#1f77b4" stroke-opacity="0.8" stroke-width="0.6"/><circle cx="599.8" cy="418" r="1.6" fill="#1f77b4" fill-opacity="0.2" stroke="#1f77b4" stroke-opacity="0.8" stroke-width="0.6"/><circle cx="601" cy="416.4" r="1.6" fill="#1f77b4" fill-opacity="0.2" stroke="#1f77b4" stroke-opacity="0.8" stroke-width="0.6"/><circle cx="602" cy="415" r="1.6" fill="#1f77b4" fill-opacity="0.2" stroke="#1f77b4" stroke-opacity="0.8" stroke-width="0.6"/><circle cx="603.2" cy="413.6" r="1.6" fill="#1f77b4" fill-opacity="0.2" stroke="#1f77b4" stroke-opacity="0.8" stroke-width="0.6"/><circle cx="604.3" cy="412.3" r="1.6" fill="#1f77b4" fill-opacity="0.2" stroke="#1f77b4" stroke-opacity="0.8" stroke-width="0.6"/><circle cx="605.5" cy="411" r="1.6" fill="#1f77b4" fill-opacity="0.2" stroke="#1f77b4" stroke-opacity="0.8" stroke-width="0.6"/><circle cx="606.6" cy="409.7" r="1.6" fill="#1f77b4" fill-opacity="0.2" stroke="#1f77b4" stroke-opacity="0.8" stroke-width="0.6"/><circle cx="607.7" cy="408.3" r="1.6" fill="#1f77b4" fill-opacity="0.2" stroke="#1f77b4" stroke-opacity="0.8" stroke-width="0.6"/><circle cx="608.8" cy="407" r="1.6" fill="#1f77b4" fill-opacity="0.2" stroke="#1f77b4" stroke-opacity="0.8" stroke-width="0.6"/><circle cx="609.8" cy="405.7" r="1.6" fill="#1f77b4" fill-opacity="0.2" stroke="#1f77b4" stroke-opacity="0.8" stroke-width="0.6"/><circle cx="610.9" cy="404.3" r="1.6" fill="#1f77b4" fill-opacity="0.2" stroke="#1f77b4" stroke-opacity="0.8" stroke-width="0.6"/><circle cx="611.9" cy="403" r="1.6" fill="#1f77b4" fill-opacity="0.2" stroke="#1f77b4" stroke-opacity="0.8" stroke-width="0.6"/><circle cx="612.9" cy="401.7" r="1.6" fill="#1f77b4" fill-opacity="0.2" stroke="#1f77b4" stroke-opacity="0.8" stroke-width="0.6"/><circle cx="614" cy="400.4" r="1.6" fill="#1f77b4" fill-opacity="0.2" stroke="#1f77b4" stroke-opacity="0.8" stroke-width="0.6"/><circle cx="615" cy="399.2" r="1.6" fill="#1f77b4" fill-opacity="0.2" stroke="#1f77b4" stroke-opacity="0.8" stroke-width="0.6"/><circle cx="615.8" cy="397.8" r="1.6" fill="#1f77b4" fill-opacity="0.2" stroke="#1f77b4" stroke-opacity="0.8" stroke-width="0.6"/><circle cx="616.6" cy="396.4" r="1.6" fill="#1f77b4" fill-opacity="0.2" stroke="#1f77b4" stroke-opacity="0.8" stroke-width="0.6"/><circle cx="617.4" cy="395" r="1.6" fill="#1f77b4" fill-opacity="0.2" stroke="#1f77b4" stroke-opacity="0.8" stroke-width="0.6"/><circle cx="618.3" cy="393.7" r="1.6" fill="#1f77b4" fill-opacity="0.2" stroke="#1f77b4" stroke-opacity="0.8" stroke-width="0.6"/><circle cx="619.4" cy="392.6" r="1.6" fill="#1f77b4" fill-opacity="0.2" stroke="#1f77b4" stroke-opacity="0.8" stroke-width="0.6"/><circle cx="620.5" cy="391.5" r="1.6" fill="#1f77b4" fill-opacity="0.2" stroke="#1f77b4" stroke-opacity="0.8" stroke-width="0.6"/><circle cx="621.4" cy="390.2" r="1.6" fill="#1f77b4" fill-opacity="0.2" stroke="#1f77b4" stroke-opacity="0.8" stroke-width="0.6"/><circle cx="622" cy="388.8" r="1.6" fill="#1f77b4" fill-opacity="0.2" stroke="#1f77b4" stroke-opacity="0.8" stroke-width="0.6"/><circle cx="622.6" cy="387.4" r="1.6" fill="#1f77b4" fill-opacity="0.2" stroke="#1f77b4" stroke-opacity="0.8" stroke-width="0.6"/><circle cx="623.2" cy="386" r="1.6" fill="#1f77b4" fill-opacity="0.2" stroke="#1f77b4" stroke-opacity="0.8" stroke-width="0.6"/><circle cx="623.7" cy="384.6" r="1.6" fill="#1f77b4" fill-opacity="0.2" stroke="#1f77b4" stroke-opacity="0.8" stroke-width="0.6"/><circle cx="624" cy="383.1" r="1.6" fill="#1f77b4" fill-opacity="0.2" stroke="#1f77b4" stroke-opacity="0.8" stroke-width="0.6"/><circle cx="624.3" cy="381.6" r="1.6" fill="#1f77b4" fill-opacity="0.2" stroke="#1f77b4" stroke-opacity="0.8" stroke-width="0.6"/><circle cx="624.6" cy="380.1" r="1.6" fill="#1f77b4" fill-opacity="0.2" stroke="#1f77b4" stroke-opacity="0.8" stroke-width="0.6"/><circle cx="624.8" cy="378.6" r="1.6" fill="#1f77b4" fill-opacity="0.2" stroke="#1f77b4" stroke-opacity="0.8" stroke-width="0.6"/><circle cx="625.1" cy="377.1" r="1.6" fill="#1f77b4" fill-opacity="0.2" stroke="#1f77b4" stroke-opacity="0.8" stroke-width="0.6"/>
<polyline points="405,596.9 410,588.8 418.8,585.6 425,582.5 433.8,579.4 441.3,577.5 452.5,573.6 461.3,570.9 470.1,569 478.9,566.5 486.5,561.5 495.3,557.1 504,552 511.6,547 517.9,543.2 525,537.6 535.2,530 544,522.9 551.5,516.6 559,512.8 567.8,506.5 575.4,497.7 580,492.7 587.6,480 592.7,467.8 595.8,462.8 597.7,455.3" fill="none" stroke="#2ca02c" stroke-width="0.9" stroke-linejoin="round" stroke-opacity="0.85"/>
<path d="M405 594.9L406.4 596.9L405 598.9L403.6 596.9Z" fill="#2ca02c" fill-opacity="0.35" stroke="#2ca02c" stroke-opacity="0.85" stroke-width="0.6"/><path d="M408.4 589.4L409.8 591.4L408.4 593.4L407.1 591.4Z" fill="#2ca02c" fill-opacity="0.35" stroke="#2ca02c" stroke-opacity="0.85" stroke-width="0.6"/><path d="M413.2 585.6L414.6 587.6L413.2 589.6L411.8 587.6Z" fill="#2ca02c" fill-opacity="0.35" stroke="#2ca02c" stroke-opacity="0.85" stroke-width="0.6"/><path d="M419.1 583.4L420.5 585.4L419.1 587.4L417.8 585.4Z" fill="#2ca02c" fill-opacity="0.35" stroke="#2ca02c" stroke-opacity="0.85" stroke-width="0.6"/><path d="M424.6 580.7L426 582.7L424.6 584.7L423.3 582.7Z" fill="#2ca02c" fill-opacity="0.35" stroke="#2ca02c" stroke-opacity="0.85" stroke-width="0.6"/><path d="M430.3 578.6L431.7 580.6L430.3 582.6L429 580.6Z" fill="#2ca02c" fill-opacity="0.35" stroke="#2ca02c" stroke-opacity="0.85" stroke-width="0.6"/><path d="M436 576.9L437.3 578.9L436 580.9L434.6 578.9Z" fill="#2ca02c" fill-opacity="0.35" stroke="#2ca02c" stroke-opacity="0.85" stroke-width="0.6"/><path d="M441.6 575.4L442.9 577.4L441.6 579.4L440.2 577.4Z" fill="#2ca02c" fill-opacity="0.35" stroke="#2ca02c" stroke-opacity="0.85" stroke-width="0.6"/><path d="M446.9 573.6L448.3 575.6L446.9 577.6L445.5 575.6Z" fill="#2ca02c" fill-opacity="0.35" stroke="#2ca02c" stroke-opacity="0.85" stroke-width="0.6"/><path d="M452.1 571.7L453.5 573.7L452.1 575.7L450.8 573.7Z" fill="#2ca02c" fill-opacity="0.35" stroke="#2ca02c" stroke-opacity="0.85" stroke-width="0.6"/><path d="M457.3 570.1L458.7 572.1L457.3 574.1L455.9 572.1Z" fill="#2ca02c" fill-opacity="0.35" stroke="#2ca02c" stroke-opacity="0.85" stroke-width="0.6"/><path d="M462.4 568.7L463.7 570.7L462.4 572.7L461 570.7Z" fill="#2ca02c" fill-opacity="0.35" stroke="#2ca02c" stroke-opacity="0.85" stroke-width="0.6"/><path d="M467.4 567.6L468.8 569.6L467.4 571.6L466.1 569.6Z" fill="#2ca02c" fill-opacity="0.35" stroke="#2ca02c" stroke-opacity="0.85" stroke-width="0.6"/><path d="M472.3 566.4L473.7 568.4L472.3 570.4L471 568.4Z" fill="#2ca02c" fill-opacity="0.35" stroke="#2ca02c" stroke-opacity="0.85" stroke-width="0.6"/><path d="M477 565L478.4 567L477 569L475.7 567Z" fill="#2ca02c" fill-opacity="0.35" stroke="#2ca02c" stroke-opacity="0.85" stroke-width="0.6"/><path d="M481.1 563.1L482.5 565.1L481.1 567.1L479.7 565.1Z" fill="#2ca02c" fill-opacity="0.35" stroke="#2ca02c" stroke-opacity="0.85" stroke-width="0.6"/><path d="M484.7 560.7L486.1 562.7L484.7 564.7L483.4 562.7Z" fill="#2ca02c" fill-opacity="0.35" stroke="#2ca02c" stroke-opacity="0.85" stroke-width="0.6"/><path d="M488.3 558.6L489.6 560.6L488.3 562.6L486.9 560.6Z" fill="#2ca02c" fill-opacity="0.35" stroke="#2ca02c" stroke-opacity="0.85" stroke-width="0.6"/><path d="M491.8 556.9L493.1 558.9L491.8 560.9L490.4 558.9Z" fill="#2ca02c" fill-opacity="0.35" stroke="#2ca02c" stroke-opacity="0.85" stroke-width="0.6"/><path d="M495.1 555.2L496.4 557.2L495.1 559.2L493.7 557.2Z" fill="#2ca02c" fill-opacity="0.35" stroke="#2ca02c" stroke-opacity="0.85" stroke-width="0.6"/><path d="M498.1 553.5L499.5 555.5L498.1 557.5L496.7 555.5Z" fill="#2ca02c" fill-opacity="0.35" stroke="#2ca02c" stroke-opacity="0.85" stroke-width="0.6"/><path d="M501 551.8L502.3 553.8L501 555.8L499.6 553.8Z" fill="#2ca02c" fill-opacity="0.35" stroke="#2ca02c" stroke-opacity="0.85" stroke-width="0.6"/><path d="M503.7 550.2L505.1 552.2L503.7 554.2L502.3 552.2Z" fill="#2ca02c" fill-opacity="0.35" stroke="#2ca02c" stroke-opacity="0.85" stroke-width="0.6"/><path d="M506.3 548.5L507.7 550.5L506.3 552.5L504.9 550.5Z" fill="#2ca02c" fill-opacity="0.35" stroke="#2ca02c" stroke-opacity="0.85" stroke-width="0.6"/><path d="M508.8 546.8L510.2 548.8L508.8 550.8L507.5 548.8Z" fill="#2ca02c" fill-opacity="0.35" stroke="#2ca02c" stroke-opacity="0.85" stroke-width="0.6"/><path d="M511.3 545.2L512.7 547.2L511.3 549.2L510 547.2Z" fill="#2ca02c" fill-opacity="0.35" stroke="#2ca02c" stroke-opacity="0.85" stroke-width="0.6"/><path d="M513.8 543.7L515.2 545.7L513.8 547.7L512.5 545.7Z" fill="#2ca02c" fill-opacity="0.35" stroke="#2ca02c" stroke-opacity="0.85" stroke-width="0.6"/><path d="M516.3 542.2L517.6 544.2L516.3 546.2L514.9 544.2Z" fill="#2ca02c" fill-opacity="0.35" stroke="#2ca02c" stroke-opacity="0.85" stroke-width="0.6"/><path d="M518.6 540.7L520 542.7L518.6 544.7L517.2 542.7Z" fill="#2ca02c" fill-opacity="0.35" stroke="#2ca02c" stroke-opacity="0.85" stroke-width="0.6"/><path d="M520.7 539L522.1 541L520.7 543L519.4 541Z" fill="#2ca02c" fill-opacity="0.35" stroke="#2ca02c" stroke-opacity="0.85" stroke-width="0.6"/><path d="M522.8 537.3L524.2 539.3L522.8 541.3L521.5 539.3Z" fill="#2ca02c" fill-opacity="0.35" stroke="#2ca02c" stroke-opacity="0.85" stroke-width="0.6"/><path d="M524.9 535.7L526.3 537.7L524.9 539.7L523.5 537.7Z" fill="#2ca02c" fill-opacity="0.35" stroke="#2ca02c" stroke-opacity="0.85" stroke-width="0.6"/><path d="M527 534.1L528.3 536.1L527 538.1L525.6 536.1Z" fill="#2ca02c" fill-opacity="0.35" stroke="#2ca02c" stroke-opacity="0.85" stroke-width="0.6"/><path d="M529 532.6L530.4 534.6L529 536.6L527.6 534.6Z" fill="#2ca02c" fill-opacity="0.35" stroke="#2ca02c" stroke-opacity="0.85" stroke-width="0.6"/><path d="M531 531.1L532.3 533.1L531 535.1L529.6 533.1Z" fill="#2ca02c" fill-opacity="0.35" stroke="#2ca02c" stroke-opacity="0.85" stroke-width="0.6"/><path d="M532.9 529.7L534.3 531.7L532.9 533.7L531.6 531.7Z" fill="#2ca02c" fill-opacity="0.35" stroke="#2ca02c" stroke-opacity="0.85" stroke-width="0.6"/><path d="M534.8 528.3L536.2 530.3L534.8 532.3L533.5 530.3Z" fill="#2ca02c" fill-opacity="0.35" stroke="#2ca02c" stroke-opacity="0.85" stroke-width="0.6"/><path d="M536.7 526.8L538 528.8L536.7 530.8L535.3 528.8Z" fill="#2ca02c" fill-opacity="0.35" stroke="#2ca02c" stroke-opacity="0.85" stroke-width="0.6"/><path d="M538.4 525.4L539.8 527.4L538.4 529.4L537.1 527.4Z" fill="#2ca02c" fill-opacity="0.35" stroke="#2ca02c" stroke-opacity="0.85" stroke-width="0.6"/><path d="M540.2 524L541.5 526L540.2 528L538.8 526Z" fill="#2ca02c" fill-opacity="0.35" stroke="#2ca02c" stroke-opacity="0.85" stroke-width="0.6"/><path d="M541.9 522.6L543.2 524.6L541.9 526.6L540.5 524.6Z" fill="#2ca02c" fill-opacity="0.35" stroke="#2ca02c" stroke-opacity="0.85" stroke-width="0.6"/><path d="M543.6 521.2L544.9 523.2L543.6 525.2L542.2 523.2Z" fill="#2ca02c" fill-opacity="0.35" stroke="#2ca02c" stroke-opacity="0.85" stroke-width="0.6"/><path d="M545.2 519.9L546.6 521.9L545.2 523.9L543.9 521.9Z" fill="#2ca02c" fill-opacity="0.35" stroke="#2ca02c" stroke-opacity="0.85" stroke-width="0.6"/><path d="M546.9 518.5L548.2 520.5L546.9 522.5L545.5 520.5Z" fill="#2ca02c" fill-opacity="0.35" stroke="#2ca02c" stroke-opacity="0.85" stroke-width="0.6"/><path d="M548.5 517.1L549.9 519.1L548.5 521.1L547.1 519.1Z" fill="#2ca02c" fill-opacity="0.35" stroke="#2ca02c" stroke-opacity="0.85" stroke-width="0.6"/><path d="M550.1 515.8L551.5 517.8L550.1 519.8L548.7 517.8Z" fill="#2ca02c" fill-opacity="0.35" stroke="#2ca02c" stroke-opacity="0.85" stroke-width="0.6"/><path d="M551.7 514.5L553.1 516.5L551.7 518.5L550.4 516.5Z" fill="#2ca02c" fill-opacity="0.35" stroke="#2ca02c" stroke-opacity="0.85" stroke-width="0.6"/><path d="M553.6 513.6L554.9 515.6L553.6 517.6L552.2 515.6Z" fill="#2ca02c" fill-opacity="0.35" stroke="#2ca02c" stroke-opacity="0.85" stroke-width="0.6"/><path d="M555.4 512.6L556.7 514.6L555.4 516.6L554 514.6Z" fill="#2ca02c" fill-opacity="0.35" stroke="#2ca02c" stroke-opacity="0.85" stroke-width="0.6"/><path d="M557.2 511.7L558.5 513.7L557.2 515.7L555.8 513.7Z" fill="#2ca02c" fill-opacity="0.35" stroke="#2ca02c" stroke-opacity="0.85" stroke-width="0.6"/><path d="M558.9 510.8L560.3 512.8L558.9 514.8L557.6 512.8Z" fill="#2ca02c" fill-opacity="0.35" stroke="#2ca02c" stroke-opacity="0.85" stroke-width="0.6"/><path d="M560.5 509.7L561.9 511.7L560.5 513.7L559.2 511.7Z" fill="#2ca02c" fill-opacity="0.35" stroke="#2ca02c" stroke-opacity="0.85" stroke-width="0.6"/><path d="M562.1 508.6L563.5 510.6L562.1 512.6L560.8 510.6Z" fill="#2ca02c" fill-opacity="0.35" stroke="#2ca02c" stroke-opacity="0.85" stroke-width="0.6"/><path d="M563.7 507.4L565.1 509.4L563.7 511.4L562.3 509.4Z" fill="#2ca02c" fill-opacity="0.35" stroke="#2ca02c" stroke-opacity="0.85" stroke-width="0.6"/><path d="M565.2 506.3L566.6 508.3L565.2 510.3L563.9 508.3Z" fill="#2ca02c" fill-opacity="0.35" stroke="#2ca02c" stroke-opacity="0.85" stroke-width="0.6"/><path d="M566.8 505.2L568.1 507.2L566.8 509.2L565.4 507.2Z" fill="#2ca02c" fill-opacity="0.35" stroke="#2ca02c" stroke-opacity="0.85" stroke-width="0.6"/><path d="M568.2 504L569.6 506L568.2 508L566.8 506Z" fill="#2ca02c" fill-opacity="0.35" stroke="#2ca02c" stroke-opacity="0.85" stroke-width="0.6"/><path d="M569.4 502.6L570.8 504.6L569.4 506.6L568.1 504.6Z" fill="#2ca02c" fill-opacity="0.35" stroke="#2ca02c" stroke-opacity="0.85" stroke-width="0.6"/><path d="M570.6 501.2L572 503.2L570.6 505.2L569.3 503.2Z" fill="#2ca02c" fill-opacity="0.35" stroke="#2ca02c" stroke-opacity="0.85" stroke-width="0.6"/><path d="M571.8 499.9L573.2 501.9L571.8 503.9L570.5 501.9Z" fill="#2ca02c" fill-opacity="0.35" stroke="#2ca02c" stroke-opacity="0.85" stroke-width="0.6"/><path d="M573 498.5L574.4 500.5L573 502.5L571.6 500.5Z" fill="#2ca02c" fill-opacity="0.35" stroke="#2ca02c" stroke-opacity="0.85" stroke-width="0.6"/><path d="M574.2 497.1L575.5 499.1L574.2 501.1L572.8 499.1Z" fill="#2ca02c" fill-opacity="0.35" stroke="#2ca02c" stroke-opacity="0.85" stroke-width="0.6"/><path d="M575.3 495.8L576.7 497.8L575.3 499.8L574 497.8Z" fill="#2ca02c" fill-opacity="0.35" stroke="#2ca02c" stroke-opacity="0.85" stroke-width="0.6"/><path d="M576.5 494.5L577.9 496.5L576.5 498.5L575.2 496.5Z" fill="#2ca02c" fill-opacity="0.35" stroke="#2ca02c" stroke-opacity="0.85" stroke-width="0.6"/><path d="M577.7 493.2L579.1 495.2L577.7 497.2L576.3 495.2Z" fill="#2ca02c" fill-opacity="0.35" stroke="#2ca02c" stroke-opacity="0.85" stroke-width="0.6"/><path d="M578.9 491.9L580.2 493.9L578.9 495.9L577.5 493.9Z" fill="#2ca02c" fill-opacity="0.35" stroke="#2ca02c" stroke-opacity="0.85" stroke-width="0.6"/><path d="M580 490.6L581.4 492.6L580 494.6L578.7 492.6Z" fill="#2ca02c" fill-opacity="0.35" stroke="#2ca02c" stroke-opacity="0.85" stroke-width="0.6"/><path d="M580.9 489.2L582.3 491.2L580.9 493.2L579.6 491.2Z" fill="#2ca02c" fill-opacity="0.35" stroke="#2ca02c" stroke-opacity="0.85" stroke-width="0.6"/><path d="M581.8 487.7L583.1 489.7L581.8 491.7L580.4 489.7Z" fill="#2ca02c" fill-opacity="0.35" stroke="#2ca02c" stroke-opacity="0.85" stroke-width="0.6"/><path d="M582.7 486.3L584 488.3L582.7 490.3L581.3 488.3Z" fill="#2ca02c" fill-opacity="0.35" stroke="#2ca02c" stroke-opacity="0.85" stroke-width="0.6"/><path d="M583.5 484.8L584.9 486.8L583.5 488.8L582.2 486.8Z" fill="#2ca02c" fill-opacity="0.35" stroke="#2ca02c" stroke-opacity="0.85" stroke-width="0.6"/><path d="M584.4 483.4L585.7 485.4L584.4 487.4L583 485.4Z" fill="#2ca02c" fill-opacity="0.35" stroke="#2ca02c" stroke-opacity="0.85" stroke-width="0.6"/><path d="M585.2 482L586.6 484L585.2 486L583.9 484Z" fill="#2ca02c" fill-opacity="0.35" stroke="#2ca02c" stroke-opacity="0.85" stroke-width="0.6"/><path d="M586.1 480.6L587.4 482.6L586.1 484.6L584.7 482.6Z" fill="#2ca02c" fill-opacity="0.35" stroke="#2ca02c" stroke-opacity="0.85" stroke-width="0.6"/><path d="M586.9 479.2L588.3 481.2L586.9 483.2L585.5 481.2Z" fill="#2ca02c" fill-opacity="0.35" stroke="#2ca02c" stroke-opacity="0.85" stroke-width="0.6"/><path d="M587.7 477.8L589.1 479.8L587.7 481.8L586.3 479.8Z" fill="#2ca02c" fill-opacity="0.35" stroke="#2ca02c" stroke-opacity="0.85" stroke-width="0.6"/><path d="M588.3 476.3L589.7 478.3L588.3 480.3L587 478.3Z" fill="#2ca02c" fill-opacity="0.35" stroke="#2ca02c" stroke-opacity="0.85" stroke-width="0.6"/><path d="M588.9 474.8L590.3 476.8L588.9 478.8L587.6 476.8Z" fill="#2ca02c" fill-opacity="0.35" stroke="#2ca02c" stroke-opacity="0.85" stroke-width="0.6"/><path d="M589.6 473.3L590.9 475.3L589.6 477.3L588.2 475.3Z" fill="#2ca02c" fill-opacity="0.35" stroke="#2ca02c" stroke-opacity="0.85" stroke-width="0.6"/><path d="M590.2 471.8L591.5 473.8L590.2 475.8L588.8 473.8Z" fill="#2ca02c" fill-opacity="0.35" stroke="#2ca02c" stroke-opacity="0.85" stroke-width="0.6"/><path d="M590.8 470.4L592.1 472.4L590.8 474.4L589.4 472.4Z" fill="#2ca02c" fill-opacity="0.35" stroke="#2ca02c" stroke-opacity="0.85" stroke-width="0.6"/><path d="M591.4 468.9L592.8 470.9L591.4 472.9L590 470.9Z" fill="#2ca02c" fill-opacity="0.35" stroke="#2ca02c" stroke-opacity="0.85" stroke-width="0.6"/><path d="M592 467.5L593.4 469.5L592 471.5L590.6 469.5Z" fill="#2ca02c" fill-opacity="0.35" stroke="#2ca02c" stroke-opacity="0.85" stroke-width="0.6"/><path d="M592.6 466L594 468L592.6 470L591.2 468Z" fill="#2ca02c" fill-opacity="0.35" stroke="#2ca02c" stroke-opacity="0.85" stroke-width="0.6"/><path d="M593.4 464.7L594.7 466.7L593.4 468.7L592 466.7Z" fill="#2ca02c" fill-opacity="0.35" stroke="#2ca02c" stroke-opacity="0.85" stroke-width="0.6"/><path d="M594.2 463.4L595.6 465.4L594.2 467.4L592.8 465.4Z" fill="#2ca02c" fill-opacity="0.35" stroke="#2ca02c" stroke-opacity="0.85" stroke-width="0.6"/><path d="M595 462.1L596.4 464.1L595 466.1L593.6 464.1Z" fill="#2ca02c" fill-opacity="0.35" stroke="#2ca02c" stroke-opacity="0.85" stroke-width="0.6"/><path d="M595.8 460.8L597.2 462.8L595.8 464.8L594.4 462.8Z" fill="#2ca02c" fill-opacity="0.35" stroke="#2ca02c" stroke-opacity="0.85" stroke-width="0.6"/><path d="M596.2 459.3L597.5 461.3L596.2 463.3L594.8 461.3Z" fill="#2ca02c" fill-opacity="0.35" stroke="#2ca02c" stroke-opacity="0.85" stroke-width="0.6"/><path d="M596.5 457.8L597.9 459.8L596.5 461.8L595.2 459.8Z" fill="#2ca02c" fill-opacity="0.35" stroke="#2ca02c" stroke-opacity="0.85" stroke-width="0.6"/><path d="M596.9 456.4L598.3 458.4L596.9 460.4L595.6 458.4Z" fill="#2ca02c" fill-opacity="0.35" stroke="#2ca02c" stroke-opacity="0.85" stroke-width="0.6"/><path d="M597.3 454.9L598.6 456.9L597.3 458.9L595.9 456.9Z" fill="#2ca02c" fill-opacity="0.35" stroke="#2ca02c" stroke-opacity="0.85" stroke-width="0.6"/><path d="M597.7 453.5L599 455.5L597.7 457.5L596.3 455.5Z" fill="#2ca02c" fill-opacity="0.35" stroke="#2ca02c" stroke-opacity="0.85" stroke-width="0.6"/>
</g>
<rect x="372.3" y="349.4" width="266.9" height="265.8" fill="none" stroke="#262626" stroke-width="1.1"/>
<line x1="412.4" y1="615.2" x2="412.4" y2="617.2" stroke="#262626" stroke-width="0.9"/>
<text x="412.4" y="624" font-size="6.4" text-anchor="middle" fill="#333">0.4</text>
<line x1="453.6" y1="615.2" x2="453.6" y2="617.2" stroke="#262626" stroke-width="0.9"/>
<text x="453.6" y="624" font-size="6.4" text-anchor="middle" fill="#333">0.5</text>
<line x1="494.8" y1="615.2" x2="494.8" y2="617.2" stroke="#262626" stroke-width="0.9"/>
<text x="494.8" y="624" font-size="6.4" text-anchor="middle" fill="#333">0.6</text>
<line x1="536" y1="615.2" x2="536" y2="617.2" stroke="#262626" stroke-width="0.9"/>
<text x="536" y="624" font-size="6.4" text-anchor="middle" fill="#333">0.7</text>
<line x1="577.2" y1="615.2" x2="577.2" y2="617.2" stroke="#262626" stroke-width="0.9"/>
<text x="577.2" y="624" font-size="6.4" text-anchor="middle" fill="#333">0.8</text>
<line x1="618.4" y1="615.2" x2="618.4" y2="617.2" stroke="#262626" stroke-width="0.9"/>
<text x="618.4" y="624" font-size="6.4" text-anchor="middle" fill="#333">0.9</text>
<line x1="370.3" y1="586.6" x2="372.3" y2="586.6" stroke="#262626" stroke-width="0.9"/>
<text x="367.8" y="588.9" font-size="6.4" text-anchor="end" fill="#333">0.3</text>
<line x1="370.3" y1="550.9" x2="372.3" y2="550.9" stroke="#262626" stroke-width="0.9"/>
<text x="367.8" y="553.2" font-size="6.4" text-anchor="end" fill="#333">0.4</text>
<line x1="370.3" y1="515.1" x2="372.3" y2="515.1" stroke="#262626" stroke-width="0.9"/>
<text x="367.8" y="517.4" font-size="6.4" text-anchor="end" fill="#333">0.5</text>
<line x1="370.3" y1="479.4" x2="372.3" y2="479.4" stroke="#262626" stroke-width="0.9"/>
<text x="367.8" y="481.7" font-size="6.4" text-anchor="end" fill="#333">0.6</text>
<line x1="370.3" y1="443.6" x2="372.3" y2="443.6" stroke="#262626" stroke-width="0.9"/>
<text x="367.8" y="445.9" font-size="6.4" text-anchor="end" fill="#333">0.7</text>
<line x1="370.3" y1="407.9" x2="372.3" y2="407.9" stroke="#262626" stroke-width="0.9"/>
<text x="367.8" y="410.2" font-size="6.4" text-anchor="end" fill="#333">0.8</text>
<line x1="370.3" y1="372.1" x2="372.3" y2="372.1" stroke="#262626" stroke-width="0.9"/>
<text x="367.8" y="374.4" font-size="6.4" text-anchor="end" fill="#333">0.9</text>
<text transform="translate(7.8,133.5) rotate(-90)" font-size="9.2" text-anchor="middle" fill="#333" textLength="102" lengthAdjust="spacingAndGlyphs">Actual FDR (1-Precision)</text>
<text x="155" y="285" font-size="9.2" text-anchor="middle" fill="#333" textLength="97.5" lengthAdjust="spacingAndGlyphs">Target FDR (1-Precision)</text>
<text transform="translate(358.5,133.3) rotate(-90)" font-size="9.2" text-anchor="middle" fill="#333" textLength="104.5" lengthAdjust="spacingAndGlyphs">Actual FDR<tspan font-size="6" dy="1.8">d</tspan><tspan dy="-1.8"> (1-Precision)</tspan></text>
<text x="505.7" y="285" font-size="9.2" text-anchor="middle" fill="#333" textLength="97.5" lengthAdjust="spacingAndGlyphs">Target FDR (1-Precision)</text>
<text transform="translate(7.8,481.8) rotate(-90)" font-size="9.2" text-anchor="middle" fill="#333" textLength="57" lengthAdjust="spacingAndGlyphs">Power (Recall)</text>
<text x="155" y="632.5" font-size="9.2" text-anchor="middle" fill="#333" textLength="97.5" lengthAdjust="spacingAndGlyphs">Target FDR (1-Precision)</text>
<text transform="translate(355.5,482) rotate(-90)" font-size="9.8" text-anchor="middle" fill="#333" textLength="59" lengthAdjust="spacingAndGlyphs">Power (Recall)</text>
<text x="505.6" y="634.5" font-size="9.8" text-anchor="middle" fill="#333" textLength="75" lengthAdjust="spacingAndGlyphs">FDR (1-Precision)</text>
<rect x="223.5" y="223.5" width="62.1" height="40.9" rx="1.5" fill="#fff" fill-opacity="0.85" stroke="#d9d9d9" stroke-width="0.7"/>
<line x1="226.3" y1="228.8" x2="240.6" y2="228.8" stroke="#ff7f0e" stroke-width="1.25" stroke-opacity="0.85"/>
<circle cx="233.4" cy="228.8" r="1.8" fill="#ff7f0e" fill-opacity="0.45" stroke="#ff7f0e" stroke-opacity="0.9" stroke-width="0.7"/>
<text x="245.6" y="231.1" font-size="6.9" fill="#333" textLength="30.5" lengthAdjust="spacingAndGlyphs">DecayLord</text>
<line x1="226.3" y1="238.6" x2="240.6" y2="238.6" stroke="#d62728" stroke-width="1.25" stroke-opacity="0.85"/>
<circle cx="233.4" cy="238.6" r="1.4400000000000002" fill="#d62728" fill-opacity="0.9"/>
<text x="245.6" y="240.9" font-size="6.9" fill="#333" textLength="37" lengthAdjust="spacingAndGlyphs">DecaySaffron</text>
<line x1="226.3" y1="248.5" x2="240.6" y2="248.5" stroke="#1f77b4" stroke-width="1.25" stroke-opacity="0.85"/>
<circle cx="233.4" cy="248.5" r="1.8" fill="#1f77b4" fill-opacity="0.45" stroke="#1f77b4" stroke-opacity="0.9" stroke-width="0.7"/>
<text x="245.6" y="250.8" font-size="6.9" fill="#333" textLength="13.5" lengthAdjust="spacingAndGlyphs">Lord</text>
<line x1="226.3" y1="258.4" x2="240.6" y2="258.4" stroke="#2ca02c" stroke-width="1.25" stroke-opacity="0.85"/>
<path d="M233.4 256.1L235 258.4L233.4 260.6L231.9 258.4Z" fill="#2ca02c" fill-opacity="0.45" stroke="#2ca02c" stroke-opacity="0.9" stroke-width="0.7"/>
<text x="245.6" y="260.7" font-size="6.9" fill="#333" textLength="20.5" lengthAdjust="spacingAndGlyphs">Saffron</text>
<rect x="574.4" y="223.5" width="61.6" height="40.9" rx="1.5" fill="#fff" fill-opacity="0.85" stroke="#d9d9d9" stroke-width="0.7"/>
<line x1="577.2" y1="228.8" x2="591.5" y2="228.8" stroke="#ff7f0e" stroke-width="1.25" stroke-opacity="0.85"/>
<circle cx="584.4" cy="228.8" r="1.8" fill="#ff7f0e" fill-opacity="0.45" stroke="#ff7f0e" stroke-opacity="0.9" stroke-width="0.7"/>
<text x="596.5" y="231.1" font-size="6.9" fill="#333" textLength="30.5" lengthAdjust="spacingAndGlyphs">DecayLord</text>
<line x1="577.2" y1="238.6" x2="591.5" y2="238.6" stroke="#d62728" stroke-width="1.25" stroke-opacity="0.85"/>
<circle cx="584.4" cy="238.6" r="1.4400000000000002" fill="#d62728" fill-opacity="0.9"/>
<text x="596.5" y="240.9" font-size="6.9" fill="#333" textLength="37" lengthAdjust="spacingAndGlyphs">DecaySaffron</text>
<line x1="577.2" y1="248.5" x2="591.5" y2="248.5" stroke="#1f77b4" stroke-width="1.25" stroke-opacity="0.85"/>
<circle cx="584.4" cy="248.5" r="1.8" fill="#1f77b4" fill-opacity="0.45" stroke="#1f77b4" stroke-opacity="0.9" stroke-width="0.7"/>
<text x="596.5" y="250.8" font-size="6.9" fill="#333" textLength="13.5" lengthAdjust="spacingAndGlyphs">Lord</text>
<line x1="577.2" y1="258.4" x2="591.5" y2="258.4" stroke="#2ca02c" stroke-width="1.25" stroke-opacity="0.85"/>
<path d="M584.4 256.1L585.9 258.4L584.4 260.6L582.8 258.4Z" fill="#2ca02c" fill-opacity="0.45" stroke="#2ca02c" stroke-opacity="0.9" stroke-width="0.7"/>
<text x="596.5" y="260.7" font-size="6.9" fill="#333" textLength="20.5" lengthAdjust="spacingAndGlyphs">Saffron</text>
<rect x="223.5" y="570.6" width="62.5" height="40.7" rx="1.5" fill="#fff" fill-opacity="0.85" stroke="#d9d9d9" stroke-width="0.7"/>
<line x1="226.3" y1="576" x2="240.6" y2="576" stroke="#ff7f0e" stroke-width="1.25" stroke-opacity="0.85"/>
<circle cx="233.4" cy="576" r="1.8" fill="#ff7f0e" fill-opacity="0.45" stroke="#ff7f0e" stroke-opacity="0.9" stroke-width="0.7"/>
<text x="245.6" y="578.3" font-size="6.9" fill="#333" textLength="30.5" lengthAdjust="spacingAndGlyphs">DecayLord</text>
<line x1="226.3" y1="586" x2="240.6" y2="586" stroke="#d62728" stroke-width="1.25" stroke-opacity="0.85"/>
<circle cx="233.4" cy="586" r="1.4400000000000002" fill="#d62728" fill-opacity="0.9"/>
<text x="245.6" y="588.3" font-size="6.9" fill="#333" textLength="37" lengthAdjust="spacingAndGlyphs">DecaySaffron</text>
<line x1="226.3" y1="595.8" x2="240.6" y2="595.8" stroke="#1f77b4" stroke-width="1.25" stroke-opacity="0.85"/>
<circle cx="233.4" cy="595.8" r="1.8" fill="#1f77b4" fill-opacity="0.45" stroke="#1f77b4" stroke-opacity="0.9" stroke-width="0.7"/>
<text x="245.6" y="598.1" font-size="6.9" fill="#333" textLength="13.5" lengthAdjust="spacingAndGlyphs">Lord</text>
<line x1="226.3" y1="605.6" x2="240.6" y2="605.6" stroke="#2ca02c" stroke-width="1.25" stroke-opacity="0.85"/>
<path d="M233.4 603.4L235 605.6L233.4 607.9L231.9 605.6Z" fill="#2ca02c" fill-opacity="0.45" stroke="#2ca02c" stroke-opacity="0.9" stroke-width="0.7"/>
<text x="245.6" y="607.9" font-size="6.9" fill="#333" textLength="20.5" lengthAdjust="spacingAndGlyphs">Saffron</text>
<rect x="561.5" y="556.6" width="74.5" height="54.8" rx="1.5" fill="#fff" fill-opacity="0.85" stroke="#d9d9d9" stroke-width="0.7"/>
<line x1="564" y1="562.2" x2="579.8" y2="562.2" stroke="#000" stroke-width="1.25" stroke-opacity="0.85"/>
<path d="M569.9 560.2L573.9 564.2M569.9 564.2L573.9 560.2" stroke="#000" stroke-opacity="0.9" stroke-width="0.8"/>
<text x="585.2" y="564.6" font-size="7.4" fill="#333" textLength="47" lengthAdjust="spacingAndGlyphs">FixedThreshold</text>
<line x1="564" y1="573.2" x2="579.8" y2="573.2" stroke="#ff7f0e" stroke-width="1.25" stroke-opacity="0.85"/>
<rect x="569.9" y="571.2" width="4" height="4" fill="#ff7f0e" fill-opacity="0.45" stroke="#ff7f0e" stroke-opacity="0.9" stroke-width="0.7"/>
<text x="585.2" y="575.6" font-size="7.4" fill="#333" textLength="33" lengthAdjust="spacingAndGlyphs">DecayLord</text>
<line x1="564" y1="583.6" x2="579.8" y2="583.6" stroke="#d62728" stroke-width="1.25" stroke-opacity="0.85"/>
<circle cx="571.9" cy="583.6" r="1.6" fill="#d62728" fill-opacity="0.9"/>
<text x="585.2" y="586" font-size="7.4" fill="#333" textLength="40" lengthAdjust="spacingAndGlyphs">DecaySaffron</text>
<line x1="564" y1="594.1" x2="579.8" y2="594.1" stroke="#1f77b4" stroke-width="1.25" stroke-opacity="0.85"/>
<circle cx="571.9" cy="594.1" r="2.0" fill="#1f77b4" fill-opacity="0.45" stroke="#1f77b4" stroke-opacity="0.9" stroke-width="0.7"/>
<text x="585.2" y="596.5" font-size="7.4" fill="#333" textLength="15" lengthAdjust="spacingAndGlyphs">Lord</text>
<line x1="564" y1="605" x2="579.8" y2="605" stroke="#2ca02c" stroke-width="1.25" stroke-opacity="0.85"/>
<path d="M571.9 602.5L573.6 605L571.9 607.5L570.2 605Z" fill="#2ca02c" fill-opacity="0.45" stroke="#2ca02c" stroke-opacity="0.9" stroke-width="0.7"/>
<text x="585.2" y="607.4" font-size="7.4" fill="#333" textLength="22" lengthAdjust="spacingAndGlyphs">Saffron</text>
</svg></body></html>
